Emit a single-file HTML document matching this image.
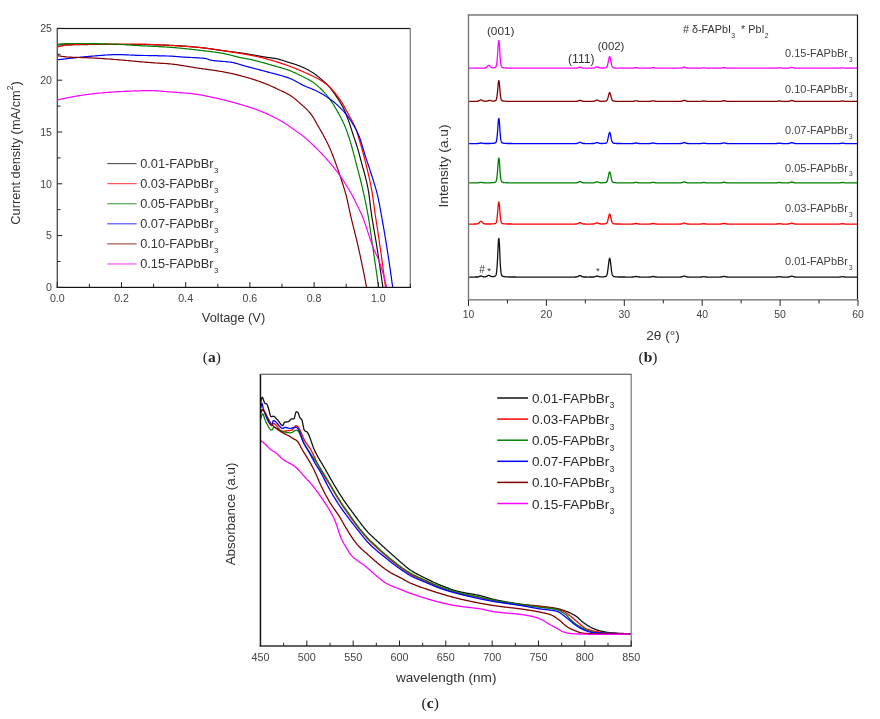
<!DOCTYPE html><html><head><meta charset="utf-8"><style>html,body{margin:0;padding:0;background:#fff;}svg{display:block;will-change:transform;filter:blur(0.3px);}</style></head><body>
<svg width="880" height="719" viewBox="0 0 880 719">
<rect width="880" height="719" fill="#fff"/>
<polyline points="57.5,45.0 58.0,45.0 58.5,45.0 59.0,45.0 59.5,45.0 60.0,45.0 60.5,44.9 61.0,44.9 61.5,44.9 62.0,44.9 62.5,44.9 63.0,44.9 63.5,44.9 64.0,44.9 64.5,44.9 65.0,44.9 65.5,44.9 66.0,44.8 66.5,44.8 67.0,44.8 67.5,44.8 68.0,44.8 68.5,44.8 69.0,44.8 69.5,44.8 70.0,44.8 70.5,44.8 71.0,44.8 71.5,44.8 72.0,44.8 72.5,44.7 73.0,44.7 73.5,44.7 74.0,44.7 74.5,44.7 75.0,44.7 75.5,44.7 76.0,44.7 76.5,44.7 77.0,44.7 77.5,44.7 78.0,44.7 78.5,44.7 79.0,44.7 79.5,44.6 80.0,44.6 80.5,44.6 81.0,44.6 81.5,44.6 82.0,44.6 82.5,44.6 83.0,44.6 83.5,44.6 84.0,44.6 84.5,44.6 85.0,44.6 85.5,44.6 86.0,44.6 86.5,44.6 87.0,44.6 87.5,44.6 88.0,44.6 88.5,44.5 89.0,44.5 89.5,44.5 90.0,44.5 90.5,44.5 91.0,44.5 91.5,44.5 92.0,44.5 92.5,44.5 93.0,44.5 93.5,44.5 94.0,44.5 94.5,44.5 95.0,44.5 95.5,44.5 96.0,44.5 96.5,44.5 97.0,44.5 97.5,44.5 98.0,44.5 98.5,44.5 99.0,44.5 99.5,44.5 100.0,44.5 100.5,44.5 101.0,44.5 101.5,44.5 102.0,44.5 102.5,44.5 103.0,44.5 103.5,44.5 104.0,44.5 104.5,44.5 105.0,44.5 105.5,44.5 106.0,44.5 106.5,44.5 107.0,44.5 107.5,44.5 108.0,44.5 108.5,44.5 109.0,44.5 109.5,44.5 110.0,44.5 110.5,44.5 111.0,44.5 111.5,44.5 112.0,44.5 112.5,44.5 113.0,44.5 113.5,44.5 114.0,44.5 114.5,44.5 115.0,44.5 115.5,44.5 116.0,44.5 116.5,44.5 117.0,44.5 117.5,44.5 118.0,44.5 118.5,44.5 119.0,44.5 119.5,44.5 120.0,44.5 120.5,44.5 121.0,44.5 121.5,44.5 122.0,44.5 122.5,44.5 123.0,44.5 123.5,44.5 124.0,44.5 124.5,44.5 125.0,44.5 125.5,44.5 126.0,44.5 126.5,44.5 127.0,44.5 127.5,44.5 128.0,44.5 128.5,44.5 129.0,44.5 129.5,44.5 130.0,44.5 130.5,44.5 131.0,44.5 131.5,44.5 132.0,44.5 132.5,44.5 133.0,44.5 133.5,44.5 134.0,44.5 134.5,44.5 135.0,44.5 135.5,44.5 136.0,44.5 136.5,44.5 137.0,44.5 137.5,44.5 138.0,44.5 138.5,44.5 139.0,44.5 139.5,44.5 140.0,44.5 140.5,44.5 141.0,44.5 141.5,44.5 142.0,44.5 142.5,44.5 143.0,44.5 143.5,44.5 144.0,44.5 144.5,44.6 145.0,44.6 145.5,44.6 146.0,44.6 146.5,44.6 147.0,44.6 147.5,44.6 148.0,44.6 148.5,44.6 149.0,44.6 149.5,44.6 150.0,44.7 150.5,44.7 151.0,44.7 151.5,44.7 152.0,44.7 152.5,44.7 153.0,44.7 153.5,44.7 154.0,44.8 154.5,44.8 155.0,44.8 155.5,44.8 156.0,44.8 156.5,44.8 157.0,44.9 157.5,44.9 158.0,44.9 158.5,44.9 159.0,44.9 159.5,44.9 160.0,44.9 160.5,45.0 161.0,45.0 161.5,45.0 162.0,45.0 162.5,45.0 163.0,45.0 163.5,45.1 164.0,45.1 164.5,45.1 165.0,45.1 165.5,45.1 166.0,45.2 166.5,45.2 167.0,45.2 167.5,45.2 168.0,45.2 168.5,45.2 169.0,45.3 169.5,45.3 170.0,45.3 170.5,45.3 171.0,45.3 171.5,45.4 172.0,45.4 172.5,45.4 173.0,45.4 173.5,45.4 174.0,45.5 174.5,45.5 175.0,45.5 175.5,45.5 176.0,45.6 176.5,45.6 177.0,45.6 177.5,45.7 178.0,45.7 178.5,45.7 179.0,45.7 179.5,45.8 180.0,45.8 180.5,45.8 181.0,45.9 181.5,45.9 182.0,45.9 182.5,46.0 183.0,46.0 183.5,46.1 184.0,46.1 184.5,46.1 185.0,46.2 185.5,46.2 186.0,46.2 186.5,46.3 187.0,46.3 187.5,46.4 188.0,46.4 188.5,46.4 189.0,46.5 189.5,46.5 190.0,46.6 190.5,46.6 191.0,46.6 191.5,46.7 192.0,46.7 192.5,46.8 193.0,46.8 193.5,46.9 194.0,46.9 194.5,46.9 195.0,47.0 195.5,47.0 196.0,47.1 196.5,47.1 197.0,47.2 197.5,47.2 198.0,47.3 198.5,47.3 199.0,47.4 199.5,47.4 200.0,47.5 200.5,47.5 201.0,47.6 201.5,47.6 202.0,47.7 202.5,47.7 203.0,47.8 203.5,47.9 204.0,47.9 204.5,48.0 205.0,48.0 205.5,48.1 206.0,48.2 206.5,48.2 207.0,48.3 207.5,48.4 208.0,48.4 208.5,48.5 209.0,48.6 209.5,48.6 210.0,48.7 210.5,48.8 211.0,48.9 211.5,48.9 212.0,49.0 212.5,49.1 213.0,49.1 213.5,49.2 214.0,49.3 214.5,49.4 215.0,49.4 215.5,49.5 216.0,49.6 216.5,49.7 217.0,49.7 217.5,49.8 218.0,49.9 218.5,49.9 219.0,50.0 219.5,50.1 220.0,50.2 220.5,50.2 221.0,50.3 221.5,50.4 222.0,50.4 222.5,50.5 223.0,50.6 223.5,50.7 224.0,50.7 224.5,50.8 225.0,50.9 225.5,50.9 226.0,51.0 226.5,51.1 227.0,51.1 227.5,51.2 228.0,51.3 228.5,51.3 229.0,51.4 229.5,51.5 230.0,51.5 230.5,51.6 231.0,51.7 231.5,51.7 232.0,51.8 232.5,51.8 233.0,51.9 233.5,52.0 234.0,52.0 234.5,52.1 235.0,52.2 235.5,52.2 236.0,52.3 236.5,52.4 237.0,52.5 237.5,52.5 238.0,52.6 238.5,52.7 239.0,52.7 239.5,52.8 240.0,52.9 240.5,52.9 241.0,53.0 241.5,53.1 242.0,53.2 242.5,53.2 243.0,53.3 243.5,53.4 244.0,53.4 244.5,53.5 245.0,53.6 245.5,53.7 246.0,53.8 246.5,53.8 247.0,53.9 247.5,54.0 248.0,54.1 248.5,54.2 249.0,54.2 249.5,54.3 250.0,54.4 250.5,54.5 251.0,54.6 251.5,54.7 252.0,54.8 252.5,54.8 253.0,54.9 253.5,55.0 254.0,55.1 254.5,55.2 255.0,55.3 255.5,55.4 256.0,55.5 256.5,55.6 257.0,55.7 257.5,55.7 258.0,55.8 258.5,55.9 259.0,56.0 259.5,56.1 260.0,56.2 260.5,56.3 261.0,56.4 261.5,56.4 262.0,56.5 262.5,56.6 263.0,56.7 263.5,56.8 264.0,56.9 264.5,56.9 265.0,57.0 265.5,57.1 266.0,57.2 266.5,57.3 267.0,57.3 267.5,57.4 268.0,57.5 268.5,57.5 269.0,57.6 269.5,57.7 270.0,57.7 270.5,57.8 271.0,57.9 271.5,57.9 272.0,58.0 272.5,58.1 273.0,58.1 273.5,58.2 274.0,58.3 274.5,58.4 275.0,58.4 275.5,58.5 276.0,58.6 276.5,58.7 277.0,58.8 277.5,58.9 278.0,59.0 278.5,59.2 279.0,59.3 279.5,59.4 280.0,59.6 280.5,59.7 281.0,59.9 281.5,60.0 282.0,60.2 282.5,60.3 283.0,60.5 283.5,60.7 284.0,60.8 284.5,61.0 285.0,61.2 285.5,61.3 286.0,61.5 286.5,61.7 287.0,61.8 287.5,62.0 288.0,62.2 288.5,62.3 289.0,62.5 289.5,62.6 290.0,62.8 290.5,63.0 291.0,63.1 291.5,63.2 292.0,63.4 292.5,63.5 293.0,63.7 293.5,63.8 294.0,64.0 294.5,64.1 295.0,64.3 295.5,64.5 296.0,64.6 296.5,64.8 297.0,65.0 297.5,65.2 298.0,65.4 298.5,65.5 299.0,65.7 299.5,65.9 300.0,66.1 300.5,66.3 301.0,66.5 301.5,66.7 302.0,66.9 302.5,67.2 303.0,67.4 303.5,67.6 304.0,67.8 304.5,68.1 305.0,68.3 305.5,68.5 306.0,68.8 306.5,69.0 307.0,69.3 307.5,69.6 308.0,69.8 308.5,70.1 309.0,70.4 309.5,70.7 310.0,71.0 310.5,71.2 311.0,71.5 311.5,71.9 312.0,72.2 312.5,72.5 313.0,72.8 313.5,73.1 314.0,73.5 314.5,73.8 315.0,74.2 315.5,74.5 316.0,74.9 316.5,75.3 317.0,75.7 317.5,76.1 318.0,76.5 318.5,76.9 319.0,77.3 319.5,77.7 320.0,78.2 320.5,78.6 321.0,79.0 321.5,79.4 322.0,79.9 322.5,80.3 323.0,80.7 323.5,81.2 324.0,81.6 324.5,82.0 325.0,82.5 325.5,83.0 326.0,83.4 326.5,83.9 327.0,84.4 327.5,84.9 328.0,85.4 328.5,86.0 329.0,86.5 329.5,87.1 330.0,87.7 330.5,88.3 331.0,88.9 331.5,89.6 332.0,90.2 332.5,90.9 333.0,91.6 333.5,92.3 334.0,93.0 334.5,93.7 335.0,94.4 335.5,95.2 336.0,95.9 336.5,96.7 337.0,97.4 337.5,98.2 338.0,98.9 338.5,99.7 339.0,100.4 339.5,101.2 340.0,102.0 340.5,102.9 341.0,103.7 341.5,104.6 342.0,105.4 342.5,106.4 343.0,107.3 343.5,108.3 344.0,109.3 344.5,110.4 345.0,111.5 345.5,112.7 346.0,114.0 346.5,115.2 347.0,116.6 347.5,117.9 348.0,119.3 348.5,120.6 349.0,122.0 349.5,123.4 350.0,124.9 350.5,126.5 351.0,128.0 351.5,129.6 352.0,131.2 352.5,132.8 353.0,134.4 353.5,135.9 354.0,137.4 354.5,138.9 355.0,140.3 355.5,141.8 356.0,143.3 356.5,144.8 357.0,146.4 357.5,148.0 358.0,149.7 358.5,151.4 359.0,153.2 359.5,155.1 360.0,157.0 360.5,158.9 361.0,160.8 361.5,162.7 362.0,164.5 362.5,166.4 363.0,168.1 363.5,169.9 364.0,171.7 364.5,173.5 365.0,175.3 365.5,177.3 366.0,179.3 366.5,181.4 367.0,183.6 367.5,186.0 368.0,188.5 368.5,191.3 369.0,194.7 369.5,198.5 370.0,202.6 370.5,206.7 371.0,210.6 371.5,214.3 372.0,217.6 372.5,220.8 373.0,223.9 373.5,226.8 374.0,229.7 374.5,232.6 375.0,235.5 375.5,238.4 376.0,241.4 376.5,244.4 377.0,247.6 377.5,250.8 378.0,254.0 378.5,257.3 379.0,260.6 379.5,263.9 380.0,267.3 380.5,270.7 381.0,274.1 381.5,277.5 382.0,281.0 382.5,284.6 382.9,287.4" fill="none" stroke="#111111" stroke-width="1.2" stroke-linejoin="round" />
<polyline points="57.5,46.9 58.0,46.8 58.5,46.7 59.0,46.5 59.5,46.4 60.0,46.3 60.5,46.2 61.0,46.1 61.5,45.9 62.0,45.8 62.5,45.7 63.0,45.6 63.5,45.5 64.0,45.4 64.5,45.3 65.0,45.2 65.5,45.1 66.0,45.1 66.5,45.0 67.0,44.9 67.5,44.9 68.0,44.8 68.5,44.8 69.0,44.8 69.5,44.8 70.0,44.7 70.5,44.7 71.0,44.7 71.5,44.7 72.0,44.6 72.5,44.6 73.0,44.6 73.5,44.6 74.0,44.6 74.5,44.5 75.0,44.5 75.5,44.5 76.0,44.5 76.5,44.5 77.0,44.4 77.5,44.4 78.0,44.4 78.5,44.4 79.0,44.4 79.5,44.4 80.0,44.3 80.5,44.3 81.0,44.3 81.5,44.3 82.0,44.3 82.5,44.3 83.0,44.3 83.5,44.2 84.0,44.2 84.5,44.2 85.0,44.2 85.5,44.2 86.0,44.2 86.5,44.2 87.0,44.2 87.5,44.2 88.0,44.2 88.5,44.2 89.0,44.1 89.5,44.1 90.0,44.1 90.5,44.1 91.0,44.1 91.5,44.1 92.0,44.1 92.5,44.1 93.0,44.1 93.5,44.1 94.0,44.1 94.5,44.1 95.0,44.1 95.5,44.1 96.0,44.1 96.5,44.1 97.0,44.1 97.5,44.1 98.0,44.1 98.5,44.1 99.0,44.1 99.5,44.1 100.0,44.1 100.5,44.1 101.0,44.1 101.5,44.1 102.0,44.1 102.5,44.1 103.0,44.1 103.5,44.1 104.0,44.1 104.5,44.1 105.0,44.1 105.5,44.1 106.0,44.1 106.5,44.1 107.0,44.1 107.5,44.1 108.0,44.1 108.5,44.1 109.0,44.1 109.5,44.1 110.0,44.1 110.5,44.1 111.0,44.1 111.5,44.1 112.0,44.1 112.5,44.1 113.0,44.1 113.5,44.1 114.0,44.1 114.5,44.1 115.0,44.1 115.5,44.1 116.0,44.1 116.5,44.1 117.0,44.1 117.5,44.1 118.0,44.1 118.5,44.1 119.0,44.1 119.5,44.1 120.0,44.1 120.5,44.1 121.0,44.1 121.5,44.1 122.0,44.1 122.5,44.1 123.0,44.1 123.5,44.1 124.0,44.1 124.5,44.1 125.0,44.1 125.5,44.1 126.0,44.1 126.5,44.1 127.0,44.1 127.5,44.1 128.0,44.1 128.5,44.1 129.0,44.1 129.5,44.1 130.0,44.1 130.5,44.1 131.0,44.1 131.5,44.1 132.0,44.1 132.5,44.1 133.0,44.1 133.5,44.1 134.0,44.1 134.5,44.1 135.0,44.1 135.5,44.1 136.0,44.1 136.5,44.1 137.0,44.1 137.5,44.1 138.0,44.1 138.5,44.1 139.0,44.1 139.5,44.1 140.0,44.1 140.5,44.1 141.0,44.1 141.5,44.1 142.0,44.2 142.5,44.2 143.0,44.2 143.5,44.2 144.0,44.2 144.5,44.2 145.0,44.2 145.5,44.2 146.0,44.3 146.5,44.3 147.0,44.3 147.5,44.3 148.0,44.3 148.5,44.4 149.0,44.4 149.5,44.4 150.0,44.4 150.5,44.4 151.0,44.5 151.5,44.5 152.0,44.5 152.5,44.5 153.0,44.6 153.5,44.6 154.0,44.6 154.5,44.6 155.0,44.7 155.5,44.7 156.0,44.7 156.5,44.7 157.0,44.8 157.5,44.8 158.0,44.8 158.5,44.9 159.0,44.9 159.5,44.9 160.0,44.9 160.5,45.0 161.0,45.0 161.5,45.0 162.0,45.1 162.5,45.1 163.0,45.1 163.5,45.1 164.0,45.2 164.5,45.2 165.0,45.2 165.5,45.3 166.0,45.3 166.5,45.3 167.0,45.3 167.5,45.4 168.0,45.4 168.5,45.4 169.0,45.4 169.5,45.5 170.0,45.5 170.5,45.5 171.0,45.6 171.5,45.6 172.0,45.6 172.5,45.6 173.0,45.7 173.5,45.7 174.0,45.7 174.5,45.7 175.0,45.8 175.5,45.8 176.0,45.8 176.5,45.8 177.0,45.9 177.5,45.9 178.0,45.9 178.5,46.0 179.0,46.0 179.5,46.0 180.0,46.1 180.5,46.1 181.0,46.1 181.5,46.1 182.0,46.2 182.5,46.2 183.0,46.2 183.5,46.3 184.0,46.3 184.5,46.3 185.0,46.4 185.5,46.4 186.0,46.4 186.5,46.5 187.0,46.5 187.5,46.5 188.0,46.6 188.5,46.6 189.0,46.6 189.5,46.7 190.0,46.7 190.5,46.7 191.0,46.8 191.5,46.8 192.0,46.9 192.5,46.9 193.0,46.9 193.5,47.0 194.0,47.0 194.5,47.1 195.0,47.1 195.5,47.1 196.0,47.2 196.5,47.2 197.0,47.3 197.5,47.3 198.0,47.4 198.5,47.4 199.0,47.5 199.5,47.5 200.0,47.6 200.5,47.6 201.0,47.7 201.5,47.7 202.0,47.8 202.5,47.8 203.0,47.9 203.5,48.0 204.0,48.0 204.5,48.1 205.0,48.1 205.5,48.2 206.0,48.3 206.5,48.3 207.0,48.4 207.5,48.5 208.0,48.5 208.5,48.6 209.0,48.7 209.5,48.7 210.0,48.8 210.5,48.9 211.0,49.0 211.5,49.0 212.0,49.1 212.5,49.2 213.0,49.2 213.5,49.3 214.0,49.4 214.5,49.5 215.0,49.5 215.5,49.6 216.0,49.7 216.5,49.8 217.0,49.8 217.5,49.9 218.0,50.0 218.5,50.1 219.0,50.2 219.5,50.2 220.0,50.3 220.5,50.4 221.0,50.5 221.5,50.5 222.0,50.6 222.5,50.7 223.0,50.8 223.5,50.8 224.0,50.9 224.5,51.0 225.0,51.1 225.5,51.1 226.0,51.2 226.5,51.3 227.0,51.4 227.5,51.4 228.0,51.5 228.5,51.6 229.0,51.7 229.5,51.7 230.0,51.8 230.5,51.9 231.0,52.0 231.5,52.0 232.0,52.1 232.5,52.2 233.0,52.3 233.5,52.3 234.0,52.4 234.5,52.5 235.0,52.6 235.5,52.6 236.0,52.7 236.5,52.8 237.0,52.9 237.5,53.0 238.0,53.0 238.5,53.1 239.0,53.2 239.5,53.3 240.0,53.4 240.5,53.4 241.0,53.5 241.5,53.6 242.0,53.7 242.5,53.8 243.0,53.9 243.5,53.9 244.0,54.0 244.5,54.1 245.0,54.2 245.5,54.3 246.0,54.4 246.5,54.5 247.0,54.6 247.5,54.7 248.0,54.8 248.5,54.8 249.0,54.9 249.5,55.0 250.0,55.1 250.5,55.2 251.0,55.3 251.5,55.4 252.0,55.5 252.5,55.6 253.0,55.7 253.5,55.8 254.0,55.9 254.5,56.0 255.0,56.1 255.5,56.2 256.0,56.4 256.5,56.5 257.0,56.6 257.5,56.7 258.0,56.8 258.5,56.9 259.0,57.0 259.5,57.2 260.0,57.3 260.5,57.4 261.0,57.5 261.5,57.6 262.0,57.8 262.5,57.9 263.0,58.0 263.5,58.1 264.0,58.3 264.5,58.4 265.0,58.5 265.5,58.6 266.0,58.8 266.5,58.9 267.0,59.0 267.5,59.2 268.0,59.3 268.5,59.4 269.0,59.6 269.5,59.7 270.0,59.9 270.5,60.0 271.0,60.1 271.5,60.3 272.0,60.4 272.5,60.6 273.0,60.7 273.5,60.8 274.0,61.0 274.5,61.1 275.0,61.3 275.5,61.4 276.0,61.6 276.5,61.8 277.0,61.9 277.5,62.1 278.0,62.2 278.5,62.4 279.0,62.6 279.5,62.7 280.0,62.9 280.5,63.1 281.0,63.2 281.5,63.4 282.0,63.6 282.5,63.7 283.0,63.9 283.5,64.1 284.0,64.2 284.5,64.4 285.0,64.6 285.5,64.8 286.0,65.0 286.5,65.1 287.0,65.3 287.5,65.5 288.0,65.7 288.5,65.9 289.0,66.0 289.5,66.2 290.0,66.4 290.5,66.6 291.0,66.8 291.5,67.0 292.0,67.1 292.5,67.3 293.0,67.5 293.5,67.7 294.0,67.9 294.5,68.1 295.0,68.3 295.5,68.5 296.0,68.7 296.5,68.9 297.0,69.1 297.5,69.3 298.0,69.6 298.5,69.8 299.0,70.0 299.5,70.2 300.0,70.4 300.5,70.6 301.0,70.8 301.5,71.0 302.0,71.2 302.5,71.4 303.0,71.7 303.5,71.9 304.0,72.1 304.5,72.3 305.0,72.5 305.5,72.8 306.0,73.0 306.5,73.2 307.0,73.4 307.5,73.6 308.0,73.9 308.5,74.1 309.0,74.3 309.5,74.6 310.0,74.8 310.5,75.0 311.0,75.3 311.5,75.5 312.0,75.8 312.5,76.0 313.0,76.2 313.5,76.5 314.0,76.7 314.5,77.0 315.0,77.2 315.5,77.5 316.0,77.7 316.5,78.0 317.0,78.2 317.5,78.5 318.0,78.8 318.5,79.0 319.0,79.3 319.5,79.6 320.0,79.9 320.5,80.2 321.0,80.5 321.5,80.8 322.0,81.1 322.5,81.5 323.0,81.8 323.5,82.1 324.0,82.5 324.5,82.8 325.0,83.2 325.5,83.6 326.0,83.9 326.5,84.3 327.0,84.7 327.5,85.2 328.0,85.6 328.5,86.0 329.0,86.5 329.5,86.9 330.0,87.4 330.5,87.9 331.0,88.4 331.5,89.0 332.0,89.5 332.5,90.0 333.0,90.6 333.5,91.2 334.0,91.8 334.5,92.4 335.0,93.0 335.5,93.6 336.0,94.2 336.5,94.9 337.0,95.5 337.5,96.2 338.0,96.9 338.5,97.6 339.0,98.3 339.5,99.0 340.0,99.7 340.5,100.4 341.0,101.2 341.5,102.0 342.0,102.8 342.5,103.6 343.0,104.4 343.5,105.3 344.0,106.1 344.5,107.0 345.0,107.9 345.5,108.8 346.0,109.7 346.5,110.7 347.0,111.6 347.5,112.5 348.0,113.4 348.5,114.4 349.0,115.3 349.5,116.2 350.0,117.2 350.5,118.1 351.0,119.0 351.5,119.9 352.0,120.8 352.5,121.8 353.0,122.7 353.5,123.7 354.0,124.8 354.5,125.8 355.0,127.0 355.5,128.1 356.0,129.4 356.5,130.7 357.0,132.2 357.5,133.7 358.0,135.3 358.5,137.0 359.0,138.7 359.5,140.3 360.0,142.0 360.5,143.7 361.0,145.5 361.5,147.2 362.0,149.0 362.5,150.8 363.0,152.6 363.5,154.5 364.0,156.4 364.5,158.3 365.0,160.3 365.5,162.3 366.0,164.3 366.5,166.3 367.0,168.3 367.5,170.4 368.0,172.5 368.5,174.6 369.0,176.8 369.5,179.1 370.0,181.4 370.5,183.8 371.0,186.4 371.5,189.1 372.0,191.9 372.5,195.1 373.0,198.5 373.5,202.1 374.0,205.7 374.5,209.4 375.0,212.9 375.5,216.3 376.0,219.7 376.5,223.0 377.0,226.2 377.5,229.5 378.0,232.8 378.5,236.1 379.0,239.4 379.5,242.8 380.0,246.3 380.5,249.8 381.0,253.4 381.5,257.0 382.0,260.7 382.5,264.4 383.0,268.1 383.5,271.9 384.0,275.7 384.5,279.6 385.0,283.5 385.5,287.4" fill="none" stroke="#ff0000" stroke-width="1.2" stroke-linejoin="round" />
<polyline points="57.5,44.1 58.0,44.1 58.5,44.1 59.0,44.0 59.5,44.0 60.0,44.0 60.5,44.0 61.0,43.9 61.5,43.9 62.0,43.9 62.5,43.9 63.0,43.8 63.5,43.8 64.0,43.8 64.5,43.8 65.0,43.7 65.5,43.7 66.0,43.7 66.5,43.7 67.0,43.7 67.5,43.7 68.0,43.6 68.5,43.6 69.0,43.6 69.5,43.6 70.0,43.6 70.5,43.6 71.0,43.6 71.5,43.5 72.0,43.5 72.5,43.5 73.0,43.5 73.5,43.5 74.0,43.5 74.5,43.5 75.0,43.5 75.5,43.5 76.0,43.5 76.5,43.5 77.0,43.5 77.5,43.5 78.0,43.5 78.5,43.5 79.0,43.5 79.5,43.5 80.0,43.5 80.5,43.5 81.0,43.5 81.5,43.5 82.0,43.5 82.5,43.5 83.0,43.5 83.5,43.5 84.0,43.5 84.5,43.5 85.0,43.5 85.5,43.6 86.0,43.6 86.5,43.6 87.0,43.6 87.5,43.6 88.0,43.6 88.5,43.6 89.0,43.6 89.5,43.6 90.0,43.6 90.5,43.6 91.0,43.6 91.5,43.6 92.0,43.6 92.5,43.6 93.0,43.6 93.5,43.7 94.0,43.7 94.5,43.7 95.0,43.7 95.5,43.7 96.0,43.7 96.5,43.7 97.0,43.7 97.5,43.7 98.0,43.7 98.5,43.7 99.0,43.8 99.5,43.8 100.0,43.8 100.5,43.8 101.0,43.8 101.5,43.8 102.0,43.8 102.5,43.8 103.0,43.8 103.5,43.9 104.0,43.9 104.5,43.9 105.0,43.9 105.5,43.9 106.0,43.9 106.5,43.9 107.0,43.9 107.5,43.9 108.0,44.0 108.5,44.0 109.0,44.0 109.5,44.0 110.0,44.0 110.5,44.0 111.0,44.0 111.5,44.0 112.0,44.1 112.5,44.1 113.0,44.1 113.5,44.1 114.0,44.1 114.5,44.1 115.0,44.1 115.5,44.2 116.0,44.2 116.5,44.2 117.0,44.2 117.5,44.2 118.0,44.3 118.5,44.3 119.0,44.3 119.5,44.3 120.0,44.4 120.5,44.4 121.0,44.4 121.5,44.5 122.0,44.5 122.5,44.5 123.0,44.6 123.5,44.6 124.0,44.6 124.5,44.7 125.0,44.7 125.5,44.7 126.0,44.8 126.5,44.8 127.0,44.8 127.5,44.9 128.0,44.9 128.5,44.9 129.0,45.0 129.5,45.0 130.0,45.0 130.5,45.1 131.0,45.1 131.5,45.2 132.0,45.2 132.5,45.2 133.0,45.3 133.5,45.3 134.0,45.3 134.5,45.4 135.0,45.4 135.5,45.4 136.0,45.4 136.5,45.5 137.0,45.5 137.5,45.5 138.0,45.6 138.5,45.6 139.0,45.6 139.5,45.6 140.0,45.7 140.5,45.7 141.0,45.7 141.5,45.8 142.0,45.8 142.5,45.8 143.0,45.8 143.5,45.9 144.0,45.9 144.5,45.9 145.0,45.9 145.5,46.0 146.0,46.0 146.5,46.0 147.0,46.0 147.5,46.1 148.0,46.1 148.5,46.1 149.0,46.1 149.5,46.2 150.0,46.2 150.5,46.2 151.0,46.2 151.5,46.2 152.0,46.3 152.5,46.3 153.0,46.3 153.5,46.3 154.0,46.4 154.5,46.4 155.0,46.4 155.5,46.4 156.0,46.5 156.5,46.5 157.0,46.5 157.5,46.5 158.0,46.6 158.5,46.6 159.0,46.6 159.5,46.7 160.0,46.7 160.5,46.7 161.0,46.7 161.5,46.8 162.0,46.8 162.5,46.8 163.0,46.9 163.5,46.9 164.0,46.9 164.5,46.9 165.0,47.0 165.5,47.0 166.0,47.0 166.5,47.1 167.0,47.1 167.5,47.1 168.0,47.2 168.5,47.2 169.0,47.2 169.5,47.3 170.0,47.3 170.5,47.3 171.0,47.4 171.5,47.4 172.0,47.4 172.5,47.5 173.0,47.5 173.5,47.6 174.0,47.6 174.5,47.6 175.0,47.7 175.5,47.7 176.0,47.8 176.5,47.8 177.0,47.9 177.5,47.9 178.0,48.0 178.5,48.0 179.0,48.0 179.5,48.1 180.0,48.1 180.5,48.2 181.0,48.2 181.5,48.3 182.0,48.3 182.5,48.4 183.0,48.4 183.5,48.5 184.0,48.5 184.5,48.6 185.0,48.6 185.5,48.7 186.0,48.7 186.5,48.8 187.0,48.9 187.5,48.9 188.0,49.0 188.5,49.0 189.0,49.1 189.5,49.1 190.0,49.2 190.5,49.2 191.0,49.3 191.5,49.3 192.0,49.4 192.5,49.5 193.0,49.5 193.5,49.6 194.0,49.6 194.5,49.7 195.0,49.7 195.5,49.8 196.0,49.9 196.5,49.9 197.0,50.0 197.5,50.0 198.0,50.1 198.5,50.1 199.0,50.2 199.5,50.3 200.0,50.3 200.5,50.4 201.0,50.4 201.5,50.5 202.0,50.5 202.5,50.6 203.0,50.7 203.5,50.7 204.0,50.8 204.5,50.8 205.0,50.9 205.5,50.9 206.0,51.0 206.5,51.1 207.0,51.1 207.5,51.2 208.0,51.2 208.5,51.3 209.0,51.4 209.5,51.4 210.0,51.5 210.5,51.6 211.0,51.6 211.5,51.7 212.0,51.8 212.5,51.8 213.0,51.9 213.5,52.0 214.0,52.0 214.5,52.1 215.0,52.2 215.5,52.2 216.0,52.3 216.5,52.4 217.0,52.5 217.5,52.5 218.0,52.6 218.5,52.7 219.0,52.8 219.5,52.8 220.0,52.9 220.5,53.0 221.0,53.1 221.5,53.2 222.0,53.2 222.5,53.3 223.0,53.4 223.5,53.5 224.0,53.6 224.5,53.7 225.0,53.8 225.5,53.9 226.0,54.0 226.5,54.1 227.0,54.2 227.5,54.3 228.0,54.4 228.5,54.6 229.0,54.7 229.5,54.8 230.0,55.0 230.5,55.1 231.0,55.2 231.5,55.4 232.0,55.5 232.5,55.6 233.0,55.8 233.5,55.9 234.0,56.0 234.5,56.2 235.0,56.3 235.5,56.4 236.0,56.6 236.5,56.7 237.0,56.8 237.5,56.9 238.0,57.1 238.5,57.2 239.0,57.3 239.5,57.4 240.0,57.5 240.5,57.6 241.0,57.7 241.5,57.8 242.0,57.9 242.5,58.0 243.0,58.1 243.5,58.2 244.0,58.2 244.5,58.3 245.0,58.4 245.5,58.5 246.0,58.6 246.5,58.7 247.0,58.8 247.5,58.9 248.0,59.0 248.5,59.1 249.0,59.2 249.5,59.3 250.0,59.4 250.5,59.5 251.0,59.6 251.5,59.7 252.0,59.8 252.5,59.9 253.0,60.1 253.5,60.2 254.0,60.3 254.5,60.4 255.0,60.5 255.5,60.7 256.0,60.8 256.5,60.9 257.0,61.0 257.5,61.2 258.0,61.3 258.5,61.4 259.0,61.6 259.5,61.7 260.0,61.8 260.5,62.0 261.0,62.1 261.5,62.2 262.0,62.4 262.5,62.5 263.0,62.6 263.5,62.8 264.0,62.9 264.5,63.1 265.0,63.2 265.5,63.3 266.0,63.5 266.5,63.6 267.0,63.8 267.5,63.9 268.0,64.1 268.5,64.2 269.0,64.4 269.5,64.5 270.0,64.6 270.5,64.8 271.0,64.9 271.5,65.1 272.0,65.2 272.5,65.4 273.0,65.5 273.5,65.6 274.0,65.8 274.5,65.9 275.0,66.1 275.5,66.2 276.0,66.3 276.5,66.5 277.0,66.6 277.5,66.8 278.0,66.9 278.5,67.0 279.0,67.2 279.5,67.3 280.0,67.5 280.5,67.6 281.0,67.8 281.5,67.9 282.0,68.1 282.5,68.2 283.0,68.4 283.5,68.5 284.0,68.7 284.5,68.8 285.0,69.0 285.5,69.1 286.0,69.3 286.5,69.5 287.0,69.6 287.5,69.8 288.0,70.0 288.5,70.2 289.0,70.3 289.5,70.5 290.0,70.7 290.5,70.9 291.0,71.1 291.5,71.3 292.0,71.5 292.5,71.7 293.0,71.9 293.5,72.2 294.0,72.4 294.5,72.6 295.0,72.9 295.5,73.1 296.0,73.3 296.5,73.6 297.0,73.8 297.5,74.1 298.0,74.3 298.5,74.6 299.0,74.8 299.5,75.0 300.0,75.3 300.5,75.5 301.0,75.8 301.5,76.0 302.0,76.3 302.5,76.5 303.0,76.7 303.5,77.0 304.0,77.2 304.5,77.5 305.0,77.7 305.5,78.0 306.0,78.2 306.5,78.5 307.0,78.8 307.5,79.0 308.0,79.3 308.5,79.6 309.0,79.9 309.5,80.1 310.0,80.4 310.5,80.7 311.0,81.0 311.5,81.3 312.0,81.7 312.5,82.0 313.0,82.3 313.5,82.6 314.0,83.0 314.5,83.3 315.0,83.7 315.5,84.1 316.0,84.5 316.5,84.9 317.0,85.3 317.5,85.8 318.0,86.2 318.5,86.6 319.0,87.1 319.5,87.6 320.0,88.0 320.5,88.5 321.0,89.0 321.5,89.5 322.0,90.0 322.5,90.5 323.0,91.0 323.5,91.5 324.0,92.1 324.5,92.6 325.0,93.2 325.5,93.8 326.0,94.3 326.5,94.9 327.0,95.5 327.5,96.2 328.0,96.8 328.5,97.4 329.0,98.1 329.5,98.8 330.0,99.5 330.5,100.2 331.0,100.9 331.5,101.7 332.0,102.4 332.5,103.2 333.0,104.0 333.5,104.8 334.0,105.6 334.5,106.4 335.0,107.2 335.5,108.1 336.0,108.9 336.5,109.8 337.0,110.7 337.5,111.6 338.0,112.4 338.5,113.3 339.0,114.2 339.5,115.1 340.0,116.1 340.5,117.0 341.0,117.9 341.5,118.9 342.0,119.9 342.5,120.9 343.0,121.9 343.5,123.0 344.0,124.1 344.5,125.2 345.0,126.4 345.5,127.6 346.0,128.9 346.5,130.2 347.0,131.6 347.5,133.0 348.0,134.5 348.5,136.0 349.0,137.5 349.5,139.1 350.0,140.6 350.5,142.3 351.0,144.0 351.5,145.7 352.0,147.5 352.5,149.4 353.0,151.2 353.5,153.1 354.0,155.0 354.5,156.9 355.0,158.9 355.5,160.8 356.0,162.7 356.5,164.6 357.0,166.5 357.5,168.4 358.0,170.3 358.5,172.2 359.0,174.1 359.5,176.0 360.0,178.0 360.5,180.0 361.0,182.0 361.5,184.1 362.0,186.1 362.5,188.3 363.0,190.5 363.5,192.7 364.0,194.9 364.5,197.2 365.0,199.6 365.5,202.0 366.0,204.4 366.5,206.9 367.0,209.5 367.5,212.2 368.0,215.0 368.5,217.9 369.0,221.0 369.5,224.2 370.0,227.6 370.5,231.0 371.0,234.5 371.5,238.0 372.0,241.5 372.5,244.9 373.0,248.3 373.5,251.8 374.0,255.2 374.5,258.6 375.0,262.1 375.5,265.6 376.0,269.0 376.5,272.5 377.0,276.1 377.5,279.6 378.0,283.1 378.5,286.7 378.6,287.4" fill="none" stroke="#008000" stroke-width="1.2" stroke-linejoin="round" />
<polyline points="57.5,59.8 58.0,59.7 58.5,59.7 59.0,59.6 59.5,59.6 60.0,59.5 60.5,59.4 61.0,59.4 61.5,59.3 62.0,59.3 62.5,59.2 63.0,59.1 63.5,59.1 64.0,59.0 64.5,59.0 65.0,58.9 65.5,58.8 66.0,58.8 66.5,58.7 67.0,58.7 67.5,58.6 68.0,58.6 68.5,58.5 69.0,58.5 69.5,58.4 70.0,58.3 70.5,58.3 71.0,58.2 71.5,58.2 72.0,58.1 72.5,58.1 73.0,58.0 73.5,58.0 74.0,57.9 74.5,57.8 75.0,57.8 75.5,57.7 76.0,57.7 76.5,57.6 77.0,57.6 77.5,57.5 78.0,57.5 78.5,57.4 79.0,57.4 79.5,57.3 80.0,57.2 80.5,57.2 81.0,57.1 81.5,57.1 82.0,57.0 82.5,57.0 83.0,56.9 83.5,56.9 84.0,56.8 84.5,56.8 85.0,56.8 85.5,56.7 86.0,56.7 86.5,56.6 87.0,56.6 87.5,56.5 88.0,56.5 88.5,56.4 89.0,56.4 89.5,56.4 90.0,56.3 90.5,56.3 91.0,56.2 91.5,56.2 92.0,56.2 92.5,56.1 93.0,56.1 93.5,56.0 94.0,56.0 94.5,56.0 95.0,55.9 95.5,55.9 96.0,55.8 96.5,55.8 97.0,55.7 97.5,55.7 98.0,55.7 98.5,55.6 99.0,55.6 99.5,55.5 100.0,55.5 100.5,55.4 101.0,55.4 101.5,55.4 102.0,55.3 102.5,55.3 103.0,55.3 103.5,55.2 104.0,55.2 104.5,55.1 105.0,55.1 105.5,55.1 106.0,55.0 106.5,55.0 107.0,55.0 107.5,54.9 108.0,54.9 108.5,54.9 109.0,54.9 109.5,54.8 110.0,54.8 110.5,54.8 111.0,54.8 111.5,54.7 112.0,54.7 112.5,54.7 113.0,54.7 113.5,54.7 114.0,54.7 114.5,54.6 115.0,54.6 115.5,54.6 116.0,54.6 116.5,54.6 117.0,54.6 117.5,54.6 118.0,54.6 118.5,54.6 119.0,54.6 119.5,54.6 120.0,54.6 120.5,54.6 121.0,54.6 121.5,54.7 122.0,54.7 122.5,54.7 123.0,54.7 123.5,54.7 124.0,54.7 124.5,54.8 125.0,54.8 125.5,54.8 126.0,54.8 126.5,54.8 127.0,54.9 127.5,54.9 128.0,54.9 128.5,54.9 129.0,55.0 129.5,55.0 130.0,55.0 130.5,55.0 131.0,55.1 131.5,55.1 132.0,55.1 132.5,55.1 133.0,55.2 133.5,55.2 134.0,55.2 134.5,55.2 135.0,55.2 135.5,55.3 136.0,55.3 136.5,55.3 137.0,55.3 137.5,55.3 138.0,55.3 138.5,55.3 139.0,55.4 139.5,55.4 140.0,55.4 140.5,55.4 141.0,55.4 141.5,55.4 142.0,55.4 142.5,55.4 143.0,55.5 143.5,55.5 144.0,55.5 144.5,55.5 145.0,55.5 145.5,55.5 146.0,55.5 146.5,55.5 147.0,55.5 147.5,55.5 148.0,55.6 148.5,55.6 149.0,55.6 149.5,55.6 150.0,55.6 150.5,55.6 151.0,55.6 151.5,55.6 152.0,55.6 152.5,55.6 153.0,55.7 153.5,55.7 154.0,55.7 154.5,55.7 155.0,55.7 155.5,55.7 156.0,55.7 156.5,55.7 157.0,55.7 157.5,55.7 158.0,55.8 158.5,55.8 159.0,55.8 159.5,55.8 160.0,55.8 160.5,55.8 161.0,55.8 161.5,55.8 162.0,55.8 162.5,55.9 163.0,55.9 163.5,55.9 164.0,55.9 164.5,55.9 165.0,55.9 165.5,55.9 166.0,56.0 166.5,56.0 167.0,56.0 167.5,56.0 168.0,56.0 168.5,56.0 169.0,56.1 169.5,56.1 170.0,56.1 170.5,56.1 171.0,56.1 171.5,56.2 172.0,56.2 172.5,56.2 173.0,56.3 173.5,56.3 174.0,56.3 174.5,56.4 175.0,56.4 175.5,56.4 176.0,56.5 176.5,56.5 177.0,56.6 177.5,56.6 178.0,56.7 178.5,56.7 179.0,56.7 179.5,56.8 180.0,56.8 180.5,56.9 181.0,56.9 181.5,56.9 182.0,57.0 182.5,57.0 183.0,57.1 183.5,57.1 184.0,57.1 184.5,57.2 185.0,57.2 185.5,57.2 186.0,57.2 186.5,57.3 187.0,57.3 187.5,57.3 188.0,57.4 188.5,57.4 189.0,57.4 189.5,57.4 190.0,57.4 190.5,57.5 191.0,57.5 191.5,57.5 192.0,57.5 192.5,57.6 193.0,57.6 193.5,57.6 194.0,57.6 194.5,57.7 195.0,57.7 195.5,57.7 196.0,57.7 196.5,57.8 197.0,57.8 197.5,57.8 198.0,57.8 198.5,57.9 199.0,57.9 199.5,57.9 200.0,58.0 200.5,58.0 201.0,58.0 201.5,58.1 202.0,58.1 202.5,58.2 203.0,58.2 203.5,58.3 204.0,58.3 204.5,58.4 205.0,58.4 205.5,58.5 206.0,58.6 206.5,58.7 207.0,58.9 207.5,59.0 208.0,59.2 208.5,59.4 209.0,59.6 209.5,59.8 210.0,60.0 210.5,60.1 211.0,60.2 211.5,60.3 212.0,60.4 212.5,60.5 213.0,60.5 213.5,60.6 214.0,60.7 214.5,60.7 215.0,60.8 215.5,60.8 216.0,60.9 216.5,60.9 217.0,61.0 217.5,61.0 218.0,61.1 218.5,61.1 219.0,61.1 219.5,61.2 220.0,61.2 220.5,61.2 221.0,61.3 221.5,61.3 222.0,61.4 222.5,61.4 223.0,61.4 223.5,61.5 224.0,61.5 224.5,61.5 225.0,61.6 225.5,61.6 226.0,61.7 226.5,61.7 227.0,61.8 227.5,61.8 228.0,61.9 228.5,61.9 229.0,62.0 229.5,62.0 230.0,62.1 230.5,62.2 231.0,62.2 231.5,62.3 232.0,62.4 232.5,62.5 233.0,62.6 233.5,62.7 234.0,62.8 234.5,62.9 235.0,63.1 235.5,63.2 236.0,63.3 236.5,63.5 237.0,63.6 237.5,63.7 238.0,63.9 238.5,64.0 239.0,64.2 239.5,64.4 240.0,64.5 240.5,64.7 241.0,64.8 241.5,65.0 242.0,65.1 242.5,65.3 243.0,65.4 243.5,65.6 244.0,65.7 244.5,65.9 245.0,66.0 245.5,66.1 246.0,66.3 246.5,66.4 247.0,66.5 247.5,66.7 248.0,66.8 248.5,66.9 249.0,67.1 249.5,67.2 250.0,67.3 250.5,67.4 251.0,67.6 251.5,67.7 252.0,67.8 252.5,68.0 253.0,68.1 253.5,68.2 254.0,68.4 254.5,68.5 255.0,68.6 255.5,68.7 256.0,68.9 256.5,69.0 257.0,69.1 257.5,69.3 258.0,69.4 258.5,69.5 259.0,69.7 259.5,69.8 260.0,69.9 260.5,70.1 261.0,70.2 261.5,70.3 262.0,70.5 262.5,70.6 263.0,70.7 263.5,70.9 264.0,71.0 264.5,71.1 265.0,71.3 265.5,71.4 266.0,71.5 266.5,71.7 267.0,71.8 267.5,71.9 268.0,72.1 268.5,72.2 269.0,72.3 269.5,72.5 270.0,72.6 270.5,72.7 271.0,72.9 271.5,73.0 272.0,73.1 272.5,73.3 273.0,73.4 273.5,73.5 274.0,73.6 274.5,73.8 275.0,73.9 275.5,74.0 276.0,74.2 276.5,74.3 277.0,74.4 277.5,74.6 278.0,74.7 278.5,74.8 279.0,75.0 279.5,75.1 280.0,75.3 280.5,75.4 281.0,75.5 281.5,75.7 282.0,75.8 282.5,76.0 283.0,76.1 283.5,76.3 284.0,76.4 284.5,76.6 285.0,76.8 285.5,76.9 286.0,77.1 286.5,77.2 287.0,77.4 287.5,77.6 288.0,77.8 288.5,77.9 289.0,78.1 289.5,78.3 290.0,78.5 290.5,78.7 291.0,78.9 291.5,79.1 292.0,79.3 292.5,79.6 293.0,79.8 293.5,80.1 294.0,80.3 294.5,80.6 295.0,80.8 295.5,81.1 296.0,81.4 296.5,81.7 297.0,81.9 297.5,82.2 298.0,82.5 298.5,82.8 299.0,83.0 299.5,83.3 300.0,83.6 300.5,83.9 301.0,84.1 301.5,84.4 302.0,84.7 302.5,84.9 303.0,85.2 303.5,85.4 304.0,85.7 304.5,85.9 305.0,86.1 305.5,86.3 306.0,86.5 306.5,86.7 307.0,87.0 307.5,87.2 308.0,87.4 308.5,87.6 309.0,87.8 309.5,88.0 310.0,88.1 310.5,88.3 311.0,88.5 311.5,88.7 312.0,88.9 312.5,89.2 313.0,89.4 313.5,89.6 314.0,89.8 314.5,90.0 315.0,90.2 315.5,90.5 316.0,90.7 316.5,90.9 317.0,91.2 317.5,91.5 318.0,91.7 318.5,92.0 319.0,92.2 319.5,92.5 320.0,92.8 320.5,93.1 321.0,93.3 321.5,93.6 322.0,93.9 322.5,94.2 323.0,94.5 323.5,94.8 324.0,95.1 324.5,95.4 325.0,95.7 325.5,96.0 326.0,96.4 326.5,96.7 327.0,97.0 327.5,97.4 328.0,97.7 328.5,98.0 329.0,98.4 329.5,98.7 330.0,99.1 330.5,99.5 331.0,99.8 331.5,100.2 332.0,100.6 332.5,101.0 333.0,101.4 333.5,101.8 334.0,102.2 334.5,102.6 335.0,103.0 335.5,103.4 336.0,103.9 336.5,104.3 337.0,104.7 337.5,105.2 338.0,105.7 338.5,106.1 339.0,106.6 339.5,107.1 340.0,107.6 340.5,108.1 341.0,108.6 341.5,109.1 342.0,109.6 342.5,110.1 343.0,110.6 343.5,111.2 344.0,111.7 344.5,112.3 345.0,112.9 345.5,113.5 346.0,114.1 346.5,114.7 347.0,115.4 347.5,116.0 348.0,116.7 348.5,117.4 349.0,118.1 349.5,118.8 350.0,119.5 350.5,120.3 351.0,121.0 351.5,121.8 352.0,122.6 352.5,123.4 353.0,124.2 353.5,125.1 354.0,125.9 354.5,126.8 355.0,127.7 355.5,128.6 356.0,129.6 356.5,130.6 357.0,131.6 357.5,132.7 358.0,133.7 358.5,134.9 359.0,136.0 359.5,137.2 360.0,138.6 360.5,140.0 361.0,141.5 361.5,143.2 362.0,144.8 362.5,146.6 363.0,148.3 363.5,150.0 364.0,151.7 364.5,153.4 365.0,155.0 365.5,156.5 366.0,158.1 366.5,159.6 367.0,161.1 367.5,162.6 368.0,164.0 368.5,165.5 369.0,167.0 369.5,168.5 370.0,170.1 370.5,171.6 371.0,173.2 371.5,174.8 372.0,176.4 372.5,177.9 373.0,179.5 373.5,181.1 374.0,182.6 374.5,184.3 375.0,185.9 375.5,187.6 376.0,189.4 376.5,191.2 377.0,193.1 377.5,195.2 378.0,197.3 378.5,199.6 379.0,202.1 379.5,204.7 380.0,207.5 380.5,210.2 381.0,213.0 381.5,215.7 382.0,218.5 382.5,221.3 383.0,224.2 383.5,227.0 384.0,229.9 384.5,232.9 385.0,235.8 385.5,238.9 386.0,241.9 386.5,245.0 387.0,248.2 387.5,251.4 388.0,254.7 388.5,258.0 389.0,261.3 389.5,264.7 390.0,268.1 390.5,271.6 391.0,275.1 391.5,278.7 392.0,282.3 392.5,285.9 392.7,287.4" fill="none" stroke="#0000ff" stroke-width="1.2" stroke-linejoin="round" />
<polyline points="57.5,55.7 58.0,55.8 58.5,55.9 59.0,55.9 59.5,56.0 60.0,56.1 60.5,56.2 61.0,56.2 61.5,56.3 62.0,56.4 62.5,56.5 63.0,56.5 63.5,56.6 64.0,56.7 64.5,56.7 65.0,56.8 65.5,56.8 66.0,56.9 66.5,56.9 67.0,57.0 67.5,57.0 68.0,57.1 68.5,57.1 69.0,57.1 69.5,57.1 70.0,57.2 70.5,57.2 71.0,57.2 71.5,57.2 72.0,57.3 72.5,57.3 73.0,57.3 73.5,57.3 74.0,57.3 74.5,57.4 75.0,57.4 75.5,57.4 76.0,57.4 76.5,57.4 77.0,57.4 77.5,57.4 78.0,57.5 78.5,57.5 79.0,57.5 79.5,57.5 80.0,57.5 80.5,57.5 81.0,57.5 81.5,57.6 82.0,57.6 82.5,57.6 83.0,57.6 83.5,57.6 84.0,57.6 84.5,57.6 85.0,57.6 85.5,57.7 86.0,57.7 86.5,57.7 87.0,57.7 87.5,57.7 88.0,57.8 88.5,57.8 89.0,57.8 89.5,57.8 90.0,57.8 90.5,57.9 91.0,57.9 91.5,57.9 92.0,57.9 92.5,58.0 93.0,58.0 93.5,58.0 94.0,58.0 94.5,58.1 95.0,58.1 95.5,58.1 96.0,58.2 96.5,58.2 97.0,58.2 97.5,58.3 98.0,58.3 98.5,58.3 99.0,58.3 99.5,58.4 100.0,58.4 100.5,58.4 101.0,58.5 101.5,58.5 102.0,58.5 102.5,58.6 103.0,58.6 103.5,58.6 104.0,58.7 104.5,58.7 105.0,58.8 105.5,58.8 106.0,58.8 106.5,58.9 107.0,58.9 107.5,58.9 108.0,59.0 108.5,59.0 109.0,59.0 109.5,59.1 110.0,59.1 110.5,59.2 111.0,59.2 111.5,59.2 112.0,59.3 112.5,59.3 113.0,59.3 113.5,59.4 114.0,59.4 114.5,59.5 115.0,59.5 115.5,59.5 116.0,59.6 116.5,59.6 117.0,59.6 117.5,59.7 118.0,59.7 118.5,59.8 119.0,59.8 119.5,59.8 120.0,59.9 120.5,59.9 121.0,60.0 121.5,60.0 122.0,60.1 122.5,60.1 123.0,60.1 123.5,60.2 124.0,60.2 124.5,60.3 125.0,60.3 125.5,60.4 126.0,60.4 126.5,60.5 127.0,60.5 127.5,60.5 128.0,60.6 128.5,60.6 129.0,60.7 129.5,60.7 130.0,60.8 130.5,60.8 131.0,60.9 131.5,60.9 132.0,61.0 132.5,61.0 133.0,61.1 133.5,61.1 134.0,61.2 134.5,61.2 135.0,61.2 135.5,61.3 136.0,61.3 136.5,61.4 137.0,61.4 137.5,61.5 138.0,61.5 138.5,61.6 139.0,61.6 139.5,61.7 140.0,61.7 140.5,61.8 141.0,61.8 141.5,61.8 142.0,61.9 142.5,61.9 143.0,62.0 143.5,62.0 144.0,62.1 144.5,62.1 145.0,62.2 145.5,62.2 146.0,62.2 146.5,62.3 147.0,62.3 147.5,62.4 148.0,62.4 148.5,62.4 149.0,62.5 149.5,62.5 150.0,62.6 150.5,62.6 151.0,62.6 151.5,62.7 152.0,62.7 152.5,62.7 153.0,62.8 153.5,62.8 154.0,62.8 154.5,62.9 155.0,62.9 155.5,62.9 156.0,63.0 156.5,63.0 157.0,63.0 157.5,63.1 158.0,63.1 158.5,63.1 159.0,63.1 159.5,63.2 160.0,63.2 160.5,63.2 161.0,63.3 161.5,63.3 162.0,63.3 162.5,63.3 163.0,63.4 163.5,63.4 164.0,63.4 164.5,63.5 165.0,63.5 165.5,63.5 166.0,63.6 166.5,63.6 167.0,63.7 167.5,63.7 168.0,63.7 168.5,63.8 169.0,63.8 169.5,63.9 170.0,63.9 170.5,63.9 171.0,64.0 171.5,64.0 172.0,64.1 172.5,64.2 173.0,64.2 173.5,64.3 174.0,64.3 174.5,64.4 175.0,64.5 175.5,64.5 176.0,64.6 176.5,64.7 177.0,64.7 177.5,64.8 178.0,64.9 178.5,64.9 179.0,65.0 179.5,65.1 180.0,65.2 180.5,65.2 181.0,65.3 181.5,65.4 182.0,65.5 182.5,65.6 183.0,65.6 183.5,65.7 184.0,65.8 184.5,65.9 185.0,66.0 185.5,66.1 186.0,66.1 186.5,66.2 187.0,66.3 187.5,66.4 188.0,66.5 188.5,66.6 189.0,66.6 189.5,66.7 190.0,66.8 190.5,66.9 191.0,67.0 191.5,67.1 192.0,67.2 192.5,67.2 193.0,67.3 193.5,67.4 194.0,67.5 194.5,67.6 195.0,67.6 195.5,67.7 196.0,67.8 196.5,67.9 197.0,68.0 197.5,68.0 198.0,68.1 198.5,68.2 199.0,68.3 199.5,68.3 200.0,68.4 200.5,68.5 201.0,68.5 201.5,68.6 202.0,68.7 202.5,68.8 203.0,68.8 203.5,68.9 204.0,69.0 204.5,69.0 205.0,69.1 205.5,69.2 206.0,69.2 206.5,69.3 207.0,69.4 207.5,69.4 208.0,69.5 208.5,69.6 209.0,69.7 209.5,69.7 210.0,69.8 210.5,69.9 211.0,69.9 211.5,70.0 212.0,70.1 212.5,70.2 213.0,70.2 213.5,70.3 214.0,70.4 214.5,70.4 215.0,70.5 215.5,70.6 216.0,70.7 216.5,70.7 217.0,70.8 217.5,70.9 218.0,71.0 218.5,71.1 219.0,71.1 219.5,71.2 220.0,71.3 220.5,71.4 221.0,71.5 221.5,71.5 222.0,71.6 222.5,71.7 223.0,71.8 223.5,71.9 224.0,72.0 224.5,72.1 225.0,72.2 225.5,72.3 226.0,72.4 226.5,72.5 227.0,72.6 227.5,72.7 228.0,72.8 228.5,72.9 229.0,73.0 229.5,73.1 230.0,73.2 230.5,73.3 231.0,73.4 231.5,73.5 232.0,73.6 232.5,73.7 233.0,73.8 233.5,74.0 234.0,74.1 234.5,74.2 235.0,74.3 235.5,74.4 236.0,74.6 236.5,74.7 237.0,74.8 237.5,74.9 238.0,75.1 238.5,75.2 239.0,75.3 239.5,75.4 240.0,75.6 240.5,75.7 241.0,75.8 241.5,76.0 242.0,76.1 242.5,76.2 243.0,76.4 243.5,76.5 244.0,76.6 244.5,76.8 245.0,76.9 245.5,77.0 246.0,77.2 246.5,77.3 247.0,77.5 247.5,77.6 248.0,77.8 248.5,77.9 249.0,78.0 249.5,78.2 250.0,78.3 250.5,78.5 251.0,78.7 251.5,78.8 252.0,79.0 252.5,79.1 253.0,79.3 253.5,79.4 254.0,79.6 254.5,79.8 255.0,79.9 255.5,80.1 256.0,80.3 256.5,80.4 257.0,80.6 257.5,80.8 258.0,81.0 258.5,81.1 259.0,81.3 259.5,81.5 260.0,81.7 260.5,81.8 261.0,82.0 261.5,82.2 262.0,82.4 262.5,82.6 263.0,82.8 263.5,82.9 264.0,83.1 264.5,83.3 265.0,83.5 265.5,83.7 266.0,83.9 266.5,84.1 267.0,84.3 267.5,84.5 268.0,84.7 268.5,84.9 269.0,85.1 269.5,85.3 270.0,85.6 270.5,85.8 271.0,86.0 271.5,86.2 272.0,86.5 272.5,86.7 273.0,86.9 273.5,87.1 274.0,87.4 274.5,87.6 275.0,87.9 275.5,88.1 276.0,88.3 276.5,88.6 277.0,88.8 277.5,89.0 278.0,89.3 278.5,89.5 279.0,89.8 279.5,90.0 280.0,90.2 280.5,90.5 281.0,90.7 281.5,90.9 282.0,91.2 282.5,91.4 283.0,91.6 283.5,91.9 284.0,92.1 284.5,92.3 285.0,92.6 285.5,92.8 286.0,93.1 286.5,93.3 287.0,93.6 287.5,93.9 288.0,94.1 288.5,94.4 289.0,94.7 289.5,95.0 290.0,95.3 290.5,95.6 291.0,95.9 291.5,96.3 292.0,96.6 292.5,97.0 293.0,97.4 293.5,97.7 294.0,98.1 294.5,98.5 295.0,98.9 295.5,99.3 296.0,99.7 296.5,100.2 297.0,100.6 297.5,101.0 298.0,101.4 298.5,101.9 299.0,102.3 299.5,102.8 300.0,103.2 300.5,103.6 301.0,104.1 301.5,104.5 302.0,105.0 302.5,105.4 303.0,105.9 303.5,106.3 304.0,106.8 304.5,107.2 305.0,107.7 305.5,108.2 306.0,108.7 306.5,109.2 307.0,109.7 307.5,110.2 308.0,110.7 308.5,111.3 309.0,111.8 309.5,112.4 310.0,113.0 310.5,113.6 311.0,114.2 311.5,114.9 312.0,115.6 312.5,116.3 313.0,117.1 313.5,117.9 314.0,118.8 314.5,119.6 315.0,120.5 315.5,121.4 316.0,122.3 316.5,123.2 317.0,124.1 317.5,125.0 318.0,125.9 318.5,126.8 319.0,127.6 319.5,128.5 320.0,129.3 320.5,130.2 321.0,131.1 321.5,131.9 322.0,132.8 322.5,133.7 323.0,134.6 323.5,135.6 324.0,136.5 324.5,137.4 325.0,138.4 325.5,139.3 326.0,140.3 326.5,141.2 327.0,142.2 327.5,143.2 328.0,144.3 328.5,145.3 329.0,146.4 329.5,147.5 330.0,148.6 330.5,149.8 331.0,150.9 331.5,152.2 332.0,153.4 332.5,154.7 333.0,156.0 333.5,157.3 334.0,158.6 334.5,160.0 335.0,161.3 335.5,162.7 336.0,164.1 336.5,165.6 337.0,167.0 337.5,168.4 338.0,169.9 338.5,171.4 339.0,172.8 339.5,174.3 340.0,175.8 340.5,177.2 341.0,178.7 341.5,180.2 342.0,181.7 342.5,183.2 343.0,184.8 343.5,186.3 344.0,188.0 344.5,189.6 345.0,191.3 345.5,193.1 346.0,194.9 346.5,196.8 347.0,198.8 347.5,201.0 348.0,203.3 348.5,205.7 349.0,208.1 349.5,210.4 350.0,212.8 350.5,215.0 351.0,217.1 351.5,219.2 352.0,221.3 352.5,223.4 353.0,225.4 353.5,227.4 354.0,229.4 354.5,231.3 355.0,233.3 355.5,235.4 356.0,237.4 356.5,239.4 357.0,241.5 357.5,243.7 358.0,245.9 358.5,248.1 359.0,250.3 359.5,252.6 360.0,254.9 360.5,257.2 361.0,259.6 361.5,261.9 362.0,264.3 362.5,266.8 363.0,269.2 363.5,271.7 364.0,274.1 364.5,276.6 365.0,279.2 365.5,281.7 366.0,284.3 366.5,286.9 366.6,287.4" fill="none" stroke="#800000" stroke-width="1.2" stroke-linejoin="round" />
<polyline points="57.5,100.0 58.0,99.9 58.5,99.8 59.0,99.6 59.5,99.5 60.0,99.4 60.5,99.3 61.0,99.2 61.5,99.1 62.0,99.0 62.5,98.8 63.0,98.7 63.5,98.6 64.0,98.5 64.5,98.4 65.0,98.3 65.5,98.2 66.0,98.1 66.5,98.0 67.0,97.9 67.5,97.8 68.0,97.7 68.5,97.6 69.0,97.5 69.5,97.4 70.0,97.3 70.5,97.2 71.0,97.1 71.5,97.0 72.0,96.9 72.5,96.8 73.0,96.7 73.5,96.6 74.0,96.5 74.5,96.4 75.0,96.3 75.5,96.3 76.0,96.2 76.5,96.1 77.0,96.0 77.5,95.9 78.0,95.9 78.5,95.8 79.0,95.7 79.5,95.6 80.0,95.5 80.5,95.5 81.0,95.4 81.5,95.3 82.0,95.2 82.5,95.2 83.0,95.1 83.5,95.0 84.0,95.0 84.5,94.9 85.0,94.8 85.5,94.7 86.0,94.7 86.5,94.6 87.0,94.5 87.5,94.5 88.0,94.4 88.5,94.3 89.0,94.3 89.5,94.2 90.0,94.1 90.5,94.1 91.0,94.0 91.5,94.0 92.0,93.9 92.5,93.8 93.0,93.8 93.5,93.7 94.0,93.7 94.5,93.6 95.0,93.6 95.5,93.5 96.0,93.4 96.5,93.4 97.0,93.3 97.5,93.3 98.0,93.2 98.5,93.2 99.0,93.1 99.5,93.1 100.0,93.0 100.5,93.0 101.0,93.0 101.5,92.9 102.0,92.9 102.5,92.8 103.0,92.8 103.5,92.7 104.0,92.7 104.5,92.6 105.0,92.6 105.5,92.6 106.0,92.5 106.5,92.5 107.0,92.4 107.5,92.4 108.0,92.4 108.5,92.3 109.0,92.3 109.5,92.2 110.0,92.2 110.5,92.2 111.0,92.1 111.5,92.1 112.0,92.1 112.5,92.0 113.0,92.0 113.5,91.9 114.0,91.9 114.5,91.9 115.0,91.8 115.5,91.8 116.0,91.8 116.5,91.8 117.0,91.7 117.5,91.7 118.0,91.7 118.5,91.6 119.0,91.6 119.5,91.6 120.0,91.6 120.5,91.5 121.0,91.5 121.5,91.5 122.0,91.5 122.5,91.4 123.0,91.4 123.5,91.4 124.0,91.4 124.5,91.3 125.0,91.3 125.5,91.3 126.0,91.3 126.5,91.3 127.0,91.2 127.5,91.2 128.0,91.2 128.5,91.2 129.0,91.1 129.5,91.1 130.0,91.1 130.5,91.1 131.0,91.1 131.5,91.0 132.0,91.0 132.5,91.0 133.0,91.0 133.5,91.0 134.0,90.9 134.5,90.9 135.0,90.9 135.5,90.9 136.0,90.9 136.5,90.9 137.0,90.8 137.5,90.8 138.0,90.8 138.5,90.8 139.0,90.8 139.5,90.8 140.0,90.8 140.5,90.8 141.0,90.7 141.5,90.7 142.0,90.7 142.5,90.7 143.0,90.7 143.5,90.7 144.0,90.7 144.5,90.7 145.0,90.7 145.5,90.7 146.0,90.7 146.5,90.7 147.0,90.7 147.5,90.7 148.0,90.7 148.5,90.7 149.0,90.7 149.5,90.7 150.0,90.7 150.5,90.7 151.0,90.7 151.5,90.7 152.0,90.7 152.5,90.7 153.0,90.7 153.5,90.7 154.0,90.7 154.5,90.7 155.0,90.7 155.5,90.8 156.0,90.8 156.5,90.8 157.0,90.8 157.5,90.9 158.0,90.9 158.5,90.9 159.0,91.0 159.5,91.0 160.0,91.0 160.5,91.1 161.0,91.1 161.5,91.2 162.0,91.2 162.5,91.3 163.0,91.3 163.5,91.4 164.0,91.4 164.5,91.5 165.0,91.5 165.5,91.5 166.0,91.6 166.5,91.6 167.0,91.7 167.5,91.7 168.0,91.8 168.5,91.8 169.0,91.8 169.5,91.9 170.0,91.9 170.5,91.9 171.0,92.0 171.5,92.0 172.0,92.0 172.5,92.1 173.0,92.1 173.5,92.1 174.0,92.2 174.5,92.2 175.0,92.2 175.5,92.3 176.0,92.3 176.5,92.3 177.0,92.4 177.5,92.4 178.0,92.5 178.5,92.5 179.0,92.5 179.5,92.6 180.0,92.6 180.5,92.6 181.0,92.7 181.5,92.7 182.0,92.7 182.5,92.8 183.0,92.8 183.5,92.9 184.0,92.9 184.5,92.9 185.0,93.0 185.5,93.0 186.0,93.1 186.5,93.1 187.0,93.2 187.5,93.2 188.0,93.3 188.5,93.3 189.0,93.3 189.5,93.4 190.0,93.5 190.5,93.5 191.0,93.6 191.5,93.6 192.0,93.7 192.5,93.7 193.0,93.8 193.5,93.9 194.0,93.9 194.5,94.0 195.0,94.1 195.5,94.1 196.0,94.2 196.5,94.3 197.0,94.4 197.5,94.4 198.0,94.5 198.5,94.6 199.0,94.7 199.5,94.8 200.0,94.9 200.5,94.9 201.0,95.0 201.5,95.1 202.0,95.2 202.5,95.3 203.0,95.4 203.5,95.5 204.0,95.6 204.5,95.7 205.0,95.8 205.5,95.9 206.0,96.0 206.5,96.1 207.0,96.2 207.5,96.3 208.0,96.4 208.5,96.5 209.0,96.6 209.5,96.7 210.0,96.8 210.5,96.9 211.0,97.0 211.5,97.2 212.0,97.3 212.5,97.4 213.0,97.5 213.5,97.6 214.0,97.7 214.5,97.8 215.0,97.9 215.5,98.0 216.0,98.1 216.5,98.2 217.0,98.3 217.5,98.4 218.0,98.6 218.5,98.7 219.0,98.8 219.5,98.9 220.0,99.0 220.5,99.1 221.0,99.3 221.5,99.4 222.0,99.5 222.5,99.6 223.0,99.7 223.5,99.9 224.0,100.0 224.5,100.1 225.0,100.2 225.5,100.4 226.0,100.5 226.5,100.6 227.0,100.7 227.5,100.9 228.0,101.0 228.5,101.1 229.0,101.3 229.5,101.4 230.0,101.5 230.5,101.7 231.0,101.8 231.5,101.9 232.0,102.1 232.5,102.2 233.0,102.3 233.5,102.5 234.0,102.6 234.5,102.8 235.0,102.9 235.5,103.0 236.0,103.2 236.5,103.3 237.0,103.5 237.5,103.6 238.0,103.7 238.5,103.9 239.0,104.0 239.5,104.2 240.0,104.3 240.5,104.5 241.0,104.6 241.5,104.7 242.0,104.9 242.5,105.0 243.0,105.2 243.5,105.3 244.0,105.5 244.5,105.6 245.0,105.8 245.5,106.0 246.0,106.1 246.5,106.3 247.0,106.4 247.5,106.6 248.0,106.7 248.5,106.9 249.0,107.1 249.5,107.2 250.0,107.4 250.5,107.6 251.0,107.7 251.5,107.9 252.0,108.1 252.5,108.2 253.0,108.4 253.5,108.6 254.0,108.7 254.5,108.9 255.0,109.1 255.5,109.3 256.0,109.5 256.5,109.6 257.0,109.8 257.5,110.0 258.0,110.2 258.5,110.4 259.0,110.6 259.5,110.8 260.0,111.0 260.5,111.1 261.0,111.3 261.5,111.5 262.0,111.7 262.5,111.9 263.0,112.2 263.5,112.4 264.0,112.6 264.5,112.8 265.0,113.0 265.5,113.2 266.0,113.4 266.5,113.6 267.0,113.9 267.5,114.1 268.0,114.3 268.5,114.5 269.0,114.8 269.5,115.0 270.0,115.2 270.5,115.5 271.0,115.7 271.5,115.9 272.0,116.2 272.5,116.4 273.0,116.7 273.5,116.9 274.0,117.2 274.5,117.4 275.0,117.7 275.5,118.0 276.0,118.2 276.5,118.5 277.0,118.7 277.5,119.0 278.0,119.3 278.5,119.6 279.0,119.8 279.5,120.1 280.0,120.4 280.5,120.7 281.0,120.9 281.5,121.2 282.0,121.5 282.5,121.8 283.0,122.1 283.5,122.4 284.0,122.7 284.5,123.0 285.0,123.3 285.5,123.6 286.0,123.9 286.5,124.2 287.0,124.6 287.5,124.9 288.0,125.2 288.5,125.6 289.0,125.9 289.5,126.3 290.0,126.6 290.5,127.0 291.0,127.3 291.5,127.7 292.0,128.1 292.5,128.4 293.0,128.8 293.5,129.2 294.0,129.5 294.5,129.9 295.0,130.3 295.5,130.6 296.0,131.0 296.5,131.3 297.0,131.7 297.5,132.0 298.0,132.4 298.5,132.7 299.0,133.1 299.5,133.4 300.0,133.7 300.5,134.1 301.0,134.5 301.5,134.8 302.0,135.2 302.5,135.6 303.0,136.0 303.5,136.4 304.0,136.8 304.5,137.2 305.0,137.7 305.5,138.1 306.0,138.5 306.5,139.0 307.0,139.4 307.5,139.9 308.0,140.3 308.5,140.8 309.0,141.2 309.5,141.7 310.0,142.2 310.5,142.7 311.0,143.1 311.5,143.6 312.0,144.1 312.5,144.6 313.0,145.0 313.5,145.5 314.0,146.0 314.5,146.5 315.0,147.0 315.5,147.4 316.0,147.9 316.5,148.4 317.0,148.9 317.5,149.4 318.0,149.9 318.5,150.4 319.0,150.9 319.5,151.4 320.0,151.9 320.5,152.4 321.0,152.9 321.5,153.5 322.0,154.0 322.5,154.5 323.0,155.0 323.5,155.6 324.0,156.1 324.5,156.7 325.0,157.2 325.5,157.8 326.0,158.3 326.5,158.9 327.0,159.4 327.5,160.0 328.0,160.6 328.5,161.1 329.0,161.7 329.5,162.3 330.0,162.9 330.5,163.5 331.0,164.1 331.5,164.6 332.0,165.3 332.5,165.9 333.0,166.5 333.5,167.1 334.0,167.7 334.5,168.3 335.0,169.0 335.5,169.6 336.0,170.3 336.5,170.9 337.0,171.6 337.5,172.3 338.0,172.9 338.5,173.6 339.0,174.3 339.5,175.0 340.0,175.7 340.5,176.4 341.0,177.1 341.5,177.9 342.0,178.6 342.5,179.3 343.0,180.1 343.5,180.9 344.0,181.6 344.5,182.4 345.0,183.2 345.5,184.0 346.0,184.8 346.5,185.6 347.0,186.4 347.5,187.2 348.0,188.0 348.5,188.9 349.0,189.7 349.5,190.6 350.0,191.4 350.5,192.3 351.0,193.2 351.5,194.1 352.0,195.0 352.5,195.9 353.0,196.9 353.5,197.9 354.0,198.8 354.5,199.8 355.0,200.8 355.5,201.8 356.0,202.9 356.5,203.9 357.0,204.9 357.5,206.0 358.0,207.0 358.5,208.0 359.0,209.1 359.5,210.1 360.0,211.2 360.5,212.3 361.0,213.3 361.5,214.5 362.0,215.6 362.5,216.8 363.0,218.0 363.5,219.3 364.0,220.6 364.5,222.0 365.0,223.4 365.5,224.8 366.0,226.3 366.5,227.8 367.0,229.4 367.5,230.9 368.0,232.5 368.5,234.0 369.0,235.6 369.5,237.1 370.0,238.7 370.5,240.2 371.0,241.6 371.5,243.1 372.0,244.4 372.5,245.8 373.0,247.1 373.5,248.3 374.0,249.5 374.5,250.6 375.0,251.7 375.5,252.8 376.0,253.9 376.5,255.0 377.0,256.1 377.5,257.2 378.0,258.4 378.5,259.6 379.0,260.9 379.5,262.3 380.0,263.7 380.5,265.2 381.0,266.7 381.5,268.3 382.0,270.0 382.5,271.6 383.0,273.4 383.5,275.1 384.0,276.9 384.5,278.8 385.0,280.7 385.5,282.6 386.0,284.6 386.5,286.6 386.7,287.4" fill="none" stroke="#ff00ff" stroke-width="1.2" stroke-linejoin="round" />
<rect x="56.60" y="28.00" width="1.40" height="259.80" fill="#555"/>
<rect x="57.30" y="27.90" width="353.00" height="1.20" fill="#1a1a1a"/>
<rect x="409.70" y="28.00" width="1.20" height="259.80" fill="#777"/>
<rect x="56.60" y="286.80" width="354.30" height="1.20" fill="#111"/>
<line x1="57.30" y1="287.00" x2="57.30" y2="282.00" stroke="#222" stroke-width="1"/>
<line x1="89.40" y1="287.00" x2="89.40" y2="283.80" stroke="#222" stroke-width="1"/>
<line x1="121.50" y1="287.00" x2="121.50" y2="282.00" stroke="#222" stroke-width="1"/>
<line x1="153.60" y1="287.00" x2="153.60" y2="283.80" stroke="#222" stroke-width="1"/>
<line x1="185.70" y1="287.00" x2="185.70" y2="282.00" stroke="#222" stroke-width="1"/>
<line x1="217.80" y1="287.00" x2="217.80" y2="283.80" stroke="#222" stroke-width="1"/>
<line x1="249.90" y1="287.00" x2="249.90" y2="282.00" stroke="#222" stroke-width="1"/>
<line x1="282.00" y1="287.00" x2="282.00" y2="283.80" stroke="#222" stroke-width="1"/>
<line x1="314.10" y1="287.00" x2="314.10" y2="282.00" stroke="#222" stroke-width="1"/>
<line x1="346.20" y1="287.00" x2="346.20" y2="283.80" stroke="#222" stroke-width="1"/>
<line x1="378.30" y1="287.00" x2="378.30" y2="282.00" stroke="#222" stroke-width="1"/>
<line x1="410.40" y1="287.00" x2="410.40" y2="283.80" stroke="#222" stroke-width="1"/>
<line x1="57.30" y1="287.40" x2="62.30" y2="287.40" stroke="#222" stroke-width="1"/>
<line x1="57.30" y1="261.50" x2="60.50" y2="261.50" stroke="#222" stroke-width="1"/>
<line x1="57.30" y1="235.60" x2="62.30" y2="235.60" stroke="#222" stroke-width="1"/>
<line x1="57.30" y1="209.70" x2="60.50" y2="209.70" stroke="#222" stroke-width="1"/>
<line x1="57.30" y1="183.80" x2="62.30" y2="183.80" stroke="#222" stroke-width="1"/>
<line x1="57.30" y1="157.90" x2="60.50" y2="157.90" stroke="#222" stroke-width="1"/>
<line x1="57.30" y1="132.00" x2="62.30" y2="132.00" stroke="#222" stroke-width="1"/>
<line x1="57.30" y1="106.10" x2="60.50" y2="106.10" stroke="#222" stroke-width="1"/>
<line x1="57.30" y1="80.20" x2="62.30" y2="80.20" stroke="#222" stroke-width="1"/>
<line x1="57.30" y1="54.30" x2="60.50" y2="54.30" stroke="#222" stroke-width="1"/>
<line x1="57.30" y1="28.40" x2="62.30" y2="28.40" stroke="#222" stroke-width="1"/>
<text x="57.30" y="302.00" font-size="10.6" text-anchor="middle" fill="#444" font-family="Liberation Sans, sans-serif" >0.0</text>
<text x="121.50" y="302.00" font-size="10.6" text-anchor="middle" fill="#444" font-family="Liberation Sans, sans-serif" >0.2</text>
<text x="185.70" y="302.00" font-size="10.6" text-anchor="middle" fill="#444" font-family="Liberation Sans, sans-serif" >0.4</text>
<text x="249.90" y="302.00" font-size="10.6" text-anchor="middle" fill="#444" font-family="Liberation Sans, sans-serif" >0.6</text>
<text x="314.10" y="302.00" font-size="10.6" text-anchor="middle" fill="#444" font-family="Liberation Sans, sans-serif" >0.8</text>
<text x="378.30" y="302.00" font-size="10.6" text-anchor="middle" fill="#444" font-family="Liberation Sans, sans-serif" >1.0</text>
<text x="52.00" y="291.20" font-size="10.6" text-anchor="end" fill="#444" font-family="Liberation Sans, sans-serif" >0</text>
<text x="52.00" y="239.40" font-size="10.6" text-anchor="end" fill="#444" font-family="Liberation Sans, sans-serif" >5</text>
<text x="52.00" y="187.60" font-size="10.6" text-anchor="end" fill="#444" font-family="Liberation Sans, sans-serif" >10</text>
<text x="52.00" y="135.80" font-size="10.6" text-anchor="end" fill="#444" font-family="Liberation Sans, sans-serif" >15</text>
<text x="52.00" y="84.00" font-size="10.6" text-anchor="end" fill="#444" font-family="Liberation Sans, sans-serif" >20</text>
<text x="52.00" y="32.20" font-size="10.6" text-anchor="end" fill="#444" font-family="Liberation Sans, sans-serif" >25</text>
<text x="233.50" y="321.60" font-size="12.8" text-anchor="middle" fill="#333" font-family="Liberation Sans, sans-serif" >Voltage (V)</text>
<text transform="translate(19.6,153) rotate(-90)" font-size="12.8" text-anchor="middle" fill="#333" font-family="Liberation Sans, sans-serif">Current density (mA/cm<tspan font-size="8.5" dy="-6.4">2</tspan><tspan dy="6.4">)</tspan></text>
<line x1="107.3" y1="163.60" x2="136.6" y2="163.60" stroke="#111111" stroke-width="1.1" stroke-opacity="0.75"/>
<text x="140.20" y="168.00" font-size="12.8" text-anchor="start" fill="#333" font-family="Liberation Sans, sans-serif" >0.01-FAPbBr<tspan font-size="7.8" dx="0.5" dy="5.1">3</tspan></text>
<line x1="107.3" y1="183.67" x2="136.6" y2="183.67" stroke="#ff0000" stroke-width="1.1" stroke-opacity="0.75"/>
<text x="140.20" y="188.07" font-size="12.8" text-anchor="start" fill="#333" font-family="Liberation Sans, sans-serif" >0.03-FAPbBr<tspan font-size="7.8" dx="0.5" dy="5.1">3</tspan></text>
<line x1="107.3" y1="203.74" x2="136.6" y2="203.74" stroke="#008000" stroke-width="1.1" stroke-opacity="0.75"/>
<text x="140.20" y="208.14" font-size="12.8" text-anchor="start" fill="#333" font-family="Liberation Sans, sans-serif" >0.05-FAPbBr<tspan font-size="7.8" dx="0.5" dy="5.1">3</tspan></text>
<line x1="107.3" y1="223.81" x2="136.6" y2="223.81" stroke="#0000ff" stroke-width="1.1" stroke-opacity="0.75"/>
<text x="140.20" y="228.21" font-size="12.8" text-anchor="start" fill="#333" font-family="Liberation Sans, sans-serif" >0.07-FAPbBr<tspan font-size="7.8" dx="0.5" dy="5.1">3</tspan></text>
<line x1="107.3" y1="243.88" x2="136.6" y2="243.88" stroke="#800000" stroke-width="1.1" stroke-opacity="0.75"/>
<text x="140.20" y="248.28" font-size="12.8" text-anchor="start" fill="#333" font-family="Liberation Sans, sans-serif" >0.10-FAPbBr<tspan font-size="7.8" dx="0.5" dy="5.1">3</tspan></text>
<line x1="107.3" y1="263.95" x2="136.6" y2="263.95" stroke="#ff00ff" stroke-width="1.1" stroke-opacity="0.75"/>
<text x="140.20" y="268.35" font-size="12.8" text-anchor="start" fill="#333" font-family="Liberation Sans, sans-serif" >0.15-FAPbBr<tspan font-size="7.8" dx="0.5" dy="5.1">3</tspan></text>
<text x="211.80" y="362.00" font-size="15.5" text-anchor="middle" fill="#222" font-family="Liberation Serif, serif" >(<tspan font-weight="bold">a</tspan>)</text>
<polyline points="468.5,68.2 468.7,68.2 468.9,68.2 469.1,68.2 469.3,68.2 469.5,68.2 469.7,68.2 469.9,68.2 470.1,68.2 470.3,68.2 470.4,68.2 470.6,68.2 470.8,68.2 471.0,68.2 471.2,68.2 471.4,68.2 471.6,68.2 471.8,68.2 472.0,68.2 472.2,68.2 472.4,68.2 472.6,68.2 472.8,68.2 473.0,68.2 473.2,68.2 473.4,68.2 473.6,68.2 473.8,68.2 474.0,68.2 474.1,68.2 474.3,68.2 474.5,68.2 474.7,68.2 474.9,68.2 475.1,68.2 475.3,68.2 475.5,68.2 475.7,68.2 475.9,68.2 476.1,68.2 476.3,68.2 476.5,68.2 476.7,68.2 476.9,68.2 477.1,68.2 477.3,68.2 477.5,68.2 477.7,68.2 477.8,68.2 478.0,68.2 478.2,68.2 478.4,68.2 478.6,68.2 478.8,68.2 479.0,68.2 479.2,68.2 479.4,68.2 479.6,68.1 479.8,68.1 480.0,68.1 480.2,68.1 480.4,68.1 480.6,68.1 480.8,68.1 481.0,68.1 481.2,68.1 481.4,68.1 481.5,68.1 481.7,68.1 481.9,68.1 482.1,68.1 482.3,68.1 482.5,68.1 482.7,68.1 482.9,68.1 483.1,68.1 483.3,68.1 483.5,68.1 483.7,68.1 483.9,68.1 484.1,68.1 484.3,68.1 484.5,68.0 484.7,68.0 484.9,68.0 485.1,68.0 485.2,67.9 485.4,67.9 485.6,67.8 485.8,67.7 486.0,67.6 486.2,67.5 486.4,67.4 486.6,67.2 486.8,67.0 487.0,66.8 487.2,66.6 487.4,66.4 487.6,66.2 487.8,65.9 488.0,65.7 488.2,65.6 488.4,65.4 488.6,65.3 488.8,65.3 488.9,65.3 489.1,65.4 489.3,65.5 489.5,65.7 489.7,65.9 489.9,66.1 490.1,66.3 490.3,66.6 490.5,66.8 490.7,66.9 490.9,67.1 491.1,67.3 491.3,67.4 491.5,67.5 491.7,67.6 491.9,67.7 492.1,67.7 492.3,67.7 492.5,67.8 492.6,67.8 492.8,67.8 493.0,67.8 493.2,67.8 493.4,67.8 493.6,67.8 493.8,67.7 494.0,67.7 494.2,67.7 494.4,67.6 494.6,67.6 494.8,67.6 495.0,67.5 495.2,67.4 495.4,67.3 495.6,67.2 495.8,67.0 496.0,66.7 496.2,66.3 496.3,65.7 496.5,64.9 496.7,63.8 496.9,62.3 497.1,60.5 497.3,58.2 497.5,55.6 497.7,52.7 497.9,49.6 498.1,46.6 498.3,43.9 498.5,41.9 498.7,40.7 498.9,40.6 499.1,41.6 499.3,43.5 499.5,46.1 499.7,49.0 499.9,52.1 500.0,55.1 500.2,57.8 500.4,60.1 500.6,62.0 500.8,63.5 501.0,64.7 501.2,65.6 501.4,66.2 501.6,66.6 501.8,67.0 502.0,67.2 502.2,67.3 502.4,67.4 502.6,67.5 502.8,67.6 503.0,67.6 503.2,67.7 503.4,67.7 503.6,67.8 503.7,67.8 503.9,67.8 504.1,67.8 504.3,67.9 504.5,67.9 504.7,67.9 504.9,67.9 505.1,67.9 505.3,68.0 505.5,68.0 505.7,68.0 505.9,68.0 506.1,68.0 506.3,68.0 506.5,68.0 506.7,68.0 506.9,68.0 507.1,68.0 507.3,68.1 507.5,68.1 507.6,68.1 507.8,68.1 508.0,68.1 508.2,68.1 508.4,68.1 508.6,68.1 508.8,68.1 509.0,68.1 509.2,68.1 509.4,68.1 509.6,68.1 509.8,68.1 510.0,68.1 510.2,68.1 510.4,68.1 510.6,68.1 510.8,68.1 511.0,68.1 511.2,68.1 511.3,68.1 511.5,68.1 511.7,68.1 511.9,68.1 512.1,68.1 512.3,68.1 512.5,68.1 512.7,68.1 512.9,68.1 513.1,68.1 513.3,68.1 513.5,68.1 513.7,68.1 513.9,68.2 514.1,68.2 514.3,68.2 514.5,68.2 514.7,68.2 514.9,68.2 515.0,68.2 515.2,68.2 515.4,68.2 515.6,68.2 515.8,68.2 516.0,68.2 516.2,68.2 516.4,68.2 516.6,68.2 516.8,68.2 517.0,68.2 517.2,68.2 517.4,68.2 517.6,68.2 517.8,68.2 518.0,68.2 518.2,68.2 518.4,68.2 518.6,68.2 518.7,68.2 518.9,68.2 519.1,68.2 519.3,68.2 519.5,68.2 519.7,68.2 519.9,68.2 520.1,68.2 520.3,68.2 520.5,68.2 520.7,68.2 520.9,68.2 521.1,68.2 521.3,68.2 521.5,68.2 521.7,68.2 521.9,68.2 522.1,68.2 522.3,68.2 522.4,68.2 522.6,68.2 522.8,68.2 523.0,68.2 523.2,68.2 523.4,68.2 523.6,68.2 523.8,68.2 524.0,68.2 524.2,68.2 524.4,68.2 524.6,68.2 524.8,68.2 525.0,68.2 525.2,68.2 525.4,68.2 525.6,68.2 525.8,68.2 526.0,68.2 526.1,68.2 526.3,68.2 526.5,68.2 526.7,68.2 526.9,68.2 527.1,68.2 527.3,68.2 527.5,68.2 527.7,68.2 527.9,68.2 528.1,68.2 528.3,68.2 528.5,68.2 528.7,68.2 528.9,68.2 529.1,68.2 529.3,68.2 529.5,68.2 529.7,68.2 529.8,68.2 530.0,68.2 530.2,68.2 530.4,68.2 530.6,68.2 530.8,68.2 531.0,68.2 531.2,68.2 531.4,68.2 531.6,68.2 531.8,68.2 532.0,68.2 532.2,68.2 532.4,68.2 532.6,68.2 532.8,68.2 533.0,68.2 533.2,68.2 533.4,68.2 533.5,68.2 533.7,68.2 533.9,68.2 534.1,68.2 534.3,68.2 534.5,68.2 534.7,68.2 534.9,68.2 535.1,68.2 535.3,68.2 535.5,68.2 535.7,68.2 535.9,68.2 536.1,68.2 536.3,68.2 536.5,68.2 536.7,68.2 536.9,68.2 537.1,68.2 537.2,68.2 537.4,68.2 537.6,68.2 537.8,68.2 538.0,68.2 538.2,68.2 538.4,68.2 538.6,68.2 538.8,68.2 539.0,68.2 539.2,68.2 539.4,68.2 539.6,68.2 539.8,68.2 540.0,68.2 540.2,68.2 540.4,68.2 540.6,68.2 540.8,68.2 540.9,68.2 541.1,68.2 541.3,68.2 541.5,68.2 541.7,68.2 541.9,68.2 542.1,68.2 542.3,68.2 542.5,68.2 542.7,68.2 542.9,68.2 543.1,68.2 543.3,68.2 543.5,68.2 543.7,68.2 543.9,68.2 544.1,68.2 544.3,68.2 544.5,68.2 544.6,68.2 544.8,68.2 545.0,68.2 545.2,68.2 545.4,68.2 545.6,68.2 545.8,68.2 546.0,68.2 546.2,68.2 546.4,68.2 546.6,68.2 546.8,68.2 547.0,68.2 547.2,68.2 547.4,68.2 547.6,68.2 547.8,68.2 548.0,68.2 548.2,68.2 548.3,68.2 548.5,68.2 548.7,68.2 548.9,68.2 549.1,68.2 549.3,68.2 549.5,68.2 549.7,68.2 549.9,68.2 550.1,68.2 550.3,68.2 550.5,68.2 550.7,68.2 550.9,68.2 551.1,68.2 551.3,68.2 551.5,68.2 551.7,68.2 551.9,68.2 552.0,68.2 552.2,68.2 552.4,68.2 552.6,68.2 552.8,68.2 553.0,68.2 553.2,68.2 553.4,68.2 553.6,68.2 553.8,68.2 554.0,68.2 554.2,68.2 554.4,68.2 554.6,68.2 554.8,68.2 555.0,68.2 555.2,68.2 555.4,68.2 555.6,68.2 555.7,68.2 555.9,68.2 556.1,68.2 556.3,68.2 556.5,68.2 556.7,68.2 556.9,68.2 557.1,68.2 557.3,68.2 557.5,68.2 557.7,68.2 557.9,68.2 558.1,68.2 558.3,68.2 558.5,68.2 558.7,68.2 558.9,68.2 559.1,68.2 559.3,68.2 559.4,68.2 559.6,68.2 559.8,68.2 560.0,68.2 560.2,68.2 560.4,68.2 560.6,68.2 560.8,68.2 561.0,68.2 561.2,68.2 561.4,68.2 561.6,68.2 561.8,68.2 562.0,68.2 562.2,68.2 562.4,68.2 562.6,68.2 562.8,68.2 563.0,68.2 563.1,68.2 563.3,68.2 563.5,68.2 563.7,68.2 563.9,68.2 564.1,68.2 564.3,68.2 564.5,68.2 564.7,68.2 564.9,68.2 565.1,68.2 565.3,68.2 565.5,68.2 565.7,68.2 565.9,68.2 566.1,68.2 566.3,68.2 566.5,68.2 566.7,68.2 566.8,68.2 567.0,68.2 567.2,68.2 567.4,68.2 567.6,68.2 567.8,68.2 568.0,68.2 568.2,68.2 568.4,68.2 568.6,68.2 568.8,68.2 569.0,68.2 569.2,68.2 569.4,68.2 569.6,68.2 569.8,68.2 570.0,68.2 570.2,68.2 570.4,68.2 570.5,68.2 570.7,68.2 570.9,68.2 571.1,68.2 571.3,68.2 571.5,68.2 571.7,68.2 571.9,68.2 572.1,68.2 572.3,68.2 572.5,68.2 572.7,68.2 572.9,68.2 573.1,68.2 573.3,68.2 573.5,68.2 573.7,68.2 573.9,68.2 574.1,68.2 574.2,68.2 574.4,68.2 574.6,68.2 574.8,68.2 575.0,68.2 575.2,68.2 575.4,68.2 575.6,68.1 575.8,68.1 576.0,68.1 576.2,68.1 576.4,68.1 576.6,68.1 576.8,68.1 577.0,68.0 577.2,68.0 577.4,68.0 577.6,67.9 577.8,67.9 577.9,67.8 578.1,67.7 578.3,67.6 578.5,67.6 578.7,67.5 578.9,67.4 579.1,67.3 579.3,67.3 579.5,67.2 579.7,67.2 579.9,67.2 580.1,67.2 580.3,67.2 580.5,67.3 580.7,67.3 580.9,67.4 581.1,67.5 581.3,67.6 581.5,67.6 581.6,67.7 581.8,67.8 582.0,67.9 582.2,67.9 582.4,68.0 582.6,68.0 582.8,68.0 583.0,68.1 583.2,68.1 583.4,68.1 583.6,68.1 583.8,68.1 584.0,68.1 584.2,68.1 584.4,68.1 584.6,68.2 584.8,68.2 585.0,68.2 585.2,68.2 585.3,68.2 585.5,68.2 585.7,68.2 585.9,68.2 586.1,68.2 586.3,68.2 586.5,68.2 586.7,68.2 586.9,68.2 587.1,68.2 587.3,68.2 587.5,68.2 587.7,68.2 587.9,68.2 588.1,68.2 588.3,68.2 588.5,68.2 588.7,68.2 588.9,68.2 589.1,68.2 589.2,68.2 589.4,68.2 589.6,68.2 589.8,68.2 590.0,68.2 590.2,68.2 590.4,68.2 590.6,68.2 590.8,68.2 591.0,68.2 591.2,68.2 591.4,68.1 591.6,68.1 591.8,68.1 592.0,68.1 592.2,68.1 592.4,68.1 592.6,68.1 592.8,68.1 592.9,68.1 593.1,68.1 593.3,68.1 593.5,68.1 593.7,68.1 593.9,68.0 594.1,68.0 594.3,67.9 594.5,67.9 594.7,67.8 594.9,67.8 595.1,67.7 595.3,67.6 595.5,67.5 595.7,67.4 595.9,67.3 596.1,67.2 596.3,67.1 596.5,67.1 596.6,67.0 596.8,67.0 597.0,67.0 597.2,67.0 597.4,67.0 597.6,67.1 597.8,67.1 598.0,67.2 598.2,67.3 598.4,67.4 598.6,67.5 598.8,67.6 599.0,67.7 599.2,67.7 599.4,67.8 599.6,67.9 599.8,67.9 600.0,68.0 600.2,68.0 600.3,68.0 600.5,68.0 600.7,68.0 600.9,68.0 601.1,68.1 601.3,68.1 601.5,68.1 601.7,68.1 601.9,68.1 602.1,68.1 602.3,68.1 602.5,68.0 602.7,68.0 602.9,68.0 603.1,68.0 603.3,68.0 603.5,68.0 603.7,68.0 603.9,68.0 604.0,68.0 604.2,68.0 604.4,68.0 604.6,67.9 604.8,67.9 605.0,67.9 605.2,67.9 605.4,67.8 605.6,67.8 605.8,67.7 606.0,67.7 606.2,67.6 606.4,67.4 606.6,67.2 606.8,67.0 607.0,66.7 607.2,66.2 607.4,65.7 607.6,65.1 607.7,64.4 607.9,63.6 608.1,62.6 608.3,61.6 608.5,60.6 608.7,59.5 608.9,58.6 609.1,57.7 609.3,57.1 609.5,56.7 609.7,56.6 609.9,56.8 610.1,57.3 610.3,58.0 610.5,58.9 610.7,60.0 610.9,61.0 611.1,62.0 611.3,63.0 611.4,63.9 611.6,64.7 611.8,65.4 612.0,66.0 612.2,66.4 612.4,66.8 612.6,67.1 612.8,67.3 613.0,67.5 613.2,67.6 613.4,67.7 613.6,67.8 613.8,67.8 614.0,67.9 614.2,67.9 614.4,67.9 614.6,67.9 614.8,68.0 615.0,68.0 615.1,68.0 615.3,68.0 615.5,68.0 615.7,68.0 615.9,68.0 616.1,68.0 616.3,68.1 616.5,68.1 616.7,68.1 616.9,68.1 617.1,68.1 617.3,68.1 617.5,68.1 617.7,68.1 617.9,68.1 618.1,68.1 618.3,68.1 618.5,68.1 618.7,68.1 618.8,68.1 619.0,68.1 619.2,68.1 619.4,68.1 619.6,68.1 619.8,68.1 620.0,68.1 620.2,68.1 620.4,68.1 620.6,68.1 620.8,68.1 621.0,68.1 621.2,68.1 621.4,68.1 621.6,68.1 621.8,68.2 622.0,68.2 622.2,68.2 622.4,68.2 622.5,68.2 622.7,68.2 622.9,68.2 623.1,68.2 623.3,68.2 623.5,68.2 623.7,68.2 623.9,68.2 624.1,68.2 624.3,68.2 624.5,68.2 624.7,68.2 624.9,68.2 625.1,68.2 625.3,68.2 625.5,68.2 625.7,68.2 625.9,68.2 626.1,68.2 626.2,68.2 626.4,68.2 626.6,68.2 626.8,68.2 627.0,68.2 627.2,68.2 627.4,68.2 627.6,68.2 627.8,68.2 628.0,68.2 628.2,68.2 628.4,68.2 628.6,68.2 628.8,68.2 629.0,68.2 629.2,68.2 629.4,68.2 629.6,68.2 629.8,68.2 629.9,68.2 630.1,68.2 630.3,68.2 630.5,68.2 630.7,68.2 630.9,68.2 631.1,68.2 631.3,68.2 631.5,68.2 631.7,68.2 631.9,68.2 632.1,68.2 632.3,68.1 632.5,68.1 632.7,68.1 632.9,68.1 633.1,68.1 633.3,68.1 633.5,68.1 633.6,68.0 633.8,68.0 634.0,68.0 634.2,67.9 634.4,67.9 634.6,67.8 634.8,67.8 635.0,67.7 635.2,67.7 635.4,67.6 635.6,67.6 635.8,67.6 636.0,67.6 636.2,67.6 636.4,67.6 636.6,67.6 636.8,67.7 637.0,67.7 637.2,67.8 637.3,67.8 637.5,67.9 637.7,67.9 637.9,68.0 638.1,68.0 638.3,68.0 638.5,68.1 638.7,68.1 638.9,68.1 639.1,68.1 639.3,68.1 639.5,68.1 639.7,68.1 639.9,68.2 640.1,68.2 640.3,68.2 640.5,68.2 640.7,68.2 640.9,68.2 641.0,68.2 641.2,68.2 641.4,68.2 641.6,68.2 641.8,68.2 642.0,68.2 642.2,68.2 642.4,68.2 642.6,68.2 642.8,68.2 643.0,68.2 643.2,68.2 643.4,68.2 643.6,68.2 643.8,68.2 644.0,68.2 644.2,68.2 644.4,68.2 644.6,68.2 644.7,68.2 644.9,68.2 645.1,68.2 645.3,68.2 645.5,68.2 645.7,68.2 645.9,68.2 646.1,68.2 646.3,68.2 646.5,68.2 646.7,68.2 646.9,68.2 647.1,68.2 647.3,68.2 647.5,68.2 647.7,68.2 647.9,68.2 648.1,68.2 648.3,68.2 648.4,68.2 648.6,68.2 648.8,68.2 649.0,68.2 649.2,68.2 649.4,68.2 649.6,68.1 649.8,68.1 650.0,68.1 650.2,68.1 650.4,68.1 650.6,68.1 650.8,68.0 651.0,68.0 651.2,68.0 651.4,67.9 651.6,67.9 651.8,67.8 652.0,67.8 652.1,67.7 652.3,67.7 652.5,67.6 652.7,67.6 652.9,67.6 653.1,67.6 653.3,67.6 653.5,67.6 653.7,67.6 653.9,67.7 654.1,67.7 654.3,67.8 654.5,67.8 654.7,67.9 654.9,67.9 655.1,68.0 655.3,68.0 655.5,68.0 655.7,68.1 655.8,68.1 656.0,68.1 656.2,68.1 656.4,68.1 656.6,68.1 656.8,68.2 657.0,68.2 657.2,68.2 657.4,68.2 657.6,68.2 657.8,68.2 658.0,68.2 658.2,68.2 658.4,68.2 658.6,68.2 658.8,68.2 659.0,68.2 659.2,68.2 659.4,68.2 659.5,68.2 659.7,68.2 659.9,68.2 660.1,68.2 660.3,68.2 660.5,68.2 660.7,68.2 660.9,68.2 661.1,68.2 661.3,68.2 661.5,68.2 661.7,68.2 661.9,68.2 662.1,68.2 662.3,68.2 662.5,68.2 662.7,68.2 662.9,68.2 663.1,68.2 663.2,68.2 663.4,68.2 663.6,68.2 663.8,68.2 664.0,68.2 664.2,68.2 664.4,68.2 664.6,68.2 664.8,68.2 665.0,68.2 665.2,68.2 665.4,68.2 665.6,68.2 665.8,68.2 666.0,68.2 666.2,68.2 666.4,68.2 666.6,68.2 666.8,68.2 667.0,68.2 667.1,68.2 667.3,68.2 667.5,68.2 667.7,68.2 667.9,68.2 668.1,68.2 668.3,68.2 668.5,68.2 668.7,68.2 668.9,68.2 669.1,68.2 669.3,68.2 669.5,68.2 669.7,68.2 669.9,68.2 670.1,68.2 670.3,68.2 670.5,68.2 670.7,68.2 670.8,68.2 671.0,68.2 671.2,68.2 671.4,68.2 671.6,68.2 671.8,68.2 672.0,68.2 672.2,68.2 672.4,68.2 672.6,68.2 672.8,68.2 673.0,68.2 673.2,68.2 673.4,68.2 673.6,68.2 673.8,68.2 674.0,68.2 674.2,68.2 674.4,68.2 674.5,68.2 674.7,68.2 674.9,68.2 675.1,68.2 675.3,68.2 675.5,68.2 675.7,68.2 675.9,68.2 676.1,68.2 676.3,68.2 676.5,68.2 676.7,68.2 676.9,68.2 677.1,68.2 677.3,68.2 677.5,68.2 677.7,68.2 677.9,68.2 678.1,68.2 678.2,68.2 678.4,68.2 678.6,68.2 678.8,68.2 679.0,68.2 679.2,68.2 679.4,68.2 679.6,68.2 679.8,68.2 680.0,68.2 680.2,68.1 680.4,68.1 680.6,68.1 680.8,68.1 681.0,68.1 681.2,68.1 681.4,68.0 681.6,68.0 681.8,68.0 681.9,67.9 682.1,67.9 682.3,67.8 682.5,67.7 682.7,67.7 682.9,67.6 683.1,67.5 683.3,67.4 683.5,67.3 683.7,67.3 683.9,67.2 684.1,67.2 684.3,67.2 684.5,67.2 684.7,67.2 684.9,67.3 685.1,67.3 685.3,67.4 685.5,67.5 685.6,67.6 685.8,67.7 686.0,67.7 686.2,67.8 686.4,67.9 686.6,67.9 686.8,68.0 687.0,68.0 687.2,68.0 687.4,68.1 687.6,68.1 687.8,68.1 688.0,68.1 688.2,68.1 688.4,68.1 688.6,68.2 688.8,68.2 689.0,68.2 689.2,68.2 689.3,68.2 689.5,68.2 689.7,68.2 689.9,68.2 690.1,68.2 690.3,68.2 690.5,68.2 690.7,68.2 690.9,68.2 691.1,68.2 691.3,68.2 691.5,68.2 691.7,68.2 691.9,68.2 692.1,68.2 692.3,68.2 692.5,68.2 692.7,68.2 692.9,68.2 693.0,68.2 693.2,68.2 693.4,68.2 693.6,68.2 693.8,68.2 694.0,68.2 694.2,68.2 694.4,68.2 694.6,68.2 694.8,68.2 695.0,68.2 695.2,68.2 695.4,68.2 695.6,68.2 695.8,68.2 696.0,68.2 696.2,68.2 696.4,68.2 696.6,68.2 696.7,68.2 696.9,68.2 697.1,68.2 697.3,68.2 697.5,68.2 697.7,68.2 697.9,68.2 698.1,68.2 698.3,68.2 698.5,68.2 698.7,68.2 698.9,68.2 699.1,68.2 699.3,68.2 699.5,68.2 699.7,68.2 699.9,68.2 700.1,68.2 700.3,68.2 700.4,68.2 700.6,68.1 700.8,68.1 701.0,68.1 701.2,68.1 701.4,68.1 701.6,68.1 701.8,68.0 702.0,68.0 702.2,68.0 702.4,67.9 702.6,67.9 702.8,67.9 703.0,67.9 703.2,67.8 703.4,67.8 703.6,67.8 703.8,67.8 704.0,67.8 704.1,67.8 704.3,67.8 704.5,67.9 704.7,67.9 704.9,67.9 705.1,67.9 705.3,68.0 705.5,68.0 705.7,68.0 705.9,68.1 706.1,68.1 706.3,68.1 706.5,68.1 706.7,68.1 706.9,68.1 707.1,68.2 707.3,68.2 707.5,68.2 707.7,68.2 707.8,68.2 708.0,68.2 708.2,68.2 708.4,68.2 708.6,68.2 708.8,68.2 709.0,68.2 709.2,68.2 709.4,68.2 709.6,68.2 709.8,68.2 710.0,68.2 710.2,68.2 710.4,68.2 710.6,68.2 710.8,68.2 711.0,68.2 711.2,68.2 711.4,68.2 711.5,68.2 711.7,68.2 711.9,68.2 712.1,68.2 712.3,68.2 712.5,68.2 712.7,68.2 712.9,68.2 713.1,68.2 713.3,68.2 713.5,68.2 713.7,68.2 713.9,68.2 714.1,68.2 714.3,68.2 714.5,68.2 714.7,68.2 714.9,68.2 715.1,68.2 715.2,68.2 715.4,68.2 715.6,68.2 715.8,68.2 716.0,68.2 716.2,68.2 716.4,68.2 716.6,68.2 716.8,68.2 717.0,68.2 717.2,68.2 717.4,68.2 717.6,68.2 717.8,68.2 718.0,68.2 718.2,68.2 718.4,68.2 718.6,68.2 718.8,68.2 718.9,68.2 719.1,68.2 719.3,68.2 719.5,68.2 719.7,68.2 719.9,68.2 720.1,68.2 720.3,68.2 720.5,68.1 720.7,68.1 720.9,68.1 721.1,68.1 721.3,68.1 721.5,68.0 721.7,68.0 721.9,68.0 722.1,67.9 722.3,67.9 722.5,67.8 722.6,67.8 722.8,67.7 723.0,67.7 723.2,67.6 723.4,67.6 723.6,67.5 723.8,67.5 724.0,67.5 724.2,67.5 724.4,67.5 724.6,67.6 724.8,67.6 725.0,67.7 725.2,67.7 725.4,67.8 725.6,67.8 725.8,67.9 726.0,67.9 726.2,68.0 726.3,68.0 726.5,68.0 726.7,68.1 726.9,68.1 727.1,68.1 727.3,68.1 727.5,68.1 727.7,68.2 727.9,68.2 728.1,68.2 728.3,68.2 728.5,68.2 728.7,68.2 728.9,68.2 729.1,68.2 729.3,68.2 729.5,68.2 729.7,68.2 729.9,68.2 730.0,68.2 730.2,68.2 730.4,68.2 730.6,68.2 730.8,68.2 731.0,68.2 731.2,68.2 731.4,68.2 731.6,68.2 731.8,68.2 732.0,68.2 732.2,68.2 732.4,68.2 732.6,68.2 732.8,68.2 733.0,68.2 733.2,68.2 733.4,68.2 733.6,68.2 733.7,68.2 733.9,68.2 734.1,68.2 734.3,68.2 734.5,68.2 734.7,68.2 734.9,68.2 735.1,68.2 735.3,68.2 735.5,68.2 735.7,68.2 735.9,68.2 736.1,68.2 736.3,68.2 736.5,68.2 736.7,68.2 736.9,68.2 737.1,68.2 737.3,68.2 737.4,68.2 737.6,68.2 737.8,68.2 738.0,68.2 738.2,68.2 738.4,68.2 738.6,68.2 738.8,68.2 739.0,68.2 739.2,68.2 739.4,68.2 739.6,68.2 739.8,68.2 740.0,68.2 740.2,68.2 740.4,68.2 740.6,68.2 740.8,68.2 741.0,68.2 741.1,68.2 741.3,68.2 741.5,68.2 741.7,68.2 741.9,68.2 742.1,68.2 742.3,68.2 742.5,68.2 742.7,68.2 742.9,68.2 743.1,68.2 743.3,68.2 743.5,68.2 743.7,68.2 743.9,68.2 744.1,68.2 744.3,68.2 744.5,68.2 744.7,68.2 744.9,68.2 745.0,68.2 745.2,68.2 745.4,68.2 745.6,68.2 745.8,68.2 746.0,68.2 746.2,68.2 746.4,68.2 746.6,68.2 746.8,68.2 747.0,68.2 747.2,68.2 747.4,68.2 747.6,68.2 747.8,68.2 748.0,68.2 748.2,68.2 748.4,68.2 748.6,68.2 748.7,68.2 748.9,68.2 749.1,68.2 749.3,68.2 749.5,68.2 749.7,68.2 749.9,68.2 750.1,68.2 750.3,68.2 750.5,68.2 750.7,68.2 750.9,68.2 751.1,68.2 751.3,68.2 751.5,68.2 751.7,68.2 751.9,68.2 752.1,68.2 752.3,68.2 752.4,68.2 752.6,68.2 752.8,68.2 753.0,68.2 753.2,68.2 753.4,68.2 753.6,68.2 753.8,68.2 754.0,68.2 754.2,68.2 754.4,68.2 754.6,68.2 754.8,68.2 755.0,68.2 755.2,68.2 755.4,68.2 755.6,68.2 755.8,68.2 756.0,68.2 756.1,68.2 756.3,68.2 756.5,68.2 756.7,68.2 756.9,68.2 757.1,68.2 757.3,68.2 757.5,68.2 757.7,68.2 757.9,68.2 758.1,68.2 758.3,68.2 758.5,68.2 758.7,68.2 758.9,68.2 759.1,68.2 759.3,68.2 759.5,68.2 759.7,68.2 759.8,68.2 760.0,68.2 760.2,68.2 760.4,68.2 760.6,68.2 760.8,68.2 761.0,68.2 761.2,68.2 761.4,68.2 761.6,68.2 761.8,68.2 762.0,68.2 762.2,68.2 762.4,68.2 762.6,68.2 762.8,68.2 763.0,68.2 763.2,68.2 763.4,68.2 763.5,68.2 763.7,68.2 763.9,68.2 764.1,68.2 764.3,68.2 764.5,68.2 764.7,68.2 764.9,68.2 765.1,68.2 765.3,68.2 765.5,68.2 765.7,68.2 765.9,68.2 766.1,68.2 766.3,68.2 766.5,68.2 766.7,68.2 766.9,68.2 767.1,68.2 767.2,68.2 767.4,68.2 767.6,68.2 767.8,68.2 768.0,68.2 768.2,68.2 768.4,68.2 768.6,68.2 768.8,68.2 769.0,68.2 769.2,68.2 769.4,68.2 769.6,68.2 769.8,68.2 770.0,68.2 770.2,68.2 770.4,68.2 770.6,68.2 770.8,68.2 770.9,68.2 771.1,68.2 771.3,68.2 771.5,68.2 771.7,68.2 771.9,68.2 772.1,68.2 772.3,68.2 772.5,68.2 772.7,68.2 772.9,68.2 773.1,68.2 773.3,68.2 773.5,68.2 773.7,68.2 773.9,68.2 774.1,68.2 774.3,68.2 774.5,68.2 774.6,68.2 774.8,68.2 775.0,68.2 775.2,68.2 775.4,68.2 775.6,68.2 775.8,68.2 776.0,68.2 776.2,68.1 776.4,68.1 776.6,68.1 776.8,68.1 777.0,68.1 777.2,68.1 777.4,68.0 777.6,68.0 777.8,68.0 778.0,67.9 778.2,67.9 778.3,67.9 778.5,67.9 778.7,67.8 778.9,67.8 779.1,67.8 779.3,67.8 779.5,67.8 779.7,67.8 779.9,67.8 780.1,67.9 780.3,67.9 780.5,67.9 780.7,67.9 780.9,68.0 781.1,68.0 781.3,68.0 781.5,68.1 781.7,68.1 781.9,68.1 782.0,68.1 782.2,68.1 782.4,68.1 782.6,68.2 782.8,68.2 783.0,68.2 783.2,68.2 783.4,68.2 783.6,68.2 783.8,68.2 784.0,68.2 784.2,68.2 784.4,68.2 784.6,68.2 784.8,68.2 785.0,68.2 785.2,68.2 785.4,68.2 785.6,68.2 785.7,68.2 785.9,68.2 786.1,68.2 786.3,68.2 786.5,68.2 786.7,68.2 786.9,68.2 787.1,68.2 787.3,68.2 787.5,68.2 787.7,68.2 787.9,68.1 788.1,68.1 788.3,68.1 788.5,68.1 788.7,68.1 788.9,68.1 789.1,68.0 789.3,68.0 789.4,68.0 789.6,67.9 789.8,67.8 790.0,67.8 790.2,67.7 790.4,67.6 790.6,67.6 790.8,67.5 791.0,67.4 791.2,67.4 791.4,67.3 791.6,67.3 791.8,67.3 792.0,67.3 792.2,67.3 792.4,67.4 792.6,67.4 792.8,67.5 793.0,67.6 793.1,67.6 793.3,67.7 793.5,67.8 793.7,67.8 793.9,67.9 794.1,68.0 794.3,68.0 794.5,68.0 794.7,68.1 794.9,68.1 795.1,68.1 795.3,68.1 795.5,68.1 795.7,68.1 795.9,68.2 796.1,68.2 796.3,68.2 796.5,68.2 796.7,68.2 796.8,68.2 797.0,68.2 797.2,68.2 797.4,68.2 797.6,68.2 797.8,68.2 798.0,68.2 798.2,68.2 798.4,68.2 798.6,68.2 798.8,68.2 799.0,68.2 799.2,68.2 799.4,68.2 799.6,68.2 799.8,68.2 800.0,68.2 800.2,68.2 800.4,68.2 800.5,68.2 800.7,68.2 800.9,68.2 801.1,68.2 801.3,68.2 801.5,68.2 801.7,68.2 801.9,68.2 802.1,68.2 802.3,68.2 802.5,68.2 802.7,68.2 802.9,68.2 803.1,68.2 803.3,68.2 803.5,68.2 803.7,68.2 803.9,68.2 804.1,68.2 804.2,68.2 804.4,68.2 804.6,68.2 804.8,68.2 805.0,68.2 805.2,68.2 805.4,68.2 805.6,68.2 805.8,68.2 806.0,68.2 806.2,68.2 806.4,68.2 806.6,68.2 806.8,68.2 807.0,68.2 807.2,68.2 807.4,68.2 807.6,68.2 807.8,68.2 807.9,68.2 808.1,68.2 808.3,68.2 808.5,68.2 808.7,68.2 808.9,68.2 809.1,68.2 809.3,68.2 809.5,68.2 809.7,68.2 809.9,68.2 810.1,68.2 810.3,68.2 810.5,68.2 810.7,68.2 810.9,68.2 811.1,68.2 811.3,68.2 811.5,68.2 811.6,68.2 811.8,68.2 812.0,68.2 812.2,68.2 812.4,68.2 812.6,68.2 812.8,68.2 813.0,68.2 813.2,68.2 813.4,68.2 813.6,68.2 813.8,68.2 814.0,68.2 814.2,68.2 814.4,68.2 814.6,68.2 814.8,68.2 815.0,68.2 815.2,68.2 815.3,68.2 815.5,68.2 815.7,68.2 815.9,68.2 816.1,68.2 816.3,68.2 816.5,68.2 816.7,68.2 816.9,68.2 817.1,68.2 817.3,68.2 817.5,68.2 817.7,68.2 817.9,68.2 818.1,68.2 818.3,68.2 818.5,68.2 818.7,68.2 818.9,68.2 819.0,68.2 819.2,68.2 819.4,68.2 819.6,68.2 819.8,68.2 820.0,68.2 820.2,68.2 820.4,68.2 820.6,68.2 820.8,68.2 821.0,68.2 821.2,68.2 821.4,68.2 821.6,68.2 821.8,68.2 822.0,68.2 822.2,68.2 822.4,68.2 822.6,68.2 822.8,68.2 822.9,68.2 823.1,68.2 823.3,68.2 823.5,68.2 823.7,68.2 823.9,68.2 824.1,68.2 824.3,68.2 824.5,68.2 824.7,68.2 824.9,68.2 825.1,68.2 825.3,68.2 825.5,68.2 825.7,68.2 825.9,68.2 826.1,68.2 826.3,68.2 826.5,68.2 826.6,68.2 826.8,68.2 827.0,68.2 827.2,68.2 827.4,68.2 827.6,68.2 827.8,68.2 828.0,68.2 828.2,68.2 828.4,68.2 828.6,68.2 828.8,68.2 829.0,68.2 829.2,68.2 829.4,68.2 829.6,68.2 829.8,68.2 830.0,68.2 830.2,68.2 830.3,68.2 830.5,68.2 830.7,68.2 830.9,68.2 831.1,68.2 831.3,68.2 831.5,68.2 831.7,68.2 831.9,68.2 832.1,68.2 832.3,68.2 832.5,68.2 832.7,68.2 832.9,68.2 833.1,68.2 833.3,68.2 833.5,68.2 833.7,68.2 833.9,68.2 834.0,68.2 834.2,68.2 834.4,68.2 834.6,68.2 834.8,68.2 835.0,68.2 835.2,68.2 835.4,68.2 835.6,68.2 835.8,68.2 836.0,68.2 836.2,68.2 836.4,68.2 836.6,68.2 836.8,68.2 837.0,68.2 837.2,68.2 837.4,68.2 837.6,68.2 837.7,68.2 837.9,68.2 838.1,68.2 838.3,68.2 838.5,68.2 838.7,68.2 838.9,68.2 839.1,68.2 839.3,68.2 839.5,68.1 839.7,68.1 839.9,68.1 840.1,68.1 840.3,68.1 840.5,68.0 840.7,68.0 840.9,68.0 841.1,68.0 841.3,67.9 841.4,67.9 841.6,67.9 841.8,67.8 842.0,67.8 842.2,67.8 842.4,67.8 842.6,67.8 842.8,67.8 843.0,67.8 843.2,67.9 843.4,67.9 843.6,67.9 843.8,68.0 844.0,68.0 844.2,68.0 844.4,68.0 844.6,68.1 844.8,68.1 845.0,68.1 845.1,68.1 845.3,68.1 845.5,68.2 845.7,68.2 845.9,68.2 846.1,68.2 846.3,68.2 846.5,68.2 846.7,68.2 846.9,68.2 847.1,68.2 847.3,68.2 847.5,68.2 847.7,68.2 847.9,68.2 848.1,68.2 848.3,68.2 848.5,68.2 848.7,68.2 848.8,68.2 849.0,68.2 849.2,68.2 849.4,68.2 849.6,68.2 849.8,68.2 850.0,68.2 850.2,68.2 850.4,68.2 850.6,68.2 850.8,68.2 851.0,68.2 851.2,68.2 851.4,68.2 851.6,68.2 851.8,68.2 852.0,68.2 852.2,68.2 852.4,68.2 852.5,68.2 852.7,68.2 852.9,68.2 853.1,68.2 853.3,68.2 853.5,68.2 853.7,68.2 853.9,68.2 854.1,68.2 854.3,68.2 854.5,68.2 854.7,68.2 854.9,68.2 855.1,68.2 855.3,68.2 855.5,68.2 855.7,68.2 855.9,68.2 856.1,68.2 856.2,68.2 856.4,68.2 856.6,68.2 856.8,68.2 857.0,68.2 857.2,68.2 857.4,68.2 857.6,68.2 857.8,68.2 858.0,68.2" fill="none" stroke="#ff00ff" stroke-width="1.3" stroke-linejoin="round"/>
<polyline points="468.5,101.4 468.7,101.4 468.9,101.4 469.1,101.4 469.3,101.4 469.5,101.4 469.7,101.4 469.9,101.4 470.1,101.4 470.3,101.4 470.4,101.4 470.6,101.4 470.8,101.4 471.0,101.4 471.2,101.4 471.4,101.4 471.6,101.4 471.8,101.4 472.0,101.4 472.2,101.4 472.4,101.4 472.6,101.4 472.8,101.4 473.0,101.4 473.2,101.4 473.4,101.4 473.6,101.4 473.8,101.4 474.0,101.4 474.1,101.4 474.3,101.4 474.5,101.4 474.7,101.4 474.9,101.4 475.1,101.4 475.3,101.4 475.5,101.3 475.7,101.3 475.9,101.3 476.1,101.3 476.3,101.3 476.5,101.3 476.7,101.3 476.9,101.3 477.1,101.3 477.3,101.3 477.5,101.3 477.7,101.2 477.8,101.2 478.0,101.2 478.2,101.1 478.4,101.0 478.6,101.0 478.8,100.9 479.0,100.8 479.2,100.7 479.4,100.6 479.6,100.4 479.8,100.3 480.0,100.2 480.2,100.1 480.4,100.0 480.6,99.9 480.8,99.9 481.0,99.9 481.2,99.9 481.4,99.9 481.5,100.0 481.7,100.1 481.9,100.2 482.1,100.3 482.3,100.4 482.5,100.5 482.7,100.7 482.9,100.8 483.1,100.9 483.3,100.9 483.5,101.0 483.7,101.1 483.9,101.1 484.1,101.2 484.3,101.2 484.5,101.2 484.7,101.2 484.9,101.2 485.1,101.3 485.2,101.3 485.4,101.3 485.6,101.3 485.8,101.2 486.0,101.2 486.2,101.2 486.4,101.2 486.6,101.2 486.8,101.1 487.0,101.1 487.2,101.0 487.4,101.0 487.6,100.9 487.8,100.9 488.0,100.8 488.2,100.7 488.4,100.6 488.6,100.5 488.8,100.5 488.9,100.4 489.1,100.3 489.3,100.3 489.5,100.3 489.7,100.3 489.9,100.3 490.1,100.4 490.3,100.4 490.5,100.5 490.7,100.6 490.9,100.7 491.1,100.7 491.3,100.8 491.5,100.9 491.7,100.9 491.9,101.0 492.1,101.0 492.3,101.0 492.5,101.1 492.6,101.1 492.8,101.1 493.0,101.1 493.2,101.1 493.4,101.1 493.6,101.1 493.8,101.1 494.0,101.0 494.2,101.0 494.4,101.0 494.6,101.0 494.8,100.9 495.0,100.9 495.2,100.8 495.4,100.7 495.6,100.6 495.8,100.5 496.0,100.3 496.2,100.0 496.3,99.5 496.5,98.9 496.7,98.1 496.9,97.0 497.1,95.6 497.3,93.9 497.5,92.0 497.7,89.8 497.9,87.5 498.1,85.2 498.3,83.2 498.5,81.6 498.7,80.7 498.9,80.7 499.1,81.4 499.3,82.8 499.5,84.8 499.7,87.0 499.9,89.3 500.0,91.5 500.2,93.6 500.4,95.3 500.6,96.8 500.8,97.9 501.0,98.8 501.2,99.4 501.4,99.9 501.6,100.2 501.8,100.5 502.0,100.6 502.2,100.7 502.4,100.8 502.6,100.9 502.8,100.9 503.0,101.0 503.2,101.0 503.4,101.0 503.6,101.1 503.7,101.1 503.9,101.1 504.1,101.1 504.3,101.2 504.5,101.2 504.7,101.2 504.9,101.2 505.1,101.2 505.3,101.2 505.5,101.2 505.7,101.2 505.9,101.2 506.1,101.3 506.3,101.3 506.5,101.3 506.7,101.3 506.9,101.3 507.1,101.3 507.3,101.3 507.5,101.3 507.6,101.3 507.8,101.3 508.0,101.3 508.2,101.3 508.4,101.3 508.6,101.3 508.8,101.3 509.0,101.3 509.2,101.3 509.4,101.3 509.6,101.3 509.8,101.3 510.0,101.3 510.2,101.3 510.4,101.3 510.6,101.3 510.8,101.3 511.0,101.3 511.2,101.3 511.3,101.3 511.5,101.3 511.7,101.4 511.9,101.4 512.1,101.4 512.3,101.4 512.5,101.4 512.7,101.4 512.9,101.4 513.1,101.4 513.3,101.4 513.5,101.4 513.7,101.4 513.9,101.4 514.1,101.4 514.3,101.4 514.5,101.4 514.7,101.4 514.9,101.4 515.0,101.4 515.2,101.4 515.4,101.4 515.6,101.4 515.8,101.4 516.0,101.4 516.2,101.4 516.4,101.4 516.6,101.4 516.8,101.4 517.0,101.4 517.2,101.4 517.4,101.4 517.6,101.4 517.8,101.4 518.0,101.4 518.2,101.4 518.4,101.4 518.6,101.4 518.7,101.4 518.9,101.4 519.1,101.4 519.3,101.4 519.5,101.4 519.7,101.4 519.9,101.4 520.1,101.4 520.3,101.4 520.5,101.4 520.7,101.4 520.9,101.4 521.1,101.4 521.3,101.4 521.5,101.4 521.7,101.4 521.9,101.4 522.1,101.4 522.3,101.4 522.4,101.4 522.6,101.4 522.8,101.4 523.0,101.4 523.2,101.4 523.4,101.4 523.6,101.4 523.8,101.4 524.0,101.4 524.2,101.4 524.4,101.4 524.6,101.4 524.8,101.4 525.0,101.4 525.2,101.4 525.4,101.4 525.6,101.4 525.8,101.4 526.0,101.4 526.1,101.4 526.3,101.4 526.5,101.4 526.7,101.4 526.9,101.4 527.1,101.4 527.3,101.4 527.5,101.4 527.7,101.4 527.9,101.4 528.1,101.4 528.3,101.4 528.5,101.4 528.7,101.4 528.9,101.4 529.1,101.4 529.3,101.4 529.5,101.4 529.7,101.4 529.8,101.4 530.0,101.4 530.2,101.4 530.4,101.4 530.6,101.4 530.8,101.4 531.0,101.4 531.2,101.4 531.4,101.4 531.6,101.4 531.8,101.4 532.0,101.4 532.2,101.4 532.4,101.4 532.6,101.4 532.8,101.4 533.0,101.4 533.2,101.4 533.4,101.4 533.5,101.4 533.7,101.4 533.9,101.4 534.1,101.4 534.3,101.4 534.5,101.4 534.7,101.4 534.9,101.4 535.1,101.4 535.3,101.4 535.5,101.4 535.7,101.4 535.9,101.4 536.1,101.4 536.3,101.4 536.5,101.4 536.7,101.4 536.9,101.4 537.1,101.4 537.2,101.4 537.4,101.4 537.6,101.4 537.8,101.4 538.0,101.4 538.2,101.4 538.4,101.4 538.6,101.4 538.8,101.4 539.0,101.4 539.2,101.4 539.4,101.4 539.6,101.4 539.8,101.4 540.0,101.4 540.2,101.4 540.4,101.4 540.6,101.4 540.8,101.4 540.9,101.4 541.1,101.4 541.3,101.4 541.5,101.4 541.7,101.4 541.9,101.4 542.1,101.4 542.3,101.4 542.5,101.4 542.7,101.4 542.9,101.4 543.1,101.4 543.3,101.4 543.5,101.4 543.7,101.4 543.9,101.4 544.1,101.4 544.3,101.4 544.5,101.4 544.6,101.4 544.8,101.4 545.0,101.4 545.2,101.4 545.4,101.4 545.6,101.4 545.8,101.4 546.0,101.4 546.2,101.4 546.4,101.4 546.6,101.4 546.8,101.4 547.0,101.4 547.2,101.4 547.4,101.4 547.6,101.4 547.8,101.4 548.0,101.4 548.2,101.4 548.3,101.4 548.5,101.4 548.7,101.4 548.9,101.4 549.1,101.4 549.3,101.4 549.5,101.4 549.7,101.4 549.9,101.4 550.1,101.4 550.3,101.4 550.5,101.4 550.7,101.4 550.9,101.4 551.1,101.4 551.3,101.4 551.5,101.4 551.7,101.4 551.9,101.4 552.0,101.4 552.2,101.4 552.4,101.4 552.6,101.4 552.8,101.4 553.0,101.4 553.2,101.4 553.4,101.4 553.6,101.4 553.8,101.4 554.0,101.4 554.2,101.4 554.4,101.4 554.6,101.4 554.8,101.4 555.0,101.4 555.2,101.4 555.4,101.4 555.6,101.4 555.7,101.4 555.9,101.4 556.1,101.4 556.3,101.4 556.5,101.4 556.7,101.4 556.9,101.4 557.1,101.4 557.3,101.4 557.5,101.4 557.7,101.4 557.9,101.4 558.1,101.4 558.3,101.4 558.5,101.4 558.7,101.4 558.9,101.4 559.1,101.4 559.3,101.4 559.4,101.4 559.6,101.4 559.8,101.4 560.0,101.4 560.2,101.4 560.4,101.4 560.6,101.4 560.8,101.4 561.0,101.4 561.2,101.4 561.4,101.4 561.6,101.4 561.8,101.4 562.0,101.4 562.2,101.4 562.4,101.4 562.6,101.4 562.8,101.4 563.0,101.4 563.1,101.4 563.3,101.4 563.5,101.4 563.7,101.4 563.9,101.4 564.1,101.4 564.3,101.4 564.5,101.4 564.7,101.4 564.9,101.4 565.1,101.4 565.3,101.4 565.5,101.4 565.7,101.4 565.9,101.4 566.1,101.4 566.3,101.4 566.5,101.4 566.7,101.4 566.8,101.4 567.0,101.4 567.2,101.4 567.4,101.4 567.6,101.4 567.8,101.4 568.0,101.4 568.2,101.4 568.4,101.4 568.6,101.4 568.8,101.4 569.0,101.4 569.2,101.4 569.4,101.4 569.6,101.4 569.8,101.4 570.0,101.4 570.2,101.4 570.4,101.4 570.5,101.4 570.7,101.4 570.9,101.4 571.1,101.4 571.3,101.4 571.5,101.4 571.7,101.4 571.9,101.4 572.1,101.4 572.3,101.4 572.5,101.4 572.7,101.4 572.9,101.4 573.1,101.4 573.3,101.4 573.5,101.4 573.7,101.4 573.9,101.4 574.1,101.4 574.2,101.4 574.4,101.4 574.6,101.4 574.8,101.4 575.0,101.4 575.2,101.4 575.4,101.4 575.6,101.4 575.8,101.3 576.0,101.3 576.2,101.3 576.4,101.3 576.6,101.3 576.8,101.3 577.0,101.2 577.2,101.2 577.4,101.2 577.6,101.1 577.8,101.1 577.9,101.0 578.1,100.9 578.3,100.9 578.5,100.8 578.7,100.7 578.9,100.6 579.1,100.5 579.3,100.5 579.5,100.4 579.7,100.4 579.9,100.4 580.1,100.4 580.3,100.4 580.5,100.5 580.7,100.5 580.9,100.6 581.1,100.7 581.3,100.8 581.5,100.8 581.6,100.9 581.8,101.0 582.0,101.1 582.2,101.1 582.4,101.2 582.6,101.2 582.8,101.2 583.0,101.3 583.2,101.3 583.4,101.3 583.6,101.3 583.8,101.3 584.0,101.3 584.2,101.3 584.4,101.3 584.6,101.4 584.8,101.4 585.0,101.4 585.2,101.4 585.3,101.4 585.5,101.4 585.7,101.4 585.9,101.4 586.1,101.4 586.3,101.4 586.5,101.4 586.7,101.4 586.9,101.4 587.1,101.4 587.3,101.4 587.5,101.4 587.7,101.4 587.9,101.4 588.1,101.4 588.3,101.4 588.5,101.4 588.7,101.4 588.9,101.4 589.1,101.4 589.2,101.4 589.4,101.4 589.6,101.4 589.8,101.4 590.0,101.4 590.2,101.4 590.4,101.4 590.6,101.4 590.8,101.4 591.0,101.4 591.2,101.4 591.4,101.4 591.6,101.3 591.8,101.3 592.0,101.3 592.2,101.3 592.4,101.3 592.6,101.3 592.8,101.3 592.9,101.3 593.1,101.3 593.3,101.3 593.5,101.3 593.7,101.2 593.9,101.2 594.1,101.2 594.3,101.1 594.5,101.1 594.7,101.0 594.9,100.9 595.1,100.9 595.3,100.8 595.5,100.7 595.7,100.6 595.9,100.5 596.1,100.4 596.3,100.3 596.5,100.2 596.6,100.1 596.8,100.1 597.0,100.1 597.2,100.1 597.4,100.1 597.6,100.2 597.8,100.3 598.0,100.4 598.2,100.5 598.4,100.6 598.6,100.7 598.8,100.8 599.0,100.8 599.2,100.9 599.4,101.0 599.6,101.1 599.8,101.1 600.0,101.2 600.2,101.2 600.3,101.2 600.5,101.2 600.7,101.3 600.9,101.3 601.1,101.3 601.3,101.3 601.5,101.3 601.7,101.3 601.9,101.3 602.1,101.3 602.3,101.3 602.5,101.3 602.7,101.3 602.9,101.3 603.1,101.3 603.3,101.3 603.5,101.3 603.7,101.2 603.9,101.2 604.0,101.2 604.2,101.2 604.4,101.2 604.6,101.2 604.8,101.2 605.0,101.2 605.2,101.1 605.4,101.1 605.6,101.1 605.8,101.0 606.0,101.0 606.2,100.9 606.4,100.8 606.6,100.7 606.8,100.5 607.0,100.2 607.2,99.9 607.4,99.5 607.6,99.1 607.7,98.5 607.9,97.9 608.1,97.2 608.3,96.4 608.5,95.6 608.7,94.8 608.9,94.1 609.1,93.5 609.3,93.0 609.5,92.7 609.7,92.6 609.9,92.8 610.1,93.1 610.3,93.7 610.5,94.4 610.7,95.1 610.9,95.9 611.1,96.7 611.3,97.5 611.4,98.1 611.6,98.7 611.8,99.3 612.0,99.7 612.2,100.1 612.4,100.3 612.6,100.6 612.8,100.7 613.0,100.8 613.2,100.9 613.4,101.0 613.6,101.1 613.8,101.1 614.0,101.1 614.2,101.2 614.4,101.2 614.6,101.2 614.8,101.2 615.0,101.2 615.1,101.2 615.3,101.3 615.5,101.3 615.7,101.3 615.9,101.3 616.1,101.3 616.3,101.3 616.5,101.3 616.7,101.3 616.9,101.3 617.1,101.3 617.3,101.3 617.5,101.3 617.7,101.3 617.9,101.3 618.1,101.3 618.3,101.3 618.5,101.3 618.7,101.3 618.8,101.3 619.0,101.3 619.2,101.3 619.4,101.3 619.6,101.3 619.8,101.3 620.0,101.3 620.2,101.4 620.4,101.4 620.6,101.4 620.8,101.4 621.0,101.4 621.2,101.4 621.4,101.4 621.6,101.4 621.8,101.4 622.0,101.4 622.2,101.4 622.4,101.4 622.5,101.4 622.7,101.4 622.9,101.4 623.1,101.4 623.3,101.4 623.5,101.4 623.7,101.4 623.9,101.4 624.1,101.4 624.3,101.4 624.5,101.4 624.7,101.4 624.9,101.4 625.1,101.4 625.3,101.4 625.5,101.4 625.7,101.4 625.9,101.4 626.1,101.4 626.2,101.4 626.4,101.4 626.6,101.4 626.8,101.4 627.0,101.4 627.2,101.4 627.4,101.4 627.6,101.4 627.8,101.4 628.0,101.4 628.2,101.4 628.4,101.4 628.6,101.4 628.8,101.4 629.0,101.4 629.2,101.4 629.4,101.4 629.6,101.4 629.8,101.4 629.9,101.4 630.1,101.4 630.3,101.4 630.5,101.4 630.7,101.4 630.9,101.4 631.1,101.4 631.3,101.4 631.5,101.4 631.7,101.4 631.9,101.4 632.1,101.4 632.3,101.3 632.5,101.3 632.7,101.3 632.9,101.3 633.1,101.3 633.3,101.3 633.5,101.3 633.6,101.2 633.8,101.2 634.0,101.2 634.2,101.1 634.4,101.1 634.6,101.0 634.8,101.0 635.0,100.9 635.2,100.9 635.4,100.8 635.6,100.8 635.8,100.8 636.0,100.8 636.2,100.8 636.4,100.8 636.6,100.8 636.8,100.9 637.0,100.9 637.2,101.0 637.3,101.0 637.5,101.1 637.7,101.1 637.9,101.2 638.1,101.2 638.3,101.2 638.5,101.3 638.7,101.3 638.9,101.3 639.1,101.3 639.3,101.3 639.5,101.3 639.7,101.4 639.9,101.4 640.1,101.4 640.3,101.4 640.5,101.4 640.7,101.4 640.9,101.4 641.0,101.4 641.2,101.4 641.4,101.4 641.6,101.4 641.8,101.4 642.0,101.4 642.2,101.4 642.4,101.4 642.6,101.4 642.8,101.4 643.0,101.4 643.2,101.4 643.4,101.4 643.6,101.4 643.8,101.4 644.0,101.4 644.2,101.4 644.4,101.4 644.6,101.4 644.7,101.4 644.9,101.4 645.1,101.4 645.3,101.4 645.5,101.4 645.7,101.4 645.9,101.4 646.1,101.4 646.3,101.4 646.5,101.4 646.7,101.4 646.9,101.4 647.1,101.4 647.3,101.4 647.5,101.4 647.7,101.4 647.9,101.4 648.1,101.4 648.3,101.4 648.4,101.4 648.6,101.4 648.8,101.4 649.0,101.4 649.2,101.4 649.4,101.4 649.6,101.3 649.8,101.3 650.0,101.3 650.2,101.3 650.4,101.3 650.6,101.3 650.8,101.2 651.0,101.2 651.2,101.2 651.4,101.1 651.6,101.1 651.8,101.0 652.0,101.0 652.1,100.9 652.3,100.9 652.5,100.8 652.7,100.8 652.9,100.8 653.1,100.8 653.3,100.8 653.5,100.8 653.7,100.8 653.9,100.9 654.1,100.9 654.3,101.0 654.5,101.0 654.7,101.1 654.9,101.1 655.1,101.2 655.3,101.2 655.5,101.2 655.7,101.3 655.8,101.3 656.0,101.3 656.2,101.3 656.4,101.3 656.6,101.3 656.8,101.4 657.0,101.4 657.2,101.4 657.4,101.4 657.6,101.4 657.8,101.4 658.0,101.4 658.2,101.4 658.4,101.4 658.6,101.4 658.8,101.4 659.0,101.4 659.2,101.4 659.4,101.4 659.5,101.4 659.7,101.4 659.9,101.4 660.1,101.4 660.3,101.4 660.5,101.4 660.7,101.4 660.9,101.4 661.1,101.4 661.3,101.4 661.5,101.4 661.7,101.4 661.9,101.4 662.1,101.4 662.3,101.4 662.5,101.4 662.7,101.4 662.9,101.4 663.1,101.4 663.2,101.4 663.4,101.4 663.6,101.4 663.8,101.4 664.0,101.4 664.2,101.4 664.4,101.4 664.6,101.4 664.8,101.4 665.0,101.4 665.2,101.4 665.4,101.4 665.6,101.4 665.8,101.4 666.0,101.4 666.2,101.4 666.4,101.4 666.6,101.4 666.8,101.4 667.0,101.4 667.1,101.4 667.3,101.4 667.5,101.4 667.7,101.4 667.9,101.4 668.1,101.4 668.3,101.4 668.5,101.4 668.7,101.4 668.9,101.4 669.1,101.4 669.3,101.4 669.5,101.4 669.7,101.4 669.9,101.4 670.1,101.4 670.3,101.4 670.5,101.4 670.7,101.4 670.8,101.4 671.0,101.4 671.2,101.4 671.4,101.4 671.6,101.4 671.8,101.4 672.0,101.4 672.2,101.4 672.4,101.4 672.6,101.4 672.8,101.4 673.0,101.4 673.2,101.4 673.4,101.4 673.6,101.4 673.8,101.4 674.0,101.4 674.2,101.4 674.4,101.4 674.5,101.4 674.7,101.4 674.9,101.4 675.1,101.4 675.3,101.4 675.5,101.4 675.7,101.4 675.9,101.4 676.1,101.4 676.3,101.4 676.5,101.4 676.7,101.4 676.9,101.4 677.1,101.4 677.3,101.4 677.5,101.4 677.7,101.4 677.9,101.4 678.1,101.4 678.2,101.4 678.4,101.4 678.6,101.4 678.8,101.4 679.0,101.4 679.2,101.4 679.4,101.4 679.6,101.4 679.8,101.4 680.0,101.4 680.2,101.4 680.4,101.3 680.6,101.3 680.8,101.3 681.0,101.3 681.2,101.3 681.4,101.2 681.6,101.2 681.8,101.2 681.9,101.1 682.1,101.1 682.3,101.0 682.5,100.9 682.7,100.9 682.9,100.8 683.1,100.7 683.3,100.6 683.5,100.5 683.7,100.5 683.9,100.4 684.1,100.4 684.3,100.4 684.5,100.4 684.7,100.4 684.9,100.5 685.1,100.5 685.3,100.6 685.5,100.7 685.6,100.8 685.8,100.9 686.0,100.9 686.2,101.0 686.4,101.1 686.6,101.1 686.8,101.2 687.0,101.2 687.2,101.2 687.4,101.3 687.6,101.3 687.8,101.3 688.0,101.3 688.2,101.3 688.4,101.3 688.6,101.4 688.8,101.4 689.0,101.4 689.2,101.4 689.3,101.4 689.5,101.4 689.7,101.4 689.9,101.4 690.1,101.4 690.3,101.4 690.5,101.4 690.7,101.4 690.9,101.4 691.1,101.4 691.3,101.4 691.5,101.4 691.7,101.4 691.9,101.4 692.1,101.4 692.3,101.4 692.5,101.4 692.7,101.4 692.9,101.4 693.0,101.4 693.2,101.4 693.4,101.4 693.6,101.4 693.8,101.4 694.0,101.4 694.2,101.4 694.4,101.4 694.6,101.4 694.8,101.4 695.0,101.4 695.2,101.4 695.4,101.4 695.6,101.4 695.8,101.4 696.0,101.4 696.2,101.4 696.4,101.4 696.6,101.4 696.7,101.4 696.9,101.4 697.1,101.4 697.3,101.4 697.5,101.4 697.7,101.4 697.9,101.4 698.1,101.4 698.3,101.4 698.5,101.4 698.7,101.4 698.9,101.4 699.1,101.4 699.3,101.4 699.5,101.4 699.7,101.4 699.9,101.4 700.1,101.4 700.3,101.4 700.4,101.4 700.6,101.3 700.8,101.3 701.0,101.3 701.2,101.3 701.4,101.3 701.6,101.3 701.8,101.2 702.0,101.2 702.2,101.2 702.4,101.1 702.6,101.1 702.8,101.1 703.0,101.1 703.2,101.0 703.4,101.0 703.6,101.0 703.8,101.0 704.0,101.0 704.1,101.0 704.3,101.0 704.5,101.1 704.7,101.1 704.9,101.1 705.1,101.1 705.3,101.2 705.5,101.2 705.7,101.2 705.9,101.3 706.1,101.3 706.3,101.3 706.5,101.3 706.7,101.3 706.9,101.3 707.1,101.4 707.3,101.4 707.5,101.4 707.7,101.4 707.8,101.4 708.0,101.4 708.2,101.4 708.4,101.4 708.6,101.4 708.8,101.4 709.0,101.4 709.2,101.4 709.4,101.4 709.6,101.4 709.8,101.4 710.0,101.4 710.2,101.4 710.4,101.4 710.6,101.4 710.8,101.4 711.0,101.4 711.2,101.4 711.4,101.4 711.5,101.4 711.7,101.4 711.9,101.4 712.1,101.4 712.3,101.4 712.5,101.4 712.7,101.4 712.9,101.4 713.1,101.4 713.3,101.4 713.5,101.4 713.7,101.4 713.9,101.4 714.1,101.4 714.3,101.4 714.5,101.4 714.7,101.4 714.9,101.4 715.1,101.4 715.2,101.4 715.4,101.4 715.6,101.4 715.8,101.4 716.0,101.4 716.2,101.4 716.4,101.4 716.6,101.4 716.8,101.4 717.0,101.4 717.2,101.4 717.4,101.4 717.6,101.4 717.8,101.4 718.0,101.4 718.2,101.4 718.4,101.4 718.6,101.4 718.8,101.4 718.9,101.4 719.1,101.4 719.3,101.4 719.5,101.4 719.7,101.4 719.9,101.4 720.1,101.4 720.3,101.4 720.5,101.3 720.7,101.3 720.9,101.3 721.1,101.3 721.3,101.3 721.5,101.2 721.7,101.2 721.9,101.2 722.1,101.1 722.3,101.1 722.5,101.0 722.6,101.0 722.8,100.9 723.0,100.9 723.2,100.8 723.4,100.8 723.6,100.7 723.8,100.7 724.0,100.7 724.2,100.7 724.4,100.7 724.6,100.8 724.8,100.8 725.0,100.9 725.2,100.9 725.4,101.0 725.6,101.0 725.8,101.1 726.0,101.1 726.2,101.2 726.3,101.2 726.5,101.2 726.7,101.3 726.9,101.3 727.1,101.3 727.3,101.3 727.5,101.3 727.7,101.4 727.9,101.4 728.1,101.4 728.3,101.4 728.5,101.4 728.7,101.4 728.9,101.4 729.1,101.4 729.3,101.4 729.5,101.4 729.7,101.4 729.9,101.4 730.0,101.4 730.2,101.4 730.4,101.4 730.6,101.4 730.8,101.4 731.0,101.4 731.2,101.4 731.4,101.4 731.6,101.4 731.8,101.4 732.0,101.4 732.2,101.4 732.4,101.4 732.6,101.4 732.8,101.4 733.0,101.4 733.2,101.4 733.4,101.4 733.6,101.4 733.7,101.4 733.9,101.4 734.1,101.4 734.3,101.4 734.5,101.4 734.7,101.4 734.9,101.4 735.1,101.4 735.3,101.4 735.5,101.4 735.7,101.4 735.9,101.4 736.1,101.4 736.3,101.4 736.5,101.4 736.7,101.4 736.9,101.4 737.1,101.4 737.3,101.4 737.4,101.4 737.6,101.4 737.8,101.4 738.0,101.4 738.2,101.4 738.4,101.4 738.6,101.4 738.8,101.4 739.0,101.4 739.2,101.4 739.4,101.4 739.6,101.4 739.8,101.4 740.0,101.4 740.2,101.4 740.4,101.4 740.6,101.4 740.8,101.4 741.0,101.4 741.1,101.4 741.3,101.4 741.5,101.4 741.7,101.4 741.9,101.4 742.1,101.4 742.3,101.4 742.5,101.4 742.7,101.4 742.9,101.4 743.1,101.4 743.3,101.4 743.5,101.4 743.7,101.4 743.9,101.4 744.1,101.4 744.3,101.4 744.5,101.4 744.7,101.4 744.9,101.4 745.0,101.4 745.2,101.4 745.4,101.4 745.6,101.4 745.8,101.4 746.0,101.4 746.2,101.4 746.4,101.4 746.6,101.4 746.8,101.4 747.0,101.4 747.2,101.4 747.4,101.4 747.6,101.4 747.8,101.4 748.0,101.4 748.2,101.4 748.4,101.4 748.6,101.4 748.7,101.4 748.9,101.4 749.1,101.4 749.3,101.4 749.5,101.4 749.7,101.4 749.9,101.4 750.1,101.4 750.3,101.4 750.5,101.4 750.7,101.4 750.9,101.4 751.1,101.4 751.3,101.4 751.5,101.4 751.7,101.4 751.9,101.4 752.1,101.4 752.3,101.4 752.4,101.4 752.6,101.4 752.8,101.4 753.0,101.4 753.2,101.4 753.4,101.4 753.6,101.4 753.8,101.4 754.0,101.4 754.2,101.4 754.4,101.4 754.6,101.4 754.8,101.4 755.0,101.4 755.2,101.4 755.4,101.4 755.6,101.4 755.8,101.4 756.0,101.4 756.1,101.4 756.3,101.4 756.5,101.4 756.7,101.4 756.9,101.4 757.1,101.4 757.3,101.4 757.5,101.4 757.7,101.4 757.9,101.4 758.1,101.4 758.3,101.4 758.5,101.4 758.7,101.4 758.9,101.4 759.1,101.4 759.3,101.4 759.5,101.4 759.7,101.4 759.8,101.4 760.0,101.4 760.2,101.4 760.4,101.4 760.6,101.4 760.8,101.4 761.0,101.4 761.2,101.4 761.4,101.4 761.6,101.4 761.8,101.4 762.0,101.4 762.2,101.4 762.4,101.4 762.6,101.4 762.8,101.4 763.0,101.4 763.2,101.4 763.4,101.4 763.5,101.4 763.7,101.4 763.9,101.4 764.1,101.4 764.3,101.4 764.5,101.4 764.7,101.4 764.9,101.4 765.1,101.4 765.3,101.4 765.5,101.4 765.7,101.4 765.9,101.4 766.1,101.4 766.3,101.4 766.5,101.4 766.7,101.4 766.9,101.4 767.1,101.4 767.2,101.4 767.4,101.4 767.6,101.4 767.8,101.4 768.0,101.4 768.2,101.4 768.4,101.4 768.6,101.4 768.8,101.4 769.0,101.4 769.2,101.4 769.4,101.4 769.6,101.4 769.8,101.4 770.0,101.4 770.2,101.4 770.4,101.4 770.6,101.4 770.8,101.4 770.9,101.4 771.1,101.4 771.3,101.4 771.5,101.4 771.7,101.4 771.9,101.4 772.1,101.4 772.3,101.4 772.5,101.4 772.7,101.4 772.9,101.4 773.1,101.4 773.3,101.4 773.5,101.4 773.7,101.4 773.9,101.4 774.1,101.4 774.3,101.4 774.5,101.4 774.6,101.4 774.8,101.4 775.0,101.4 775.2,101.4 775.4,101.4 775.6,101.4 775.8,101.4 776.0,101.4 776.2,101.3 776.4,101.3 776.6,101.3 776.8,101.3 777.0,101.3 777.2,101.3 777.4,101.2 777.6,101.2 777.8,101.2 778.0,101.1 778.2,101.1 778.3,101.1 778.5,101.1 778.7,101.0 778.9,101.0 779.1,101.0 779.3,101.0 779.5,101.0 779.7,101.0 779.9,101.0 780.1,101.1 780.3,101.1 780.5,101.1 780.7,101.1 780.9,101.2 781.1,101.2 781.3,101.2 781.5,101.3 781.7,101.3 781.9,101.3 782.0,101.3 782.2,101.3 782.4,101.3 782.6,101.4 782.8,101.4 783.0,101.4 783.2,101.4 783.4,101.4 783.6,101.4 783.8,101.4 784.0,101.4 784.2,101.4 784.4,101.4 784.6,101.4 784.8,101.4 785.0,101.4 785.2,101.4 785.4,101.4 785.6,101.4 785.7,101.4 785.9,101.4 786.1,101.4 786.3,101.4 786.5,101.4 786.7,101.4 786.9,101.4 787.1,101.4 787.3,101.4 787.5,101.4 787.7,101.4 787.9,101.3 788.1,101.3 788.3,101.3 788.5,101.3 788.7,101.3 788.9,101.3 789.1,101.2 789.3,101.2 789.4,101.2 789.6,101.1 789.8,101.0 790.0,101.0 790.2,100.9 790.4,100.8 790.6,100.8 790.8,100.7 791.0,100.6 791.2,100.6 791.4,100.5 791.6,100.5 791.8,100.5 792.0,100.5 792.2,100.5 792.4,100.6 792.6,100.6 792.8,100.7 793.0,100.8 793.1,100.8 793.3,100.9 793.5,101.0 793.7,101.0 793.9,101.1 794.1,101.2 794.3,101.2 794.5,101.2 794.7,101.3 794.9,101.3 795.1,101.3 795.3,101.3 795.5,101.3 795.7,101.3 795.9,101.4 796.1,101.4 796.3,101.4 796.5,101.4 796.7,101.4 796.8,101.4 797.0,101.4 797.2,101.4 797.4,101.4 797.6,101.4 797.8,101.4 798.0,101.4 798.2,101.4 798.4,101.4 798.6,101.4 798.8,101.4 799.0,101.4 799.2,101.4 799.4,101.4 799.6,101.4 799.8,101.4 800.0,101.4 800.2,101.4 800.4,101.4 800.5,101.4 800.7,101.4 800.9,101.4 801.1,101.4 801.3,101.4 801.5,101.4 801.7,101.4 801.9,101.4 802.1,101.4 802.3,101.4 802.5,101.4 802.7,101.4 802.9,101.4 803.1,101.4 803.3,101.4 803.5,101.4 803.7,101.4 803.9,101.4 804.1,101.4 804.2,101.4 804.4,101.4 804.6,101.4 804.8,101.4 805.0,101.4 805.2,101.4 805.4,101.4 805.6,101.4 805.8,101.4 806.0,101.4 806.2,101.4 806.4,101.4 806.6,101.4 806.8,101.4 807.0,101.4 807.2,101.4 807.4,101.4 807.6,101.4 807.8,101.4 807.9,101.4 808.1,101.4 808.3,101.4 808.5,101.4 808.7,101.4 808.9,101.4 809.1,101.4 809.3,101.4 809.5,101.4 809.7,101.4 809.9,101.4 810.1,101.4 810.3,101.4 810.5,101.4 810.7,101.4 810.9,101.4 811.1,101.4 811.3,101.4 811.5,101.4 811.6,101.4 811.8,101.4 812.0,101.4 812.2,101.4 812.4,101.4 812.6,101.4 812.8,101.4 813.0,101.4 813.2,101.4 813.4,101.4 813.6,101.4 813.8,101.4 814.0,101.4 814.2,101.4 814.4,101.4 814.6,101.4 814.8,101.4 815.0,101.4 815.2,101.4 815.3,101.4 815.5,101.4 815.7,101.4 815.9,101.4 816.1,101.4 816.3,101.4 816.5,101.4 816.7,101.4 816.9,101.4 817.1,101.4 817.3,101.4 817.5,101.4 817.7,101.4 817.9,101.4 818.1,101.4 818.3,101.4 818.5,101.4 818.7,101.4 818.9,101.4 819.0,101.4 819.2,101.4 819.4,101.4 819.6,101.4 819.8,101.4 820.0,101.4 820.2,101.4 820.4,101.4 820.6,101.4 820.8,101.4 821.0,101.4 821.2,101.4 821.4,101.4 821.6,101.4 821.8,101.4 822.0,101.4 822.2,101.4 822.4,101.4 822.6,101.4 822.8,101.4 822.9,101.4 823.1,101.4 823.3,101.4 823.5,101.4 823.7,101.4 823.9,101.4 824.1,101.4 824.3,101.4 824.5,101.4 824.7,101.4 824.9,101.4 825.1,101.4 825.3,101.4 825.5,101.4 825.7,101.4 825.9,101.4 826.1,101.4 826.3,101.4 826.5,101.4 826.6,101.4 826.8,101.4 827.0,101.4 827.2,101.4 827.4,101.4 827.6,101.4 827.8,101.4 828.0,101.4 828.2,101.4 828.4,101.4 828.6,101.4 828.8,101.4 829.0,101.4 829.2,101.4 829.4,101.4 829.6,101.4 829.8,101.4 830.0,101.4 830.2,101.4 830.3,101.4 830.5,101.4 830.7,101.4 830.9,101.4 831.1,101.4 831.3,101.4 831.5,101.4 831.7,101.4 831.9,101.4 832.1,101.4 832.3,101.4 832.5,101.4 832.7,101.4 832.9,101.4 833.1,101.4 833.3,101.4 833.5,101.4 833.7,101.4 833.9,101.4 834.0,101.4 834.2,101.4 834.4,101.4 834.6,101.4 834.8,101.4 835.0,101.4 835.2,101.4 835.4,101.4 835.6,101.4 835.8,101.4 836.0,101.4 836.2,101.4 836.4,101.4 836.6,101.4 836.8,101.4 837.0,101.4 837.2,101.4 837.4,101.4 837.6,101.4 837.7,101.4 837.9,101.4 838.1,101.4 838.3,101.4 838.5,101.4 838.7,101.4 838.9,101.4 839.1,101.4 839.3,101.4 839.5,101.3 839.7,101.3 839.9,101.3 840.1,101.3 840.3,101.3 840.5,101.2 840.7,101.2 840.9,101.2 841.1,101.2 841.3,101.1 841.4,101.1 841.6,101.1 841.8,101.0 842.0,101.0 842.2,101.0 842.4,101.0 842.6,101.0 842.8,101.0 843.0,101.0 843.2,101.1 843.4,101.1 843.6,101.1 843.8,101.2 844.0,101.2 844.2,101.2 844.4,101.2 844.6,101.3 844.8,101.3 845.0,101.3 845.1,101.3 845.3,101.3 845.5,101.4 845.7,101.4 845.9,101.4 846.1,101.4 846.3,101.4 846.5,101.4 846.7,101.4 846.9,101.4 847.1,101.4 847.3,101.4 847.5,101.4 847.7,101.4 847.9,101.4 848.1,101.4 848.3,101.4 848.5,101.4 848.7,101.4 848.8,101.4 849.0,101.4 849.2,101.4 849.4,101.4 849.6,101.4 849.8,101.4 850.0,101.4 850.2,101.4 850.4,101.4 850.6,101.4 850.8,101.4 851.0,101.4 851.2,101.4 851.4,101.4 851.6,101.4 851.8,101.4 852.0,101.4 852.2,101.4 852.4,101.4 852.5,101.4 852.7,101.4 852.9,101.4 853.1,101.4 853.3,101.4 853.5,101.4 853.7,101.4 853.9,101.4 854.1,101.4 854.3,101.4 854.5,101.4 854.7,101.4 854.9,101.4 855.1,101.4 855.3,101.4 855.5,101.4 855.7,101.4 855.9,101.4 856.1,101.4 856.2,101.4 856.4,101.4 856.6,101.4 856.8,101.4 857.0,101.4 857.2,101.4 857.4,101.4 857.6,101.4 857.8,101.4 858.0,101.4" fill="none" stroke="#800000" stroke-width="1.3" stroke-linejoin="round"/>
<polyline points="468.5,143.6 468.7,143.6 468.9,143.6 469.1,143.6 469.3,143.6 469.5,143.6 469.7,143.6 469.9,143.6 470.1,143.6 470.3,143.6 470.4,143.6 470.6,143.6 470.8,143.6 471.0,143.6 471.2,143.6 471.4,143.6 471.6,143.6 471.8,143.6 472.0,143.6 472.2,143.6 472.4,143.6 472.6,143.6 472.8,143.6 473.0,143.6 473.2,143.6 473.4,143.6 473.6,143.6 473.8,143.6 474.0,143.6 474.1,143.6 474.3,143.6 474.5,143.6 474.7,143.6 474.9,143.6 475.1,143.6 475.3,143.6 475.5,143.6 475.7,143.6 475.9,143.6 476.1,143.6 476.3,143.6 476.5,143.6 476.7,143.6 476.9,143.6 477.1,143.5 477.3,143.5 477.5,143.5 477.7,143.5 477.8,143.5 478.0,143.5 478.2,143.5 478.4,143.4 478.6,143.4 478.8,143.4 479.0,143.3 479.2,143.3 479.4,143.3 479.6,143.2 479.8,143.2 480.0,143.1 480.2,143.1 480.4,143.0 480.6,143.0 480.8,143.0 481.0,143.0 481.2,143.0 481.4,143.0 481.5,143.0 481.7,143.1 481.9,143.1 482.1,143.1 482.3,143.2 482.5,143.2 482.7,143.3 482.9,143.3 483.1,143.4 483.3,143.4 483.5,143.4 483.7,143.4 483.9,143.5 484.1,143.5 484.3,143.5 484.5,143.5 484.7,143.5 484.9,143.5 485.1,143.5 485.2,143.5 485.4,143.5 485.6,143.5 485.8,143.5 486.0,143.5 486.2,143.5 486.4,143.5 486.6,143.5 486.8,143.5 487.0,143.5 487.2,143.5 487.4,143.5 487.6,143.5 487.8,143.5 488.0,143.5 488.2,143.5 488.4,143.5 488.6,143.5 488.8,143.5 488.9,143.5 489.1,143.5 489.3,143.5 489.5,143.5 489.7,143.5 489.9,143.5 490.1,143.5 490.3,143.5 490.5,143.5 490.7,143.5 490.9,143.4 491.1,143.4 491.3,143.4 491.5,143.4 491.7,143.4 491.9,143.4 492.1,143.4 492.3,143.4 492.5,143.4 492.6,143.4 492.8,143.3 493.0,143.3 493.2,143.3 493.4,143.3 493.6,143.3 493.8,143.2 494.0,143.2 494.2,143.2 494.4,143.1 494.6,143.1 494.8,143.1 495.0,143.0 495.2,142.9 495.4,142.8 495.6,142.7 495.8,142.5 496.0,142.3 496.2,141.9 496.3,141.4 496.5,140.6 496.7,139.6 496.9,138.3 497.1,136.6 497.3,134.6 497.5,132.2 497.7,129.5 497.9,126.7 498.1,124.0 498.3,121.6 498.5,119.7 498.7,118.6 498.9,118.5 499.1,119.4 499.3,121.1 499.5,123.5 499.7,126.2 499.9,129.0 500.0,131.7 500.2,134.1 500.4,136.2 500.6,138.0 500.8,139.4 501.0,140.4 501.2,141.2 501.4,141.8 501.6,142.2 501.8,142.5 502.0,142.7 502.2,142.8 502.4,142.9 502.6,143.0 502.8,143.1 503.0,143.1 503.2,143.1 503.4,143.2 503.6,143.2 503.7,143.2 503.9,143.3 504.1,143.3 504.3,143.3 504.5,143.3 504.7,143.3 504.9,143.4 505.1,143.4 505.3,143.4 505.5,143.4 505.7,143.4 505.9,143.4 506.1,143.4 506.3,143.4 506.5,143.4 506.7,143.5 506.9,143.5 507.1,143.5 507.3,143.5 507.5,143.5 507.6,143.5 507.8,143.5 508.0,143.5 508.2,143.5 508.4,143.5 508.6,143.5 508.8,143.5 509.0,143.5 509.2,143.5 509.4,143.5 509.6,143.5 509.8,143.5 510.0,143.5 510.2,143.5 510.4,143.5 510.6,143.5 510.8,143.5 511.0,143.5 511.2,143.5 511.3,143.5 511.5,143.5 511.7,143.5 511.9,143.5 512.1,143.5 512.3,143.5 512.5,143.5 512.7,143.6 512.9,143.6 513.1,143.6 513.3,143.6 513.5,143.6 513.7,143.6 513.9,143.6 514.1,143.6 514.3,143.6 514.5,143.6 514.7,143.6 514.9,143.6 515.0,143.6 515.2,143.6 515.4,143.6 515.6,143.6 515.8,143.6 516.0,143.6 516.2,143.6 516.4,143.6 516.6,143.6 516.8,143.6 517.0,143.6 517.2,143.6 517.4,143.6 517.6,143.6 517.8,143.6 518.0,143.6 518.2,143.6 518.4,143.6 518.6,143.6 518.7,143.6 518.9,143.6 519.1,143.6 519.3,143.6 519.5,143.6 519.7,143.6 519.9,143.6 520.1,143.6 520.3,143.6 520.5,143.6 520.7,143.6 520.9,143.6 521.1,143.6 521.3,143.6 521.5,143.6 521.7,143.6 521.9,143.6 522.1,143.6 522.3,143.6 522.4,143.6 522.6,143.6 522.8,143.6 523.0,143.6 523.2,143.6 523.4,143.6 523.6,143.6 523.8,143.6 524.0,143.6 524.2,143.6 524.4,143.6 524.6,143.6 524.8,143.6 525.0,143.6 525.2,143.6 525.4,143.6 525.6,143.6 525.8,143.6 526.0,143.6 526.1,143.6 526.3,143.6 526.5,143.6 526.7,143.6 526.9,143.6 527.1,143.6 527.3,143.6 527.5,143.6 527.7,143.6 527.9,143.6 528.1,143.6 528.3,143.6 528.5,143.6 528.7,143.6 528.9,143.6 529.1,143.6 529.3,143.6 529.5,143.6 529.7,143.6 529.8,143.6 530.0,143.6 530.2,143.6 530.4,143.6 530.6,143.6 530.8,143.6 531.0,143.6 531.2,143.6 531.4,143.6 531.6,143.6 531.8,143.6 532.0,143.6 532.2,143.6 532.4,143.6 532.6,143.6 532.8,143.6 533.0,143.6 533.2,143.6 533.4,143.6 533.5,143.6 533.7,143.6 533.9,143.6 534.1,143.6 534.3,143.6 534.5,143.6 534.7,143.6 534.9,143.6 535.1,143.6 535.3,143.6 535.5,143.6 535.7,143.6 535.9,143.6 536.1,143.6 536.3,143.6 536.5,143.6 536.7,143.6 536.9,143.6 537.1,143.6 537.2,143.6 537.4,143.6 537.6,143.6 537.8,143.6 538.0,143.6 538.2,143.6 538.4,143.6 538.6,143.6 538.8,143.6 539.0,143.6 539.2,143.6 539.4,143.6 539.6,143.6 539.8,143.6 540.0,143.6 540.2,143.6 540.4,143.6 540.6,143.6 540.8,143.6 540.9,143.6 541.1,143.6 541.3,143.6 541.5,143.6 541.7,143.6 541.9,143.6 542.1,143.6 542.3,143.6 542.5,143.6 542.7,143.6 542.9,143.6 543.1,143.6 543.3,143.6 543.5,143.6 543.7,143.6 543.9,143.6 544.1,143.6 544.3,143.6 544.5,143.6 544.6,143.6 544.8,143.6 545.0,143.6 545.2,143.6 545.4,143.6 545.6,143.6 545.8,143.6 546.0,143.6 546.2,143.6 546.4,143.6 546.6,143.6 546.8,143.6 547.0,143.6 547.2,143.6 547.4,143.6 547.6,143.6 547.8,143.6 548.0,143.6 548.2,143.6 548.3,143.6 548.5,143.6 548.7,143.6 548.9,143.6 549.1,143.6 549.3,143.6 549.5,143.6 549.7,143.6 549.9,143.6 550.1,143.6 550.3,143.6 550.5,143.6 550.7,143.6 550.9,143.6 551.1,143.6 551.3,143.6 551.5,143.6 551.7,143.6 551.9,143.6 552.0,143.6 552.2,143.6 552.4,143.6 552.6,143.6 552.8,143.6 553.0,143.6 553.2,143.6 553.4,143.6 553.6,143.6 553.8,143.6 554.0,143.6 554.2,143.6 554.4,143.6 554.6,143.6 554.8,143.6 555.0,143.6 555.2,143.6 555.4,143.6 555.6,143.6 555.7,143.6 555.9,143.6 556.1,143.6 556.3,143.6 556.5,143.6 556.7,143.6 556.9,143.6 557.1,143.6 557.3,143.6 557.5,143.6 557.7,143.6 557.9,143.6 558.1,143.6 558.3,143.6 558.5,143.6 558.7,143.6 558.9,143.6 559.1,143.6 559.3,143.6 559.4,143.6 559.6,143.6 559.8,143.6 560.0,143.6 560.2,143.6 560.4,143.6 560.6,143.6 560.8,143.6 561.0,143.6 561.2,143.6 561.4,143.6 561.6,143.6 561.8,143.6 562.0,143.6 562.2,143.6 562.4,143.6 562.6,143.6 562.8,143.6 563.0,143.6 563.1,143.6 563.3,143.6 563.5,143.6 563.7,143.6 563.9,143.6 564.1,143.6 564.3,143.6 564.5,143.6 564.7,143.6 564.9,143.6 565.1,143.6 565.3,143.6 565.5,143.6 565.7,143.6 565.9,143.6 566.1,143.6 566.3,143.6 566.5,143.6 566.7,143.6 566.8,143.6 567.0,143.6 567.2,143.6 567.4,143.6 567.6,143.6 567.8,143.6 568.0,143.6 568.2,143.6 568.4,143.6 568.6,143.6 568.8,143.6 569.0,143.6 569.2,143.6 569.4,143.6 569.6,143.6 569.8,143.6 570.0,143.6 570.2,143.6 570.4,143.6 570.5,143.6 570.7,143.6 570.9,143.6 571.1,143.6 571.3,143.6 571.5,143.6 571.7,143.6 571.9,143.6 572.1,143.6 572.3,143.6 572.5,143.6 572.7,143.6 572.9,143.6 573.1,143.6 573.3,143.6 573.5,143.6 573.7,143.6 573.9,143.6 574.1,143.6 574.2,143.6 574.4,143.6 574.6,143.6 574.8,143.6 575.0,143.6 575.2,143.6 575.4,143.5 575.6,143.5 575.8,143.5 576.0,143.5 576.2,143.5 576.4,143.5 576.6,143.5 576.8,143.4 577.0,143.4 577.2,143.4 577.4,143.3 577.6,143.2 577.8,143.2 577.9,143.1 578.1,143.0 578.3,142.9 578.5,142.8 578.7,142.7 578.9,142.6 579.1,142.5 579.3,142.4 579.5,142.3 579.7,142.3 579.9,142.3 580.1,142.3 580.3,142.3 580.5,142.4 580.7,142.5 580.9,142.6 581.1,142.7 581.3,142.8 581.5,142.9 581.6,143.0 581.8,143.1 582.0,143.2 582.2,143.2 582.4,143.3 582.6,143.3 582.8,143.4 583.0,143.4 583.2,143.5 583.4,143.5 583.6,143.5 583.8,143.5 584.0,143.5 584.2,143.5 584.4,143.5 584.6,143.5 584.8,143.5 585.0,143.5 585.2,143.6 585.3,143.6 585.5,143.6 585.7,143.6 585.9,143.6 586.1,143.6 586.3,143.6 586.5,143.6 586.7,143.6 586.9,143.6 587.1,143.6 587.3,143.6 587.5,143.6 587.7,143.6 587.9,143.6 588.1,143.6 588.3,143.6 588.5,143.6 588.7,143.6 588.9,143.6 589.1,143.6 589.2,143.6 589.4,143.6 589.6,143.6 589.8,143.6 590.0,143.6 590.2,143.6 590.4,143.6 590.6,143.6 590.8,143.6 591.0,143.6 591.2,143.6 591.4,143.6 591.6,143.6 591.8,143.5 592.0,143.5 592.2,143.5 592.4,143.5 592.6,143.5 592.8,143.5 592.9,143.5 593.1,143.5 593.3,143.5 593.5,143.5 593.7,143.5 593.9,143.4 594.1,143.4 594.3,143.4 594.5,143.3 594.7,143.3 594.9,143.2 595.1,143.2 595.3,143.1 595.5,143.0 595.7,142.9 595.9,142.9 596.1,142.8 596.3,142.7 596.5,142.6 596.6,142.6 596.8,142.6 597.0,142.6 597.2,142.6 597.4,142.6 597.6,142.6 597.8,142.7 598.0,142.8 598.2,142.9 598.4,142.9 598.6,143.0 598.8,143.1 599.0,143.1 599.2,143.2 599.4,143.3 599.6,143.3 599.8,143.4 600.0,143.4 600.2,143.4 600.3,143.4 600.5,143.4 600.7,143.5 600.9,143.5 601.1,143.5 601.3,143.5 601.5,143.5 601.7,143.5 601.9,143.5 602.1,143.5 602.3,143.5 602.5,143.5 602.7,143.5 602.9,143.4 603.1,143.4 603.3,143.4 603.5,143.4 603.7,143.4 603.9,143.4 604.0,143.4 604.2,143.4 604.4,143.4 604.6,143.4 604.8,143.3 605.0,143.3 605.2,143.3 605.4,143.3 605.6,143.2 605.8,143.2 606.0,143.1 606.2,143.0 606.4,142.8 606.6,142.7 606.8,142.4 607.0,142.1 607.2,141.7 607.4,141.2 607.6,140.6 607.7,139.9 607.9,139.1 608.1,138.2 608.3,137.2 608.5,136.2 608.7,135.2 608.9,134.3 609.1,133.5 609.3,132.9 609.5,132.5 609.7,132.4 609.9,132.6 610.1,133.1 610.3,133.8 610.5,134.7 610.7,135.6 610.9,136.6 611.1,137.6 611.3,138.6 611.4,139.5 611.6,140.2 611.8,140.9 612.0,141.4 612.2,141.9 612.4,142.2 612.6,142.5 612.8,142.7 613.0,142.9 613.2,143.0 613.4,143.1 613.6,143.2 613.8,143.2 614.0,143.3 614.2,143.3 614.4,143.3 614.6,143.4 614.8,143.4 615.0,143.4 615.1,143.4 615.3,143.4 615.5,143.4 615.7,143.4 615.9,143.4 616.1,143.5 616.3,143.5 616.5,143.5 616.7,143.5 616.9,143.5 617.1,143.5 617.3,143.5 617.5,143.5 617.7,143.5 617.9,143.5 618.1,143.5 618.3,143.5 618.5,143.5 618.7,143.5 618.8,143.5 619.0,143.5 619.2,143.5 619.4,143.5 619.6,143.5 619.8,143.5 620.0,143.5 620.2,143.5 620.4,143.5 620.6,143.5 620.8,143.5 621.0,143.5 621.2,143.5 621.4,143.6 621.6,143.6 621.8,143.6 622.0,143.6 622.2,143.6 622.4,143.6 622.5,143.6 622.7,143.6 622.9,143.6 623.1,143.6 623.3,143.6 623.5,143.6 623.7,143.6 623.9,143.6 624.1,143.6 624.3,143.6 624.5,143.6 624.7,143.6 624.9,143.6 625.1,143.6 625.3,143.6 625.5,143.6 625.7,143.6 625.9,143.6 626.1,143.6 626.2,143.6 626.4,143.6 626.6,143.6 626.8,143.6 627.0,143.6 627.2,143.6 627.4,143.6 627.6,143.6 627.8,143.6 628.0,143.6 628.2,143.6 628.4,143.6 628.6,143.6 628.8,143.6 629.0,143.6 629.2,143.6 629.4,143.6 629.6,143.6 629.8,143.6 629.9,143.6 630.1,143.6 630.3,143.6 630.5,143.6 630.7,143.6 630.9,143.6 631.1,143.6 631.3,143.6 631.5,143.6 631.7,143.6 631.9,143.6 632.1,143.6 632.3,143.5 632.5,143.5 632.7,143.5 632.9,143.5 633.1,143.5 633.3,143.5 633.5,143.5 633.6,143.4 633.8,143.4 634.0,143.4 634.2,143.3 634.4,143.3 634.6,143.2 634.8,143.2 635.0,143.1 635.2,143.1 635.4,143.0 635.6,143.0 635.8,143.0 636.0,143.0 636.2,143.0 636.4,143.0 636.6,143.0 636.8,143.1 637.0,143.1 637.2,143.2 637.3,143.2 637.5,143.3 637.7,143.3 637.9,143.4 638.1,143.4 638.3,143.4 638.5,143.5 638.7,143.5 638.9,143.5 639.1,143.5 639.3,143.5 639.5,143.5 639.7,143.5 639.9,143.6 640.1,143.6 640.3,143.6 640.5,143.6 640.7,143.6 640.9,143.6 641.0,143.6 641.2,143.6 641.4,143.6 641.6,143.6 641.8,143.6 642.0,143.6 642.2,143.6 642.4,143.6 642.6,143.6 642.8,143.6 643.0,143.6 643.2,143.6 643.4,143.6 643.6,143.6 643.8,143.6 644.0,143.6 644.2,143.6 644.4,143.6 644.6,143.6 644.7,143.6 644.9,143.6 645.1,143.6 645.3,143.6 645.5,143.6 645.7,143.6 645.9,143.6 646.1,143.6 646.3,143.6 646.5,143.6 646.7,143.6 646.9,143.6 647.1,143.6 647.3,143.6 647.5,143.6 647.7,143.6 647.9,143.6 648.1,143.6 648.3,143.6 648.4,143.6 648.6,143.6 648.8,143.6 649.0,143.6 649.2,143.6 649.4,143.6 649.6,143.5 649.8,143.5 650.0,143.5 650.2,143.5 650.4,143.5 650.6,143.5 650.8,143.4 651.0,143.4 651.2,143.4 651.4,143.3 651.6,143.3 651.8,143.2 652.0,143.2 652.1,143.1 652.3,143.1 652.5,143.0 652.7,143.0 652.9,143.0 653.1,143.0 653.3,143.0 653.5,143.0 653.7,143.0 653.9,143.1 654.1,143.1 654.3,143.2 654.5,143.2 654.7,143.3 654.9,143.3 655.1,143.4 655.3,143.4 655.5,143.4 655.7,143.5 655.8,143.5 656.0,143.5 656.2,143.5 656.4,143.5 656.6,143.5 656.8,143.6 657.0,143.6 657.2,143.6 657.4,143.6 657.6,143.6 657.8,143.6 658.0,143.6 658.2,143.6 658.4,143.6 658.6,143.6 658.8,143.6 659.0,143.6 659.2,143.6 659.4,143.6 659.5,143.6 659.7,143.6 659.9,143.6 660.1,143.6 660.3,143.6 660.5,143.6 660.7,143.6 660.9,143.6 661.1,143.6 661.3,143.6 661.5,143.6 661.7,143.6 661.9,143.6 662.1,143.6 662.3,143.6 662.5,143.6 662.7,143.6 662.9,143.6 663.1,143.6 663.2,143.6 663.4,143.6 663.6,143.6 663.8,143.6 664.0,143.6 664.2,143.6 664.4,143.6 664.6,143.6 664.8,143.6 665.0,143.6 665.2,143.6 665.4,143.6 665.6,143.6 665.8,143.6 666.0,143.6 666.2,143.6 666.4,143.6 666.6,143.6 666.8,143.6 667.0,143.6 667.1,143.6 667.3,143.6 667.5,143.6 667.7,143.6 667.9,143.6 668.1,143.6 668.3,143.6 668.5,143.6 668.7,143.6 668.9,143.6 669.1,143.6 669.3,143.6 669.5,143.6 669.7,143.6 669.9,143.6 670.1,143.6 670.3,143.6 670.5,143.6 670.7,143.6 670.8,143.6 671.0,143.6 671.2,143.6 671.4,143.6 671.6,143.6 671.8,143.6 672.0,143.6 672.2,143.6 672.4,143.6 672.6,143.6 672.8,143.6 673.0,143.6 673.2,143.6 673.4,143.6 673.6,143.6 673.8,143.6 674.0,143.6 674.2,143.6 674.4,143.6 674.5,143.6 674.7,143.6 674.9,143.6 675.1,143.6 675.3,143.6 675.5,143.6 675.7,143.6 675.9,143.6 676.1,143.6 676.3,143.6 676.5,143.6 676.7,143.6 676.9,143.6 677.1,143.6 677.3,143.6 677.5,143.6 677.7,143.6 677.9,143.6 678.1,143.6 678.2,143.6 678.4,143.6 678.6,143.6 678.8,143.6 679.0,143.6 679.2,143.6 679.4,143.6 679.6,143.6 679.8,143.6 680.0,143.6 680.2,143.5 680.4,143.5 680.6,143.5 680.8,143.5 681.0,143.5 681.2,143.5 681.4,143.4 681.6,143.4 681.8,143.4 681.9,143.3 682.1,143.3 682.3,143.2 682.5,143.1 682.7,143.1 682.9,143.0 683.1,142.9 683.3,142.8 683.5,142.7 683.7,142.7 683.9,142.6 684.1,142.6 684.3,142.6 684.5,142.6 684.7,142.6 684.9,142.7 685.1,142.7 685.3,142.8 685.5,142.9 685.6,143.0 685.8,143.1 686.0,143.1 686.2,143.2 686.4,143.3 686.6,143.3 686.8,143.4 687.0,143.4 687.2,143.4 687.4,143.5 687.6,143.5 687.8,143.5 688.0,143.5 688.2,143.5 688.4,143.5 688.6,143.6 688.8,143.6 689.0,143.6 689.2,143.6 689.3,143.6 689.5,143.6 689.7,143.6 689.9,143.6 690.1,143.6 690.3,143.6 690.5,143.6 690.7,143.6 690.9,143.6 691.1,143.6 691.3,143.6 691.5,143.6 691.7,143.6 691.9,143.6 692.1,143.6 692.3,143.6 692.5,143.6 692.7,143.6 692.9,143.6 693.0,143.6 693.2,143.6 693.4,143.6 693.6,143.6 693.8,143.6 694.0,143.6 694.2,143.6 694.4,143.6 694.6,143.6 694.8,143.6 695.0,143.6 695.2,143.6 695.4,143.6 695.6,143.6 695.8,143.6 696.0,143.6 696.2,143.6 696.4,143.6 696.6,143.6 696.7,143.6 696.9,143.6 697.1,143.6 697.3,143.6 697.5,143.6 697.7,143.6 697.9,143.6 698.1,143.6 698.3,143.6 698.5,143.6 698.7,143.6 698.9,143.6 699.1,143.6 699.3,143.6 699.5,143.6 699.7,143.6 699.9,143.6 700.1,143.6 700.3,143.6 700.4,143.6 700.6,143.5 700.8,143.5 701.0,143.5 701.2,143.5 701.4,143.5 701.6,143.5 701.8,143.4 702.0,143.4 702.2,143.4 702.4,143.3 702.6,143.3 702.8,143.3 703.0,143.3 703.2,143.2 703.4,143.2 703.6,143.2 703.8,143.2 704.0,143.2 704.1,143.2 704.3,143.2 704.5,143.3 704.7,143.3 704.9,143.3 705.1,143.3 705.3,143.4 705.5,143.4 705.7,143.4 705.9,143.5 706.1,143.5 706.3,143.5 706.5,143.5 706.7,143.5 706.9,143.5 707.1,143.6 707.3,143.6 707.5,143.6 707.7,143.6 707.8,143.6 708.0,143.6 708.2,143.6 708.4,143.6 708.6,143.6 708.8,143.6 709.0,143.6 709.2,143.6 709.4,143.6 709.6,143.6 709.8,143.6 710.0,143.6 710.2,143.6 710.4,143.6 710.6,143.6 710.8,143.6 711.0,143.6 711.2,143.6 711.4,143.6 711.5,143.6 711.7,143.6 711.9,143.6 712.1,143.6 712.3,143.6 712.5,143.6 712.7,143.6 712.9,143.6 713.1,143.6 713.3,143.6 713.5,143.6 713.7,143.6 713.9,143.6 714.1,143.6 714.3,143.6 714.5,143.6 714.7,143.6 714.9,143.6 715.1,143.6 715.2,143.6 715.4,143.6 715.6,143.6 715.8,143.6 716.0,143.6 716.2,143.6 716.4,143.6 716.6,143.6 716.8,143.6 717.0,143.6 717.2,143.6 717.4,143.6 717.6,143.6 717.8,143.6 718.0,143.6 718.2,143.6 718.4,143.6 718.6,143.6 718.8,143.6 718.9,143.6 719.1,143.6 719.3,143.6 719.5,143.6 719.7,143.6 719.9,143.6 720.1,143.6 720.3,143.6 720.5,143.5 720.7,143.5 720.9,143.5 721.1,143.5 721.3,143.5 721.5,143.4 721.7,143.4 721.9,143.4 722.1,143.3 722.3,143.3 722.5,143.2 722.6,143.2 722.8,143.1 723.0,143.1 723.2,143.0 723.4,143.0 723.6,142.9 723.8,142.9 724.0,142.9 724.2,142.9 724.4,142.9 724.6,143.0 724.8,143.0 725.0,143.1 725.2,143.1 725.4,143.2 725.6,143.2 725.8,143.3 726.0,143.3 726.2,143.4 726.3,143.4 726.5,143.4 726.7,143.5 726.9,143.5 727.1,143.5 727.3,143.5 727.5,143.5 727.7,143.6 727.9,143.6 728.1,143.6 728.3,143.6 728.5,143.6 728.7,143.6 728.9,143.6 729.1,143.6 729.3,143.6 729.5,143.6 729.7,143.6 729.9,143.6 730.0,143.6 730.2,143.6 730.4,143.6 730.6,143.6 730.8,143.6 731.0,143.6 731.2,143.6 731.4,143.6 731.6,143.6 731.8,143.6 732.0,143.6 732.2,143.6 732.4,143.6 732.6,143.6 732.8,143.6 733.0,143.6 733.2,143.6 733.4,143.6 733.6,143.6 733.7,143.6 733.9,143.6 734.1,143.6 734.3,143.6 734.5,143.6 734.7,143.6 734.9,143.6 735.1,143.6 735.3,143.6 735.5,143.6 735.7,143.6 735.9,143.6 736.1,143.6 736.3,143.6 736.5,143.6 736.7,143.6 736.9,143.6 737.1,143.6 737.3,143.6 737.4,143.6 737.6,143.6 737.8,143.6 738.0,143.6 738.2,143.6 738.4,143.6 738.6,143.6 738.8,143.6 739.0,143.6 739.2,143.6 739.4,143.6 739.6,143.6 739.8,143.6 740.0,143.6 740.2,143.6 740.4,143.6 740.6,143.6 740.8,143.6 741.0,143.6 741.1,143.6 741.3,143.6 741.5,143.6 741.7,143.6 741.9,143.6 742.1,143.6 742.3,143.6 742.5,143.6 742.7,143.6 742.9,143.6 743.1,143.6 743.3,143.6 743.5,143.6 743.7,143.6 743.9,143.6 744.1,143.6 744.3,143.6 744.5,143.6 744.7,143.6 744.9,143.6 745.0,143.6 745.2,143.6 745.4,143.6 745.6,143.6 745.8,143.6 746.0,143.6 746.2,143.6 746.4,143.6 746.6,143.6 746.8,143.6 747.0,143.6 747.2,143.6 747.4,143.6 747.6,143.6 747.8,143.6 748.0,143.6 748.2,143.6 748.4,143.6 748.6,143.6 748.7,143.6 748.9,143.6 749.1,143.6 749.3,143.6 749.5,143.6 749.7,143.6 749.9,143.6 750.1,143.6 750.3,143.6 750.5,143.6 750.7,143.6 750.9,143.6 751.1,143.6 751.3,143.6 751.5,143.6 751.7,143.6 751.9,143.6 752.1,143.6 752.3,143.6 752.4,143.6 752.6,143.6 752.8,143.6 753.0,143.6 753.2,143.6 753.4,143.6 753.6,143.6 753.8,143.6 754.0,143.6 754.2,143.6 754.4,143.6 754.6,143.6 754.8,143.6 755.0,143.6 755.2,143.6 755.4,143.6 755.6,143.6 755.8,143.6 756.0,143.6 756.1,143.6 756.3,143.6 756.5,143.6 756.7,143.6 756.9,143.6 757.1,143.6 757.3,143.6 757.5,143.6 757.7,143.6 757.9,143.6 758.1,143.6 758.3,143.6 758.5,143.6 758.7,143.6 758.9,143.6 759.1,143.6 759.3,143.6 759.5,143.6 759.7,143.6 759.8,143.6 760.0,143.6 760.2,143.6 760.4,143.6 760.6,143.6 760.8,143.6 761.0,143.6 761.2,143.6 761.4,143.6 761.6,143.6 761.8,143.6 762.0,143.6 762.2,143.6 762.4,143.6 762.6,143.6 762.8,143.6 763.0,143.6 763.2,143.6 763.4,143.6 763.5,143.6 763.7,143.6 763.9,143.6 764.1,143.6 764.3,143.6 764.5,143.6 764.7,143.6 764.9,143.6 765.1,143.6 765.3,143.6 765.5,143.6 765.7,143.6 765.9,143.6 766.1,143.6 766.3,143.6 766.5,143.6 766.7,143.6 766.9,143.6 767.1,143.6 767.2,143.6 767.4,143.6 767.6,143.6 767.8,143.6 768.0,143.6 768.2,143.6 768.4,143.6 768.6,143.6 768.8,143.6 769.0,143.6 769.2,143.6 769.4,143.6 769.6,143.6 769.8,143.6 770.0,143.6 770.2,143.6 770.4,143.6 770.6,143.6 770.8,143.6 770.9,143.6 771.1,143.6 771.3,143.6 771.5,143.6 771.7,143.6 771.9,143.6 772.1,143.6 772.3,143.6 772.5,143.6 772.7,143.6 772.9,143.6 773.1,143.6 773.3,143.6 773.5,143.6 773.7,143.6 773.9,143.6 774.1,143.6 774.3,143.6 774.5,143.6 774.6,143.6 774.8,143.6 775.0,143.6 775.2,143.6 775.4,143.6 775.6,143.6 775.8,143.6 776.0,143.6 776.2,143.5 776.4,143.5 776.6,143.5 776.8,143.5 777.0,143.5 777.2,143.5 777.4,143.4 777.6,143.4 777.8,143.4 778.0,143.3 778.2,143.3 778.3,143.3 778.5,143.3 778.7,143.2 778.9,143.2 779.1,143.2 779.3,143.2 779.5,143.2 779.7,143.2 779.9,143.2 780.1,143.3 780.3,143.3 780.5,143.3 780.7,143.3 780.9,143.4 781.1,143.4 781.3,143.4 781.5,143.5 781.7,143.5 781.9,143.5 782.0,143.5 782.2,143.5 782.4,143.5 782.6,143.6 782.8,143.6 783.0,143.6 783.2,143.6 783.4,143.6 783.6,143.6 783.8,143.6 784.0,143.6 784.2,143.6 784.4,143.6 784.6,143.6 784.8,143.6 785.0,143.6 785.2,143.6 785.4,143.6 785.6,143.6 785.7,143.6 785.9,143.6 786.1,143.6 786.3,143.6 786.5,143.6 786.7,143.6 786.9,143.6 787.1,143.6 787.3,143.6 787.5,143.6 787.7,143.6 787.9,143.5 788.1,143.5 788.3,143.5 788.5,143.5 788.7,143.5 788.9,143.5 789.1,143.4 789.3,143.4 789.4,143.4 789.6,143.3 789.8,143.2 790.0,143.2 790.2,143.1 790.4,143.0 790.6,143.0 790.8,142.9 791.0,142.8 791.2,142.8 791.4,142.7 791.6,142.7 791.8,142.7 792.0,142.7 792.2,142.7 792.4,142.8 792.6,142.8 792.8,142.9 793.0,143.0 793.1,143.0 793.3,143.1 793.5,143.2 793.7,143.2 793.9,143.3 794.1,143.4 794.3,143.4 794.5,143.4 794.7,143.5 794.9,143.5 795.1,143.5 795.3,143.5 795.5,143.5 795.7,143.5 795.9,143.6 796.1,143.6 796.3,143.6 796.5,143.6 796.7,143.6 796.8,143.6 797.0,143.6 797.2,143.6 797.4,143.6 797.6,143.6 797.8,143.6 798.0,143.6 798.2,143.6 798.4,143.6 798.6,143.6 798.8,143.6 799.0,143.6 799.2,143.6 799.4,143.6 799.6,143.6 799.8,143.6 800.0,143.6 800.2,143.6 800.4,143.6 800.5,143.6 800.7,143.6 800.9,143.6 801.1,143.6 801.3,143.6 801.5,143.6 801.7,143.6 801.9,143.6 802.1,143.6 802.3,143.6 802.5,143.6 802.7,143.6 802.9,143.6 803.1,143.6 803.3,143.6 803.5,143.6 803.7,143.6 803.9,143.6 804.1,143.6 804.2,143.6 804.4,143.6 804.6,143.6 804.8,143.6 805.0,143.6 805.2,143.6 805.4,143.6 805.6,143.6 805.8,143.6 806.0,143.6 806.2,143.6 806.4,143.6 806.6,143.6 806.8,143.6 807.0,143.6 807.2,143.6 807.4,143.6 807.6,143.6 807.8,143.6 807.9,143.6 808.1,143.6 808.3,143.6 808.5,143.6 808.7,143.6 808.9,143.6 809.1,143.6 809.3,143.6 809.5,143.6 809.7,143.6 809.9,143.6 810.1,143.6 810.3,143.6 810.5,143.6 810.7,143.6 810.9,143.6 811.1,143.6 811.3,143.6 811.5,143.6 811.6,143.6 811.8,143.6 812.0,143.6 812.2,143.6 812.4,143.6 812.6,143.6 812.8,143.6 813.0,143.6 813.2,143.6 813.4,143.6 813.6,143.6 813.8,143.6 814.0,143.6 814.2,143.6 814.4,143.6 814.6,143.6 814.8,143.6 815.0,143.6 815.2,143.6 815.3,143.6 815.5,143.6 815.7,143.6 815.9,143.6 816.1,143.6 816.3,143.6 816.5,143.6 816.7,143.6 816.9,143.6 817.1,143.6 817.3,143.6 817.5,143.6 817.7,143.6 817.9,143.6 818.1,143.6 818.3,143.6 818.5,143.6 818.7,143.6 818.9,143.6 819.0,143.6 819.2,143.6 819.4,143.6 819.6,143.6 819.8,143.6 820.0,143.6 820.2,143.6 820.4,143.6 820.6,143.6 820.8,143.6 821.0,143.6 821.2,143.6 821.4,143.6 821.6,143.6 821.8,143.6 822.0,143.6 822.2,143.6 822.4,143.6 822.6,143.6 822.8,143.6 822.9,143.6 823.1,143.6 823.3,143.6 823.5,143.6 823.7,143.6 823.9,143.6 824.1,143.6 824.3,143.6 824.5,143.6 824.7,143.6 824.9,143.6 825.1,143.6 825.3,143.6 825.5,143.6 825.7,143.6 825.9,143.6 826.1,143.6 826.3,143.6 826.5,143.6 826.6,143.6 826.8,143.6 827.0,143.6 827.2,143.6 827.4,143.6 827.6,143.6 827.8,143.6 828.0,143.6 828.2,143.6 828.4,143.6 828.6,143.6 828.8,143.6 829.0,143.6 829.2,143.6 829.4,143.6 829.6,143.6 829.8,143.6 830.0,143.6 830.2,143.6 830.3,143.6 830.5,143.6 830.7,143.6 830.9,143.6 831.1,143.6 831.3,143.6 831.5,143.6 831.7,143.6 831.9,143.6 832.1,143.6 832.3,143.6 832.5,143.6 832.7,143.6 832.9,143.6 833.1,143.6 833.3,143.6 833.5,143.6 833.7,143.6 833.9,143.6 834.0,143.6 834.2,143.6 834.4,143.6 834.6,143.6 834.8,143.6 835.0,143.6 835.2,143.6 835.4,143.6 835.6,143.6 835.8,143.6 836.0,143.6 836.2,143.6 836.4,143.6 836.6,143.6 836.8,143.6 837.0,143.6 837.2,143.6 837.4,143.6 837.6,143.6 837.7,143.6 837.9,143.6 838.1,143.6 838.3,143.6 838.5,143.6 838.7,143.6 838.9,143.6 839.1,143.6 839.3,143.6 839.5,143.5 839.7,143.5 839.9,143.5 840.1,143.5 840.3,143.5 840.5,143.4 840.7,143.4 840.9,143.4 841.1,143.4 841.3,143.3 841.4,143.3 841.6,143.3 841.8,143.2 842.0,143.2 842.2,143.2 842.4,143.2 842.6,143.2 842.8,143.2 843.0,143.2 843.2,143.3 843.4,143.3 843.6,143.3 843.8,143.4 844.0,143.4 844.2,143.4 844.4,143.4 844.6,143.5 844.8,143.5 845.0,143.5 845.1,143.5 845.3,143.5 845.5,143.6 845.7,143.6 845.9,143.6 846.1,143.6 846.3,143.6 846.5,143.6 846.7,143.6 846.9,143.6 847.1,143.6 847.3,143.6 847.5,143.6 847.7,143.6 847.9,143.6 848.1,143.6 848.3,143.6 848.5,143.6 848.7,143.6 848.8,143.6 849.0,143.6 849.2,143.6 849.4,143.6 849.6,143.6 849.8,143.6 850.0,143.6 850.2,143.6 850.4,143.6 850.6,143.6 850.8,143.6 851.0,143.6 851.2,143.6 851.4,143.6 851.6,143.6 851.8,143.6 852.0,143.6 852.2,143.6 852.4,143.6 852.5,143.6 852.7,143.6 852.9,143.6 853.1,143.6 853.3,143.6 853.5,143.6 853.7,143.6 853.9,143.6 854.1,143.6 854.3,143.6 854.5,143.6 854.7,143.6 854.9,143.6 855.1,143.6 855.3,143.6 855.5,143.6 855.7,143.6 855.9,143.6 856.1,143.6 856.2,143.6 856.4,143.6 856.6,143.6 856.8,143.6 857.0,143.6 857.2,143.6 857.4,143.6 857.6,143.6 857.8,143.6 858.0,143.6" fill="none" stroke="#0000ff" stroke-width="1.3" stroke-linejoin="round"/>
<polyline points="468.5,182.9 468.7,182.9 468.9,182.9 469.1,182.9 469.3,182.9 469.5,182.9 469.7,182.9 469.9,182.9 470.1,182.9 470.3,182.9 470.4,182.9 470.6,182.9 470.8,182.9 471.0,182.9 471.2,182.9 471.4,182.9 471.6,182.9 471.8,182.9 472.0,182.9 472.2,182.9 472.4,182.9 472.6,182.9 472.8,182.9 473.0,182.9 473.2,182.9 473.4,182.9 473.6,182.9 473.8,182.9 474.0,182.9 474.1,182.9 474.3,182.9 474.5,182.9 474.7,182.9 474.9,182.9 475.1,182.9 475.3,182.9 475.5,182.9 475.7,182.9 475.9,182.9 476.1,182.9 476.3,182.9 476.5,182.9 476.7,182.9 476.9,182.9 477.1,182.8 477.3,182.8 477.5,182.8 477.7,182.8 477.8,182.8 478.0,182.8 478.2,182.8 478.4,182.7 478.6,182.7 478.8,182.7 479.0,182.6 479.2,182.6 479.4,182.6 479.6,182.5 479.8,182.5 480.0,182.4 480.2,182.4 480.4,182.3 480.6,182.3 480.8,182.3 481.0,182.3 481.2,182.3 481.4,182.3 481.5,182.3 481.7,182.4 481.9,182.4 482.1,182.4 482.3,182.5 482.5,182.5 482.7,182.6 482.9,182.6 483.1,182.7 483.3,182.7 483.5,182.7 483.7,182.8 483.9,182.8 484.1,182.8 484.3,182.8 484.5,182.8 484.7,182.8 484.9,182.8 485.1,182.8 485.2,182.8 485.4,182.8 485.6,182.8 485.8,182.8 486.0,182.8 486.2,182.8 486.4,182.8 486.6,182.8 486.8,182.8 487.0,182.8 487.2,182.8 487.4,182.8 487.6,182.8 487.8,182.8 488.0,182.8 488.2,182.8 488.4,182.8 488.6,182.8 488.8,182.8 488.9,182.8 489.1,182.8 489.3,182.8 489.5,182.8 489.7,182.8 489.9,182.8 490.1,182.8 490.3,182.8 490.5,182.8 490.7,182.8 490.9,182.8 491.1,182.7 491.3,182.7 491.5,182.7 491.7,182.7 491.9,182.7 492.1,182.7 492.3,182.7 492.5,182.7 492.6,182.7 492.8,182.6 493.0,182.6 493.2,182.6 493.4,182.6 493.6,182.6 493.8,182.5 494.0,182.5 494.2,182.5 494.4,182.5 494.6,182.4 494.8,182.4 495.0,182.3 495.2,182.2 495.4,182.1 495.6,182.0 495.8,181.8 496.0,181.6 496.2,181.2 496.3,180.7 496.5,179.9 496.7,179.0 496.9,177.7 497.1,176.0 497.3,174.0 497.5,171.6 497.7,169.0 497.9,166.2 498.1,163.5 498.3,161.1 498.5,159.2 498.7,158.2 498.9,158.1 499.1,159.0 499.3,160.7 499.5,163.0 499.7,165.7 499.9,168.4 500.0,171.1 500.2,173.5 500.4,175.6 500.6,177.3 500.8,178.7 501.0,179.8 501.2,180.6 501.4,181.1 501.6,181.5 501.8,181.8 502.0,182.0 502.2,182.1 502.4,182.2 502.6,182.3 502.8,182.4 503.0,182.4 503.2,182.4 503.4,182.5 503.6,182.5 503.7,182.5 503.9,182.6 504.1,182.6 504.3,182.6 504.5,182.6 504.7,182.6 504.9,182.7 505.1,182.7 505.3,182.7 505.5,182.7 505.7,182.7 505.9,182.7 506.1,182.7 506.3,182.7 506.5,182.7 506.7,182.8 506.9,182.8 507.1,182.8 507.3,182.8 507.5,182.8 507.6,182.8 507.8,182.8 508.0,182.8 508.2,182.8 508.4,182.8 508.6,182.8 508.8,182.8 509.0,182.8 509.2,182.8 509.4,182.8 509.6,182.8 509.8,182.8 510.0,182.8 510.2,182.8 510.4,182.8 510.6,182.8 510.8,182.8 511.0,182.8 511.2,182.8 511.3,182.8 511.5,182.8 511.7,182.8 511.9,182.8 512.1,182.8 512.3,182.8 512.5,182.8 512.7,182.9 512.9,182.9 513.1,182.9 513.3,182.9 513.5,182.9 513.7,182.9 513.9,182.9 514.1,182.9 514.3,182.9 514.5,182.9 514.7,182.9 514.9,182.9 515.0,182.9 515.2,182.9 515.4,182.9 515.6,182.9 515.8,182.9 516.0,182.9 516.2,182.9 516.4,182.9 516.6,182.9 516.8,182.9 517.0,182.9 517.2,182.9 517.4,182.9 517.6,182.9 517.8,182.9 518.0,182.9 518.2,182.9 518.4,182.9 518.6,182.9 518.7,182.9 518.9,182.9 519.1,182.9 519.3,182.9 519.5,182.9 519.7,182.9 519.9,182.9 520.1,182.9 520.3,182.9 520.5,182.9 520.7,182.9 520.9,182.9 521.1,182.9 521.3,182.9 521.5,182.9 521.7,182.9 521.9,182.9 522.1,182.9 522.3,182.9 522.4,182.9 522.6,182.9 522.8,182.9 523.0,182.9 523.2,182.9 523.4,182.9 523.6,182.9 523.8,182.9 524.0,182.9 524.2,182.9 524.4,182.9 524.6,182.9 524.8,182.9 525.0,182.9 525.2,182.9 525.4,182.9 525.6,182.9 525.8,182.9 526.0,182.9 526.1,182.9 526.3,182.9 526.5,182.9 526.7,182.9 526.9,182.9 527.1,182.9 527.3,182.9 527.5,182.9 527.7,182.9 527.9,182.9 528.1,182.9 528.3,182.9 528.5,182.9 528.7,182.9 528.9,182.9 529.1,182.9 529.3,182.9 529.5,182.9 529.7,182.9 529.8,182.9 530.0,182.9 530.2,182.9 530.4,182.9 530.6,182.9 530.8,182.9 531.0,182.9 531.2,182.9 531.4,182.9 531.6,182.9 531.8,182.9 532.0,182.9 532.2,182.9 532.4,182.9 532.6,182.9 532.8,182.9 533.0,182.9 533.2,182.9 533.4,182.9 533.5,182.9 533.7,182.9 533.9,182.9 534.1,182.9 534.3,182.9 534.5,182.9 534.7,182.9 534.9,182.9 535.1,182.9 535.3,182.9 535.5,182.9 535.7,182.9 535.9,182.9 536.1,182.9 536.3,182.9 536.5,182.9 536.7,182.9 536.9,182.9 537.1,182.9 537.2,182.9 537.4,182.9 537.6,182.9 537.8,182.9 538.0,182.9 538.2,182.9 538.4,182.9 538.6,182.9 538.8,182.9 539.0,182.9 539.2,182.9 539.4,182.9 539.6,182.9 539.8,182.9 540.0,182.9 540.2,182.9 540.4,182.9 540.6,182.9 540.8,182.9 540.9,182.9 541.1,182.9 541.3,182.9 541.5,182.9 541.7,182.9 541.9,182.9 542.1,182.9 542.3,182.9 542.5,182.9 542.7,182.9 542.9,182.9 543.1,182.9 543.3,182.9 543.5,182.9 543.7,182.9 543.9,182.9 544.1,182.9 544.3,182.9 544.5,182.9 544.6,182.9 544.8,182.9 545.0,182.9 545.2,182.9 545.4,182.9 545.6,182.9 545.8,182.9 546.0,182.9 546.2,182.9 546.4,182.9 546.6,182.9 546.8,182.9 547.0,182.9 547.2,182.9 547.4,182.9 547.6,182.9 547.8,182.9 548.0,182.9 548.2,182.9 548.3,182.9 548.5,182.9 548.7,182.9 548.9,182.9 549.1,182.9 549.3,182.9 549.5,182.9 549.7,182.9 549.9,182.9 550.1,182.9 550.3,182.9 550.5,182.9 550.7,182.9 550.9,182.9 551.1,182.9 551.3,182.9 551.5,182.9 551.7,182.9 551.9,182.9 552.0,182.9 552.2,182.9 552.4,182.9 552.6,182.9 552.8,182.9 553.0,182.9 553.2,182.9 553.4,182.9 553.6,182.9 553.8,182.9 554.0,182.9 554.2,182.9 554.4,182.9 554.6,182.9 554.8,182.9 555.0,182.9 555.2,182.9 555.4,182.9 555.6,182.9 555.7,182.9 555.9,182.9 556.1,182.9 556.3,182.9 556.5,182.9 556.7,182.9 556.9,182.9 557.1,182.9 557.3,182.9 557.5,182.9 557.7,182.9 557.9,182.9 558.1,182.9 558.3,182.9 558.5,182.9 558.7,182.9 558.9,182.9 559.1,182.9 559.3,182.9 559.4,182.9 559.6,182.9 559.8,182.9 560.0,182.9 560.2,182.9 560.4,182.9 560.6,182.9 560.8,182.9 561.0,182.9 561.2,182.9 561.4,182.9 561.6,182.9 561.8,182.9 562.0,182.9 562.2,182.9 562.4,182.9 562.6,182.9 562.8,182.9 563.0,182.9 563.1,182.9 563.3,182.9 563.5,182.9 563.7,182.9 563.9,182.9 564.1,182.9 564.3,182.9 564.5,182.9 564.7,182.9 564.9,182.9 565.1,182.9 565.3,182.9 565.5,182.9 565.7,182.9 565.9,182.9 566.1,182.9 566.3,182.9 566.5,182.9 566.7,182.9 566.8,182.9 567.0,182.9 567.2,182.9 567.4,182.9 567.6,182.9 567.8,182.9 568.0,182.9 568.2,182.9 568.4,182.9 568.6,182.9 568.8,182.9 569.0,182.9 569.2,182.9 569.4,182.9 569.6,182.9 569.8,182.9 570.0,182.9 570.2,182.9 570.4,182.9 570.5,182.9 570.7,182.9 570.9,182.9 571.1,182.9 571.3,182.9 571.5,182.9 571.7,182.9 571.9,182.9 572.1,182.9 572.3,182.9 572.5,182.9 572.7,182.9 572.9,182.9 573.1,182.9 573.3,182.9 573.5,182.9 573.7,182.9 573.9,182.9 574.1,182.9 574.2,182.9 574.4,182.9 574.6,182.9 574.8,182.9 575.0,182.9 575.2,182.9 575.4,182.8 575.6,182.8 575.8,182.8 576.0,182.8 576.2,182.8 576.4,182.8 576.6,182.8 576.8,182.7 577.0,182.7 577.2,182.7 577.4,182.6 577.6,182.5 577.8,182.5 577.9,182.4 578.1,182.3 578.3,182.2 578.5,182.1 578.7,182.0 578.9,181.9 579.1,181.8 579.3,181.7 579.5,181.6 579.7,181.6 579.9,181.6 580.1,181.6 580.3,181.6 580.5,181.7 580.7,181.8 580.9,181.9 581.1,182.0 581.3,182.1 581.5,182.2 581.6,182.3 581.8,182.4 582.0,182.5 582.2,182.5 582.4,182.6 582.6,182.6 582.8,182.7 583.0,182.7 583.2,182.8 583.4,182.8 583.6,182.8 583.8,182.8 584.0,182.8 584.2,182.8 584.4,182.8 584.6,182.8 584.8,182.8 585.0,182.8 585.2,182.9 585.3,182.9 585.5,182.9 585.7,182.9 585.9,182.9 586.1,182.9 586.3,182.9 586.5,182.9 586.7,182.9 586.9,182.9 587.1,182.9 587.3,182.9 587.5,182.9 587.7,182.9 587.9,182.9 588.1,182.9 588.3,182.9 588.5,182.9 588.7,182.9 588.9,182.9 589.1,182.9 589.2,182.9 589.4,182.9 589.6,182.9 589.8,182.9 590.0,182.9 590.2,182.9 590.4,182.9 590.6,182.9 590.8,182.9 591.0,182.9 591.2,182.9 591.4,182.9 591.6,182.9 591.8,182.8 592.0,182.8 592.2,182.8 592.4,182.8 592.6,182.8 592.8,182.8 592.9,182.8 593.1,182.8 593.3,182.8 593.5,182.8 593.7,182.8 593.9,182.7 594.1,182.7 594.3,182.7 594.5,182.6 594.7,182.6 594.9,182.5 595.1,182.5 595.3,182.4 595.5,182.3 595.7,182.2 595.9,182.2 596.1,182.1 596.3,182.0 596.5,181.9 596.6,181.9 596.8,181.9 597.0,181.9 597.2,181.9 597.4,181.9 597.6,181.9 597.8,182.0 598.0,182.1 598.2,182.2 598.4,182.2 598.6,182.3 598.8,182.4 599.0,182.5 599.2,182.5 599.4,182.6 599.6,182.6 599.8,182.7 600.0,182.7 600.2,182.7 600.3,182.7 600.5,182.7 600.7,182.8 600.9,182.8 601.1,182.8 601.3,182.8 601.5,182.8 601.7,182.8 601.9,182.8 602.1,182.8 602.3,182.8 602.5,182.8 602.7,182.8 602.9,182.7 603.1,182.7 603.3,182.7 603.5,182.7 603.7,182.7 603.9,182.7 604.0,182.7 604.2,182.7 604.4,182.7 604.6,182.7 604.8,182.6 605.0,182.6 605.2,182.6 605.4,182.6 605.6,182.5 605.8,182.5 606.0,182.4 606.2,182.3 606.4,182.2 606.6,182.0 606.8,181.7 607.0,181.4 607.2,181.0 607.4,180.6 607.6,180.0 607.7,179.3 607.9,178.5 608.1,177.6 608.3,176.7 608.5,175.7 608.7,174.7 608.9,173.8 609.1,173.0 609.3,172.4 609.5,172.0 609.7,171.9 609.9,172.1 610.1,172.6 610.3,173.3 610.5,174.1 610.7,175.1 610.9,176.1 611.1,177.0 611.3,178.0 611.4,178.8 611.6,179.6 611.8,180.2 612.0,180.8 612.2,181.2 612.4,181.6 612.6,181.8 612.8,182.1 613.0,182.2 613.2,182.3 613.4,182.4 613.6,182.5 613.8,182.5 614.0,182.6 614.2,182.6 614.4,182.6 614.6,182.7 614.8,182.7 615.0,182.7 615.1,182.7 615.3,182.7 615.5,182.7 615.7,182.7 615.9,182.7 616.1,182.8 616.3,182.8 616.5,182.8 616.7,182.8 616.9,182.8 617.1,182.8 617.3,182.8 617.5,182.8 617.7,182.8 617.9,182.8 618.1,182.8 618.3,182.8 618.5,182.8 618.7,182.8 618.8,182.8 619.0,182.8 619.2,182.8 619.4,182.8 619.6,182.8 619.8,182.8 620.0,182.8 620.2,182.8 620.4,182.8 620.6,182.8 620.8,182.8 621.0,182.8 621.2,182.8 621.4,182.9 621.6,182.9 621.8,182.9 622.0,182.9 622.2,182.9 622.4,182.9 622.5,182.9 622.7,182.9 622.9,182.9 623.1,182.9 623.3,182.9 623.5,182.9 623.7,182.9 623.9,182.9 624.1,182.9 624.3,182.9 624.5,182.9 624.7,182.9 624.9,182.9 625.1,182.9 625.3,182.9 625.5,182.9 625.7,182.9 625.9,182.9 626.1,182.9 626.2,182.9 626.4,182.9 626.6,182.9 626.8,182.9 627.0,182.9 627.2,182.9 627.4,182.9 627.6,182.9 627.8,182.9 628.0,182.9 628.2,182.9 628.4,182.9 628.6,182.9 628.8,182.9 629.0,182.9 629.2,182.9 629.4,182.9 629.6,182.9 629.8,182.9 629.9,182.9 630.1,182.9 630.3,182.9 630.5,182.9 630.7,182.9 630.9,182.9 631.1,182.9 631.3,182.9 631.5,182.9 631.7,182.9 631.9,182.9 632.1,182.9 632.3,182.8 632.5,182.8 632.7,182.8 632.9,182.8 633.1,182.8 633.3,182.8 633.5,182.8 633.6,182.7 633.8,182.7 634.0,182.7 634.2,182.6 634.4,182.6 634.6,182.5 634.8,182.5 635.0,182.4 635.2,182.4 635.4,182.3 635.6,182.3 635.8,182.3 636.0,182.3 636.2,182.3 636.4,182.3 636.6,182.3 636.8,182.4 637.0,182.4 637.2,182.5 637.3,182.5 637.5,182.6 637.7,182.6 637.9,182.7 638.1,182.7 638.3,182.7 638.5,182.8 638.7,182.8 638.9,182.8 639.1,182.8 639.3,182.8 639.5,182.8 639.7,182.8 639.9,182.9 640.1,182.9 640.3,182.9 640.5,182.9 640.7,182.9 640.9,182.9 641.0,182.9 641.2,182.9 641.4,182.9 641.6,182.9 641.8,182.9 642.0,182.9 642.2,182.9 642.4,182.9 642.6,182.9 642.8,182.9 643.0,182.9 643.2,182.9 643.4,182.9 643.6,182.9 643.8,182.9 644.0,182.9 644.2,182.9 644.4,182.9 644.6,182.9 644.7,182.9 644.9,182.9 645.1,182.9 645.3,182.9 645.5,182.9 645.7,182.9 645.9,182.9 646.1,182.9 646.3,182.9 646.5,182.9 646.7,182.9 646.9,182.9 647.1,182.9 647.3,182.9 647.5,182.9 647.7,182.9 647.9,182.9 648.1,182.9 648.3,182.9 648.4,182.9 648.6,182.9 648.8,182.9 649.0,182.9 649.2,182.9 649.4,182.9 649.6,182.8 649.8,182.8 650.0,182.8 650.2,182.8 650.4,182.8 650.6,182.8 650.8,182.7 651.0,182.7 651.2,182.7 651.4,182.6 651.6,182.6 651.8,182.5 652.0,182.5 652.1,182.4 652.3,182.4 652.5,182.3 652.7,182.3 652.9,182.3 653.1,182.3 653.3,182.3 653.5,182.3 653.7,182.3 653.9,182.4 654.1,182.4 654.3,182.5 654.5,182.5 654.7,182.6 654.9,182.6 655.1,182.7 655.3,182.7 655.5,182.7 655.7,182.8 655.8,182.8 656.0,182.8 656.2,182.8 656.4,182.8 656.6,182.8 656.8,182.9 657.0,182.9 657.2,182.9 657.4,182.9 657.6,182.9 657.8,182.9 658.0,182.9 658.2,182.9 658.4,182.9 658.6,182.9 658.8,182.9 659.0,182.9 659.2,182.9 659.4,182.9 659.5,182.9 659.7,182.9 659.9,182.9 660.1,182.9 660.3,182.9 660.5,182.9 660.7,182.9 660.9,182.9 661.1,182.9 661.3,182.9 661.5,182.9 661.7,182.9 661.9,182.9 662.1,182.9 662.3,182.9 662.5,182.9 662.7,182.9 662.9,182.9 663.1,182.9 663.2,182.9 663.4,182.9 663.6,182.9 663.8,182.9 664.0,182.9 664.2,182.9 664.4,182.9 664.6,182.9 664.8,182.9 665.0,182.9 665.2,182.9 665.4,182.9 665.6,182.9 665.8,182.9 666.0,182.9 666.2,182.9 666.4,182.9 666.6,182.9 666.8,182.9 667.0,182.9 667.1,182.9 667.3,182.9 667.5,182.9 667.7,182.9 667.9,182.9 668.1,182.9 668.3,182.9 668.5,182.9 668.7,182.9 668.9,182.9 669.1,182.9 669.3,182.9 669.5,182.9 669.7,182.9 669.9,182.9 670.1,182.9 670.3,182.9 670.5,182.9 670.7,182.9 670.8,182.9 671.0,182.9 671.2,182.9 671.4,182.9 671.6,182.9 671.8,182.9 672.0,182.9 672.2,182.9 672.4,182.9 672.6,182.9 672.8,182.9 673.0,182.9 673.2,182.9 673.4,182.9 673.6,182.9 673.8,182.9 674.0,182.9 674.2,182.9 674.4,182.9 674.5,182.9 674.7,182.9 674.9,182.9 675.1,182.9 675.3,182.9 675.5,182.9 675.7,182.9 675.9,182.9 676.1,182.9 676.3,182.9 676.5,182.9 676.7,182.9 676.9,182.9 677.1,182.9 677.3,182.9 677.5,182.9 677.7,182.9 677.9,182.9 678.1,182.9 678.2,182.9 678.4,182.9 678.6,182.9 678.8,182.9 679.0,182.9 679.2,182.9 679.4,182.9 679.6,182.9 679.8,182.9 680.0,182.9 680.2,182.8 680.4,182.8 680.6,182.8 680.8,182.8 681.0,182.8 681.2,182.8 681.4,182.7 681.6,182.7 681.8,182.7 681.9,182.6 682.1,182.6 682.3,182.5 682.5,182.4 682.7,182.4 682.9,182.3 683.1,182.2 683.3,182.1 683.5,182.0 683.7,182.0 683.9,181.9 684.1,181.9 684.3,181.9 684.5,181.9 684.7,181.9 684.9,182.0 685.1,182.0 685.3,182.1 685.5,182.2 685.6,182.3 685.8,182.4 686.0,182.4 686.2,182.5 686.4,182.6 686.6,182.6 686.8,182.7 687.0,182.7 687.2,182.7 687.4,182.8 687.6,182.8 687.8,182.8 688.0,182.8 688.2,182.8 688.4,182.8 688.6,182.9 688.8,182.9 689.0,182.9 689.2,182.9 689.3,182.9 689.5,182.9 689.7,182.9 689.9,182.9 690.1,182.9 690.3,182.9 690.5,182.9 690.7,182.9 690.9,182.9 691.1,182.9 691.3,182.9 691.5,182.9 691.7,182.9 691.9,182.9 692.1,182.9 692.3,182.9 692.5,182.9 692.7,182.9 692.9,182.9 693.0,182.9 693.2,182.9 693.4,182.9 693.6,182.9 693.8,182.9 694.0,182.9 694.2,182.9 694.4,182.9 694.6,182.9 694.8,182.9 695.0,182.9 695.2,182.9 695.4,182.9 695.6,182.9 695.8,182.9 696.0,182.9 696.2,182.9 696.4,182.9 696.6,182.9 696.7,182.9 696.9,182.9 697.1,182.9 697.3,182.9 697.5,182.9 697.7,182.9 697.9,182.9 698.1,182.9 698.3,182.9 698.5,182.9 698.7,182.9 698.9,182.9 699.1,182.9 699.3,182.9 699.5,182.9 699.7,182.9 699.9,182.9 700.1,182.9 700.3,182.9 700.4,182.9 700.6,182.8 700.8,182.8 701.0,182.8 701.2,182.8 701.4,182.8 701.6,182.8 701.8,182.7 702.0,182.7 702.2,182.7 702.4,182.6 702.6,182.6 702.8,182.6 703.0,182.6 703.2,182.5 703.4,182.5 703.6,182.5 703.8,182.5 704.0,182.5 704.1,182.5 704.3,182.5 704.5,182.6 704.7,182.6 704.9,182.6 705.1,182.6 705.3,182.7 705.5,182.7 705.7,182.7 705.9,182.8 706.1,182.8 706.3,182.8 706.5,182.8 706.7,182.8 706.9,182.8 707.1,182.9 707.3,182.9 707.5,182.9 707.7,182.9 707.8,182.9 708.0,182.9 708.2,182.9 708.4,182.9 708.6,182.9 708.8,182.9 709.0,182.9 709.2,182.9 709.4,182.9 709.6,182.9 709.8,182.9 710.0,182.9 710.2,182.9 710.4,182.9 710.6,182.9 710.8,182.9 711.0,182.9 711.2,182.9 711.4,182.9 711.5,182.9 711.7,182.9 711.9,182.9 712.1,182.9 712.3,182.9 712.5,182.9 712.7,182.9 712.9,182.9 713.1,182.9 713.3,182.9 713.5,182.9 713.7,182.9 713.9,182.9 714.1,182.9 714.3,182.9 714.5,182.9 714.7,182.9 714.9,182.9 715.1,182.9 715.2,182.9 715.4,182.9 715.6,182.9 715.8,182.9 716.0,182.9 716.2,182.9 716.4,182.9 716.6,182.9 716.8,182.9 717.0,182.9 717.2,182.9 717.4,182.9 717.6,182.9 717.8,182.9 718.0,182.9 718.2,182.9 718.4,182.9 718.6,182.9 718.8,182.9 718.9,182.9 719.1,182.9 719.3,182.9 719.5,182.9 719.7,182.9 719.9,182.9 720.1,182.9 720.3,182.9 720.5,182.8 720.7,182.8 720.9,182.8 721.1,182.8 721.3,182.8 721.5,182.7 721.7,182.7 721.9,182.7 722.1,182.6 722.3,182.6 722.5,182.5 722.6,182.5 722.8,182.4 723.0,182.4 723.2,182.3 723.4,182.3 723.6,182.2 723.8,182.2 724.0,182.2 724.2,182.2 724.4,182.2 724.6,182.3 724.8,182.3 725.0,182.4 725.2,182.4 725.4,182.5 725.6,182.5 725.8,182.6 726.0,182.6 726.2,182.7 726.3,182.7 726.5,182.7 726.7,182.8 726.9,182.8 727.1,182.8 727.3,182.8 727.5,182.8 727.7,182.9 727.9,182.9 728.1,182.9 728.3,182.9 728.5,182.9 728.7,182.9 728.9,182.9 729.1,182.9 729.3,182.9 729.5,182.9 729.7,182.9 729.9,182.9 730.0,182.9 730.2,182.9 730.4,182.9 730.6,182.9 730.8,182.9 731.0,182.9 731.2,182.9 731.4,182.9 731.6,182.9 731.8,182.9 732.0,182.9 732.2,182.9 732.4,182.9 732.6,182.9 732.8,182.9 733.0,182.9 733.2,182.9 733.4,182.9 733.6,182.9 733.7,182.9 733.9,182.9 734.1,182.9 734.3,182.9 734.5,182.9 734.7,182.9 734.9,182.9 735.1,182.9 735.3,182.9 735.5,182.9 735.7,182.9 735.9,182.9 736.1,182.9 736.3,182.9 736.5,182.9 736.7,182.9 736.9,182.9 737.1,182.9 737.3,182.9 737.4,182.9 737.6,182.9 737.8,182.9 738.0,182.9 738.2,182.9 738.4,182.9 738.6,182.9 738.8,182.9 739.0,182.9 739.2,182.9 739.4,182.9 739.6,182.9 739.8,182.9 740.0,182.9 740.2,182.9 740.4,182.9 740.6,182.9 740.8,182.9 741.0,182.9 741.1,182.9 741.3,182.9 741.5,182.9 741.7,182.9 741.9,182.9 742.1,182.9 742.3,182.9 742.5,182.9 742.7,182.9 742.9,182.9 743.1,182.9 743.3,182.9 743.5,182.9 743.7,182.9 743.9,182.9 744.1,182.9 744.3,182.9 744.5,182.9 744.7,182.9 744.9,182.9 745.0,182.9 745.2,182.9 745.4,182.9 745.6,182.9 745.8,182.9 746.0,182.9 746.2,182.9 746.4,182.9 746.6,182.9 746.8,182.9 747.0,182.9 747.2,182.9 747.4,182.9 747.6,182.9 747.8,182.9 748.0,182.9 748.2,182.9 748.4,182.9 748.6,182.9 748.7,182.9 748.9,182.9 749.1,182.9 749.3,182.9 749.5,182.9 749.7,182.9 749.9,182.9 750.1,182.9 750.3,182.9 750.5,182.9 750.7,182.9 750.9,182.9 751.1,182.9 751.3,182.9 751.5,182.9 751.7,182.9 751.9,182.9 752.1,182.9 752.3,182.9 752.4,182.9 752.6,182.9 752.8,182.9 753.0,182.9 753.2,182.9 753.4,182.9 753.6,182.9 753.8,182.9 754.0,182.9 754.2,182.9 754.4,182.9 754.6,182.9 754.8,182.9 755.0,182.9 755.2,182.9 755.4,182.9 755.6,182.9 755.8,182.9 756.0,182.9 756.1,182.9 756.3,182.9 756.5,182.9 756.7,182.9 756.9,182.9 757.1,182.9 757.3,182.9 757.5,182.9 757.7,182.9 757.9,182.9 758.1,182.9 758.3,182.9 758.5,182.9 758.7,182.9 758.9,182.9 759.1,182.9 759.3,182.9 759.5,182.9 759.7,182.9 759.8,182.9 760.0,182.9 760.2,182.9 760.4,182.9 760.6,182.9 760.8,182.9 761.0,182.9 761.2,182.9 761.4,182.9 761.6,182.9 761.8,182.9 762.0,182.9 762.2,182.9 762.4,182.9 762.6,182.9 762.8,182.9 763.0,182.9 763.2,182.9 763.4,182.9 763.5,182.9 763.7,182.9 763.9,182.9 764.1,182.9 764.3,182.9 764.5,182.9 764.7,182.9 764.9,182.9 765.1,182.9 765.3,182.9 765.5,182.9 765.7,182.9 765.9,182.9 766.1,182.9 766.3,182.9 766.5,182.9 766.7,182.9 766.9,182.9 767.1,182.9 767.2,182.9 767.4,182.9 767.6,182.9 767.8,182.9 768.0,182.9 768.2,182.9 768.4,182.9 768.6,182.9 768.8,182.9 769.0,182.9 769.2,182.9 769.4,182.9 769.6,182.9 769.8,182.9 770.0,182.9 770.2,182.9 770.4,182.9 770.6,182.9 770.8,182.9 770.9,182.9 771.1,182.9 771.3,182.9 771.5,182.9 771.7,182.9 771.9,182.9 772.1,182.9 772.3,182.9 772.5,182.9 772.7,182.9 772.9,182.9 773.1,182.9 773.3,182.9 773.5,182.9 773.7,182.9 773.9,182.9 774.1,182.9 774.3,182.9 774.5,182.9 774.6,182.9 774.8,182.9 775.0,182.9 775.2,182.9 775.4,182.9 775.6,182.9 775.8,182.9 776.0,182.9 776.2,182.8 776.4,182.8 776.6,182.8 776.8,182.8 777.0,182.8 777.2,182.8 777.4,182.7 777.6,182.7 777.8,182.7 778.0,182.6 778.2,182.6 778.3,182.6 778.5,182.6 778.7,182.5 778.9,182.5 779.1,182.5 779.3,182.5 779.5,182.5 779.7,182.5 779.9,182.5 780.1,182.6 780.3,182.6 780.5,182.6 780.7,182.6 780.9,182.7 781.1,182.7 781.3,182.7 781.5,182.8 781.7,182.8 781.9,182.8 782.0,182.8 782.2,182.8 782.4,182.8 782.6,182.9 782.8,182.9 783.0,182.9 783.2,182.9 783.4,182.9 783.6,182.9 783.8,182.9 784.0,182.9 784.2,182.9 784.4,182.9 784.6,182.9 784.8,182.9 785.0,182.9 785.2,182.9 785.4,182.9 785.6,182.9 785.7,182.9 785.9,182.9 786.1,182.9 786.3,182.9 786.5,182.9 786.7,182.9 786.9,182.9 787.1,182.9 787.3,182.9 787.5,182.9 787.7,182.9 787.9,182.8 788.1,182.8 788.3,182.8 788.5,182.8 788.7,182.8 788.9,182.8 789.1,182.7 789.3,182.7 789.4,182.7 789.6,182.6 789.8,182.5 790.0,182.5 790.2,182.4 790.4,182.3 790.6,182.3 790.8,182.2 791.0,182.1 791.2,182.1 791.4,182.0 791.6,182.0 791.8,182.0 792.0,182.0 792.2,182.0 792.4,182.1 792.6,182.1 792.8,182.2 793.0,182.3 793.1,182.3 793.3,182.4 793.5,182.5 793.7,182.5 793.9,182.6 794.1,182.7 794.3,182.7 794.5,182.7 794.7,182.8 794.9,182.8 795.1,182.8 795.3,182.8 795.5,182.8 795.7,182.8 795.9,182.9 796.1,182.9 796.3,182.9 796.5,182.9 796.7,182.9 796.8,182.9 797.0,182.9 797.2,182.9 797.4,182.9 797.6,182.9 797.8,182.9 798.0,182.9 798.2,182.9 798.4,182.9 798.6,182.9 798.8,182.9 799.0,182.9 799.2,182.9 799.4,182.9 799.6,182.9 799.8,182.9 800.0,182.9 800.2,182.9 800.4,182.9 800.5,182.9 800.7,182.9 800.9,182.9 801.1,182.9 801.3,182.9 801.5,182.9 801.7,182.9 801.9,182.9 802.1,182.9 802.3,182.9 802.5,182.9 802.7,182.9 802.9,182.9 803.1,182.9 803.3,182.9 803.5,182.9 803.7,182.9 803.9,182.9 804.1,182.9 804.2,182.9 804.4,182.9 804.6,182.9 804.8,182.9 805.0,182.9 805.2,182.9 805.4,182.9 805.6,182.9 805.8,182.9 806.0,182.9 806.2,182.9 806.4,182.9 806.6,182.9 806.8,182.9 807.0,182.9 807.2,182.9 807.4,182.9 807.6,182.9 807.8,182.9 807.9,182.9 808.1,182.9 808.3,182.9 808.5,182.9 808.7,182.9 808.9,182.9 809.1,182.9 809.3,182.9 809.5,182.9 809.7,182.9 809.9,182.9 810.1,182.9 810.3,182.9 810.5,182.9 810.7,182.9 810.9,182.9 811.1,182.9 811.3,182.9 811.5,182.9 811.6,182.9 811.8,182.9 812.0,182.9 812.2,182.9 812.4,182.9 812.6,182.9 812.8,182.9 813.0,182.9 813.2,182.9 813.4,182.9 813.6,182.9 813.8,182.9 814.0,182.9 814.2,182.9 814.4,182.9 814.6,182.9 814.8,182.9 815.0,182.9 815.2,182.9 815.3,182.9 815.5,182.9 815.7,182.9 815.9,182.9 816.1,182.9 816.3,182.9 816.5,182.9 816.7,182.9 816.9,182.9 817.1,182.9 817.3,182.9 817.5,182.9 817.7,182.9 817.9,182.9 818.1,182.9 818.3,182.9 818.5,182.9 818.7,182.9 818.9,182.9 819.0,182.9 819.2,182.9 819.4,182.9 819.6,182.9 819.8,182.9 820.0,182.9 820.2,182.9 820.4,182.9 820.6,182.9 820.8,182.9 821.0,182.9 821.2,182.9 821.4,182.9 821.6,182.9 821.8,182.9 822.0,182.9 822.2,182.9 822.4,182.9 822.6,182.9 822.8,182.9 822.9,182.9 823.1,182.9 823.3,182.9 823.5,182.9 823.7,182.9 823.9,182.9 824.1,182.9 824.3,182.9 824.5,182.9 824.7,182.9 824.9,182.9 825.1,182.9 825.3,182.9 825.5,182.9 825.7,182.9 825.9,182.9 826.1,182.9 826.3,182.9 826.5,182.9 826.6,182.9 826.8,182.9 827.0,182.9 827.2,182.9 827.4,182.9 827.6,182.9 827.8,182.9 828.0,182.9 828.2,182.9 828.4,182.9 828.6,182.9 828.8,182.9 829.0,182.9 829.2,182.9 829.4,182.9 829.6,182.9 829.8,182.9 830.0,182.9 830.2,182.9 830.3,182.9 830.5,182.9 830.7,182.9 830.9,182.9 831.1,182.9 831.3,182.9 831.5,182.9 831.7,182.9 831.9,182.9 832.1,182.9 832.3,182.9 832.5,182.9 832.7,182.9 832.9,182.9 833.1,182.9 833.3,182.9 833.5,182.9 833.7,182.9 833.9,182.9 834.0,182.9 834.2,182.9 834.4,182.9 834.6,182.9 834.8,182.9 835.0,182.9 835.2,182.9 835.4,182.9 835.6,182.9 835.8,182.9 836.0,182.9 836.2,182.9 836.4,182.9 836.6,182.9 836.8,182.9 837.0,182.9 837.2,182.9 837.4,182.9 837.6,182.9 837.7,182.9 837.9,182.9 838.1,182.9 838.3,182.9 838.5,182.9 838.7,182.9 838.9,182.9 839.1,182.9 839.3,182.9 839.5,182.8 839.7,182.8 839.9,182.8 840.1,182.8 840.3,182.8 840.5,182.7 840.7,182.7 840.9,182.7 841.1,182.7 841.3,182.6 841.4,182.6 841.6,182.6 841.8,182.5 842.0,182.5 842.2,182.5 842.4,182.5 842.6,182.5 842.8,182.5 843.0,182.5 843.2,182.6 843.4,182.6 843.6,182.6 843.8,182.7 844.0,182.7 844.2,182.7 844.4,182.7 844.6,182.8 844.8,182.8 845.0,182.8 845.1,182.8 845.3,182.8 845.5,182.9 845.7,182.9 845.9,182.9 846.1,182.9 846.3,182.9 846.5,182.9 846.7,182.9 846.9,182.9 847.1,182.9 847.3,182.9 847.5,182.9 847.7,182.9 847.9,182.9 848.1,182.9 848.3,182.9 848.5,182.9 848.7,182.9 848.8,182.9 849.0,182.9 849.2,182.9 849.4,182.9 849.6,182.9 849.8,182.9 850.0,182.9 850.2,182.9 850.4,182.9 850.6,182.9 850.8,182.9 851.0,182.9 851.2,182.9 851.4,182.9 851.6,182.9 851.8,182.9 852.0,182.9 852.2,182.9 852.4,182.9 852.5,182.9 852.7,182.9 852.9,182.9 853.1,182.9 853.3,182.9 853.5,182.9 853.7,182.9 853.9,182.9 854.1,182.9 854.3,182.9 854.5,182.9 854.7,182.9 854.9,182.9 855.1,182.9 855.3,182.9 855.5,182.9 855.7,182.9 855.9,182.9 856.1,182.9 856.2,182.9 856.4,182.9 856.6,182.9 856.8,182.9 857.0,182.9 857.2,182.9 857.4,182.9 857.6,182.9 857.8,182.9 858.0,182.9" fill="none" stroke="#008000" stroke-width="1.3" stroke-linejoin="round"/>
<polyline points="468.5,224.1 468.7,224.1 468.9,224.1 469.1,224.1 469.3,224.1 469.5,224.1 469.7,224.1 469.9,224.1 470.1,224.1 470.3,224.1 470.4,224.1 470.6,224.1 470.8,224.1 471.0,224.1 471.2,224.1 471.4,224.1 471.6,224.1 471.8,224.1 472.0,224.1 472.2,224.1 472.4,224.1 472.6,224.1 472.8,224.1 473.0,224.1 473.2,224.1 473.4,224.1 473.6,224.1 473.8,224.1 474.0,224.0 474.1,224.0 474.3,224.0 474.5,224.0 474.7,224.0 474.9,224.0 475.1,224.0 475.3,224.0 475.5,224.0 475.7,224.0 475.9,224.0 476.1,224.0 476.3,224.0 476.5,224.0 476.7,224.0 476.9,224.0 477.1,223.9 477.3,223.9 477.5,223.9 477.7,223.8 477.8,223.7 478.0,223.7 478.2,223.6 478.4,223.5 478.6,223.3 478.8,223.2 479.0,223.0 479.2,222.8 479.4,222.6 479.6,222.3 479.8,222.1 480.0,221.9 480.2,221.7 480.4,221.5 480.6,221.4 480.8,221.3 481.0,221.3 481.2,221.3 481.4,221.4 481.5,221.5 481.7,221.7 481.9,221.9 482.1,222.1 482.3,222.3 482.5,222.6 482.7,222.8 482.9,223.0 483.1,223.1 483.3,223.3 483.5,223.4 483.7,223.6 483.9,223.6 484.1,223.7 484.3,223.8 484.5,223.8 484.7,223.9 484.9,223.9 485.1,223.9 485.2,223.9 485.4,224.0 485.6,224.0 485.8,224.0 486.0,224.0 486.2,224.0 486.4,224.0 486.6,224.0 486.8,224.0 487.0,224.0 487.2,224.0 487.4,224.0 487.6,224.0 487.8,224.0 488.0,224.0 488.2,224.0 488.4,224.0 488.6,224.0 488.8,224.0 488.9,224.0 489.1,224.0 489.3,224.0 489.5,224.0 489.7,224.0 489.9,224.0 490.1,224.0 490.3,224.0 490.5,224.0 490.7,224.0 490.9,224.0 491.1,223.9 491.3,223.9 491.5,223.9 491.7,223.9 491.9,223.9 492.1,223.9 492.3,223.9 492.5,223.9 492.6,223.9 492.8,223.9 493.0,223.8 493.2,223.8 493.4,223.8 493.6,223.8 493.8,223.8 494.0,223.8 494.2,223.7 494.4,223.7 494.6,223.7 494.8,223.6 495.0,223.6 495.2,223.5 495.4,223.4 495.6,223.3 495.8,223.1 496.0,222.9 496.2,222.6 496.3,222.1 496.5,221.5 496.7,220.6 496.9,219.4 497.1,217.9 497.3,216.1 497.5,214.0 497.7,211.7 497.9,209.2 498.1,206.8 498.3,204.7 498.5,203.0 498.7,202.1 498.9,202.0 499.1,202.8 499.3,204.3 499.5,206.4 499.7,208.7 499.9,211.2 500.0,213.6 500.2,215.7 500.4,217.6 500.6,219.1 500.8,220.4 501.0,221.3 501.2,222.0 501.4,222.5 501.6,222.9 501.8,223.1 502.0,223.3 502.2,223.4 502.4,223.5 502.6,223.6 502.8,223.6 503.0,223.7 503.2,223.7 503.4,223.7 503.6,223.8 503.7,223.8 503.9,223.8 504.1,223.8 504.3,223.8 504.5,223.9 504.7,223.9 504.9,223.9 505.1,223.9 505.3,223.9 505.5,223.9 505.7,223.9 505.9,223.9 506.1,223.9 506.3,224.0 506.5,224.0 506.7,224.0 506.9,224.0 507.1,224.0 507.3,224.0 507.5,224.0 507.6,224.0 507.8,224.0 508.0,224.0 508.2,224.0 508.4,224.0 508.6,224.0 508.8,224.0 509.0,224.0 509.2,224.0 509.4,224.0 509.6,224.0 509.8,224.0 510.0,224.0 510.2,224.0 510.4,224.0 510.6,224.0 510.8,224.0 511.0,224.0 511.2,224.0 511.3,224.0 511.5,224.0 511.7,224.0 511.9,224.0 512.1,224.1 512.3,224.1 512.5,224.1 512.7,224.1 512.9,224.1 513.1,224.1 513.3,224.1 513.5,224.1 513.7,224.1 513.9,224.1 514.1,224.1 514.3,224.1 514.5,224.1 514.7,224.1 514.9,224.1 515.0,224.1 515.2,224.1 515.4,224.1 515.6,224.1 515.8,224.1 516.0,224.1 516.2,224.1 516.4,224.1 516.6,224.1 516.8,224.1 517.0,224.1 517.2,224.1 517.4,224.1 517.6,224.1 517.8,224.1 518.0,224.1 518.2,224.1 518.4,224.1 518.6,224.1 518.7,224.1 518.9,224.1 519.1,224.1 519.3,224.1 519.5,224.1 519.7,224.1 519.9,224.1 520.1,224.1 520.3,224.1 520.5,224.1 520.7,224.1 520.9,224.1 521.1,224.1 521.3,224.1 521.5,224.1 521.7,224.1 521.9,224.1 522.1,224.1 522.3,224.1 522.4,224.1 522.6,224.1 522.8,224.1 523.0,224.1 523.2,224.1 523.4,224.1 523.6,224.1 523.8,224.1 524.0,224.1 524.2,224.1 524.4,224.1 524.6,224.1 524.8,224.1 525.0,224.1 525.2,224.1 525.4,224.1 525.6,224.1 525.8,224.1 526.0,224.1 526.1,224.1 526.3,224.1 526.5,224.1 526.7,224.1 526.9,224.1 527.1,224.1 527.3,224.1 527.5,224.1 527.7,224.1 527.9,224.1 528.1,224.1 528.3,224.1 528.5,224.1 528.7,224.1 528.9,224.1 529.1,224.1 529.3,224.1 529.5,224.1 529.7,224.1 529.8,224.1 530.0,224.1 530.2,224.1 530.4,224.1 530.6,224.1 530.8,224.1 531.0,224.1 531.2,224.1 531.4,224.1 531.6,224.1 531.8,224.1 532.0,224.1 532.2,224.1 532.4,224.1 532.6,224.1 532.8,224.1 533.0,224.1 533.2,224.1 533.4,224.1 533.5,224.1 533.7,224.1 533.9,224.1 534.1,224.1 534.3,224.1 534.5,224.1 534.7,224.1 534.9,224.1 535.1,224.1 535.3,224.1 535.5,224.1 535.7,224.1 535.9,224.1 536.1,224.1 536.3,224.1 536.5,224.1 536.7,224.1 536.9,224.1 537.1,224.1 537.2,224.1 537.4,224.1 537.6,224.1 537.8,224.1 538.0,224.1 538.2,224.1 538.4,224.1 538.6,224.1 538.8,224.1 539.0,224.1 539.2,224.1 539.4,224.1 539.6,224.1 539.8,224.1 540.0,224.1 540.2,224.1 540.4,224.1 540.6,224.1 540.8,224.1 540.9,224.1 541.1,224.1 541.3,224.1 541.5,224.1 541.7,224.1 541.9,224.1 542.1,224.1 542.3,224.1 542.5,224.1 542.7,224.1 542.9,224.1 543.1,224.1 543.3,224.1 543.5,224.1 543.7,224.1 543.9,224.1 544.1,224.1 544.3,224.1 544.5,224.1 544.6,224.1 544.8,224.1 545.0,224.1 545.2,224.1 545.4,224.1 545.6,224.1 545.8,224.1 546.0,224.1 546.2,224.1 546.4,224.1 546.6,224.1 546.8,224.1 547.0,224.1 547.2,224.1 547.4,224.1 547.6,224.1 547.8,224.1 548.0,224.1 548.2,224.1 548.3,224.1 548.5,224.1 548.7,224.1 548.9,224.1 549.1,224.1 549.3,224.1 549.5,224.1 549.7,224.1 549.9,224.1 550.1,224.1 550.3,224.1 550.5,224.1 550.7,224.1 550.9,224.1 551.1,224.1 551.3,224.1 551.5,224.1 551.7,224.1 551.9,224.1 552.0,224.1 552.2,224.1 552.4,224.1 552.6,224.1 552.8,224.1 553.0,224.1 553.2,224.1 553.4,224.1 553.6,224.1 553.8,224.1 554.0,224.1 554.2,224.1 554.4,224.1 554.6,224.1 554.8,224.1 555.0,224.1 555.2,224.1 555.4,224.1 555.6,224.1 555.7,224.1 555.9,224.1 556.1,224.1 556.3,224.1 556.5,224.1 556.7,224.1 556.9,224.1 557.1,224.1 557.3,224.1 557.5,224.1 557.7,224.1 557.9,224.1 558.1,224.1 558.3,224.1 558.5,224.1 558.7,224.1 558.9,224.1 559.1,224.1 559.3,224.1 559.4,224.1 559.6,224.1 559.8,224.1 560.0,224.1 560.2,224.1 560.4,224.1 560.6,224.1 560.8,224.1 561.0,224.1 561.2,224.1 561.4,224.1 561.6,224.1 561.8,224.1 562.0,224.1 562.2,224.1 562.4,224.1 562.6,224.1 562.8,224.1 563.0,224.1 563.1,224.1 563.3,224.1 563.5,224.1 563.7,224.1 563.9,224.1 564.1,224.1 564.3,224.1 564.5,224.1 564.7,224.1 564.9,224.1 565.1,224.1 565.3,224.1 565.5,224.1 565.7,224.1 565.9,224.1 566.1,224.1 566.3,224.1 566.5,224.1 566.7,224.1 566.8,224.1 567.0,224.1 567.2,224.1 567.4,224.1 567.6,224.1 567.8,224.1 568.0,224.1 568.2,224.1 568.4,224.1 568.6,224.1 568.8,224.1 569.0,224.1 569.2,224.1 569.4,224.1 569.6,224.1 569.8,224.1 570.0,224.1 570.2,224.1 570.4,224.1 570.5,224.1 570.7,224.1 570.9,224.1 571.1,224.1 571.3,224.1 571.5,224.1 571.7,224.1 571.9,224.1 572.1,224.1 572.3,224.1 572.5,224.1 572.7,224.1 572.9,224.1 573.1,224.1 573.3,224.1 573.5,224.1 573.7,224.1 573.9,224.1 574.1,224.1 574.2,224.1 574.4,224.1 574.6,224.1 574.8,224.1 575.0,224.1 575.2,224.0 575.4,224.0 575.6,224.0 575.8,224.0 576.0,224.0 576.2,224.0 576.4,224.0 576.6,224.0 576.8,223.9 577.0,223.9 577.2,223.8 577.4,223.8 577.6,223.7 577.8,223.6 577.9,223.5 578.1,223.4 578.3,223.3 578.5,223.2 578.7,223.1 578.9,223.0 579.1,222.9 579.3,222.8 579.5,222.7 579.7,222.7 579.9,222.7 580.1,222.7 580.3,222.7 580.5,222.8 580.7,222.9 580.9,223.0 581.1,223.1 581.3,223.2 581.5,223.3 581.6,223.4 581.8,223.5 582.0,223.6 582.2,223.7 582.4,223.8 582.6,223.8 582.8,223.9 583.0,223.9 583.2,223.9 583.4,224.0 583.6,224.0 583.8,224.0 584.0,224.0 584.2,224.0 584.4,224.0 584.6,224.0 584.8,224.0 585.0,224.0 585.2,224.0 585.3,224.1 585.5,224.1 585.7,224.1 585.9,224.1 586.1,224.1 586.3,224.1 586.5,224.1 586.7,224.1 586.9,224.1 587.1,224.1 587.3,224.1 587.5,224.1 587.7,224.1 587.9,224.1 588.1,224.1 588.3,224.1 588.5,224.1 588.7,224.1 588.9,224.1 589.1,224.1 589.2,224.1 589.4,224.1 589.6,224.1 589.8,224.1 590.0,224.1 590.2,224.1 590.4,224.1 590.6,224.1 590.8,224.1 591.0,224.1 591.2,224.1 591.4,224.0 591.6,224.0 591.8,224.0 592.0,224.0 592.2,224.0 592.4,224.0 592.6,224.0 592.8,224.0 592.9,224.0 593.1,224.0 593.3,224.0 593.5,224.0 593.7,224.0 593.9,223.9 594.1,223.9 594.3,223.9 594.5,223.8 594.7,223.7 594.9,223.7 595.1,223.6 595.3,223.5 595.5,223.4 595.7,223.3 595.9,223.2 596.1,223.1 596.3,223.0 596.5,223.0 596.6,222.9 596.8,222.9 597.0,222.9 597.2,222.9 597.4,222.9 597.6,223.0 597.8,223.0 598.0,223.1 598.2,223.2 598.4,223.3 598.6,223.4 598.8,223.5 599.0,223.6 599.2,223.7 599.4,223.7 599.6,223.8 599.8,223.8 600.0,223.9 600.2,223.9 600.3,223.9 600.5,223.9 600.7,223.9 600.9,224.0 601.1,224.0 601.3,224.0 601.5,224.0 601.7,224.0 601.9,224.0 602.1,224.0 602.3,224.0 602.5,224.0 602.7,224.0 602.9,224.0 603.1,224.0 603.3,223.9 603.5,223.9 603.7,223.9 603.9,223.9 604.0,223.9 604.2,223.9 604.4,223.9 604.6,223.9 604.8,223.9 605.0,223.8 605.2,223.8 605.4,223.8 605.6,223.7 605.8,223.7 606.0,223.6 606.2,223.5 606.4,223.4 606.6,223.2 606.8,223.0 607.0,222.8 607.2,222.4 607.4,222.0 607.6,221.4 607.7,220.8 607.9,220.1 608.1,219.2 608.3,218.4 608.5,217.5 608.7,216.6 608.9,215.7 609.1,215.0 609.3,214.4 609.5,214.1 609.7,214.0 609.9,214.2 610.1,214.6 610.3,215.3 610.5,216.0 610.7,216.9 610.9,217.8 611.1,218.7 611.3,219.6 611.4,220.4 611.6,221.1 611.8,221.6 612.0,222.1 612.2,222.6 612.4,222.9 612.6,223.1 612.8,223.3 613.0,223.5 613.2,223.6 613.4,223.7 613.6,223.7 613.8,223.8 614.0,223.8 614.2,223.8 614.4,223.9 614.6,223.9 614.8,223.9 615.0,223.9 615.1,223.9 615.3,223.9 615.5,223.9 615.7,224.0 615.9,224.0 616.1,224.0 616.3,224.0 616.5,224.0 616.7,224.0 616.9,224.0 617.1,224.0 617.3,224.0 617.5,224.0 617.7,224.0 617.9,224.0 618.1,224.0 618.3,224.0 618.5,224.0 618.7,224.0 618.8,224.0 619.0,224.0 619.2,224.0 619.4,224.0 619.6,224.0 619.8,224.0 620.0,224.0 620.2,224.0 620.4,224.0 620.6,224.0 620.8,224.1 621.0,224.1 621.2,224.1 621.4,224.1 621.6,224.1 621.8,224.1 622.0,224.1 622.2,224.1 622.4,224.1 622.5,224.1 622.7,224.1 622.9,224.1 623.1,224.1 623.3,224.1 623.5,224.1 623.7,224.1 623.9,224.1 624.1,224.1 624.3,224.1 624.5,224.1 624.7,224.1 624.9,224.1 625.1,224.1 625.3,224.1 625.5,224.1 625.7,224.1 625.9,224.1 626.1,224.1 626.2,224.1 626.4,224.1 626.6,224.1 626.8,224.1 627.0,224.1 627.2,224.1 627.4,224.1 627.6,224.1 627.8,224.1 628.0,224.1 628.2,224.1 628.4,224.1 628.6,224.1 628.8,224.1 629.0,224.1 629.2,224.1 629.4,224.1 629.6,224.1 629.8,224.1 629.9,224.1 630.1,224.1 630.3,224.1 630.5,224.1 630.7,224.1 630.9,224.1 631.1,224.1 631.3,224.1 631.5,224.1 631.7,224.1 631.9,224.1 632.1,224.1 632.3,224.0 632.5,224.0 632.7,224.0 632.9,224.0 633.1,224.0 633.3,224.0 633.5,224.0 633.6,223.9 633.8,223.9 634.0,223.9 634.2,223.8 634.4,223.8 634.6,223.7 634.8,223.7 635.0,223.6 635.2,223.6 635.4,223.5 635.6,223.5 635.8,223.5 636.0,223.5 636.2,223.5 636.4,223.5 636.6,223.5 636.8,223.6 637.0,223.6 637.2,223.7 637.3,223.7 637.5,223.8 637.7,223.8 637.9,223.9 638.1,223.9 638.3,223.9 638.5,224.0 638.7,224.0 638.9,224.0 639.1,224.0 639.3,224.0 639.5,224.0 639.7,224.1 639.9,224.1 640.1,224.1 640.3,224.1 640.5,224.1 640.7,224.1 640.9,224.1 641.0,224.1 641.2,224.1 641.4,224.1 641.6,224.1 641.8,224.1 642.0,224.1 642.2,224.1 642.4,224.1 642.6,224.1 642.8,224.1 643.0,224.1 643.2,224.1 643.4,224.1 643.6,224.1 643.8,224.1 644.0,224.1 644.2,224.1 644.4,224.1 644.6,224.1 644.7,224.1 644.9,224.1 645.1,224.1 645.3,224.1 645.5,224.1 645.7,224.1 645.9,224.1 646.1,224.1 646.3,224.1 646.5,224.1 646.7,224.1 646.9,224.1 647.1,224.1 647.3,224.1 647.5,224.1 647.7,224.1 647.9,224.1 648.1,224.1 648.3,224.1 648.4,224.1 648.6,224.1 648.8,224.1 649.0,224.1 649.2,224.1 649.4,224.1 649.6,224.0 649.8,224.0 650.0,224.0 650.2,224.0 650.4,224.0 650.6,224.0 650.8,223.9 651.0,223.9 651.2,223.9 651.4,223.8 651.6,223.8 651.8,223.7 652.0,223.7 652.1,223.6 652.3,223.6 652.5,223.5 652.7,223.5 652.9,223.5 653.1,223.5 653.3,223.5 653.5,223.5 653.7,223.5 653.9,223.6 654.1,223.6 654.3,223.7 654.5,223.7 654.7,223.8 654.9,223.8 655.1,223.9 655.3,223.9 655.5,223.9 655.7,224.0 655.8,224.0 656.0,224.0 656.2,224.0 656.4,224.0 656.6,224.0 656.8,224.1 657.0,224.1 657.2,224.1 657.4,224.1 657.6,224.1 657.8,224.1 658.0,224.1 658.2,224.1 658.4,224.1 658.6,224.1 658.8,224.1 659.0,224.1 659.2,224.1 659.4,224.1 659.5,224.1 659.7,224.1 659.9,224.1 660.1,224.1 660.3,224.1 660.5,224.1 660.7,224.1 660.9,224.1 661.1,224.1 661.3,224.1 661.5,224.1 661.7,224.1 661.9,224.1 662.1,224.1 662.3,224.1 662.5,224.1 662.7,224.1 662.9,224.1 663.1,224.1 663.2,224.1 663.4,224.1 663.6,224.1 663.8,224.1 664.0,224.1 664.2,224.1 664.4,224.1 664.6,224.1 664.8,224.1 665.0,224.1 665.2,224.1 665.4,224.1 665.6,224.1 665.8,224.1 666.0,224.1 666.2,224.1 666.4,224.1 666.6,224.1 666.8,224.1 667.0,224.1 667.1,224.1 667.3,224.1 667.5,224.1 667.7,224.1 667.9,224.1 668.1,224.1 668.3,224.1 668.5,224.1 668.7,224.1 668.9,224.1 669.1,224.1 669.3,224.1 669.5,224.1 669.7,224.1 669.9,224.1 670.1,224.1 670.3,224.1 670.5,224.1 670.7,224.1 670.8,224.1 671.0,224.1 671.2,224.1 671.4,224.1 671.6,224.1 671.8,224.1 672.0,224.1 672.2,224.1 672.4,224.1 672.6,224.1 672.8,224.1 673.0,224.1 673.2,224.1 673.4,224.1 673.6,224.1 673.8,224.1 674.0,224.1 674.2,224.1 674.4,224.1 674.5,224.1 674.7,224.1 674.9,224.1 675.1,224.1 675.3,224.1 675.5,224.1 675.7,224.1 675.9,224.1 676.1,224.1 676.3,224.1 676.5,224.1 676.7,224.1 676.9,224.1 677.1,224.1 677.3,224.1 677.5,224.1 677.7,224.1 677.9,224.1 678.1,224.1 678.2,224.1 678.4,224.1 678.6,224.1 678.8,224.1 679.0,224.1 679.2,224.1 679.4,224.1 679.6,224.1 679.8,224.1 680.0,224.1 680.2,224.0 680.4,224.0 680.6,224.0 680.8,224.0 681.0,224.0 681.2,224.0 681.4,223.9 681.6,223.9 681.8,223.9 681.9,223.8 682.1,223.8 682.3,223.7 682.5,223.6 682.7,223.6 682.9,223.5 683.1,223.4 683.3,223.3 683.5,223.2 683.7,223.2 683.9,223.1 684.1,223.1 684.3,223.1 684.5,223.1 684.7,223.1 684.9,223.2 685.1,223.2 685.3,223.3 685.5,223.4 685.6,223.5 685.8,223.6 686.0,223.6 686.2,223.7 686.4,223.8 686.6,223.8 686.8,223.9 687.0,223.9 687.2,223.9 687.4,224.0 687.6,224.0 687.8,224.0 688.0,224.0 688.2,224.0 688.4,224.0 688.6,224.1 688.8,224.1 689.0,224.1 689.2,224.1 689.3,224.1 689.5,224.1 689.7,224.1 689.9,224.1 690.1,224.1 690.3,224.1 690.5,224.1 690.7,224.1 690.9,224.1 691.1,224.1 691.3,224.1 691.5,224.1 691.7,224.1 691.9,224.1 692.1,224.1 692.3,224.1 692.5,224.1 692.7,224.1 692.9,224.1 693.0,224.1 693.2,224.1 693.4,224.1 693.6,224.1 693.8,224.1 694.0,224.1 694.2,224.1 694.4,224.1 694.6,224.1 694.8,224.1 695.0,224.1 695.2,224.1 695.4,224.1 695.6,224.1 695.8,224.1 696.0,224.1 696.2,224.1 696.4,224.1 696.6,224.1 696.7,224.1 696.9,224.1 697.1,224.1 697.3,224.1 697.5,224.1 697.7,224.1 697.9,224.1 698.1,224.1 698.3,224.1 698.5,224.1 698.7,224.1 698.9,224.1 699.1,224.1 699.3,224.1 699.5,224.1 699.7,224.1 699.9,224.1 700.1,224.1 700.3,224.1 700.4,224.1 700.6,224.0 700.8,224.0 701.0,224.0 701.2,224.0 701.4,224.0 701.6,224.0 701.8,223.9 702.0,223.9 702.2,223.9 702.4,223.8 702.6,223.8 702.8,223.8 703.0,223.8 703.2,223.7 703.4,223.7 703.6,223.7 703.8,223.7 704.0,223.7 704.1,223.7 704.3,223.7 704.5,223.8 704.7,223.8 704.9,223.8 705.1,223.8 705.3,223.9 705.5,223.9 705.7,223.9 705.9,224.0 706.1,224.0 706.3,224.0 706.5,224.0 706.7,224.0 706.9,224.0 707.1,224.1 707.3,224.1 707.5,224.1 707.7,224.1 707.8,224.1 708.0,224.1 708.2,224.1 708.4,224.1 708.6,224.1 708.8,224.1 709.0,224.1 709.2,224.1 709.4,224.1 709.6,224.1 709.8,224.1 710.0,224.1 710.2,224.1 710.4,224.1 710.6,224.1 710.8,224.1 711.0,224.1 711.2,224.1 711.4,224.1 711.5,224.1 711.7,224.1 711.9,224.1 712.1,224.1 712.3,224.1 712.5,224.1 712.7,224.1 712.9,224.1 713.1,224.1 713.3,224.1 713.5,224.1 713.7,224.1 713.9,224.1 714.1,224.1 714.3,224.1 714.5,224.1 714.7,224.1 714.9,224.1 715.1,224.1 715.2,224.1 715.4,224.1 715.6,224.1 715.8,224.1 716.0,224.1 716.2,224.1 716.4,224.1 716.6,224.1 716.8,224.1 717.0,224.1 717.2,224.1 717.4,224.1 717.6,224.1 717.8,224.1 718.0,224.1 718.2,224.1 718.4,224.1 718.6,224.1 718.8,224.1 718.9,224.1 719.1,224.1 719.3,224.1 719.5,224.1 719.7,224.1 719.9,224.1 720.1,224.1 720.3,224.1 720.5,224.0 720.7,224.0 720.9,224.0 721.1,224.0 721.3,224.0 721.5,223.9 721.7,223.9 721.9,223.9 722.1,223.8 722.3,223.8 722.5,223.7 722.6,223.7 722.8,223.6 723.0,223.6 723.2,223.5 723.4,223.5 723.6,223.4 723.8,223.4 724.0,223.4 724.2,223.4 724.4,223.4 724.6,223.5 724.8,223.5 725.0,223.6 725.2,223.6 725.4,223.7 725.6,223.7 725.8,223.8 726.0,223.8 726.2,223.9 726.3,223.9 726.5,223.9 726.7,224.0 726.9,224.0 727.1,224.0 727.3,224.0 727.5,224.0 727.7,224.1 727.9,224.1 728.1,224.1 728.3,224.1 728.5,224.1 728.7,224.1 728.9,224.1 729.1,224.1 729.3,224.1 729.5,224.1 729.7,224.1 729.9,224.1 730.0,224.1 730.2,224.1 730.4,224.1 730.6,224.1 730.8,224.1 731.0,224.1 731.2,224.1 731.4,224.1 731.6,224.1 731.8,224.1 732.0,224.1 732.2,224.1 732.4,224.1 732.6,224.1 732.8,224.1 733.0,224.1 733.2,224.1 733.4,224.1 733.6,224.1 733.7,224.1 733.9,224.1 734.1,224.1 734.3,224.1 734.5,224.1 734.7,224.1 734.9,224.1 735.1,224.1 735.3,224.1 735.5,224.1 735.7,224.1 735.9,224.1 736.1,224.1 736.3,224.1 736.5,224.1 736.7,224.1 736.9,224.1 737.1,224.1 737.3,224.1 737.4,224.1 737.6,224.1 737.8,224.1 738.0,224.1 738.2,224.1 738.4,224.1 738.6,224.1 738.8,224.1 739.0,224.1 739.2,224.1 739.4,224.1 739.6,224.1 739.8,224.1 740.0,224.1 740.2,224.1 740.4,224.1 740.6,224.1 740.8,224.1 741.0,224.1 741.1,224.1 741.3,224.1 741.5,224.1 741.7,224.1 741.9,224.1 742.1,224.1 742.3,224.1 742.5,224.1 742.7,224.1 742.9,224.1 743.1,224.1 743.3,224.1 743.5,224.1 743.7,224.1 743.9,224.1 744.1,224.1 744.3,224.1 744.5,224.1 744.7,224.1 744.9,224.1 745.0,224.1 745.2,224.1 745.4,224.1 745.6,224.1 745.8,224.1 746.0,224.1 746.2,224.1 746.4,224.1 746.6,224.1 746.8,224.1 747.0,224.1 747.2,224.1 747.4,224.1 747.6,224.1 747.8,224.1 748.0,224.1 748.2,224.1 748.4,224.1 748.6,224.1 748.7,224.1 748.9,224.1 749.1,224.1 749.3,224.1 749.5,224.1 749.7,224.1 749.9,224.1 750.1,224.1 750.3,224.1 750.5,224.1 750.7,224.1 750.9,224.1 751.1,224.1 751.3,224.1 751.5,224.1 751.7,224.1 751.9,224.1 752.1,224.1 752.3,224.1 752.4,224.1 752.6,224.1 752.8,224.1 753.0,224.1 753.2,224.1 753.4,224.1 753.6,224.1 753.8,224.1 754.0,224.1 754.2,224.1 754.4,224.1 754.6,224.1 754.8,224.1 755.0,224.1 755.2,224.1 755.4,224.1 755.6,224.1 755.8,224.1 756.0,224.1 756.1,224.1 756.3,224.1 756.5,224.1 756.7,224.1 756.9,224.1 757.1,224.1 757.3,224.1 757.5,224.1 757.7,224.1 757.9,224.1 758.1,224.1 758.3,224.1 758.5,224.1 758.7,224.1 758.9,224.1 759.1,224.1 759.3,224.1 759.5,224.1 759.7,224.1 759.8,224.1 760.0,224.1 760.2,224.1 760.4,224.1 760.6,224.1 760.8,224.1 761.0,224.1 761.2,224.1 761.4,224.1 761.6,224.1 761.8,224.1 762.0,224.1 762.2,224.1 762.4,224.1 762.6,224.1 762.8,224.1 763.0,224.1 763.2,224.1 763.4,224.1 763.5,224.1 763.7,224.1 763.9,224.1 764.1,224.1 764.3,224.1 764.5,224.1 764.7,224.1 764.9,224.1 765.1,224.1 765.3,224.1 765.5,224.1 765.7,224.1 765.9,224.1 766.1,224.1 766.3,224.1 766.5,224.1 766.7,224.1 766.9,224.1 767.1,224.1 767.2,224.1 767.4,224.1 767.6,224.1 767.8,224.1 768.0,224.1 768.2,224.1 768.4,224.1 768.6,224.1 768.8,224.1 769.0,224.1 769.2,224.1 769.4,224.1 769.6,224.1 769.8,224.1 770.0,224.1 770.2,224.1 770.4,224.1 770.6,224.1 770.8,224.1 770.9,224.1 771.1,224.1 771.3,224.1 771.5,224.1 771.7,224.1 771.9,224.1 772.1,224.1 772.3,224.1 772.5,224.1 772.7,224.1 772.9,224.1 773.1,224.1 773.3,224.1 773.5,224.1 773.7,224.1 773.9,224.1 774.1,224.1 774.3,224.1 774.5,224.1 774.6,224.1 774.8,224.1 775.0,224.1 775.2,224.1 775.4,224.1 775.6,224.1 775.8,224.1 776.0,224.1 776.2,224.0 776.4,224.0 776.6,224.0 776.8,224.0 777.0,224.0 777.2,224.0 777.4,223.9 777.6,223.9 777.8,223.9 778.0,223.8 778.2,223.8 778.3,223.8 778.5,223.8 778.7,223.7 778.9,223.7 779.1,223.7 779.3,223.7 779.5,223.7 779.7,223.7 779.9,223.7 780.1,223.8 780.3,223.8 780.5,223.8 780.7,223.8 780.9,223.9 781.1,223.9 781.3,223.9 781.5,224.0 781.7,224.0 781.9,224.0 782.0,224.0 782.2,224.0 782.4,224.0 782.6,224.1 782.8,224.1 783.0,224.1 783.2,224.1 783.4,224.1 783.6,224.1 783.8,224.1 784.0,224.1 784.2,224.1 784.4,224.1 784.6,224.1 784.8,224.1 785.0,224.1 785.2,224.1 785.4,224.1 785.6,224.1 785.7,224.1 785.9,224.1 786.1,224.1 786.3,224.1 786.5,224.1 786.7,224.1 786.9,224.1 787.1,224.1 787.3,224.1 787.5,224.1 787.7,224.1 787.9,224.0 788.1,224.0 788.3,224.0 788.5,224.0 788.7,224.0 788.9,224.0 789.1,223.9 789.3,223.9 789.4,223.9 789.6,223.8 789.8,223.7 790.0,223.7 790.2,223.6 790.4,223.5 790.6,223.5 790.8,223.4 791.0,223.3 791.2,223.3 791.4,223.2 791.6,223.2 791.8,223.2 792.0,223.2 792.2,223.2 792.4,223.3 792.6,223.3 792.8,223.4 793.0,223.5 793.1,223.5 793.3,223.6 793.5,223.7 793.7,223.7 793.9,223.8 794.1,223.9 794.3,223.9 794.5,223.9 794.7,224.0 794.9,224.0 795.1,224.0 795.3,224.0 795.5,224.0 795.7,224.0 795.9,224.1 796.1,224.1 796.3,224.1 796.5,224.1 796.7,224.1 796.8,224.1 797.0,224.1 797.2,224.1 797.4,224.1 797.6,224.1 797.8,224.1 798.0,224.1 798.2,224.1 798.4,224.1 798.6,224.1 798.8,224.1 799.0,224.1 799.2,224.1 799.4,224.1 799.6,224.1 799.8,224.1 800.0,224.1 800.2,224.1 800.4,224.1 800.5,224.1 800.7,224.1 800.9,224.1 801.1,224.1 801.3,224.1 801.5,224.1 801.7,224.1 801.9,224.1 802.1,224.1 802.3,224.1 802.5,224.1 802.7,224.1 802.9,224.1 803.1,224.1 803.3,224.1 803.5,224.1 803.7,224.1 803.9,224.1 804.1,224.1 804.2,224.1 804.4,224.1 804.6,224.1 804.8,224.1 805.0,224.1 805.2,224.1 805.4,224.1 805.6,224.1 805.8,224.1 806.0,224.1 806.2,224.1 806.4,224.1 806.6,224.1 806.8,224.1 807.0,224.1 807.2,224.1 807.4,224.1 807.6,224.1 807.8,224.1 807.9,224.1 808.1,224.1 808.3,224.1 808.5,224.1 808.7,224.1 808.9,224.1 809.1,224.1 809.3,224.1 809.5,224.1 809.7,224.1 809.9,224.1 810.1,224.1 810.3,224.1 810.5,224.1 810.7,224.1 810.9,224.1 811.1,224.1 811.3,224.1 811.5,224.1 811.6,224.1 811.8,224.1 812.0,224.1 812.2,224.1 812.4,224.1 812.6,224.1 812.8,224.1 813.0,224.1 813.2,224.1 813.4,224.1 813.6,224.1 813.8,224.1 814.0,224.1 814.2,224.1 814.4,224.1 814.6,224.1 814.8,224.1 815.0,224.1 815.2,224.1 815.3,224.1 815.5,224.1 815.7,224.1 815.9,224.1 816.1,224.1 816.3,224.1 816.5,224.1 816.7,224.1 816.9,224.1 817.1,224.1 817.3,224.1 817.5,224.1 817.7,224.1 817.9,224.1 818.1,224.1 818.3,224.1 818.5,224.1 818.7,224.1 818.9,224.1 819.0,224.1 819.2,224.1 819.4,224.1 819.6,224.1 819.8,224.1 820.0,224.1 820.2,224.1 820.4,224.1 820.6,224.1 820.8,224.1 821.0,224.1 821.2,224.1 821.4,224.1 821.6,224.1 821.8,224.1 822.0,224.1 822.2,224.1 822.4,224.1 822.6,224.1 822.8,224.1 822.9,224.1 823.1,224.1 823.3,224.1 823.5,224.1 823.7,224.1 823.9,224.1 824.1,224.1 824.3,224.1 824.5,224.1 824.7,224.1 824.9,224.1 825.1,224.1 825.3,224.1 825.5,224.1 825.7,224.1 825.9,224.1 826.1,224.1 826.3,224.1 826.5,224.1 826.6,224.1 826.8,224.1 827.0,224.1 827.2,224.1 827.4,224.1 827.6,224.1 827.8,224.1 828.0,224.1 828.2,224.1 828.4,224.1 828.6,224.1 828.8,224.1 829.0,224.1 829.2,224.1 829.4,224.1 829.6,224.1 829.8,224.1 830.0,224.1 830.2,224.1 830.3,224.1 830.5,224.1 830.7,224.1 830.9,224.1 831.1,224.1 831.3,224.1 831.5,224.1 831.7,224.1 831.9,224.1 832.1,224.1 832.3,224.1 832.5,224.1 832.7,224.1 832.9,224.1 833.1,224.1 833.3,224.1 833.5,224.1 833.7,224.1 833.9,224.1 834.0,224.1 834.2,224.1 834.4,224.1 834.6,224.1 834.8,224.1 835.0,224.1 835.2,224.1 835.4,224.1 835.6,224.1 835.8,224.1 836.0,224.1 836.2,224.1 836.4,224.1 836.6,224.1 836.8,224.1 837.0,224.1 837.2,224.1 837.4,224.1 837.6,224.1 837.7,224.1 837.9,224.1 838.1,224.1 838.3,224.1 838.5,224.1 838.7,224.1 838.9,224.1 839.1,224.1 839.3,224.1 839.5,224.0 839.7,224.0 839.9,224.0 840.1,224.0 840.3,224.0 840.5,223.9 840.7,223.9 840.9,223.9 841.1,223.9 841.3,223.8 841.4,223.8 841.6,223.8 841.8,223.7 842.0,223.7 842.2,223.7 842.4,223.7 842.6,223.7 842.8,223.7 843.0,223.7 843.2,223.8 843.4,223.8 843.6,223.8 843.8,223.9 844.0,223.9 844.2,223.9 844.4,223.9 844.6,224.0 844.8,224.0 845.0,224.0 845.1,224.0 845.3,224.0 845.5,224.1 845.7,224.1 845.9,224.1 846.1,224.1 846.3,224.1 846.5,224.1 846.7,224.1 846.9,224.1 847.1,224.1 847.3,224.1 847.5,224.1 847.7,224.1 847.9,224.1 848.1,224.1 848.3,224.1 848.5,224.1 848.7,224.1 848.8,224.1 849.0,224.1 849.2,224.1 849.4,224.1 849.6,224.1 849.8,224.1 850.0,224.1 850.2,224.1 850.4,224.1 850.6,224.1 850.8,224.1 851.0,224.1 851.2,224.1 851.4,224.1 851.6,224.1 851.8,224.1 852.0,224.1 852.2,224.1 852.4,224.1 852.5,224.1 852.7,224.1 852.9,224.1 853.1,224.1 853.3,224.1 853.5,224.1 853.7,224.1 853.9,224.1 854.1,224.1 854.3,224.1 854.5,224.1 854.7,224.1 854.9,224.1 855.1,224.1 855.3,224.1 855.5,224.1 855.7,224.1 855.9,224.1 856.1,224.1 856.2,224.1 856.4,224.1 856.6,224.1 856.8,224.1 857.0,224.1 857.2,224.1 857.4,224.1 857.6,224.1 857.8,224.1 858.0,224.1" fill="none" stroke="#ff0000" stroke-width="1.3" stroke-linejoin="round"/>
<polyline points="468.5,277.1 468.7,277.1 468.9,277.1 469.1,277.1 469.3,277.1 469.5,277.1 469.7,277.1 469.9,277.1 470.1,277.1 470.3,277.1 470.4,277.1 470.6,277.1 470.8,277.1 471.0,277.1 471.2,277.1 471.4,277.1 471.6,277.1 471.8,277.1 472.0,277.1 472.2,277.1 472.4,277.1 472.6,277.1 472.8,277.1 473.0,277.1 473.2,277.1 473.4,277.1 473.6,277.1 473.8,277.1 474.0,277.1 474.1,277.1 474.3,277.1 474.5,277.1 474.7,277.1 474.9,277.1 475.1,277.0 475.3,277.0 475.5,277.0 475.7,277.0 475.9,277.0 476.1,277.0 476.3,277.0 476.5,277.0 476.7,277.0 476.9,277.0 477.1,277.0 477.3,277.0 477.5,277.0 477.7,277.0 477.8,276.9 478.0,276.9 478.2,276.9 478.4,276.8 478.6,276.8 478.8,276.7 479.0,276.7 479.2,276.6 479.4,276.5 479.6,276.4 479.8,276.3 480.0,276.3 480.2,276.2 480.4,276.1 480.6,276.1 480.8,276.0 481.0,276.0 481.2,276.0 481.4,276.1 481.5,276.1 481.7,276.2 481.9,276.2 482.1,276.3 482.3,276.4 482.5,276.5 482.7,276.6 482.9,276.6 483.1,276.7 483.3,276.7 483.5,276.8 483.7,276.8 483.9,276.8 484.1,276.9 484.3,276.9 484.5,276.9 484.7,276.9 484.9,276.9 485.1,276.9 485.2,276.9 485.4,276.8 485.6,276.8 485.8,276.7 486.0,276.7 486.2,276.6 486.4,276.5 486.6,276.5 486.8,276.4 487.0,276.2 487.2,276.1 487.4,276.0 487.6,275.9 487.8,275.7 488.0,275.6 488.2,275.5 488.4,275.4 488.6,275.4 488.8,275.3 488.9,275.4 489.1,275.4 489.3,275.5 489.5,275.6 489.7,275.7 489.9,275.8 490.1,275.9 490.3,276.0 490.5,276.1 490.7,276.2 490.9,276.3 491.1,276.4 491.3,276.5 491.5,276.5 491.7,276.6 491.9,276.6 492.1,276.6 492.3,276.6 492.5,276.6 492.6,276.6 492.8,276.6 493.0,276.6 493.2,276.6 493.4,276.6 493.6,276.5 493.8,276.5 494.0,276.5 494.2,276.4 494.4,276.4 494.6,276.3 494.8,276.2 495.0,276.2 495.2,276.0 495.4,275.9 495.6,275.7 495.8,275.4 496.0,275.0 496.2,274.4 496.3,273.6 496.5,272.5 496.7,270.9 496.9,268.9 497.1,266.3 497.3,263.2 497.5,259.5 497.7,255.4 497.9,251.1 498.1,246.9 498.3,243.1 498.5,240.2 498.7,238.6 498.9,238.4 499.1,239.8 499.3,242.5 499.5,246.1 499.7,250.3 499.9,254.6 500.0,258.7 500.2,262.5 500.4,265.7 500.6,268.4 500.8,270.6 501.0,272.2 501.2,273.4 501.4,274.3 501.6,274.9 501.8,275.4 502.0,275.7 502.2,275.9 502.4,276.0 502.6,276.2 502.8,276.2 503.0,276.3 503.2,276.4 503.4,276.4 503.6,276.5 503.7,276.5 503.9,276.6 504.1,276.6 504.3,276.6 504.5,276.7 504.7,276.7 504.9,276.7 505.1,276.7 505.3,276.8 505.5,276.8 505.7,276.8 505.9,276.8 506.1,276.8 506.3,276.8 506.5,276.9 506.7,276.9 506.9,276.9 507.1,276.9 507.3,276.9 507.5,276.9 507.6,276.9 507.8,276.9 508.0,276.9 508.2,276.9 508.4,276.9 508.6,276.9 508.8,277.0 509.0,277.0 509.2,277.0 509.4,277.0 509.6,277.0 509.8,277.0 510.0,277.0 510.2,277.0 510.4,277.0 510.6,277.0 510.8,277.0 511.0,277.0 511.2,277.0 511.3,277.0 511.5,277.0 511.7,277.0 511.9,277.0 512.1,277.0 512.3,277.0 512.5,277.0 512.7,277.0 512.9,277.0 513.1,277.0 513.3,277.0 513.5,277.0 513.7,277.0 513.9,277.0 514.1,277.0 514.3,277.0 514.5,277.0 514.7,277.0 514.9,277.0 515.0,277.0 515.2,277.0 515.4,277.0 515.6,277.0 515.8,277.0 516.0,277.0 516.2,277.0 516.4,277.1 516.6,277.1 516.8,277.1 517.0,277.1 517.2,277.1 517.4,277.1 517.6,277.1 517.8,277.1 518.0,277.1 518.2,277.1 518.4,277.1 518.6,277.1 518.7,277.1 518.9,277.1 519.1,277.1 519.3,277.1 519.5,277.1 519.7,277.1 519.9,277.1 520.1,277.1 520.3,277.1 520.5,277.1 520.7,277.1 520.9,277.1 521.1,277.1 521.3,277.1 521.5,277.1 521.7,277.1 521.9,277.1 522.1,277.1 522.3,277.1 522.4,277.1 522.6,277.1 522.8,277.1 523.0,277.1 523.2,277.1 523.4,277.1 523.6,277.1 523.8,277.1 524.0,277.1 524.2,277.1 524.4,277.1 524.6,277.1 524.8,277.1 525.0,277.1 525.2,277.1 525.4,277.1 525.6,277.1 525.8,277.1 526.0,277.1 526.1,277.1 526.3,277.1 526.5,277.1 526.7,277.1 526.9,277.1 527.1,277.1 527.3,277.1 527.5,277.1 527.7,277.1 527.9,277.1 528.1,277.1 528.3,277.1 528.5,277.1 528.7,277.1 528.9,277.1 529.1,277.1 529.3,277.1 529.5,277.1 529.7,277.1 529.8,277.1 530.0,277.1 530.2,277.1 530.4,277.1 530.6,277.1 530.8,277.1 531.0,277.1 531.2,277.1 531.4,277.1 531.6,277.1 531.8,277.1 532.0,277.1 532.2,277.1 532.4,277.1 532.6,277.1 532.8,277.1 533.0,277.1 533.2,277.1 533.4,277.1 533.5,277.1 533.7,277.1 533.9,277.1 534.1,277.1 534.3,277.1 534.5,277.1 534.7,277.1 534.9,277.1 535.1,277.1 535.3,277.1 535.5,277.1 535.7,277.1 535.9,277.1 536.1,277.1 536.3,277.1 536.5,277.1 536.7,277.1 536.9,277.1 537.1,277.1 537.2,277.1 537.4,277.1 537.6,277.1 537.8,277.1 538.0,277.1 538.2,277.1 538.4,277.1 538.6,277.1 538.8,277.1 539.0,277.1 539.2,277.1 539.4,277.1 539.6,277.1 539.8,277.1 540.0,277.1 540.2,277.1 540.4,277.1 540.6,277.1 540.8,277.1 540.9,277.1 541.1,277.1 541.3,277.1 541.5,277.1 541.7,277.1 541.9,277.1 542.1,277.1 542.3,277.1 542.5,277.1 542.7,277.1 542.9,277.1 543.1,277.1 543.3,277.1 543.5,277.1 543.7,277.1 543.9,277.1 544.1,277.1 544.3,277.1 544.5,277.1 544.6,277.1 544.8,277.1 545.0,277.1 545.2,277.1 545.4,277.1 545.6,277.1 545.8,277.1 546.0,277.1 546.2,277.1 546.4,277.1 546.6,277.1 546.8,277.1 547.0,277.1 547.2,277.1 547.4,277.1 547.6,277.1 547.8,277.1 548.0,277.1 548.2,277.1 548.3,277.1 548.5,277.1 548.7,277.1 548.9,277.1 549.1,277.1 549.3,277.1 549.5,277.1 549.7,277.1 549.9,277.1 550.1,277.1 550.3,277.1 550.5,277.1 550.7,277.1 550.9,277.1 551.1,277.1 551.3,277.1 551.5,277.1 551.7,277.1 551.9,277.1 552.0,277.1 552.2,277.1 552.4,277.1 552.6,277.1 552.8,277.1 553.0,277.1 553.2,277.1 553.4,277.1 553.6,277.1 553.8,277.1 554.0,277.1 554.2,277.1 554.4,277.1 554.6,277.1 554.8,277.1 555.0,277.1 555.2,277.1 555.4,277.1 555.6,277.1 555.7,277.1 555.9,277.1 556.1,277.1 556.3,277.1 556.5,277.1 556.7,277.1 556.9,277.1 557.1,277.1 557.3,277.1 557.5,277.1 557.7,277.1 557.9,277.1 558.1,277.1 558.3,277.1 558.5,277.1 558.7,277.1 558.9,277.1 559.1,277.1 559.3,277.1 559.4,277.1 559.6,277.1 559.8,277.1 560.0,277.1 560.2,277.1 560.4,277.1 560.6,277.1 560.8,277.1 561.0,277.1 561.2,277.1 561.4,277.1 561.6,277.1 561.8,277.1 562.0,277.1 562.2,277.1 562.4,277.1 562.6,277.1 562.8,277.1 563.0,277.1 563.1,277.1 563.3,277.1 563.5,277.1 563.7,277.1 563.9,277.1 564.1,277.1 564.3,277.1 564.5,277.1 564.7,277.1 564.9,277.1 565.1,277.1 565.3,277.1 565.5,277.1 565.7,277.1 565.9,277.1 566.1,277.1 566.3,277.1 566.5,277.1 566.7,277.1 566.8,277.1 567.0,277.1 567.2,277.1 567.4,277.1 567.6,277.1 567.8,277.1 568.0,277.1 568.2,277.1 568.4,277.1 568.6,277.1 568.8,277.1 569.0,277.1 569.2,277.1 569.4,277.1 569.6,277.1 569.8,277.1 570.0,277.1 570.2,277.1 570.4,277.1 570.5,277.1 570.7,277.1 570.9,277.1 571.1,277.1 571.3,277.1 571.5,277.1 571.7,277.1 571.9,277.1 572.1,277.1 572.3,277.1 572.5,277.1 572.7,277.1 572.9,277.1 573.1,277.1 573.3,277.1 573.5,277.1 573.7,277.1 573.9,277.1 574.1,277.1 574.2,277.1 574.4,277.1 574.6,277.1 574.8,277.0 575.0,277.0 575.2,277.0 575.4,277.0 575.6,277.0 575.8,277.0 576.0,277.0 576.2,277.0 576.4,277.0 576.6,276.9 576.8,276.9 577.0,276.9 577.2,276.8 577.4,276.7 577.6,276.7 577.8,276.6 577.9,276.5 578.1,276.4 578.3,276.3 578.5,276.2 578.7,276.0 578.9,275.9 579.1,275.8 579.3,275.7 579.5,275.6 579.7,275.6 579.9,275.6 580.1,275.6 580.3,275.6 580.5,275.7 580.7,275.8 580.9,275.9 581.1,276.0 581.3,276.2 581.5,276.3 581.6,276.4 581.8,276.5 582.0,276.6 582.2,276.7 582.4,276.7 582.6,276.8 582.8,276.9 583.0,276.9 583.2,276.9 583.4,277.0 583.6,277.0 583.8,277.0 584.0,277.0 584.2,277.0 584.4,277.0 584.6,277.0 584.8,277.0 585.0,277.0 585.2,277.0 585.3,277.0 585.5,277.0 585.7,277.0 585.9,277.0 586.1,277.0 586.3,277.0 586.5,277.0 586.7,277.0 586.9,277.1 587.1,277.1 587.3,277.1 587.5,277.1 587.7,277.1 587.9,277.1 588.1,277.1 588.3,277.1 588.5,277.1 588.7,277.1 588.9,277.1 589.1,277.1 589.2,277.0 589.4,277.0 589.6,277.0 589.8,277.0 590.0,277.0 590.2,277.0 590.4,277.0 590.6,277.0 590.8,277.0 591.0,277.0 591.2,277.0 591.4,277.0 591.6,277.0 591.8,277.0 592.0,277.0 592.2,277.0 592.4,277.0 592.6,277.0 592.8,277.0 592.9,277.0 593.1,277.0 593.3,277.0 593.5,277.0 593.7,277.0 593.9,276.9 594.1,276.9 594.3,276.9 594.5,276.8 594.7,276.8 594.9,276.7 595.1,276.7 595.3,276.6 595.5,276.5 595.7,276.4 595.9,276.3 596.1,276.3 596.3,276.2 596.5,276.1 596.6,276.1 596.8,276.0 597.0,276.0 597.2,276.0 597.4,276.1 597.6,276.1 597.8,276.2 598.0,276.2 598.2,276.3 598.4,276.4 598.6,276.5 598.8,276.5 599.0,276.6 599.2,276.7 599.4,276.7 599.6,276.8 599.8,276.8 600.0,276.8 600.2,276.9 600.3,276.9 600.5,276.9 600.7,276.9 600.9,276.9 601.1,276.9 601.3,276.9 601.5,276.9 601.7,276.9 601.9,276.9 602.1,276.9 602.3,276.9 602.5,276.9 602.7,276.9 602.9,276.9 603.1,276.8 603.3,276.8 603.5,276.8 603.7,276.8 603.9,276.8 604.0,276.8 604.2,276.7 604.4,276.7 604.6,276.7 604.8,276.7 605.0,276.6 605.2,276.6 605.4,276.5 605.6,276.5 605.8,276.4 606.0,276.2 606.2,276.1 606.4,275.8 606.6,275.5 606.8,275.1 607.0,274.6 607.2,273.9 607.4,273.1 607.6,272.1 607.7,270.9 607.9,269.6 608.1,268.1 608.3,266.4 608.5,264.7 608.7,263.1 608.9,261.5 609.1,260.1 609.3,259.1 609.5,258.5 609.7,258.3 609.9,258.6 610.1,259.5 610.3,260.6 610.5,262.1 610.7,263.7 610.9,265.4 611.1,267.1 611.3,268.7 611.4,270.1 611.6,271.4 611.8,272.5 612.0,273.5 612.2,274.2 612.4,274.8 612.6,275.3 612.8,275.7 613.0,275.9 613.2,276.1 613.4,276.3 613.6,276.4 613.8,276.5 614.0,276.6 614.2,276.6 614.4,276.7 614.6,276.7 614.8,276.7 615.0,276.7 615.1,276.8 615.3,276.8 615.5,276.8 615.7,276.8 615.9,276.8 616.1,276.9 616.3,276.9 616.5,276.9 616.7,276.9 616.9,276.9 617.1,276.9 617.3,276.9 617.5,276.9 617.7,276.9 617.9,276.9 618.1,277.0 618.3,277.0 618.5,277.0 618.7,277.0 618.8,277.0 619.0,277.0 619.2,277.0 619.4,277.0 619.6,277.0 619.8,277.0 620.0,277.0 620.2,277.0 620.4,277.0 620.6,277.0 620.8,277.0 621.0,277.0 621.2,277.0 621.4,277.0 621.6,277.0 621.8,277.0 622.0,277.0 622.2,277.0 622.4,277.0 622.5,277.0 622.7,277.0 622.9,277.0 623.1,277.0 623.3,277.0 623.5,277.0 623.7,277.0 623.9,277.0 624.1,277.0 624.3,277.0 624.5,277.0 624.7,277.0 624.9,277.0 625.1,277.0 625.3,277.1 625.5,277.1 625.7,277.1 625.9,277.1 626.1,277.1 626.2,277.1 626.4,277.1 626.6,277.1 626.8,277.1 627.0,277.1 627.2,277.1 627.4,277.1 627.6,277.1 627.8,277.1 628.0,277.1 628.2,277.1 628.4,277.1 628.6,277.1 628.8,277.1 629.0,277.1 629.2,277.1 629.4,277.1 629.6,277.1 629.8,277.1 629.9,277.1 630.1,277.1 630.3,277.1 630.5,277.1 630.7,277.1 630.9,277.1 631.1,277.1 631.3,277.1 631.5,277.1 631.7,277.1 631.9,277.0 632.1,277.0 632.3,277.0 632.5,277.0 632.7,277.0 632.9,277.0 633.1,277.0 633.3,277.0 633.5,276.9 633.6,276.9 633.8,276.9 634.0,276.8 634.2,276.8 634.4,276.8 634.6,276.7 634.8,276.7 635.0,276.6 635.2,276.6 635.4,276.5 635.6,276.5 635.8,276.5 636.0,276.5 636.2,276.5 636.4,276.5 636.6,276.5 636.8,276.6 637.0,276.6 637.2,276.7 637.3,276.7 637.5,276.8 637.7,276.8 637.9,276.8 638.1,276.9 638.3,276.9 638.5,276.9 638.7,277.0 638.9,277.0 639.1,277.0 639.3,277.0 639.5,277.0 639.7,277.0 639.9,277.1 640.1,277.1 640.3,277.1 640.5,277.1 640.7,277.1 640.9,277.1 641.0,277.1 641.2,277.1 641.4,277.1 641.6,277.1 641.8,277.1 642.0,277.1 642.2,277.1 642.4,277.1 642.6,277.1 642.8,277.1 643.0,277.1 643.2,277.1 643.4,277.1 643.6,277.1 643.8,277.1 644.0,277.1 644.2,277.1 644.4,277.1 644.6,277.1 644.7,277.1 644.9,277.1 645.1,277.1 645.3,277.1 645.5,277.1 645.7,277.1 645.9,277.1 646.1,277.1 646.3,277.1 646.5,277.1 646.7,277.1 646.9,277.1 647.1,277.1 647.3,277.1 647.5,277.1 647.7,277.1 647.9,277.1 648.1,277.1 648.3,277.1 648.4,277.1 648.6,277.1 648.8,277.1 649.0,277.1 649.2,277.1 649.4,277.0 649.6,277.0 649.8,277.0 650.0,277.0 650.2,277.0 650.4,277.0 650.6,277.0 650.8,276.9 651.0,276.9 651.2,276.9 651.4,276.8 651.6,276.8 651.8,276.7 652.0,276.7 652.1,276.6 652.3,276.6 652.5,276.5 652.7,276.5 652.9,276.5 653.1,276.5 653.3,276.5 653.5,276.5 653.7,276.5 653.9,276.6 654.1,276.6 654.3,276.7 654.5,276.7 654.7,276.8 654.9,276.8 655.1,276.9 655.3,276.9 655.5,276.9 655.7,277.0 655.8,277.0 656.0,277.0 656.2,277.0 656.4,277.0 656.6,277.0 656.8,277.1 657.0,277.1 657.2,277.1 657.4,277.1 657.6,277.1 657.8,277.1 658.0,277.1 658.2,277.1 658.4,277.1 658.6,277.1 658.8,277.1 659.0,277.1 659.2,277.1 659.4,277.1 659.5,277.1 659.7,277.1 659.9,277.1 660.1,277.1 660.3,277.1 660.5,277.1 660.7,277.1 660.9,277.1 661.1,277.1 661.3,277.1 661.5,277.1 661.7,277.1 661.9,277.1 662.1,277.1 662.3,277.1 662.5,277.1 662.7,277.1 662.9,277.1 663.1,277.1 663.2,277.1 663.4,277.1 663.6,277.1 663.8,277.1 664.0,277.1 664.2,277.1 664.4,277.1 664.6,277.1 664.8,277.1 665.0,277.1 665.2,277.1 665.4,277.1 665.6,277.1 665.8,277.1 666.0,277.1 666.2,277.1 666.4,277.1 666.6,277.1 666.8,277.1 667.0,277.1 667.1,277.1 667.3,277.1 667.5,277.1 667.7,277.1 667.9,277.1 668.1,277.1 668.3,277.1 668.5,277.1 668.7,277.1 668.9,277.1 669.1,277.1 669.3,277.1 669.5,277.1 669.7,277.1 669.9,277.1 670.1,277.1 670.3,277.1 670.5,277.1 670.7,277.1 670.8,277.1 671.0,277.1 671.2,277.1 671.4,277.1 671.6,277.1 671.8,277.1 672.0,277.1 672.2,277.1 672.4,277.1 672.6,277.1 672.8,277.1 673.0,277.1 673.2,277.1 673.4,277.1 673.6,277.1 673.8,277.1 674.0,277.1 674.2,277.1 674.4,277.1 674.5,277.1 674.7,277.1 674.9,277.1 675.1,277.1 675.3,277.1 675.5,277.1 675.7,277.1 675.9,277.1 676.1,277.1 676.3,277.1 676.5,277.1 676.7,277.1 676.9,277.1 677.1,277.1 677.3,277.1 677.5,277.1 677.7,277.1 677.9,277.1 678.1,277.1 678.2,277.1 678.4,277.1 678.6,277.1 678.8,277.1 679.0,277.1 679.2,277.1 679.4,277.1 679.6,277.1 679.8,277.1 680.0,277.1 680.2,277.0 680.4,277.0 680.6,277.0 680.8,277.0 681.0,277.0 681.2,277.0 681.4,276.9 681.6,276.9 681.8,276.9 681.9,276.8 682.1,276.8 682.3,276.7 682.5,276.6 682.7,276.6 682.9,276.5 683.1,276.4 683.3,276.3 683.5,276.2 683.7,276.2 683.9,276.1 684.1,276.1 684.3,276.1 684.5,276.1 684.7,276.1 684.9,276.2 685.1,276.2 685.3,276.3 685.5,276.4 685.6,276.5 685.8,276.6 686.0,276.6 686.2,276.7 686.4,276.8 686.6,276.8 686.8,276.9 687.0,276.9 687.2,276.9 687.4,277.0 687.6,277.0 687.8,277.0 688.0,277.0 688.2,277.0 688.4,277.0 688.6,277.1 688.8,277.1 689.0,277.1 689.2,277.1 689.3,277.1 689.5,277.1 689.7,277.1 689.9,277.1 690.1,277.1 690.3,277.1 690.5,277.1 690.7,277.1 690.9,277.1 691.1,277.1 691.3,277.1 691.5,277.1 691.7,277.1 691.9,277.1 692.1,277.1 692.3,277.1 692.5,277.1 692.7,277.1 692.9,277.1 693.0,277.1 693.2,277.1 693.4,277.1 693.6,277.1 693.8,277.1 694.0,277.1 694.2,277.1 694.4,277.1 694.6,277.1 694.8,277.1 695.0,277.1 695.2,277.1 695.4,277.1 695.6,277.1 695.8,277.1 696.0,277.1 696.2,277.1 696.4,277.1 696.6,277.1 696.7,277.1 696.9,277.1 697.1,277.1 697.3,277.1 697.5,277.1 697.7,277.1 697.9,277.1 698.1,277.1 698.3,277.1 698.5,277.1 698.7,277.1 698.9,277.1 699.1,277.1 699.3,277.1 699.5,277.1 699.7,277.1 699.9,277.1 700.1,277.1 700.3,277.1 700.4,277.1 700.6,277.0 700.8,277.0 701.0,277.0 701.2,277.0 701.4,277.0 701.6,277.0 701.8,276.9 702.0,276.9 702.2,276.9 702.4,276.8 702.6,276.8 702.8,276.8 703.0,276.8 703.2,276.7 703.4,276.7 703.6,276.7 703.8,276.7 704.0,276.7 704.1,276.7 704.3,276.7 704.5,276.8 704.7,276.8 704.9,276.8 705.1,276.8 705.3,276.9 705.5,276.9 705.7,276.9 705.9,277.0 706.1,277.0 706.3,277.0 706.5,277.0 706.7,277.0 706.9,277.0 707.1,277.1 707.3,277.1 707.5,277.1 707.7,277.1 707.8,277.1 708.0,277.1 708.2,277.1 708.4,277.1 708.6,277.1 708.8,277.1 709.0,277.1 709.2,277.1 709.4,277.1 709.6,277.1 709.8,277.1 710.0,277.1 710.2,277.1 710.4,277.1 710.6,277.1 710.8,277.1 711.0,277.1 711.2,277.1 711.4,277.1 711.5,277.1 711.7,277.1 711.9,277.1 712.1,277.1 712.3,277.1 712.5,277.1 712.7,277.1 712.9,277.1 713.1,277.1 713.3,277.1 713.5,277.1 713.7,277.1 713.9,277.1 714.1,277.1 714.3,277.1 714.5,277.1 714.7,277.1 714.9,277.1 715.1,277.1 715.2,277.1 715.4,277.1 715.6,277.1 715.8,277.1 716.0,277.1 716.2,277.1 716.4,277.1 716.6,277.1 716.8,277.1 717.0,277.1 717.2,277.1 717.4,277.1 717.6,277.1 717.8,277.1 718.0,277.1 718.2,277.1 718.4,277.1 718.6,277.1 718.8,277.1 718.9,277.1 719.1,277.1 719.3,277.1 719.5,277.1 719.7,277.1 719.9,277.1 720.1,277.1 720.3,277.1 720.5,277.0 720.7,277.0 720.9,277.0 721.1,277.0 721.3,277.0 721.5,276.9 721.7,276.9 721.9,276.9 722.1,276.8 722.3,276.8 722.5,276.7 722.6,276.7 722.8,276.6 723.0,276.6 723.2,276.5 723.4,276.5 723.6,276.4 723.8,276.4 724.0,276.4 724.2,276.4 724.4,276.4 724.6,276.5 724.8,276.5 725.0,276.6 725.2,276.6 725.4,276.7 725.6,276.7 725.8,276.8 726.0,276.8 726.2,276.9 726.3,276.9 726.5,276.9 726.7,277.0 726.9,277.0 727.1,277.0 727.3,277.0 727.5,277.0 727.7,277.1 727.9,277.1 728.1,277.1 728.3,277.1 728.5,277.1 728.7,277.1 728.9,277.1 729.1,277.1 729.3,277.1 729.5,277.1 729.7,277.1 729.9,277.1 730.0,277.1 730.2,277.1 730.4,277.1 730.6,277.1 730.8,277.1 731.0,277.1 731.2,277.1 731.4,277.1 731.6,277.1 731.8,277.1 732.0,277.1 732.2,277.1 732.4,277.1 732.6,277.1 732.8,277.1 733.0,277.1 733.2,277.1 733.4,277.1 733.6,277.1 733.7,277.1 733.9,277.1 734.1,277.1 734.3,277.1 734.5,277.1 734.7,277.1 734.9,277.1 735.1,277.1 735.3,277.1 735.5,277.1 735.7,277.1 735.9,277.1 736.1,277.1 736.3,277.1 736.5,277.1 736.7,277.1 736.9,277.1 737.1,277.1 737.3,277.1 737.4,277.1 737.6,277.1 737.8,277.1 738.0,277.1 738.2,277.1 738.4,277.1 738.6,277.1 738.8,277.1 739.0,277.1 739.2,277.1 739.4,277.1 739.6,277.1 739.8,277.1 740.0,277.1 740.2,277.1 740.4,277.1 740.6,277.1 740.8,277.1 741.0,277.1 741.1,277.1 741.3,277.1 741.5,277.1 741.7,277.1 741.9,277.1 742.1,277.1 742.3,277.1 742.5,277.1 742.7,277.1 742.9,277.1 743.1,277.1 743.3,277.1 743.5,277.1 743.7,277.1 743.9,277.1 744.1,277.1 744.3,277.1 744.5,277.1 744.7,277.1 744.9,277.1 745.0,277.1 745.2,277.1 745.4,277.1 745.6,277.1 745.8,277.1 746.0,277.1 746.2,277.1 746.4,277.1 746.6,277.1 746.8,277.1 747.0,277.1 747.2,277.1 747.4,277.1 747.6,277.1 747.8,277.1 748.0,277.1 748.2,277.1 748.4,277.1 748.6,277.1 748.7,277.1 748.9,277.1 749.1,277.1 749.3,277.1 749.5,277.1 749.7,277.1 749.9,277.1 750.1,277.1 750.3,277.1 750.5,277.1 750.7,277.1 750.9,277.1 751.1,277.1 751.3,277.1 751.5,277.1 751.7,277.1 751.9,277.1 752.1,277.1 752.3,277.1 752.4,277.1 752.6,277.1 752.8,277.1 753.0,277.1 753.2,277.1 753.4,277.1 753.6,277.1 753.8,277.1 754.0,277.1 754.2,277.1 754.4,277.1 754.6,277.1 754.8,277.1 755.0,277.1 755.2,277.1 755.4,277.1 755.6,277.1 755.8,277.1 756.0,277.1 756.1,277.1 756.3,277.1 756.5,277.1 756.7,277.1 756.9,277.1 757.1,277.1 757.3,277.1 757.5,277.1 757.7,277.1 757.9,277.1 758.1,277.1 758.3,277.1 758.5,277.1 758.7,277.1 758.9,277.1 759.1,277.1 759.3,277.1 759.5,277.1 759.7,277.1 759.8,277.1 760.0,277.1 760.2,277.1 760.4,277.1 760.6,277.1 760.8,277.1 761.0,277.1 761.2,277.1 761.4,277.1 761.6,277.1 761.8,277.1 762.0,277.1 762.2,277.1 762.4,277.1 762.6,277.1 762.8,277.1 763.0,277.1 763.2,277.1 763.4,277.1 763.5,277.1 763.7,277.1 763.9,277.1 764.1,277.1 764.3,277.1 764.5,277.1 764.7,277.1 764.9,277.1 765.1,277.1 765.3,277.1 765.5,277.1 765.7,277.1 765.9,277.1 766.1,277.1 766.3,277.1 766.5,277.1 766.7,277.1 766.9,277.1 767.1,277.1 767.2,277.1 767.4,277.1 767.6,277.1 767.8,277.1 768.0,277.1 768.2,277.1 768.4,277.1 768.6,277.1 768.8,277.1 769.0,277.1 769.2,277.1 769.4,277.1 769.6,277.1 769.8,277.1 770.0,277.1 770.2,277.1 770.4,277.1 770.6,277.1 770.8,277.1 770.9,277.1 771.1,277.1 771.3,277.1 771.5,277.1 771.7,277.1 771.9,277.1 772.1,277.1 772.3,277.1 772.5,277.1 772.7,277.1 772.9,277.1 773.1,277.1 773.3,277.1 773.5,277.1 773.7,277.1 773.9,277.1 774.1,277.1 774.3,277.1 774.5,277.1 774.6,277.1 774.8,277.1 775.0,277.1 775.2,277.1 775.4,277.1 775.6,277.1 775.8,277.1 776.0,277.1 776.2,277.0 776.4,277.0 776.6,277.0 776.8,277.0 777.0,277.0 777.2,277.0 777.4,276.9 777.6,276.9 777.8,276.9 778.0,276.8 778.2,276.8 778.3,276.8 778.5,276.8 778.7,276.7 778.9,276.7 779.1,276.7 779.3,276.7 779.5,276.7 779.7,276.7 779.9,276.7 780.1,276.8 780.3,276.8 780.5,276.8 780.7,276.8 780.9,276.9 781.1,276.9 781.3,276.9 781.5,277.0 781.7,277.0 781.9,277.0 782.0,277.0 782.2,277.0 782.4,277.0 782.6,277.1 782.8,277.1 783.0,277.1 783.2,277.1 783.4,277.1 783.6,277.1 783.8,277.1 784.0,277.1 784.2,277.1 784.4,277.1 784.6,277.1 784.8,277.1 785.0,277.1 785.2,277.1 785.4,277.1 785.6,277.1 785.7,277.1 785.9,277.1 786.1,277.1 786.3,277.1 786.5,277.1 786.7,277.1 786.9,277.1 787.1,277.1 787.3,277.1 787.5,277.1 787.7,277.1 787.9,277.0 788.1,277.0 788.3,277.0 788.5,277.0 788.7,277.0 788.9,277.0 789.1,276.9 789.3,276.9 789.4,276.9 789.6,276.8 789.8,276.7 790.0,276.7 790.2,276.6 790.4,276.5 790.6,276.5 790.8,276.4 791.0,276.3 791.2,276.3 791.4,276.2 791.6,276.2 791.8,276.2 792.0,276.2 792.2,276.2 792.4,276.3 792.6,276.3 792.8,276.4 793.0,276.5 793.1,276.5 793.3,276.6 793.5,276.7 793.7,276.7 793.9,276.8 794.1,276.9 794.3,276.9 794.5,276.9 794.7,277.0 794.9,277.0 795.1,277.0 795.3,277.0 795.5,277.0 795.7,277.0 795.9,277.1 796.1,277.1 796.3,277.1 796.5,277.1 796.7,277.1 796.8,277.1 797.0,277.1 797.2,277.1 797.4,277.1 797.6,277.1 797.8,277.1 798.0,277.1 798.2,277.1 798.4,277.1 798.6,277.1 798.8,277.1 799.0,277.1 799.2,277.1 799.4,277.1 799.6,277.1 799.8,277.1 800.0,277.1 800.2,277.1 800.4,277.1 800.5,277.1 800.7,277.1 800.9,277.1 801.1,277.1 801.3,277.1 801.5,277.1 801.7,277.1 801.9,277.1 802.1,277.1 802.3,277.1 802.5,277.1 802.7,277.1 802.9,277.1 803.1,277.1 803.3,277.1 803.5,277.1 803.7,277.1 803.9,277.1 804.1,277.1 804.2,277.1 804.4,277.1 804.6,277.1 804.8,277.1 805.0,277.1 805.2,277.1 805.4,277.1 805.6,277.1 805.8,277.1 806.0,277.1 806.2,277.1 806.4,277.1 806.6,277.1 806.8,277.1 807.0,277.1 807.2,277.1 807.4,277.1 807.6,277.1 807.8,277.1 807.9,277.1 808.1,277.1 808.3,277.1 808.5,277.1 808.7,277.1 808.9,277.1 809.1,277.1 809.3,277.1 809.5,277.1 809.7,277.1 809.9,277.1 810.1,277.1 810.3,277.1 810.5,277.1 810.7,277.1 810.9,277.1 811.1,277.1 811.3,277.1 811.5,277.1 811.6,277.1 811.8,277.1 812.0,277.1 812.2,277.1 812.4,277.1 812.6,277.1 812.8,277.1 813.0,277.1 813.2,277.1 813.4,277.1 813.6,277.1 813.8,277.1 814.0,277.1 814.2,277.1 814.4,277.1 814.6,277.1 814.8,277.1 815.0,277.1 815.2,277.1 815.3,277.1 815.5,277.1 815.7,277.1 815.9,277.1 816.1,277.1 816.3,277.1 816.5,277.1 816.7,277.1 816.9,277.1 817.1,277.1 817.3,277.1 817.5,277.1 817.7,277.1 817.9,277.1 818.1,277.1 818.3,277.1 818.5,277.1 818.7,277.1 818.9,277.1 819.0,277.1 819.2,277.1 819.4,277.1 819.6,277.1 819.8,277.1 820.0,277.1 820.2,277.1 820.4,277.1 820.6,277.1 820.8,277.1 821.0,277.1 821.2,277.1 821.4,277.1 821.6,277.1 821.8,277.1 822.0,277.1 822.2,277.1 822.4,277.1 822.6,277.1 822.8,277.1 822.9,277.1 823.1,277.1 823.3,277.1 823.5,277.1 823.7,277.1 823.9,277.1 824.1,277.1 824.3,277.1 824.5,277.1 824.7,277.1 824.9,277.1 825.1,277.1 825.3,277.1 825.5,277.1 825.7,277.1 825.9,277.1 826.1,277.1 826.3,277.1 826.5,277.1 826.6,277.1 826.8,277.1 827.0,277.1 827.2,277.1 827.4,277.1 827.6,277.1 827.8,277.1 828.0,277.1 828.2,277.1 828.4,277.1 828.6,277.1 828.8,277.1 829.0,277.1 829.2,277.1 829.4,277.1 829.6,277.1 829.8,277.1 830.0,277.1 830.2,277.1 830.3,277.1 830.5,277.1 830.7,277.1 830.9,277.1 831.1,277.1 831.3,277.1 831.5,277.1 831.7,277.1 831.9,277.1 832.1,277.1 832.3,277.1 832.5,277.1 832.7,277.1 832.9,277.1 833.1,277.1 833.3,277.1 833.5,277.1 833.7,277.1 833.9,277.1 834.0,277.1 834.2,277.1 834.4,277.1 834.6,277.1 834.8,277.1 835.0,277.1 835.2,277.1 835.4,277.1 835.6,277.1 835.8,277.1 836.0,277.1 836.2,277.1 836.4,277.1 836.6,277.1 836.8,277.1 837.0,277.1 837.2,277.1 837.4,277.1 837.6,277.1 837.7,277.1 837.9,277.1 838.1,277.1 838.3,277.1 838.5,277.1 838.7,277.1 838.9,277.1 839.1,277.1 839.3,277.1 839.5,277.0 839.7,277.0 839.9,277.0 840.1,277.0 840.3,277.0 840.5,276.9 840.7,276.9 840.9,276.9 841.1,276.9 841.3,276.8 841.4,276.8 841.6,276.8 841.8,276.7 842.0,276.7 842.2,276.7 842.4,276.7 842.6,276.7 842.8,276.7 843.0,276.7 843.2,276.8 843.4,276.8 843.6,276.8 843.8,276.9 844.0,276.9 844.2,276.9 844.4,276.9 844.6,277.0 844.8,277.0 845.0,277.0 845.1,277.0 845.3,277.0 845.5,277.1 845.7,277.1 845.9,277.1 846.1,277.1 846.3,277.1 846.5,277.1 846.7,277.1 846.9,277.1 847.1,277.1 847.3,277.1 847.5,277.1 847.7,277.1 847.9,277.1 848.1,277.1 848.3,277.1 848.5,277.1 848.7,277.1 848.8,277.1 849.0,277.1 849.2,277.1 849.4,277.1 849.6,277.1 849.8,277.1 850.0,277.1 850.2,277.1 850.4,277.1 850.6,277.1 850.8,277.1 851.0,277.1 851.2,277.1 851.4,277.1 851.6,277.1 851.8,277.1 852.0,277.1 852.2,277.1 852.4,277.1 852.5,277.1 852.7,277.1 852.9,277.1 853.1,277.1 853.3,277.1 853.5,277.1 853.7,277.1 853.9,277.1 854.1,277.1 854.3,277.1 854.5,277.1 854.7,277.1 854.9,277.1 855.1,277.1 855.3,277.1 855.5,277.1 855.7,277.1 855.9,277.1 856.1,277.1 856.2,277.1 856.4,277.1 856.6,277.1 856.8,277.1 857.0,277.1 857.2,277.1 857.4,277.1 857.6,277.1 857.8,277.1 858.0,277.1" fill="none" stroke="#111111" stroke-width="1.3" stroke-linejoin="round"/>
<rect x="467.80" y="14.00" width="390.00" height="1.90" fill="#959595"/>
<rect x="467.80" y="14.50" width="1.40" height="285.80" fill="#777"/>
<rect x="856.90" y="14.80" width="1.20" height="285.80" fill="#1a1a1a"/>
<rect x="467.80" y="299.00" width="390.30" height="1.60" fill="#8a8a8a"/>
<line x1="468.50" y1="300.00" x2="468.50" y2="305.90" stroke="#222" stroke-width="1"/>
<line x1="507.45" y1="300.00" x2="507.45" y2="303.40" stroke="#222" stroke-width="1"/>
<line x1="546.40" y1="300.00" x2="546.40" y2="305.90" stroke="#222" stroke-width="1"/>
<line x1="585.35" y1="300.00" x2="585.35" y2="303.40" stroke="#222" stroke-width="1"/>
<line x1="624.30" y1="300.00" x2="624.30" y2="305.90" stroke="#222" stroke-width="1"/>
<line x1="663.25" y1="300.00" x2="663.25" y2="303.40" stroke="#222" stroke-width="1"/>
<line x1="702.20" y1="300.00" x2="702.20" y2="305.90" stroke="#222" stroke-width="1"/>
<line x1="741.15" y1="300.00" x2="741.15" y2="303.40" stroke="#222" stroke-width="1"/>
<line x1="780.10" y1="300.00" x2="780.10" y2="305.90" stroke="#222" stroke-width="1"/>
<line x1="819.05" y1="300.00" x2="819.05" y2="303.40" stroke="#222" stroke-width="1"/>
<line x1="858.00" y1="300.00" x2="858.00" y2="305.90" stroke="#222" stroke-width="1"/>
<text x="468.50" y="318.00" font-size="10.4" text-anchor="middle" fill="#444" font-family="Liberation Sans, sans-serif" >10</text>
<text x="546.40" y="318.00" font-size="10.4" text-anchor="middle" fill="#444" font-family="Liberation Sans, sans-serif" >20</text>
<text x="624.30" y="318.00" font-size="10.4" text-anchor="middle" fill="#444" font-family="Liberation Sans, sans-serif" >30</text>
<text x="702.20" y="318.00" font-size="10.4" text-anchor="middle" fill="#444" font-family="Liberation Sans, sans-serif" >40</text>
<text x="780.10" y="318.00" font-size="10.4" text-anchor="middle" fill="#444" font-family="Liberation Sans, sans-serif" >50</text>
<text x="858.00" y="318.00" font-size="10.4" text-anchor="middle" fill="#444" font-family="Liberation Sans, sans-serif" >60</text>
<text x="663.00" y="340.00" font-size="13.6" text-anchor="middle" fill="#333" font-family="Liberation Sans, sans-serif" >2θ (°)</text>
<text transform="translate(448.3,166) rotate(-90)" font-size="13.7" text-anchor="middle" fill="#333" font-family="Liberation Sans, sans-serif">Intensity (a.u)</text>
<text transform="translate(785.0,57.30) scale(1.08,1)" font-size="10.2" fill="#444" font-family="Liberation Sans, sans-serif">0.15-FAPbBr<tspan font-size="6.5" dx="0.6" dy="4.6">3</tspan></text>
<text transform="translate(785.0,92.50) scale(1.08,1)" font-size="10.2" fill="#444" font-family="Liberation Sans, sans-serif">0.10-FAPbBr<tspan font-size="6.5" dx="0.6" dy="4.6">3</tspan></text>
<text transform="translate(785.0,134.20) scale(1.08,1)" font-size="10.2" fill="#444" font-family="Liberation Sans, sans-serif">0.07-FAPbBr<tspan font-size="6.5" dx="0.6" dy="4.6">3</tspan></text>
<text transform="translate(785.0,171.80) scale(1.08,1)" font-size="10.2" fill="#444" font-family="Liberation Sans, sans-serif">0.05-FAPbBr<tspan font-size="6.5" dx="0.6" dy="4.6">3</tspan></text>
<text transform="translate(785.0,212.10) scale(1.08,1)" font-size="10.2" fill="#444" font-family="Liberation Sans, sans-serif">0.03-FAPbBr<tspan font-size="6.5" dx="0.6" dy="4.6">3</tspan></text>
<text transform="translate(785.0,265.00) scale(1.08,1)" font-size="10.2" fill="#444" font-family="Liberation Sans, sans-serif">0.01-FAPbBr<tspan font-size="6.5" dx="0.6" dy="4.6">3</tspan></text>
<text x="500.70" y="34.80" font-size="11.8" text-anchor="middle" fill="#333" font-family="Liberation Sans, sans-serif" >(001)</text>
<text x="581.30" y="63.20" font-size="12.2" text-anchor="middle" fill="#333" font-family="Liberation Sans, sans-serif" >(111)</text>
<text x="611.10" y="49.50" font-size="11.4" text-anchor="middle" fill="#333" font-family="Liberation Sans, sans-serif" >(002)</text>
<text transform="translate(683.0,33.4) scale(1.08,1)" font-size="10.0" fill="#333" font-family="Liberation Sans, sans-serif" xml:space="preserve"># δ-FAPbI<tspan font-size="6.3" dx="0.3" dy="4.8">3</tspan><tspan dy="-4.8">  * PbI</tspan><tspan font-size="6.3" dx="0.3" dy="4.8">2</tspan></text>
<text x="482.00" y="272.80" font-size="10.0" text-anchor="middle" fill="#333" font-family="Liberation Sans, sans-serif" >#</text>
<text x="489.00" y="274.30" font-size="9.5" text-anchor="middle" fill="#333" font-family="Liberation Sans, sans-serif" >*</text>
<text x="597.80" y="274.30" font-size="9.5" text-anchor="middle" fill="#333" font-family="Liberation Sans, sans-serif" >*</text>
<text x="648.00" y="361.60" font-size="15.5" text-anchor="middle" fill="#222" font-family="Liberation Serif, serif" >(<tspan font-weight="bold">b</tspan>)</text>
<polyline points="260.8,402.3 261.3,399.7 261.8,397.8 262.3,397.3 262.8,398.0 263.3,399.3 263.8,400.8 264.3,402.3 264.8,403.2 265.3,403.5 265.8,403.6 266.3,403.7 266.8,404.0 267.3,404.9 267.8,406.3 268.3,407.8 268.8,409.5 269.3,411.5 269.8,413.6 270.3,415.4 270.8,416.5 271.3,416.7 271.8,416.6 272.3,416.4 272.8,416.3 273.3,416.2 273.8,416.3 274.3,416.5 274.8,416.9 275.3,417.4 275.8,418.0 276.3,418.5 276.8,419.1 277.3,419.6 277.8,420.2 278.3,420.8 278.8,421.5 279.3,422.2 279.8,422.9 280.3,423.6 280.8,424.3 281.3,424.8 281.8,425.2 282.3,425.5 282.8,425.6 283.3,424.9 283.8,423.6 284.3,422.5 284.8,422.2 285.3,422.1 285.8,422.0 286.3,422.0 286.8,421.9 287.3,421.9 287.8,421.8 288.3,421.7 288.8,421.5 289.3,421.1 289.8,420.5 290.3,419.9 290.8,419.4 291.3,419.0 291.8,418.9 292.3,418.9 292.8,418.9 293.3,418.9 293.8,418.9 294.3,418.3 294.8,416.5 295.3,414.1 295.8,412.3 296.3,411.7 296.8,411.8 297.3,412.0 297.8,412.3 298.3,413.1 298.8,414.5 299.3,416.1 299.8,417.5 300.3,418.2 300.8,418.6 301.3,419.0 301.8,419.7 302.3,421.3 302.8,423.7 303.3,426.3 303.8,428.7 304.3,430.3 304.8,430.8 305.3,431.1 305.8,431.3 306.3,431.5 306.8,431.8 307.3,432.3 307.8,433.0 308.3,433.9 308.8,434.9 309.3,436.1 309.8,437.4 310.3,438.7 310.8,440.1 311.3,441.6 311.8,443.0 312.3,444.5 312.8,445.9 313.3,447.3 313.8,448.6 314.3,449.8 314.8,450.9 315.3,451.9 315.8,452.9 316.3,453.8 316.8,454.8 317.3,455.7 317.8,456.6 318.3,457.5 318.8,458.3 319.3,459.2 319.8,460.1 320.3,460.9 320.8,461.7 321.3,462.6 321.8,463.4 322.3,464.2 322.8,465.1 323.3,465.9 323.8,466.8 324.3,467.6 324.8,468.5 325.3,469.3 325.8,470.2 326.3,471.1 326.8,472.0 327.3,472.9 327.8,473.7 328.3,474.6 328.8,475.5 329.3,476.4 329.8,477.3 330.3,478.2 330.8,479.1 331.3,479.9 331.8,480.8 332.3,481.7 332.8,482.5 333.3,483.4 333.8,484.3 334.3,485.1 334.8,485.9 335.3,486.8 335.8,487.6 336.3,488.4 336.8,489.2 337.3,490.1 337.8,490.9 338.3,491.7 338.8,492.5 339.3,493.3 339.8,494.1 340.3,494.9 340.8,495.7 341.3,496.4 341.8,497.2 342.3,498.0 342.8,498.8 343.3,499.5 343.8,500.3 344.3,501.0 344.8,501.7 345.3,502.5 345.8,503.2 346.3,503.9 346.8,504.6 347.3,505.3 347.8,506.0 348.3,506.7 348.8,507.3 349.3,508.0 349.8,508.7 350.3,509.4 350.8,510.0 351.3,510.7 351.8,511.4 352.3,512.1 352.8,512.7 353.3,513.4 353.8,514.1 354.3,514.8 354.8,515.5 355.3,516.1 355.8,516.8 356.3,517.5 356.8,518.2 357.3,518.9 357.8,519.6 358.3,520.3 358.8,520.9 359.3,521.6 359.8,522.2 360.3,522.9 360.8,523.5 361.3,524.2 361.8,524.8 362.3,525.5 362.8,526.1 363.3,526.7 363.8,527.3 364.3,528.0 364.8,528.6 365.3,529.2 365.8,529.8 366.3,530.4 366.8,530.9 367.3,531.5 367.8,532.1 368.3,532.6 368.8,533.1 369.3,533.6 369.8,534.2 370.3,534.6 370.8,535.1 371.3,535.6 371.8,536.1 372.3,536.6 372.8,537.0 373.3,537.5 373.8,537.9 374.3,538.4 374.8,538.9 375.3,539.3 375.8,539.8 376.3,540.2 376.8,540.7 377.3,541.2 377.8,541.6 378.3,542.1 378.8,542.5 379.3,543.0 379.8,543.5 380.3,543.9 380.8,544.4 381.3,544.8 381.8,545.3 382.3,545.8 382.8,546.2 383.3,546.7 383.8,547.1 384.3,547.6 384.8,548.0 385.3,548.5 385.8,548.9 386.3,549.4 386.8,549.8 387.3,550.3 387.8,550.7 388.3,551.2 388.8,551.6 389.3,552.1 389.8,552.5 390.3,552.9 390.8,553.4 391.3,553.8 391.8,554.3 392.3,554.7 392.8,555.2 393.3,555.6 393.8,556.1 394.3,556.5 394.8,556.9 395.3,557.4 395.8,557.8 396.3,558.3 396.8,558.7 397.3,559.2 397.8,559.6 398.3,560.1 398.8,560.5 399.3,560.9 399.8,561.4 400.3,561.8 400.8,562.2 401.3,562.7 401.8,563.1 402.3,563.5 402.8,563.9 403.3,564.4 403.8,564.8 404.3,565.2 404.8,565.7 405.3,566.1 405.8,566.5 406.3,567.0 406.8,567.4 407.3,567.8 407.8,568.2 408.3,568.6 408.8,569.0 409.3,569.3 409.8,569.7 410.3,570.0 410.8,570.3 411.3,570.7 411.8,571.0 412.3,571.3 412.8,571.6 413.3,571.9 413.8,572.2 414.3,572.5 414.8,572.8 415.3,573.1 415.8,573.3 416.3,573.6 416.8,573.9 417.3,574.2 417.8,574.4 418.3,574.7 418.8,574.9 419.3,575.2 419.8,575.5 420.3,575.7 420.8,576.0 421.3,576.2 421.8,576.5 422.3,576.7 422.8,577.0 423.3,577.2 423.8,577.5 424.3,577.7 424.8,578.0 425.3,578.2 425.8,578.5 426.3,578.7 426.8,578.9 427.3,579.2 427.8,579.4 428.3,579.7 428.8,579.9 429.3,580.2 429.8,580.4 430.3,580.6 430.8,580.9 431.3,581.1 431.8,581.3 432.3,581.6 432.8,581.8 433.3,582.0 433.8,582.3 434.3,582.5 434.8,582.7 435.3,583.0 435.8,583.2 436.3,583.4 436.8,583.6 437.3,583.8 437.8,584.0 438.3,584.3 438.8,584.5 439.3,584.7 439.8,584.9 440.3,585.1 440.8,585.3 441.3,585.5 441.8,585.7 442.3,585.9 442.8,586.1 443.3,586.3 443.8,586.5 444.3,586.7 444.8,586.9 445.3,587.1 445.8,587.3 446.3,587.5 446.8,587.7 447.3,587.9 447.8,588.1 448.3,588.2 448.8,588.4 449.3,588.6 449.8,588.8 450.3,589.0 450.8,589.2 451.3,589.3 451.8,589.5 452.3,589.7 452.8,589.9 453.3,590.0 453.8,590.2 454.3,590.3 454.8,590.5 455.3,590.6 455.8,590.8 456.3,590.9 456.8,591.1 457.3,591.2 457.8,591.3 458.3,591.4 458.8,591.6 459.3,591.7 459.8,591.8 460.3,591.9 460.8,592.0 461.3,592.1 461.8,592.2 462.3,592.3 462.8,592.4 463.3,592.5 463.8,592.6 464.3,592.7 464.8,592.8 465.3,592.9 465.8,593.0 466.3,593.1 466.8,593.2 467.3,593.3 467.8,593.3 468.3,593.4 468.8,593.5 469.3,593.6 469.8,593.7 470.3,593.8 470.8,593.8 471.3,593.9 471.8,594.0 472.3,594.1 472.8,594.2 473.3,594.3 473.8,594.4 474.3,594.5 474.8,594.5 475.3,594.6 475.8,594.7 476.3,594.8 476.8,594.9 477.3,595.0 477.8,595.1 478.3,595.2 478.8,595.3 479.3,595.4 479.8,595.6 480.3,595.7 480.8,595.8 481.3,595.9 481.8,596.0 482.3,596.2 482.8,596.3 483.3,596.4 483.8,596.6 484.3,596.7 484.8,596.9 485.3,597.0 485.8,597.2 486.3,597.3 486.8,597.5 487.3,597.6 487.8,597.8 488.3,597.9 488.8,598.1 489.3,598.2 489.8,598.4 490.3,598.5 490.8,598.6 491.3,598.8 491.8,598.9 492.3,599.1 492.8,599.2 493.3,599.3 493.8,599.4 494.3,599.5 494.8,599.6 495.3,599.8 495.8,599.9 496.3,600.0 496.8,600.1 497.3,600.2 497.8,600.3 498.3,600.4 498.8,600.5 499.3,600.6 499.8,600.7 500.3,600.8 500.8,600.9 501.3,601.0 501.8,601.1 502.3,601.2 502.8,601.3 503.3,601.4 503.8,601.5 504.3,601.5 504.8,601.6 505.3,601.7 505.8,601.8 506.3,601.9 506.8,602.0 507.3,602.1 507.8,602.2 508.3,602.3 508.8,602.3 509.3,602.4 509.8,602.5 510.3,602.6 510.8,602.7 511.3,602.8 511.8,602.8 512.3,602.9 512.8,603.0 513.3,603.1 513.8,603.2 514.3,603.2 514.8,603.3 515.3,603.4 515.8,603.5 516.3,603.5 516.8,603.6 517.3,603.7 517.8,603.7 518.3,603.8 518.8,603.9 519.3,604.0 519.8,604.0 520.3,604.1 520.8,604.2 521.3,604.2 521.8,604.3 522.3,604.4 522.8,604.4 523.3,604.5 523.8,604.5 524.3,604.6 524.8,604.6 525.3,604.7 525.8,604.8 526.3,604.8 526.8,604.9 527.3,604.9 527.8,605.0 528.3,605.0 528.8,605.1 529.3,605.1 529.8,605.2 530.3,605.2 530.8,605.3 531.3,605.3 531.8,605.4 532.3,605.4 532.8,605.4 533.3,605.5 533.8,605.5 534.3,605.6 534.8,605.6 535.3,605.7 535.8,605.7 536.3,605.8 536.8,605.8 537.3,605.9 537.8,606.0 538.3,606.0 538.8,606.1 539.3,606.1 539.8,606.2 540.3,606.2 540.8,606.3 541.3,606.4 541.8,606.4 542.3,606.5 542.8,606.5 543.3,606.6 543.8,606.6 544.3,606.7 544.8,606.8 545.3,606.8 545.8,606.9 546.3,606.9 546.8,607.0 547.3,607.1 547.8,607.1 548.3,607.2 548.8,607.2 549.3,607.3 549.8,607.4 550.3,607.4 550.8,607.5 551.3,607.6 551.8,607.7 552.3,607.7 552.8,607.8 553.3,607.9 553.8,608.0 554.3,608.1 554.8,608.1 555.3,608.2 555.8,608.3 556.3,608.4 556.8,608.5 557.3,608.6 557.8,608.7 558.3,608.9 558.8,609.0 559.3,609.1 559.8,609.2 560.3,609.4 560.8,609.5 561.3,609.7 561.8,609.8 562.3,610.0 562.8,610.1 563.3,610.3 563.8,610.5 564.3,610.6 564.8,610.8 565.3,611.0 565.8,611.2 566.3,611.3 566.8,611.5 567.3,611.7 567.8,611.9 568.3,612.1 568.8,612.3 569.3,612.5 569.8,612.8 570.3,613.0 570.8,613.2 571.3,613.5 571.8,613.7 572.3,614.0 572.8,614.3 573.3,614.5 573.8,614.8 574.3,615.1 574.8,615.4 575.3,615.7 575.8,616.0 576.3,616.4 576.8,616.8 577.3,617.2 577.8,617.6 578.3,618.0 578.8,618.5 579.3,619.0 579.8,619.4 580.3,619.9 580.8,620.4 581.3,620.8 581.8,621.3 582.3,621.7 582.8,622.1 583.3,622.5 583.8,622.8 584.3,623.2 584.8,623.5 585.3,623.9 585.8,624.2 586.3,624.6 586.8,624.9 587.3,625.3 587.8,625.6 588.3,625.9 588.8,626.2 589.3,626.5 589.8,626.8 590.3,627.0 590.8,627.3 591.3,627.6 591.8,627.8 592.3,628.0 592.8,628.3 593.3,628.5 593.8,628.7 594.3,628.9 594.8,629.1 595.3,629.3 595.8,629.5 596.3,629.7 596.8,629.9 597.3,630.1 597.8,630.2 598.3,630.4 598.8,630.5 599.3,630.7 599.8,630.8 600.3,631.0 600.8,631.1 601.3,631.2 601.8,631.3 602.3,631.4 602.8,631.5 603.3,631.6 603.8,631.7 604.3,631.8 604.8,631.9 605.3,632.0 605.8,632.1 606.3,632.2 606.8,632.3 607.3,632.4 607.8,632.4 608.3,632.5 608.8,632.6 609.3,632.6 609.8,632.7 610.3,632.7 610.8,632.7 611.3,632.8 611.8,632.8 612.3,632.9 612.8,632.9 613.3,632.9 613.8,633.0 614.3,633.0 614.8,633.1 615.3,633.1 615.8,633.1 616.3,633.2 616.8,633.2 617.3,633.2 617.8,633.3 618.3,633.3 618.8,633.3 619.3,633.3 619.8,633.4 620.3,633.4 620.8,633.4 621.3,633.4 621.8,633.5 622.3,633.5 622.8,633.5 623.3,633.5 623.8,633.6 624.3,633.6 624.8,633.6 625.3,633.6 625.8,633.6 626.3,633.6 626.8,633.6 627.3,633.7 627.8,633.7 628.3,633.7 628.8,633.7 629.3,633.7 629.8,633.7 630.3,633.7 630.8,633.7 631.0,633.7" fill="none" stroke="#111111" stroke-width="1.3" stroke-linejoin="round" />
<polyline points="260.8,411.7 261.3,410.6 261.8,409.8 262.3,409.5 262.8,409.7 263.3,410.1 263.8,410.7 264.3,411.5 264.8,412.5 265.3,413.5 265.8,414.7 266.3,415.9 266.8,417.2 267.3,418.4 267.8,419.7 268.3,420.9 268.8,422.0 269.3,423.0 269.8,423.9 270.3,424.7 270.8,425.2 271.3,425.5 271.8,425.6 272.3,425.0 272.8,424.0 273.3,423.4 273.8,423.4 274.3,423.6 274.8,423.9 275.3,424.3 275.8,424.8 276.3,425.3 276.8,425.9 277.3,426.6 277.8,427.2 278.3,427.9 278.8,428.5 279.3,429.1 279.8,429.7 280.3,430.2 280.8,430.6 281.3,430.9 281.8,431.1 282.3,431.2 282.8,431.2 283.3,431.2 283.8,431.2 284.3,431.1 284.8,431.1 285.3,431.1 285.8,431.0 286.3,431.0 286.8,430.9 287.3,430.9 287.8,430.8 288.3,430.7 288.8,430.7 289.3,430.6 289.8,430.5 290.3,430.4 290.8,430.3 291.3,430.2 291.8,430.1 292.3,429.8 292.8,429.3 293.3,428.6 293.8,427.9 294.3,427.2 294.8,426.6 295.3,426.0 295.8,425.7 296.3,425.6 296.8,425.8 297.3,426.2 297.8,426.7 298.3,427.2 298.8,427.9 299.3,428.8 299.8,429.7 300.3,430.8 300.8,431.9 301.3,433.0 301.8,434.2 302.3,435.4 302.8,436.6 303.3,437.8 303.8,438.9 304.3,439.9 304.8,440.9 305.3,441.7 305.8,442.5 306.3,443.2 306.8,444.0 307.3,444.7 307.8,445.3 308.3,446.0 308.8,446.7 309.3,447.4 309.8,448.2 310.3,449.0 310.8,449.8 311.3,450.8 311.8,451.8 312.3,452.8 312.8,453.8 313.3,454.8 313.8,455.8 314.3,456.8 314.8,457.9 315.3,458.9 315.8,460.0 316.3,461.0 316.8,462.1 317.3,463.1 317.8,464.2 318.3,465.2 318.8,466.2 319.3,467.3 319.8,468.2 320.3,469.2 320.8,470.1 321.3,471.0 321.8,471.9 322.3,472.8 322.8,473.6 323.3,474.5 323.8,475.3 324.3,476.1 324.8,476.9 325.3,477.7 325.8,478.4 326.3,479.2 326.8,480.0 327.3,480.8 327.8,481.6 328.3,482.3 328.8,483.1 329.3,483.9 329.8,484.8 330.3,485.6 330.8,486.4 331.3,487.3 331.8,488.1 332.3,489.0 332.8,489.8 333.3,490.7 333.8,491.5 334.3,492.4 334.8,493.2 335.3,494.1 335.8,494.9 336.3,495.8 336.8,496.6 337.3,497.4 337.8,498.3 338.3,499.1 338.8,499.9 339.3,500.7 339.8,501.5 340.3,502.2 340.8,503.0 341.3,503.8 341.8,504.5 342.3,505.3 342.8,506.0 343.3,506.8 343.8,507.5 344.3,508.3 344.8,509.0 345.3,509.7 345.8,510.4 346.3,511.2 346.8,511.9 347.3,512.6 347.8,513.3 348.3,514.0 348.8,514.7 349.3,515.4 349.8,516.1 350.3,516.9 350.8,517.6 351.3,518.3 351.8,519.0 352.3,519.7 352.8,520.4 353.3,521.1 353.8,521.8 354.3,522.5 354.8,523.2 355.3,523.8 355.8,524.5 356.3,525.2 356.8,525.9 357.3,526.5 357.8,527.2 358.3,527.8 358.8,528.5 359.3,529.1 359.8,529.8 360.3,530.4 360.8,531.0 361.3,531.6 361.8,532.2 362.3,532.8 362.8,533.4 363.3,534.0 363.8,534.6 364.3,535.2 364.8,535.8 365.3,536.3 365.8,536.9 366.3,537.4 366.8,538.0 367.3,538.5 367.8,539.1 368.3,539.6 368.8,540.1 369.3,540.6 369.8,541.1 370.3,541.6 370.8,542.1 371.3,542.6 371.8,543.1 372.3,543.5 372.8,544.0 373.3,544.5 373.8,544.9 374.3,545.4 374.8,545.8 375.3,546.3 375.8,546.8 376.3,547.2 376.8,547.7 377.3,548.2 377.8,548.6 378.3,549.1 378.8,549.5 379.3,550.0 379.8,550.5 380.3,550.9 380.8,551.4 381.3,551.8 381.8,552.3 382.3,552.7 382.8,553.2 383.3,553.6 383.8,554.1 384.3,554.5 384.8,554.9 385.3,555.4 385.8,555.8 386.3,556.2 386.8,556.6 387.3,557.1 387.8,557.5 388.3,557.9 388.8,558.3 389.3,558.8 389.8,559.2 390.3,559.6 390.8,560.0 391.3,560.4 391.8,560.8 392.3,561.2 392.8,561.6 393.3,562.0 393.8,562.4 394.3,562.8 394.8,563.2 395.3,563.6 395.8,564.0 396.3,564.4 396.8,564.8 397.3,565.1 397.8,565.5 398.3,565.9 398.8,566.3 399.3,566.7 399.8,567.0 400.3,567.4 400.8,567.8 401.3,568.1 401.8,568.5 402.3,568.8 402.8,569.2 403.3,569.5 403.8,569.9 404.3,570.2 404.8,570.6 405.3,570.9 405.8,571.3 406.3,571.6 406.8,571.9 407.3,572.3 407.8,572.6 408.3,572.9 408.8,573.2 409.3,573.5 409.8,573.8 410.3,574.1 410.8,574.3 411.3,574.6 411.8,574.9 412.3,575.1 412.8,575.4 413.3,575.6 413.8,575.9 414.3,576.1 414.8,576.4 415.3,576.6 415.8,576.8 416.3,577.1 416.8,577.3 417.3,577.5 417.8,577.8 418.3,578.0 418.8,578.2 419.3,578.4 419.8,578.6 420.3,578.9 420.8,579.1 421.3,579.3 421.8,579.5 422.3,579.7 422.8,579.9 423.3,580.2 423.8,580.4 424.3,580.6 424.8,580.8 425.3,581.0 425.8,581.3 426.3,581.5 426.8,581.7 427.3,581.9 427.8,582.2 428.3,582.4 428.8,582.6 429.3,582.8 429.8,583.1 430.3,583.3 430.8,583.5 431.3,583.7 431.8,584.0 432.3,584.2 432.8,584.4 433.3,584.6 433.8,584.9 434.3,585.1 434.8,585.3 435.3,585.5 435.8,585.7 436.3,585.9 436.8,586.1 437.3,586.4 437.8,586.6 438.3,586.8 438.8,587.0 439.3,587.2 439.8,587.4 440.3,587.5 440.8,587.7 441.3,587.9 441.8,588.1 442.3,588.3 442.8,588.5 443.3,588.6 443.8,588.8 444.3,589.0 444.8,589.2 445.3,589.3 445.8,589.5 446.3,589.7 446.8,589.8 447.3,590.0 447.8,590.1 448.3,590.3 448.8,590.5 449.3,590.6 449.8,590.8 450.3,590.9 450.8,591.1 451.3,591.2 451.8,591.4 452.3,591.5 452.8,591.7 453.3,591.8 453.8,592.0 454.3,592.1 454.8,592.2 455.3,592.4 455.8,592.5 456.3,592.6 456.8,592.8 457.3,592.9 457.8,593.0 458.3,593.1 458.8,593.3 459.3,593.4 459.8,593.5 460.3,593.6 460.8,593.7 461.3,593.8 461.8,594.0 462.3,594.1 462.8,594.2 463.3,594.3 463.8,594.4 464.3,594.5 464.8,594.6 465.3,594.7 465.8,594.8 466.3,594.9 466.8,595.0 467.3,595.1 467.8,595.2 468.3,595.3 468.8,595.4 469.3,595.5 469.8,595.6 470.3,595.7 470.8,595.8 471.3,595.9 471.8,596.0 472.3,596.1 472.8,596.2 473.3,596.3 473.8,596.4 474.3,596.5 474.8,596.5 475.3,596.6 475.8,596.7 476.3,596.8 476.8,596.9 477.3,597.0 477.8,597.1 478.3,597.2 478.8,597.3 479.3,597.5 479.8,597.6 480.3,597.7 480.8,597.8 481.3,597.9 481.8,598.0 482.3,598.1 482.8,598.2 483.3,598.3 483.8,598.4 484.3,598.6 484.8,598.7 485.3,598.8 485.8,598.9 486.3,599.0 486.8,599.1 487.3,599.3 487.8,599.4 488.3,599.5 488.8,599.6 489.3,599.7 489.8,599.8 490.3,599.9 490.8,600.0 491.3,600.1 491.8,600.2 492.3,600.4 492.8,600.5 493.3,600.6 493.8,600.6 494.3,600.7 494.8,600.8 495.3,600.9 495.8,601.0 496.3,601.1 496.8,601.2 497.3,601.3 497.8,601.4 498.3,601.5 498.8,601.6 499.3,601.6 499.8,601.7 500.3,601.8 500.8,601.9 501.3,602.0 501.8,602.1 502.3,602.2 502.8,602.3 503.3,602.3 503.8,602.4 504.3,602.5 504.8,602.6 505.3,602.7 505.8,602.7 506.3,602.8 506.8,602.9 507.3,603.0 507.8,603.1 508.3,603.1 508.8,603.2 509.3,603.3 509.8,603.4 510.3,603.5 510.8,603.5 511.3,603.6 511.8,603.7 512.3,603.7 512.8,603.8 513.3,603.9 513.8,604.0 514.3,604.0 514.8,604.1 515.3,604.2 515.8,604.2 516.3,604.3 516.8,604.4 517.3,604.4 517.8,604.5 518.3,604.6 518.8,604.6 519.3,604.7 519.8,604.8 520.3,604.8 520.8,604.9 521.3,604.9 521.8,605.0 522.3,605.0 522.8,605.1 523.3,605.2 523.8,605.2 524.3,605.3 524.8,605.3 525.3,605.4 525.8,605.4 526.3,605.4 526.8,605.5 527.3,605.5 527.8,605.6 528.3,605.6 528.8,605.7 529.3,605.7 529.8,605.7 530.3,605.8 530.8,605.8 531.3,605.9 531.8,605.9 532.3,605.9 532.8,606.0 533.3,606.0 533.8,606.1 534.3,606.1 534.8,606.2 535.3,606.2 535.8,606.3 536.3,606.3 536.8,606.3 537.3,606.4 537.8,606.5 538.3,606.5 538.8,606.6 539.3,606.6 539.8,606.7 540.3,606.7 540.8,606.8 541.3,606.9 541.8,606.9 542.3,607.0 542.8,607.0 543.3,607.1 543.8,607.2 544.3,607.2 544.8,607.3 545.3,607.3 545.8,607.4 546.3,607.5 546.8,607.5 547.3,607.6 547.8,607.7 548.3,607.7 548.8,607.8 549.3,607.9 549.8,608.0 550.3,608.0 550.8,608.1 551.3,608.2 551.8,608.3 552.3,608.4 552.8,608.5 553.3,608.5 553.8,608.6 554.3,608.7 554.8,608.8 555.3,608.9 555.8,609.0 556.3,609.1 556.8,609.3 557.3,609.4 557.8,609.5 558.3,609.6 558.8,609.7 559.3,609.9 559.8,610.0 560.3,610.1 560.8,610.3 561.3,610.4 561.8,610.6 562.3,610.7 562.8,610.9 563.3,611.2 563.8,611.4 564.3,611.7 564.8,612.0 565.3,612.3 565.8,612.7 566.3,613.0 566.8,613.4 567.3,613.7 567.8,614.1 568.3,614.5 568.8,614.9 569.3,615.2 569.8,615.6 570.3,616.0 570.8,616.3 571.3,616.7 571.8,617.2 572.3,617.6 572.8,618.0 573.3,618.5 573.8,618.9 574.3,619.3 574.8,619.8 575.3,620.2 575.8,620.7 576.3,621.1 576.8,621.6 577.3,622.0 577.8,622.4 578.3,622.8 578.8,623.2 579.3,623.7 579.8,624.1 580.3,624.5 580.8,625.0 581.3,625.4 581.8,625.8 582.3,626.2 582.8,626.6 583.3,627.0 583.8,627.4 584.3,627.7 584.8,628.1 585.3,628.4 585.8,628.6 586.3,628.9 586.8,629.1 587.3,629.3 587.8,629.4 588.3,629.6 588.8,629.8 589.3,629.9 589.8,630.1 590.3,630.2 590.8,630.4 591.3,630.5 591.8,630.6 592.3,630.8 592.8,630.9 593.3,631.0 593.8,631.1 594.3,631.2 594.8,631.3 595.3,631.4 595.8,631.5 596.3,631.6 596.8,631.7 597.3,631.8 597.8,631.9 598.3,632.0 598.8,632.1 599.3,632.2 599.8,632.3 600.3,632.4 600.8,632.5 601.3,632.6 601.8,632.7 602.3,632.8 602.8,632.8 603.3,632.9 603.8,632.9 604.3,633.0 604.8,633.0 605.3,633.0 605.8,633.1 606.3,633.1 606.8,633.1 607.3,633.1 607.8,633.1 608.3,633.2 608.8,633.2 609.3,633.2 609.8,633.2 610.3,633.3 610.8,633.3 611.3,633.3 611.8,633.3 612.3,633.3 612.8,633.4 613.3,633.4 613.8,633.4 614.3,633.4 614.8,633.4 615.3,633.4 615.8,633.5 616.3,633.5 616.8,633.5 617.3,633.5 617.8,633.5 618.3,633.5 618.8,633.5 619.3,633.6 619.8,633.6 620.3,633.6 620.8,633.6 621.3,633.6 621.8,633.6 622.3,633.6 622.8,633.6 623.3,633.6 623.8,633.6 624.3,633.7 624.8,633.7 625.3,633.7 625.8,633.7 626.3,633.7 626.8,633.7 627.3,633.7 627.8,633.7 628.3,633.7 628.8,633.7 629.3,633.7 629.8,633.7 630.3,633.7 630.8,633.7 631.0,633.7" fill="none" stroke="#ff0000" stroke-width="1.3" stroke-linejoin="round" />
<polyline points="260.8,418.9 261.3,416.7 261.8,415.1 262.3,414.1 262.8,414.0 263.3,414.7 263.8,415.9 264.3,417.5 264.8,419.1 265.3,420.5 265.8,421.6 266.3,422.6 266.8,423.6 267.3,424.5 267.8,425.5 268.3,426.5 268.8,427.3 269.3,428.1 269.8,428.8 270.3,429.4 270.8,429.8 271.3,430.0 271.8,430.1 272.3,429.6 272.8,428.7 273.3,427.8 273.8,427.3 274.3,427.3 274.8,427.4 275.3,427.6 275.8,427.7 276.3,428.0 276.8,428.3 277.3,428.6 277.8,428.9 278.3,429.2 278.8,429.6 279.3,429.9 279.8,430.3 280.3,430.6 280.8,430.9 281.3,431.1 281.8,431.4 282.3,431.6 282.8,431.7 283.3,431.8 283.8,431.9 284.3,432.0 284.8,432.1 285.3,432.2 285.8,432.3 286.3,432.4 286.8,432.5 287.3,432.6 287.8,432.6 288.3,432.7 288.8,432.7 289.3,432.8 289.8,432.8 290.3,432.8 290.8,432.8 291.3,432.7 291.8,432.5 292.3,432.3 292.8,432.0 293.3,431.7 293.8,431.4 294.3,431.0 294.8,430.7 295.3,430.5 295.8,430.3 296.3,430.1 296.8,430.1 297.3,430.3 297.8,430.7 298.3,431.2 298.8,432.0 299.3,432.9 299.8,433.9 300.3,434.9 300.8,436.1 301.3,437.3 301.8,438.4 302.3,439.6 302.8,440.7 303.3,441.8 303.8,442.7 304.3,443.6 304.8,444.5 305.3,445.3 305.8,446.2 306.3,447.0 306.8,447.9 307.3,448.7 307.8,449.5 308.3,450.3 308.8,451.1 309.3,451.9 309.8,452.7 310.3,453.4 310.8,454.2 311.3,454.9 311.8,455.6 312.3,456.3 312.8,457.1 313.3,457.8 313.8,458.5 314.3,459.2 314.8,459.9 315.3,460.7 315.8,461.4 316.3,462.1 316.8,462.9 317.3,463.6 317.8,464.4 318.3,465.1 318.8,465.9 319.3,466.6 319.8,467.4 320.3,468.1 320.8,468.9 321.3,469.7 321.8,470.5 322.3,471.3 322.8,472.1 323.3,472.9 323.8,473.7 324.3,474.5 324.8,475.4 325.3,476.2 325.8,477.0 326.3,477.9 326.8,478.7 327.3,479.6 327.8,480.4 328.3,481.3 328.8,482.1 329.3,482.9 329.8,483.8 330.3,484.6 330.8,485.4 331.3,486.3 331.8,487.1 332.3,488.0 332.8,488.8 333.3,489.7 333.8,490.6 334.3,491.4 334.8,492.3 335.3,493.1 335.8,494.0 336.3,494.8 336.8,495.6 337.3,496.5 337.8,497.3 338.3,498.1 338.8,498.9 339.3,499.7 339.8,500.5 340.3,501.2 340.8,502.0 341.3,502.8 341.8,503.5 342.3,504.3 342.8,505.0 343.3,505.8 343.8,506.5 344.3,507.3 344.8,508.0 345.3,508.7 345.8,509.4 346.3,510.2 346.8,510.9 347.3,511.6 347.8,512.3 348.3,513.0 348.8,513.7 349.3,514.4 349.8,515.1 350.3,515.9 350.8,516.6 351.3,517.3 351.8,518.0 352.3,518.7 352.8,519.4 353.3,520.1 353.8,520.8 354.3,521.5 354.8,522.2 355.3,522.8 355.8,523.5 356.3,524.2 356.8,524.9 357.3,525.5 357.8,526.2 358.3,526.8 358.8,527.5 359.3,528.1 359.8,528.8 360.3,529.4 360.8,530.0 361.3,530.6 361.8,531.2 362.3,531.8 362.8,532.4 363.3,533.0 363.8,533.6 364.3,534.2 364.8,534.8 365.3,535.3 365.8,535.9 366.3,536.4 366.8,537.0 367.3,537.5 367.8,538.1 368.3,538.6 368.8,539.1 369.3,539.6 369.8,540.1 370.3,540.6 370.8,541.1 371.3,541.6 371.8,542.1 372.3,542.5 372.8,543.0 373.3,543.5 373.8,543.9 374.3,544.4 374.8,544.8 375.3,545.3 375.8,545.8 376.3,546.2 376.8,546.7 377.3,547.2 377.8,547.6 378.3,548.1 378.8,548.5 379.3,549.0 379.8,549.5 380.3,549.9 380.8,550.4 381.3,550.8 381.8,551.3 382.3,551.7 382.8,552.2 383.3,552.6 383.8,553.1 384.3,553.5 384.8,553.9 385.3,554.4 385.8,554.8 386.3,555.2 386.8,555.6 387.3,556.1 387.8,556.5 388.3,556.9 388.8,557.3 389.3,557.8 389.8,558.2 390.3,558.6 390.8,559.0 391.3,559.4 391.8,559.8 392.3,560.2 392.8,560.6 393.3,561.0 393.8,561.4 394.3,561.8 394.8,562.2 395.3,562.6 395.8,563.0 396.3,563.4 396.8,563.8 397.3,564.2 397.8,564.5 398.3,564.9 398.8,565.3 399.3,565.7 399.8,566.0 400.3,566.4 400.8,566.8 401.3,567.1 401.8,567.5 402.3,567.8 402.8,568.2 403.3,568.5 403.8,568.9 404.3,569.2 404.8,569.5 405.3,569.9 405.8,570.2 406.3,570.5 406.8,570.9 407.3,571.2 407.8,571.5 408.3,571.8 408.8,572.1 409.3,572.4 409.8,572.7 410.3,573.0 410.8,573.2 411.3,573.5 411.8,573.8 412.3,574.1 412.8,574.3 413.3,574.6 413.8,574.8 414.3,575.1 414.8,575.3 415.3,575.6 415.8,575.8 416.3,576.1 416.8,576.3 417.3,576.6 417.8,576.8 418.3,577.0 418.8,577.3 419.3,577.5 419.8,577.7 420.3,578.0 420.8,578.2 421.3,578.4 421.8,578.6 422.3,578.9 422.8,579.1 423.3,579.3 423.8,579.5 424.3,579.8 424.8,580.0 425.3,580.2 425.8,580.5 426.3,580.7 426.8,580.9 427.3,581.1 427.8,581.4 428.3,581.6 428.8,581.8 429.3,582.0 429.8,582.3 430.3,582.5 430.8,582.7 431.3,582.9 431.8,583.2 432.3,583.4 432.8,583.6 433.3,583.8 433.8,584.1 434.3,584.3 434.8,584.5 435.3,584.7 435.8,584.9 436.3,585.1 436.8,585.3 437.3,585.5 437.8,585.7 438.3,585.9 438.8,586.1 439.3,586.3 439.8,586.5 440.3,586.7 440.8,586.9 441.3,587.1 441.8,587.3 442.3,587.5 442.8,587.7 443.3,587.8 443.8,588.0 444.3,588.2 444.8,588.4 445.3,588.6 445.8,588.7 446.3,588.9 446.8,589.1 447.3,589.2 447.8,589.4 448.3,589.6 448.8,589.7 449.3,589.9 449.8,590.1 450.3,590.2 450.8,590.4 451.3,590.6 451.8,590.7 452.3,590.9 452.8,591.0 453.3,591.2 453.8,591.3 454.3,591.5 454.8,591.6 455.3,591.7 455.8,591.9 456.3,592.0 456.8,592.2 457.3,592.3 457.8,592.4 458.3,592.6 458.8,592.7 459.3,592.8 459.8,592.9 460.3,593.1 460.8,593.2 461.3,593.3 461.8,593.4 462.3,593.5 462.8,593.6 463.3,593.7 463.8,593.9 464.3,594.0 464.8,594.1 465.3,594.2 465.8,594.3 466.3,594.4 466.8,594.5 467.3,594.6 467.8,594.7 468.3,594.8 468.8,594.9 469.3,595.0 469.8,595.1 470.3,595.2 470.8,595.3 471.3,595.4 471.8,595.5 472.3,595.6 472.8,595.7 473.3,595.8 473.8,595.9 474.3,596.0 474.8,596.1 475.3,596.2 475.8,596.3 476.3,596.4 476.8,596.5 477.3,596.6 477.8,596.7 478.3,596.8 478.8,596.9 479.3,597.1 479.8,597.2 480.3,597.3 480.8,597.4 481.3,597.5 481.8,597.6 482.3,597.7 482.8,597.8 483.3,597.9 483.8,598.0 484.3,598.1 484.8,598.2 485.3,598.4 485.8,598.5 486.3,598.6 486.8,598.7 487.3,598.8 487.8,598.9 488.3,599.0 488.8,599.1 489.3,599.2 489.8,599.3 490.3,599.4 490.8,599.5 491.3,599.6 491.8,599.8 492.3,599.9 492.8,600.0 493.3,600.1 493.8,600.1 494.3,600.2 494.8,600.3 495.3,600.4 495.8,600.5 496.3,600.6 496.8,600.7 497.3,600.8 497.8,600.9 498.3,601.0 498.8,601.1 499.3,601.2 499.8,601.2 500.3,601.3 500.8,601.4 501.3,601.5 501.8,601.6 502.3,601.7 502.8,601.8 503.3,601.9 503.8,601.9 504.3,602.0 504.8,602.1 505.3,602.2 505.8,602.3 506.3,602.4 506.8,602.4 507.3,602.5 507.8,602.6 508.3,602.7 508.8,602.8 509.3,602.9 509.8,602.9 510.3,603.0 510.8,603.1 511.3,603.2 511.8,603.3 512.3,603.3 512.8,603.4 513.3,603.5 513.8,603.6 514.3,603.6 514.8,603.7 515.3,603.8 515.8,603.9 516.3,604.0 516.8,604.0 517.3,604.1 517.8,604.2 518.3,604.3 518.8,604.3 519.3,604.4 519.8,604.5 520.3,604.6 520.8,604.6 521.3,604.7 521.8,604.8 522.3,604.9 522.8,604.9 523.3,605.0 523.8,605.1 524.3,605.2 524.8,605.2 525.3,605.3 525.8,605.4 526.3,605.4 526.8,605.5 527.3,605.6 527.8,605.7 528.3,605.7 528.8,605.8 529.3,605.9 529.8,605.9 530.3,606.0 530.8,606.1 531.3,606.1 531.8,606.2 532.3,606.3 532.8,606.3 533.3,606.4 533.8,606.5 534.3,606.5 534.8,606.6 535.3,606.7 535.8,606.7 536.3,606.8 536.8,606.9 537.3,606.9 537.8,607.0 538.3,607.1 538.8,607.1 539.3,607.2 539.8,607.3 540.3,607.3 540.8,607.4 541.3,607.5 541.8,607.5 542.3,607.6 542.8,607.6 543.3,607.7 543.8,607.7 544.3,607.8 544.8,607.8 545.3,607.9 545.8,607.9 546.3,608.0 546.8,608.0 547.3,608.1 547.8,608.1 548.3,608.2 548.8,608.3 549.3,608.3 549.8,608.4 550.3,608.4 550.8,608.5 551.3,608.6 551.8,608.6 552.3,608.7 552.8,608.8 553.3,608.8 553.8,608.9 554.3,609.0 554.8,609.1 555.3,609.2 555.8,609.3 556.3,609.4 556.8,609.5 557.3,609.7 557.8,609.9 558.3,610.1 558.8,610.3 559.3,610.5 559.8,610.7 560.3,611.0 560.8,611.3 561.3,611.6 561.8,611.9 562.3,612.2 562.8,612.5 563.3,612.8 563.8,613.1 564.3,613.5 564.8,613.8 565.3,614.2 565.8,614.6 566.3,615.0 566.8,615.5 567.3,616.0 567.8,616.5 568.3,617.1 568.8,617.6 569.3,618.2 569.8,618.7 570.3,619.3 570.8,619.8 571.3,620.3 571.8,620.8 572.3,621.2 572.8,621.6 573.3,622.0 573.8,622.4 574.3,622.8 574.8,623.2 575.3,623.6 575.8,624.0 576.3,624.3 576.8,624.7 577.3,625.0 577.8,625.4 578.3,625.7 578.8,626.0 579.3,626.3 579.8,626.6 580.3,626.9 580.8,627.2 581.3,627.5 581.8,627.7 582.3,628.0 582.8,628.3 583.3,628.5 583.8,628.8 584.3,629.0 584.8,629.3 585.3,629.5 585.8,629.8 586.3,630.0 586.8,630.2 587.3,630.4 587.8,630.6 588.3,630.8 588.8,631.0 589.3,631.2 589.8,631.3 590.3,631.5 590.8,631.6 591.3,631.7 591.8,631.8 592.3,632.0 592.8,632.1 593.3,632.2 593.8,632.3 594.3,632.4 594.8,632.5 595.3,632.6 595.8,632.7 596.3,632.8 596.8,632.8 597.3,632.9 597.8,633.0 598.3,633.0 598.8,633.1 599.3,633.1 599.8,633.2 600.3,633.2 600.8,633.2 601.3,633.2 601.8,633.2 602.3,633.3 602.8,633.3 603.3,633.3 603.8,633.3 604.3,633.3 604.8,633.3 605.3,633.4 605.8,633.4 606.3,633.4 606.8,633.4 607.3,633.4 607.8,633.4 608.3,633.4 608.8,633.4 609.3,633.5 609.8,633.5 610.3,633.5 610.8,633.5 611.3,633.5 611.8,633.5 612.3,633.5 612.8,633.5 613.3,633.5 613.8,633.5 614.3,633.6 614.8,633.6 615.3,633.6 615.8,633.6 616.3,633.6 616.8,633.6 617.3,633.6 617.8,633.6 618.3,633.6 618.8,633.6 619.3,633.6 619.8,633.6 620.3,633.6 620.8,633.6 621.3,633.7 621.8,633.7 622.3,633.7 622.8,633.7 623.3,633.7 623.8,633.7 624.3,633.7 624.8,633.7 625.3,633.7 625.8,633.7 626.3,633.7 626.8,633.7 627.3,633.7 627.8,633.7 628.3,633.7 628.8,633.7 629.3,633.7 629.8,633.7 630.3,633.7 630.8,633.7 631.0,633.7" fill="none" stroke="#008000" stroke-width="1.3" stroke-linejoin="round" />
<polyline points="260.8,407.8 261.3,404.6 261.8,403.1 262.3,404.0 262.8,406.6 263.3,408.9 263.8,410.3 264.3,411.7 264.8,413.1 265.3,414.4 265.8,415.7 266.3,416.9 266.8,418.1 267.3,419.2 267.8,420.3 268.3,421.2 268.8,422.1 269.3,422.8 269.8,423.4 270.3,423.9 270.8,424.2 271.3,424.4 271.8,424.5 272.3,423.4 272.8,421.7 273.3,420.6 273.8,420.6 274.3,420.8 274.8,421.1 275.3,421.4 275.8,421.9 276.3,422.4 276.8,422.9 277.3,423.5 277.8,424.1 278.3,424.7 278.8,425.4 279.3,426.0 279.8,426.5 280.3,427.0 280.8,427.5 281.3,427.9 281.8,428.2 282.3,428.3 282.8,428.4 283.3,428.3 283.8,427.9 284.3,427.6 284.8,427.3 285.3,427.3 285.8,427.4 286.3,427.5 286.8,427.7 287.3,427.9 287.8,428.0 288.3,428.2 288.8,428.3 289.3,428.4 289.8,428.4 290.3,428.4 290.8,428.3 291.3,428.2 291.8,428.1 292.3,428.0 292.8,427.9 293.3,427.7 293.8,427.6 294.3,427.5 294.8,427.4 295.3,427.4 295.8,427.3 296.3,427.3 296.8,427.5 297.3,427.8 297.8,428.3 298.3,429.0 298.8,429.9 299.3,431.0 299.8,432.2 300.3,433.6 300.8,435.0 301.3,436.5 301.8,438.0 302.3,439.5 302.8,440.8 303.3,442.1 303.8,443.2 304.3,444.2 304.8,445.1 305.3,445.9 305.8,446.8 306.3,447.6 306.8,448.4 307.3,449.2 307.8,450.0 308.3,450.8 308.8,451.7 309.3,452.6 309.8,453.5 310.3,454.4 310.8,455.4 311.3,456.3 311.8,457.2 312.3,458.2 312.8,459.1 313.3,460.0 313.8,460.9 314.3,461.8 314.8,462.7 315.3,463.6 315.8,464.4 316.3,465.2 316.8,466.0 317.3,466.8 317.8,467.6 318.3,468.4 318.8,469.2 319.3,470.0 319.8,470.9 320.3,471.7 320.8,472.6 321.3,473.4 321.8,474.3 322.3,475.3 322.8,476.2 323.3,477.2 323.8,478.1 324.3,479.1 324.8,480.1 325.3,481.1 325.8,482.1 326.3,483.1 326.8,484.1 327.3,485.0 327.8,486.0 328.3,486.9 328.8,487.9 329.3,488.8 329.8,489.7 330.3,490.6 330.8,491.4 331.3,492.3 331.8,493.2 332.3,494.0 332.8,494.9 333.3,495.7 333.8,496.6 334.3,497.4 334.8,498.2 335.3,499.0 335.8,499.8 336.3,500.6 336.8,501.4 337.3,502.2 337.8,503.0 338.3,503.8 338.8,504.5 339.3,505.3 339.8,506.0 340.3,506.8 340.8,507.5 341.3,508.2 341.8,508.9 342.3,509.6 342.8,510.3 343.3,511.0 343.8,511.7 344.3,512.4 344.8,513.1 345.3,513.7 345.8,514.4 346.3,515.1 346.8,515.7 347.3,516.4 347.8,517.0 348.3,517.7 348.8,518.4 349.3,519.0 349.8,519.7 350.3,520.4 350.8,521.0 351.3,521.7 351.8,522.3 352.3,523.0 352.8,523.6 353.3,524.3 353.8,524.9 354.3,525.6 354.8,526.2 355.3,526.9 355.8,527.5 356.3,528.1 356.8,528.8 357.3,529.4 357.8,530.0 358.3,530.7 358.8,531.3 359.3,531.9 359.8,532.6 360.3,533.2 360.8,533.8 361.3,534.4 361.8,535.1 362.3,535.7 362.8,536.3 363.3,536.9 363.8,537.6 364.3,538.2 364.8,538.8 365.3,539.4 365.8,540.0 366.3,540.6 366.8,541.2 367.3,541.7 367.8,542.3 368.3,542.8 368.8,543.3 369.3,543.8 369.8,544.3 370.3,544.8 370.8,545.3 371.3,545.8 371.8,546.2 372.3,546.7 372.8,547.2 373.3,547.6 373.8,548.1 374.3,548.5 374.8,548.9 375.3,549.4 375.8,549.8 376.3,550.3 376.8,550.7 377.3,551.1 377.8,551.5 378.3,552.0 378.8,552.4 379.3,552.8 379.8,553.2 380.3,553.6 380.8,554.0 381.3,554.4 381.8,554.8 382.3,555.2 382.8,555.6 383.3,556.0 383.8,556.4 384.3,556.8 384.8,557.2 385.3,557.6 385.8,558.0 386.3,558.4 386.8,558.8 387.3,559.2 387.8,559.6 388.3,560.0 388.8,560.4 389.3,560.8 389.8,561.2 390.3,561.6 390.8,562.0 391.3,562.4 391.8,562.8 392.3,563.2 392.8,563.5 393.3,563.9 393.8,564.3 394.3,564.7 394.8,565.0 395.3,565.4 395.8,565.8 396.3,566.2 396.8,566.5 397.3,566.9 397.8,567.3 398.3,567.6 398.8,568.0 399.3,568.3 399.8,568.7 400.3,569.0 400.8,569.4 401.3,569.7 401.8,570.1 402.3,570.4 402.8,570.8 403.3,571.1 403.8,571.5 404.3,571.8 404.8,572.1 405.3,572.5 405.8,572.8 406.3,573.1 406.8,573.5 407.3,573.8 407.8,574.1 408.3,574.4 408.8,574.7 409.3,575.0 409.8,575.3 410.3,575.6 410.8,575.8 411.3,576.1 411.8,576.3 412.3,576.6 412.8,576.8 413.3,577.1 413.8,577.3 414.3,577.6 414.8,577.8 415.3,578.0 415.8,578.2 416.3,578.5 416.8,578.7 417.3,578.9 417.8,579.1 418.3,579.3 418.8,579.5 419.3,579.8 419.8,580.0 420.3,580.2 420.8,580.4 421.3,580.6 421.8,580.8 422.3,581.0 422.8,581.2 423.3,581.4 423.8,581.6 424.3,581.8 424.8,582.0 425.3,582.2 425.8,582.5 426.3,582.7 426.8,582.9 427.3,583.1 427.8,583.3 428.3,583.5 428.8,583.7 429.3,583.9 429.8,584.2 430.3,584.4 430.8,584.6 431.3,584.8 431.8,585.0 432.3,585.2 432.8,585.4 433.3,585.6 433.8,585.8 434.3,586.0 434.8,586.3 435.3,586.5 435.8,586.7 436.3,586.9 436.8,587.1 437.3,587.3 437.8,587.4 438.3,587.6 438.8,587.8 439.3,588.0 439.8,588.2 440.3,588.4 440.8,588.6 441.3,588.7 441.8,588.9 442.3,589.1 442.8,589.2 443.3,589.4 443.8,589.6 444.3,589.7 444.8,589.9 445.3,590.1 445.8,590.2 446.3,590.4 446.8,590.5 447.3,590.7 447.8,590.8 448.3,591.0 448.8,591.1 449.3,591.3 449.8,591.4 450.3,591.6 450.8,591.7 451.3,591.9 451.8,592.0 452.3,592.1 452.8,592.3 453.3,592.4 453.8,592.6 454.3,592.7 454.8,592.8 455.3,593.0 455.8,593.1 456.3,593.2 456.8,593.4 457.3,593.5 457.8,593.6 458.3,593.8 458.8,593.9 459.3,594.0 459.8,594.1 460.3,594.3 460.8,594.4 461.3,594.5 461.8,594.7 462.3,594.8 462.8,594.9 463.3,595.0 463.8,595.1 464.3,595.3 464.8,595.4 465.3,595.5 465.8,595.6 466.3,595.7 466.8,595.9 467.3,596.0 467.8,596.1 468.3,596.2 468.8,596.3 469.3,596.5 469.8,596.6 470.3,596.7 470.8,596.8 471.3,596.9 471.8,597.0 472.3,597.1 472.8,597.2 473.3,597.4 473.8,597.5 474.3,597.6 474.8,597.7 475.3,597.8 475.8,597.9 476.3,598.0 476.8,598.1 477.3,598.2 477.8,598.3 478.3,598.4 478.8,598.5 479.3,598.7 479.8,598.8 480.3,598.9 480.8,599.0 481.3,599.1 481.8,599.2 482.3,599.3 482.8,599.4 483.3,599.5 483.8,599.6 484.3,599.7 484.8,599.8 485.3,599.9 485.8,600.0 486.3,600.1 486.8,600.2 487.3,600.3 487.8,600.4 488.3,600.5 488.8,600.6 489.3,600.7 489.8,600.7 490.3,600.8 490.8,600.9 491.3,601.0 491.8,601.1 492.3,601.2 492.8,601.3 493.3,601.4 493.8,601.5 494.3,601.5 494.8,601.6 495.3,601.7 495.8,601.8 496.3,601.9 496.8,602.0 497.3,602.0 497.8,602.1 498.3,602.2 498.8,602.3 499.3,602.4 499.8,602.4 500.3,602.5 500.8,602.6 501.3,602.7 501.8,602.7 502.3,602.8 502.8,602.9 503.3,603.0 503.8,603.0 504.3,603.1 504.8,603.2 505.3,603.3 505.8,603.3 506.3,603.4 506.8,603.5 507.3,603.5 507.8,603.6 508.3,603.7 508.8,603.8 509.3,603.8 509.8,603.9 510.3,604.0 510.8,604.0 511.3,604.1 511.8,604.2 512.3,604.2 512.8,604.3 513.3,604.4 513.8,604.5 514.3,604.5 514.8,604.6 515.3,604.7 515.8,604.8 516.3,604.8 516.8,604.9 517.3,605.0 517.8,605.1 518.3,605.1 518.8,605.2 519.3,605.3 519.8,605.4 520.3,605.4 520.8,605.5 521.3,605.6 521.8,605.7 522.3,605.8 522.8,605.8 523.3,605.9 523.8,606.0 524.3,606.1 524.8,606.2 525.3,606.3 525.8,606.4 526.3,606.5 526.8,606.6 527.3,606.6 527.8,606.7 528.3,606.8 528.8,606.9 529.3,607.0 529.8,607.1 530.3,607.2 530.8,607.3 531.3,607.4 531.8,607.5 532.3,607.6 532.8,607.7 533.3,607.8 533.8,607.8 534.3,607.9 534.8,608.0 535.3,608.1 535.8,608.2 536.3,608.3 536.8,608.4 537.3,608.5 537.8,608.5 538.3,608.6 538.8,608.7 539.3,608.8 539.8,608.9 540.3,608.9 540.8,609.0 541.3,609.1 541.8,609.2 542.3,609.2 542.8,609.3 543.3,609.3 543.8,609.4 544.3,609.4 544.8,609.5 545.3,609.5 545.8,609.6 546.3,609.6 546.8,609.7 547.3,609.8 547.8,609.8 548.3,609.9 548.8,609.9 549.3,610.0 549.8,610.0 550.3,610.1 550.8,610.2 551.3,610.2 551.8,610.3 552.3,610.4 552.8,610.4 553.3,610.5 553.8,610.6 554.3,610.7 554.8,610.8 555.3,610.9 555.8,611.0 556.3,611.1 556.8,611.3 557.3,611.4 557.8,611.6 558.3,611.9 558.8,612.1 559.3,612.4 559.8,612.7 560.3,613.0 560.8,613.4 561.3,613.7 561.8,614.1 562.3,614.5 562.8,614.8 563.3,615.2 563.8,615.6 564.3,616.0 564.8,616.4 565.3,616.8 565.8,617.2 566.3,617.6 566.8,618.0 567.3,618.3 567.8,618.7 568.3,619.1 568.8,619.5 569.3,619.9 569.8,620.4 570.3,620.8 570.8,621.2 571.3,621.7 571.8,622.1 572.3,622.5 572.8,623.0 573.3,623.4 573.8,623.8 574.3,624.2 574.8,624.5 575.3,624.9 575.8,625.2 576.3,625.6 576.8,625.9 577.3,626.2 577.8,626.5 578.3,626.9 578.8,627.2 579.3,627.5 579.8,627.8 580.3,628.1 580.8,628.4 581.3,628.6 581.8,628.9 582.3,629.2 582.8,629.4 583.3,629.6 583.8,629.9 584.3,630.1 584.8,630.3 585.3,630.5 585.8,630.6 586.3,630.8 586.8,631.0 587.3,631.2 587.8,631.3 588.3,631.5 588.8,631.6 589.3,631.8 589.8,631.9 590.3,632.1 590.8,632.2 591.3,632.3 591.8,632.4 592.3,632.5 592.8,632.6 593.3,632.6 593.8,632.7 594.3,632.7 594.8,632.7 595.3,632.8 595.8,632.8 596.3,632.8 596.8,632.9 597.3,632.9 597.8,632.9 598.3,632.9 598.8,633.0 599.3,633.0 599.8,633.0 600.3,633.0 600.8,633.1 601.3,633.1 601.8,633.1 602.3,633.1 602.8,633.1 603.3,633.2 603.8,633.2 604.3,633.2 604.8,633.2 605.3,633.2 605.8,633.3 606.3,633.3 606.8,633.3 607.3,633.3 607.8,633.3 608.3,633.3 608.8,633.4 609.3,633.4 609.8,633.4 610.3,633.4 610.8,633.4 611.3,633.4 611.8,633.5 612.3,633.5 612.8,633.5 613.3,633.5 613.8,633.5 614.3,633.5 614.8,633.5 615.3,633.5 615.8,633.5 616.3,633.6 616.8,633.6 617.3,633.6 617.8,633.6 618.3,633.6 618.8,633.6 619.3,633.6 619.8,633.6 620.3,633.6 620.8,633.6 621.3,633.6 621.8,633.6 622.3,633.7 622.8,633.7 623.3,633.7 623.8,633.7 624.3,633.7 624.8,633.7 625.3,633.7 625.8,633.7 626.3,633.7 626.8,633.7 627.3,633.7 627.8,633.7 628.3,633.7 628.8,633.7 629.3,633.7 629.8,633.7 630.3,633.7 630.8,633.7 631.0,633.7" fill="none" stroke="#0000ff" stroke-width="1.3" stroke-linejoin="round" />
<polyline points="260.8,413.4 261.3,411.8 261.8,410.4 262.3,410.0 262.8,410.1 263.3,410.4 263.8,410.9 264.3,411.4 264.8,412.1 265.3,412.9 265.8,413.8 266.3,414.8 266.8,415.7 267.3,416.8 267.8,417.8 268.3,418.8 268.8,419.9 269.3,420.8 269.8,421.8 270.3,422.6 270.8,423.4 271.3,424.1 271.8,424.6 272.3,425.1 272.8,425.6 273.3,426.0 273.8,426.5 274.3,426.9 274.8,427.3 275.3,427.8 275.8,428.2 276.3,428.5 276.8,428.9 277.3,429.3 277.8,429.6 278.3,430.0 278.8,430.3 279.3,430.6 279.8,431.0 280.3,431.3 280.8,431.6 281.3,431.9 281.8,432.2 282.3,432.5 282.8,432.8 283.3,433.1 283.8,433.4 284.3,433.6 284.8,433.8 285.3,434.1 285.8,434.3 286.3,434.5 286.8,434.8 287.3,435.0 287.8,435.3 288.3,435.5 288.8,435.8 289.3,436.1 289.8,436.4 290.3,436.7 290.8,437.0 291.3,437.4 291.8,437.7 292.3,438.0 292.8,438.3 293.3,438.6 293.8,438.9 294.3,439.2 294.8,439.5 295.3,439.7 295.8,440.0 296.3,440.3 296.8,440.7 297.3,441.2 297.8,441.8 298.3,442.5 298.8,443.3 299.3,444.1 299.8,445.0 300.3,446.0 300.8,447.0 301.3,447.9 301.8,448.9 302.3,449.8 302.8,450.7 303.3,451.5 303.8,452.3 304.3,453.1 304.8,453.9 305.3,454.7 305.8,455.5 306.3,456.3 306.8,457.1 307.3,457.9 307.8,458.7 308.3,459.5 308.8,460.3 309.3,461.1 309.8,462.0 310.3,462.9 310.8,463.8 311.3,464.7 311.8,465.6 312.3,466.6 312.8,467.5 313.3,468.5 313.8,469.5 314.3,470.5 314.8,471.6 315.3,472.6 315.8,473.7 316.3,474.9 316.8,476.0 317.3,477.2 317.8,478.4 318.3,479.6 318.8,480.8 319.3,482.0 319.8,483.1 320.3,484.2 320.8,485.2 321.3,486.3 321.8,487.3 322.3,488.3 322.8,489.3 323.3,490.3 323.8,491.3 324.3,492.3 324.8,493.3 325.3,494.2 325.8,495.2 326.3,496.1 326.8,497.0 327.3,497.9 327.8,498.8 328.3,499.7 328.8,500.6 329.3,501.4 329.8,502.3 330.3,503.1 330.8,503.9 331.3,504.7 331.8,505.4 332.3,506.2 332.8,506.9 333.3,507.6 333.8,508.3 334.3,509.1 334.8,509.8 335.3,510.5 335.8,511.2 336.3,511.9 336.8,512.6 337.3,513.3 337.8,514.1 338.3,514.8 338.8,515.6 339.3,516.4 339.8,517.2 340.3,518.0 340.8,518.9 341.3,519.7 341.8,520.6 342.3,521.5 342.8,522.3 343.3,523.2 343.8,524.1 344.3,525.0 344.8,525.9 345.3,526.7 345.8,527.6 346.3,528.4 346.8,529.2 347.3,530.0 347.8,530.9 348.3,531.7 348.8,532.5 349.3,533.3 349.8,534.1 350.3,534.9 350.8,535.7 351.3,536.5 351.8,537.2 352.3,538.0 352.8,538.7 353.3,539.4 353.8,540.1 354.3,540.7 354.8,541.4 355.3,542.1 355.8,542.7 356.3,543.3 356.8,544.0 357.3,544.6 357.8,545.1 358.3,545.7 358.8,546.3 359.3,546.8 359.8,547.3 360.3,547.8 360.8,548.3 361.3,548.8 361.8,549.2 362.3,549.7 362.8,550.1 363.3,550.6 363.8,551.0 364.3,551.4 364.8,551.9 365.3,552.3 365.8,552.7 366.3,553.1 366.8,553.6 367.3,554.0 367.8,554.5 368.3,554.9 368.8,555.4 369.3,555.8 369.8,556.3 370.3,556.7 370.8,557.2 371.3,557.6 371.8,558.1 372.3,558.5 372.8,559.0 373.3,559.4 373.8,559.9 374.3,560.3 374.8,560.8 375.3,561.2 375.8,561.6 376.3,562.0 376.8,562.5 377.3,562.9 377.8,563.3 378.3,563.7 378.8,564.2 379.3,564.6 379.8,565.0 380.3,565.4 380.8,565.8 381.3,566.2 381.8,566.6 382.3,567.0 382.8,567.4 383.3,567.7 383.8,568.1 384.3,568.5 384.8,568.8 385.3,569.2 385.8,569.5 386.3,569.9 386.8,570.2 387.3,570.5 387.8,570.9 388.3,571.2 388.8,571.5 389.3,571.8 389.8,572.1 390.3,572.5 390.8,572.8 391.3,573.1 391.8,573.3 392.3,573.6 392.8,573.9 393.3,574.2 393.8,574.4 394.3,574.7 394.8,575.0 395.3,575.2 395.8,575.4 396.3,575.7 396.8,575.9 397.3,576.2 397.8,576.4 398.3,576.6 398.8,576.9 399.3,577.1 399.8,577.4 400.3,577.7 400.8,577.9 401.3,578.2 401.8,578.5 402.3,578.7 402.8,579.0 403.3,579.3 403.8,579.6 404.3,579.9 404.8,580.2 405.3,580.5 405.8,580.7 406.3,581.0 406.8,581.3 407.3,581.6 407.8,581.8 408.3,582.1 408.8,582.3 409.3,582.6 409.8,582.8 410.3,583.0 410.8,583.3 411.3,583.5 411.8,583.7 412.3,583.9 412.8,584.1 413.3,584.3 413.8,584.5 414.3,584.7 414.8,584.9 415.3,585.1 415.8,585.3 416.3,585.5 416.8,585.7 417.3,585.9 417.8,586.1 418.3,586.2 418.8,586.4 419.3,586.6 419.8,586.8 420.3,587.0 420.8,587.1 421.3,587.3 421.8,587.5 422.3,587.7 422.8,587.8 423.3,588.0 423.8,588.2 424.3,588.3 424.8,588.5 425.3,588.7 425.8,588.9 426.3,589.0 426.8,589.2 427.3,589.4 427.8,589.6 428.3,589.7 428.8,589.9 429.3,590.1 429.8,590.2 430.3,590.4 430.8,590.6 431.3,590.7 431.8,590.9 432.3,591.0 432.8,591.2 433.3,591.4 433.8,591.5 434.3,591.7 434.8,591.9 435.3,592.0 435.8,592.2 436.3,592.3 436.8,592.5 437.3,592.6 437.8,592.8 438.3,592.9 438.8,593.1 439.3,593.2 439.8,593.4 440.3,593.6 440.8,593.7 441.3,593.9 441.8,594.0 442.3,594.1 442.8,594.3 443.3,594.4 443.8,594.6 444.3,594.7 444.8,594.9 445.3,595.0 445.8,595.2 446.3,595.3 446.8,595.5 447.3,595.6 447.8,595.8 448.3,595.9 448.8,596.0 449.3,596.2 449.8,596.3 450.3,596.5 450.8,596.6 451.3,596.7 451.8,596.9 452.3,597.0 452.8,597.1 453.3,597.3 453.8,597.4 454.3,597.5 454.8,597.7 455.3,597.8 455.8,597.9 456.3,598.1 456.8,598.2 457.3,598.3 457.8,598.4 458.3,598.5 458.8,598.7 459.3,598.8 459.8,598.9 460.3,599.0 460.8,599.1 461.3,599.3 461.8,599.4 462.3,599.5 462.8,599.6 463.3,599.7 463.8,599.8 464.3,599.9 464.8,600.1 465.3,600.2 465.8,600.3 466.3,600.4 466.8,600.5 467.3,600.6 467.8,600.7 468.3,600.8 468.8,600.9 469.3,601.0 469.8,601.2 470.3,601.3 470.8,601.4 471.3,601.5 471.8,601.6 472.3,601.7 472.8,601.8 473.3,601.9 473.8,602.0 474.3,602.1 474.8,602.2 475.3,602.3 475.8,602.4 476.3,602.5 476.8,602.6 477.3,602.7 477.8,602.8 478.3,602.9 478.8,603.0 479.3,603.1 479.8,603.2 480.3,603.3 480.8,603.4 481.3,603.4 481.8,603.5 482.3,603.6 482.8,603.7 483.3,603.8 483.8,603.9 484.3,604.0 484.8,604.1 485.3,604.2 485.8,604.3 486.3,604.4 486.8,604.4 487.3,604.5 487.8,604.6 488.3,604.7 488.8,604.8 489.3,604.9 489.8,605.0 490.3,605.0 490.8,605.1 491.3,605.2 491.8,605.3 492.3,605.4 492.8,605.4 493.3,605.5 493.8,605.6 494.3,605.7 494.8,605.7 495.3,605.8 495.8,605.9 496.3,605.9 496.8,606.0 497.3,606.1 497.8,606.1 498.3,606.2 498.8,606.3 499.3,606.3 499.8,606.4 500.3,606.5 500.8,606.5 501.3,606.6 501.8,606.7 502.3,606.7 502.8,606.8 503.3,606.8 503.8,606.9 504.3,607.0 504.8,607.0 505.3,607.1 505.8,607.1 506.3,607.2 506.8,607.2 507.3,607.3 507.8,607.4 508.3,607.4 508.8,607.5 509.3,607.5 509.8,607.6 510.3,607.6 510.8,607.7 511.3,607.8 511.8,607.8 512.3,607.9 512.8,607.9 513.3,608.0 513.8,608.1 514.3,608.1 514.8,608.2 515.3,608.2 515.8,608.3 516.3,608.4 516.8,608.4 517.3,608.5 517.8,608.5 518.3,608.6 518.8,608.7 519.3,608.7 519.8,608.8 520.3,608.9 520.8,608.9 521.3,609.0 521.8,609.1 522.3,609.2 522.8,609.2 523.3,609.3 523.8,609.4 524.3,609.4 524.8,609.5 525.3,609.6 525.8,609.7 526.3,609.7 526.8,609.8 527.3,609.9 527.8,610.0 528.3,610.0 528.8,610.1 529.3,610.2 529.8,610.3 530.3,610.4 530.8,610.4 531.3,610.5 531.8,610.6 532.3,610.7 532.8,610.8 533.3,610.9 533.8,610.9 534.3,611.0 534.8,611.1 535.3,611.2 535.8,611.3 536.3,611.4 536.8,611.5 537.3,611.6 537.8,611.7 538.3,611.8 538.8,611.9 539.3,612.0 539.8,612.1 540.3,612.2 540.8,612.3 541.3,612.4 541.8,612.5 542.3,612.6 542.8,612.7 543.3,612.8 543.8,612.9 544.3,613.0 544.8,613.1 545.3,613.2 545.8,613.3 546.3,613.4 546.8,613.6 547.3,613.7 547.8,613.8 548.3,614.0 548.8,614.1 549.3,614.3 549.8,614.5 550.3,614.6 550.8,614.8 551.3,615.0 551.8,615.2 552.3,615.5 552.8,615.7 553.3,616.0 553.8,616.3 554.3,616.6 554.8,616.9 555.3,617.2 555.8,617.6 556.3,617.9 556.8,618.3 557.3,618.7 557.8,619.0 558.3,619.4 558.8,619.8 559.3,620.1 559.8,620.5 560.3,620.9 560.8,621.3 561.3,621.8 561.8,622.2 562.3,622.7 562.8,623.2 563.3,623.6 563.8,624.1 564.3,624.6 564.8,625.0 565.3,625.4 565.8,625.8 566.3,626.2 566.8,626.6 567.3,626.9 567.8,627.2 568.3,627.5 568.8,627.8 569.3,628.1 569.8,628.3 570.3,628.6 570.8,628.8 571.3,629.1 571.8,629.3 572.3,629.5 572.8,629.8 573.3,630.0 573.8,630.2 574.3,630.4 574.8,630.6 575.3,630.8 575.8,631.0 576.3,631.2 576.8,631.4 577.3,631.6 577.8,631.8 578.3,632.0 578.8,632.1 579.3,632.3 579.8,632.5 580.3,632.6 580.8,632.8 581.3,632.9 581.8,633.0 582.3,633.1 582.8,633.2 583.3,633.2 583.8,633.2 584.3,633.3 584.8,633.3 585.3,633.4 585.8,633.4 586.3,633.4 586.8,633.5 587.3,633.5 587.8,633.5 588.3,633.6 588.8,633.6 589.3,633.6 589.8,633.6 590.3,633.7 590.8,633.7 591.3,633.7 591.8,633.7 592.3,633.7 592.8,633.8 593.3,633.8 593.8,633.8 594.3,633.8 594.8,633.8 595.3,633.8 595.8,633.9 596.3,633.9 596.8,633.9 597.3,633.9 597.8,633.9 598.3,633.9 598.8,633.9 599.3,633.9 599.8,633.9 600.3,633.9 600.8,633.9 601.3,633.9 601.8,633.9 602.3,633.9 602.8,633.9 603.3,633.9 603.8,633.9 604.3,633.9 604.8,633.9 605.3,633.9 605.8,633.9 606.3,633.9 606.8,633.9 607.3,633.9 607.8,633.9 608.3,633.9 608.8,633.9 609.3,633.9 609.8,633.9 610.3,633.9 610.8,633.9 611.3,633.9 611.8,633.9 612.3,633.9 612.8,633.9 613.3,633.9 613.8,633.9 614.3,633.9 614.8,633.9 615.3,633.9 615.8,633.9 616.3,633.9 616.8,633.9 617.3,633.9 617.8,633.9 618.3,633.9 618.8,633.9 619.3,633.9 619.8,633.9 620.3,633.9 620.8,633.9 621.3,633.9 621.8,633.9 622.3,633.9 622.8,633.9 623.3,633.9 623.8,633.9 624.3,633.9 624.8,633.9 625.3,633.9 625.8,633.9 626.3,633.9 626.8,633.9 627.3,633.9 627.8,633.9 628.3,633.9 628.8,633.9 629.3,633.9 629.8,633.9 630.3,633.9 630.8,633.9 631.0,633.9" fill="none" stroke="#800000" stroke-width="1.3" stroke-linejoin="round" />
<polyline points="260.8,440.6 261.3,441.0 261.8,441.4 262.3,441.7 262.8,442.1 263.3,442.5 263.8,443.0 264.3,443.4 264.8,443.8 265.3,444.3 265.8,444.7 266.3,445.2 266.8,445.8 267.3,446.3 267.8,446.8 268.3,447.4 268.8,447.9 269.3,448.4 269.8,448.8 270.3,449.3 270.8,449.7 271.3,450.0 271.8,450.3 272.3,450.7 272.8,451.0 273.3,451.2 273.8,451.5 274.3,451.8 274.8,452.1 275.3,452.5 275.8,452.8 276.3,453.2 276.8,453.6 277.3,454.1 277.8,454.5 278.3,455.0 278.8,455.5 279.3,456.0 279.8,456.5 280.3,457.0 280.8,457.5 281.3,457.9 281.8,458.4 282.3,458.8 282.8,459.2 283.3,459.6 283.8,459.9 284.3,460.3 284.8,460.6 285.3,460.9 285.8,461.2 286.3,461.5 286.8,461.8 287.3,462.0 287.8,462.3 288.3,462.6 288.8,462.9 289.3,463.1 289.8,463.4 290.3,463.7 290.8,463.9 291.3,464.2 291.8,464.5 292.3,464.8 292.8,465.1 293.3,465.5 293.8,465.8 294.3,466.1 294.8,466.5 295.3,466.9 295.8,467.3 296.3,467.7 296.8,468.2 297.3,468.7 297.8,469.2 298.3,469.7 298.8,470.2 299.3,470.7 299.8,471.3 300.3,471.9 300.8,472.4 301.3,473.0 301.8,473.6 302.3,474.1 302.8,474.7 303.3,475.3 303.8,475.9 304.3,476.4 304.8,477.0 305.3,477.5 305.8,478.1 306.3,478.6 306.8,479.1 307.3,479.7 307.8,480.2 308.3,480.7 308.8,481.3 309.3,481.8 309.8,482.4 310.3,482.9 310.8,483.5 311.3,484.1 311.8,484.7 312.3,485.3 312.8,485.9 313.3,486.5 313.8,487.1 314.3,487.8 314.8,488.4 315.3,489.1 315.8,489.8 316.3,490.4 316.8,491.1 317.3,491.8 317.8,492.5 318.3,493.2 318.8,493.9 319.3,494.6 319.8,495.3 320.3,496.0 320.8,496.7 321.3,497.4 321.8,498.2 322.3,498.9 322.8,499.6 323.3,500.3 323.8,501.1 324.3,501.8 324.8,502.6 325.3,503.3 325.8,504.1 326.3,504.9 326.8,505.6 327.3,506.4 327.8,507.2 328.3,508.1 328.8,508.9 329.3,509.7 329.8,510.6 330.3,511.4 330.8,512.3 331.3,513.2 331.8,514.1 332.3,515.0 332.8,516.0 333.3,517.0 333.8,518.0 334.3,519.0 334.8,520.2 335.3,521.4 335.8,522.7 336.3,524.1 336.8,525.6 337.3,527.1 337.8,528.6 338.3,530.2 338.8,531.7 339.3,533.2 339.8,534.7 340.3,536.1 340.8,537.4 341.3,538.6 341.8,539.6 342.3,540.7 342.8,541.6 343.3,542.6 343.8,543.5 344.3,544.3 344.8,545.2 345.3,546.0 345.8,546.8 346.3,547.6 346.8,548.5 347.3,549.3 347.8,550.1 348.3,550.9 348.8,551.8 349.3,552.6 349.8,553.3 350.3,554.0 350.8,554.7 351.3,555.3 351.8,555.9 352.3,556.4 352.8,556.9 353.3,557.4 353.8,557.8 354.3,558.2 354.8,558.6 355.3,559.0 355.8,559.4 356.3,559.8 356.8,560.1 357.3,560.5 357.8,560.9 358.3,561.2 358.8,561.6 359.3,562.0 359.8,562.3 360.3,562.6 360.8,563.0 361.3,563.3 361.8,563.7 362.3,564.0 362.8,564.3 363.3,564.7 363.8,565.0 364.3,565.4 364.8,565.7 365.3,566.1 365.8,566.5 366.3,566.9 366.8,567.4 367.3,567.8 367.8,568.2 368.3,568.7 368.8,569.1 369.3,569.6 369.8,570.0 370.3,570.5 370.8,570.9 371.3,571.4 371.8,571.8 372.3,572.2 372.8,572.7 373.3,573.1 373.8,573.5 374.3,574.0 374.8,574.4 375.3,574.9 375.8,575.3 376.3,575.7 376.8,576.2 377.3,576.6 377.8,577.0 378.3,577.4 378.8,577.8 379.3,578.2 379.8,578.6 380.3,579.0 380.8,579.5 381.3,579.9 381.8,580.2 382.3,580.6 382.8,581.0 383.3,581.4 383.8,581.7 384.3,582.1 384.8,582.4 385.3,582.7 385.8,583.0 386.3,583.3 386.8,583.5 387.3,583.8 387.8,584.1 388.3,584.3 388.8,584.6 389.3,584.8 389.8,585.1 390.3,585.3 390.8,585.5 391.3,585.8 391.8,586.0 392.3,586.2 392.8,586.4 393.3,586.7 393.8,586.9 394.3,587.1 394.8,587.3 395.3,587.5 395.8,587.7 396.3,587.8 396.8,588.0 397.3,588.2 397.8,588.4 398.3,588.6 398.8,588.7 399.3,588.9 399.8,589.1 400.3,589.3 400.8,589.5 401.3,589.7 401.8,589.9 402.3,590.1 402.8,590.3 403.3,590.5 403.8,590.7 404.3,590.9 404.8,591.1 405.3,591.4 405.8,591.6 406.3,591.8 406.8,592.0 407.3,592.2 407.8,592.4 408.3,592.6 408.8,592.8 409.3,592.9 409.8,593.1 410.3,593.3 410.8,593.5 411.3,593.7 411.8,593.8 412.3,594.0 412.8,594.2 413.3,594.4 413.8,594.5 414.3,594.7 414.8,594.9 415.3,595.0 415.8,595.2 416.3,595.4 416.8,595.5 417.3,595.7 417.8,595.9 418.3,596.0 418.8,596.2 419.3,596.4 419.8,596.5 420.3,596.7 420.8,596.8 421.3,597.0 421.8,597.1 422.3,597.3 422.8,597.5 423.3,597.6 423.8,597.8 424.3,597.9 424.8,598.1 425.3,598.2 425.8,598.4 426.3,598.5 426.8,598.7 427.3,598.8 427.8,599.0 428.3,599.1 428.8,599.3 429.3,599.4 429.8,599.6 430.3,599.7 430.8,599.9 431.3,600.0 431.8,600.1 432.3,600.3 432.8,600.4 433.3,600.6 433.8,600.7 434.3,600.9 434.8,601.0 435.3,601.1 435.8,601.3 436.3,601.4 436.8,601.5 437.3,601.7 437.8,601.8 438.3,601.9 438.8,602.1 439.3,602.2 439.8,602.3 440.3,602.4 440.8,602.6 441.3,602.7 441.8,602.8 442.3,602.9 442.8,603.0 443.3,603.1 443.8,603.3 444.3,603.4 444.8,603.5 445.3,603.6 445.8,603.7 446.3,603.8 446.8,603.9 447.3,604.0 447.8,604.1 448.3,604.3 448.8,604.4 449.3,604.5 449.8,604.6 450.3,604.7 450.8,604.8 451.3,604.9 451.8,605.0 452.3,605.1 452.8,605.2 453.3,605.2 453.8,605.3 454.3,605.4 454.8,605.5 455.3,605.6 455.8,605.7 456.3,605.8 456.8,605.9 457.3,605.9 457.8,606.0 458.3,606.1 458.8,606.2 459.3,606.2 459.8,606.3 460.3,606.4 460.8,606.4 461.3,606.5 461.8,606.6 462.3,606.6 462.8,606.7 463.3,606.8 463.8,606.8 464.3,606.9 464.8,606.9 465.3,607.0 465.8,607.1 466.3,607.1 466.8,607.2 467.3,607.2 467.8,607.3 468.3,607.3 468.8,607.4 469.3,607.4 469.8,607.5 470.3,607.6 470.8,607.6 471.3,607.7 471.8,607.7 472.3,607.8 472.8,607.8 473.3,607.9 473.8,608.0 474.3,608.0 474.8,608.1 475.3,608.1 475.8,608.2 476.3,608.3 476.8,608.3 477.3,608.4 477.8,608.5 478.3,608.5 478.8,608.6 479.3,608.7 479.8,608.8 480.3,608.8 480.8,608.9 481.3,609.0 481.8,609.1 482.3,609.2 482.8,609.3 483.3,609.4 483.8,609.5 484.3,609.6 484.8,609.8 485.3,609.9 485.8,610.0 486.3,610.1 486.8,610.2 487.3,610.3 487.8,610.4 488.3,610.6 488.8,610.7 489.3,610.8 489.8,610.9 490.3,611.0 490.8,611.1 491.3,611.2 491.8,611.3 492.3,611.4 492.8,611.5 493.3,611.6 493.8,611.7 494.3,611.8 494.8,611.8 495.3,611.9 495.8,612.0 496.3,612.0 496.8,612.1 497.3,612.2 497.8,612.2 498.3,612.3 498.8,612.3 499.3,612.4 499.8,612.4 500.3,612.5 500.8,612.5 501.3,612.6 501.8,612.6 502.3,612.7 502.8,612.7 503.3,612.8 503.8,612.8 504.3,612.9 504.8,612.9 505.3,613.0 505.8,613.0 506.3,613.0 506.8,613.1 507.3,613.1 507.8,613.2 508.3,613.2 508.8,613.3 509.3,613.3 509.8,613.3 510.3,613.4 510.8,613.4 511.3,613.5 511.8,613.5 512.3,613.5 512.8,613.6 513.3,613.6 513.8,613.7 514.3,613.7 514.8,613.8 515.3,613.8 515.8,613.9 516.3,613.9 516.8,614.0 517.3,614.0 517.8,614.1 518.3,614.1 518.8,614.2 519.3,614.3 519.8,614.3 520.3,614.4 520.8,614.5 521.3,614.5 521.8,614.6 522.3,614.7 522.8,614.7 523.3,614.8 523.8,614.9 524.3,615.0 524.8,615.0 525.3,615.1 525.8,615.2 526.3,615.3 526.8,615.4 527.3,615.5 527.8,615.5 528.3,615.6 528.8,615.7 529.3,615.8 529.8,615.9 530.3,616.0 530.8,616.1 531.3,616.3 531.8,616.4 532.3,616.5 532.8,616.6 533.3,616.7 533.8,616.9 534.3,617.0 534.8,617.1 535.3,617.2 535.8,617.4 536.3,617.5 536.8,617.7 537.3,617.9 537.8,618.0 538.3,618.2 538.8,618.4 539.3,618.6 539.8,618.8 540.3,619.1 540.8,619.3 541.3,619.5 541.8,619.8 542.3,620.0 542.8,620.2 543.3,620.5 543.8,620.8 544.3,621.0 544.8,621.3 545.3,621.6 545.8,622.0 546.3,622.3 546.8,622.6 547.3,623.0 547.8,623.3 548.3,623.6 548.8,623.9 549.3,624.2 549.8,624.5 550.3,624.8 550.8,625.0 551.3,625.3 551.8,625.5 552.3,625.8 552.8,626.1 553.3,626.3 553.8,626.6 554.3,626.8 554.8,627.1 555.3,627.3 555.8,627.6 556.3,627.9 556.8,628.1 557.3,628.4 557.8,628.8 558.3,629.1 558.8,629.4 559.3,629.7 559.8,630.1 560.3,630.4 560.8,630.7 561.3,631.0 561.8,631.3 562.3,631.5 562.8,631.7 563.3,631.9 563.8,632.1 564.3,632.2 564.8,632.4 565.3,632.5 565.8,632.6 566.3,632.8 566.8,632.9 567.3,633.0 567.8,633.1 568.3,633.2 568.8,633.3 569.3,633.4 569.8,633.4 570.3,633.5 570.8,633.6 571.3,633.6 571.8,633.7 572.3,633.7 572.8,633.7 573.3,633.7 573.8,633.8 574.3,633.8 574.8,633.8 575.3,633.8 575.8,633.9 576.3,633.9 576.8,633.9 577.3,633.9 577.8,634.0 578.3,634.0 578.8,634.0 579.3,634.0 579.8,634.0 580.3,634.1 580.8,634.1 581.3,634.1 581.8,634.1 582.3,634.1 582.8,634.1 583.3,634.1 583.8,634.2 584.3,634.2 584.8,634.2 585.3,634.2 585.8,634.2 586.3,634.2 586.8,634.2 587.3,634.2 587.8,634.2 588.3,634.3 588.8,634.3 589.3,634.3 589.8,634.3 590.3,634.3 590.8,634.3 591.3,634.3 591.8,634.3 592.3,634.3 592.8,634.3 593.3,634.3 593.8,634.3 594.3,634.3 594.8,634.3 595.3,634.3 595.8,634.3 596.3,634.3 596.8,634.3 597.3,634.3 597.8,634.3 598.3,634.3 598.8,634.3 599.3,634.3 599.8,634.3 600.3,634.3 600.8,634.3 601.3,634.3 601.8,634.3 602.3,634.3 602.8,634.3 603.3,634.3 603.8,634.3 604.3,634.3 604.8,634.3 605.3,634.3 605.8,634.3 606.3,634.3 606.8,634.3 607.3,634.3 607.8,634.3 608.3,634.3 608.8,634.3 609.3,634.3 609.8,634.3 610.3,634.3 610.8,634.3 611.3,634.3 611.8,634.3 612.3,634.3 612.8,634.3 613.3,634.3 613.8,634.3 614.3,634.3 614.8,634.3 615.3,634.3 615.8,634.3 616.3,634.3 616.8,634.3 617.3,634.3 617.8,634.2 618.3,634.2 618.8,634.2 619.3,634.2 619.8,634.2 620.3,634.2 620.8,634.2 621.3,634.2 621.8,634.2 622.3,634.2 622.8,634.2 623.3,634.2 623.8,634.2 624.3,634.2 624.8,634.2 625.3,634.2 625.8,634.2 626.3,634.2 626.8,634.2 627.3,634.2 627.8,634.1 628.3,634.1 628.8,634.1 629.3,634.1 629.8,634.1 630.3,634.1 630.8,634.1 631.0,634.1" fill="none" stroke="#ff00ff" stroke-width="1.3" stroke-linejoin="round" />
<rect x="259.70" y="374.00" width="1.50" height="272.50" fill="#111"/>
<rect x="260.50" y="373.60" width="371.00" height="1.40" fill="#777"/>
<rect x="630.60" y="374.00" width="1.20" height="272.50" fill="#777"/>
<rect x="259.70" y="645.30" width="372.00" height="1.40" fill="#222"/>
<line x1="260.50" y1="646.00" x2="260.50" y2="640.50" stroke="#222" stroke-width="1"/>
<line x1="283.67" y1="646.00" x2="283.67" y2="642.80" stroke="#222" stroke-width="1"/>
<line x1="306.83" y1="646.00" x2="306.83" y2="640.50" stroke="#222" stroke-width="1"/>
<line x1="330.00" y1="646.00" x2="330.00" y2="642.80" stroke="#222" stroke-width="1"/>
<line x1="353.17" y1="646.00" x2="353.17" y2="640.50" stroke="#222" stroke-width="1"/>
<line x1="376.34" y1="646.00" x2="376.34" y2="642.80" stroke="#222" stroke-width="1"/>
<line x1="399.50" y1="646.00" x2="399.50" y2="640.50" stroke="#222" stroke-width="1"/>
<line x1="422.67" y1="646.00" x2="422.67" y2="642.80" stroke="#222" stroke-width="1"/>
<line x1="445.84" y1="646.00" x2="445.84" y2="640.50" stroke="#222" stroke-width="1"/>
<line x1="469.01" y1="646.00" x2="469.01" y2="642.80" stroke="#222" stroke-width="1"/>
<line x1="492.17" y1="646.00" x2="492.17" y2="640.50" stroke="#222" stroke-width="1"/>
<line x1="515.34" y1="646.00" x2="515.34" y2="642.80" stroke="#222" stroke-width="1"/>
<line x1="538.51" y1="646.00" x2="538.51" y2="640.50" stroke="#222" stroke-width="1"/>
<line x1="561.68" y1="646.00" x2="561.68" y2="642.80" stroke="#222" stroke-width="1"/>
<line x1="584.85" y1="646.00" x2="584.85" y2="640.50" stroke="#222" stroke-width="1"/>
<line x1="608.01" y1="646.00" x2="608.01" y2="642.80" stroke="#222" stroke-width="1"/>
<line x1="631.18" y1="646.00" x2="631.18" y2="640.50" stroke="#222" stroke-width="1"/>
<text x="260.50" y="661.30" font-size="10.8" text-anchor="middle" fill="#444" font-family="Liberation Sans, sans-serif" >450</text>
<text x="306.83" y="661.30" font-size="10.8" text-anchor="middle" fill="#444" font-family="Liberation Sans, sans-serif" >500</text>
<text x="353.17" y="661.30" font-size="10.8" text-anchor="middle" fill="#444" font-family="Liberation Sans, sans-serif" >550</text>
<text x="399.50" y="661.30" font-size="10.8" text-anchor="middle" fill="#444" font-family="Liberation Sans, sans-serif" >600</text>
<text x="445.84" y="661.30" font-size="10.8" text-anchor="middle" fill="#444" font-family="Liberation Sans, sans-serif" >650</text>
<text x="492.17" y="661.30" font-size="10.8" text-anchor="middle" fill="#444" font-family="Liberation Sans, sans-serif" >700</text>
<text x="538.51" y="661.30" font-size="10.8" text-anchor="middle" fill="#444" font-family="Liberation Sans, sans-serif" >750</text>
<text x="584.85" y="661.30" font-size="10.8" text-anchor="middle" fill="#444" font-family="Liberation Sans, sans-serif" >800</text>
<text x="631.18" y="661.30" font-size="10.8" text-anchor="middle" fill="#444" font-family="Liberation Sans, sans-serif" >850</text>
<text x="446.20" y="682.10" font-size="13.6" text-anchor="middle" fill="#333" font-family="Liberation Sans, sans-serif" >wavelength (nm)</text>
<text transform="translate(235.3,514) rotate(-90)" font-size="13.4" text-anchor="middle" fill="#333" font-family="Liberation Sans, sans-serif">Absorbance (a.u)</text>
<line x1="497.20" y1="398.00" x2="528.00" y2="398.00" stroke="#111111" stroke-width="1.5"/>
<text x="532.00" y="403.00" font-size="13.5" text-anchor="start" fill="#2a2a2a" font-family="Liberation Sans, sans-serif" >0.01-FAPbBr<tspan font-size="8.2" dx="0.5" dy="5.4">3</tspan></text>
<line x1="497.20" y1="419.10" x2="528.00" y2="419.10" stroke="#ff0000" stroke-width="1.5"/>
<text x="532.00" y="424.10" font-size="13.5" text-anchor="start" fill="#2a2a2a" font-family="Liberation Sans, sans-serif" >0.03-FAPbBr<tspan font-size="8.2" dx="0.5" dy="5.4">3</tspan></text>
<line x1="497.20" y1="440.20" x2="528.00" y2="440.20" stroke="#008000" stroke-width="1.5"/>
<text x="532.00" y="445.20" font-size="13.5" text-anchor="start" fill="#2a2a2a" font-family="Liberation Sans, sans-serif" >0.05-FAPbBr<tspan font-size="8.2" dx="0.5" dy="5.4">3</tspan></text>
<line x1="497.20" y1="461.30" x2="528.00" y2="461.30" stroke="#0000ff" stroke-width="1.5"/>
<text x="532.00" y="466.30" font-size="13.5" text-anchor="start" fill="#2a2a2a" font-family="Liberation Sans, sans-serif" >0.07-FAPbBr<tspan font-size="8.2" dx="0.5" dy="5.4">3</tspan></text>
<line x1="497.20" y1="482.40" x2="528.00" y2="482.40" stroke="#800000" stroke-width="1.5"/>
<text x="532.00" y="487.40" font-size="13.5" text-anchor="start" fill="#2a2a2a" font-family="Liberation Sans, sans-serif" >0.10-FAPbBr<tspan font-size="8.2" dx="0.5" dy="5.4">3</tspan></text>
<line x1="497.20" y1="503.50" x2="528.00" y2="503.50" stroke="#ff00ff" stroke-width="1.5"/>
<text x="532.00" y="508.50" font-size="13.5" text-anchor="start" fill="#2a2a2a" font-family="Liberation Sans, sans-serif" >0.15-FAPbBr<tspan font-size="8.2" dx="0.5" dy="5.4">3</tspan></text>
<text x="430.20" y="708.20" font-size="15.5" text-anchor="middle" fill="#222" font-family="Liberation Serif, serif" >(<tspan font-weight="bold">c</tspan>)</text>
</svg></body></html>
